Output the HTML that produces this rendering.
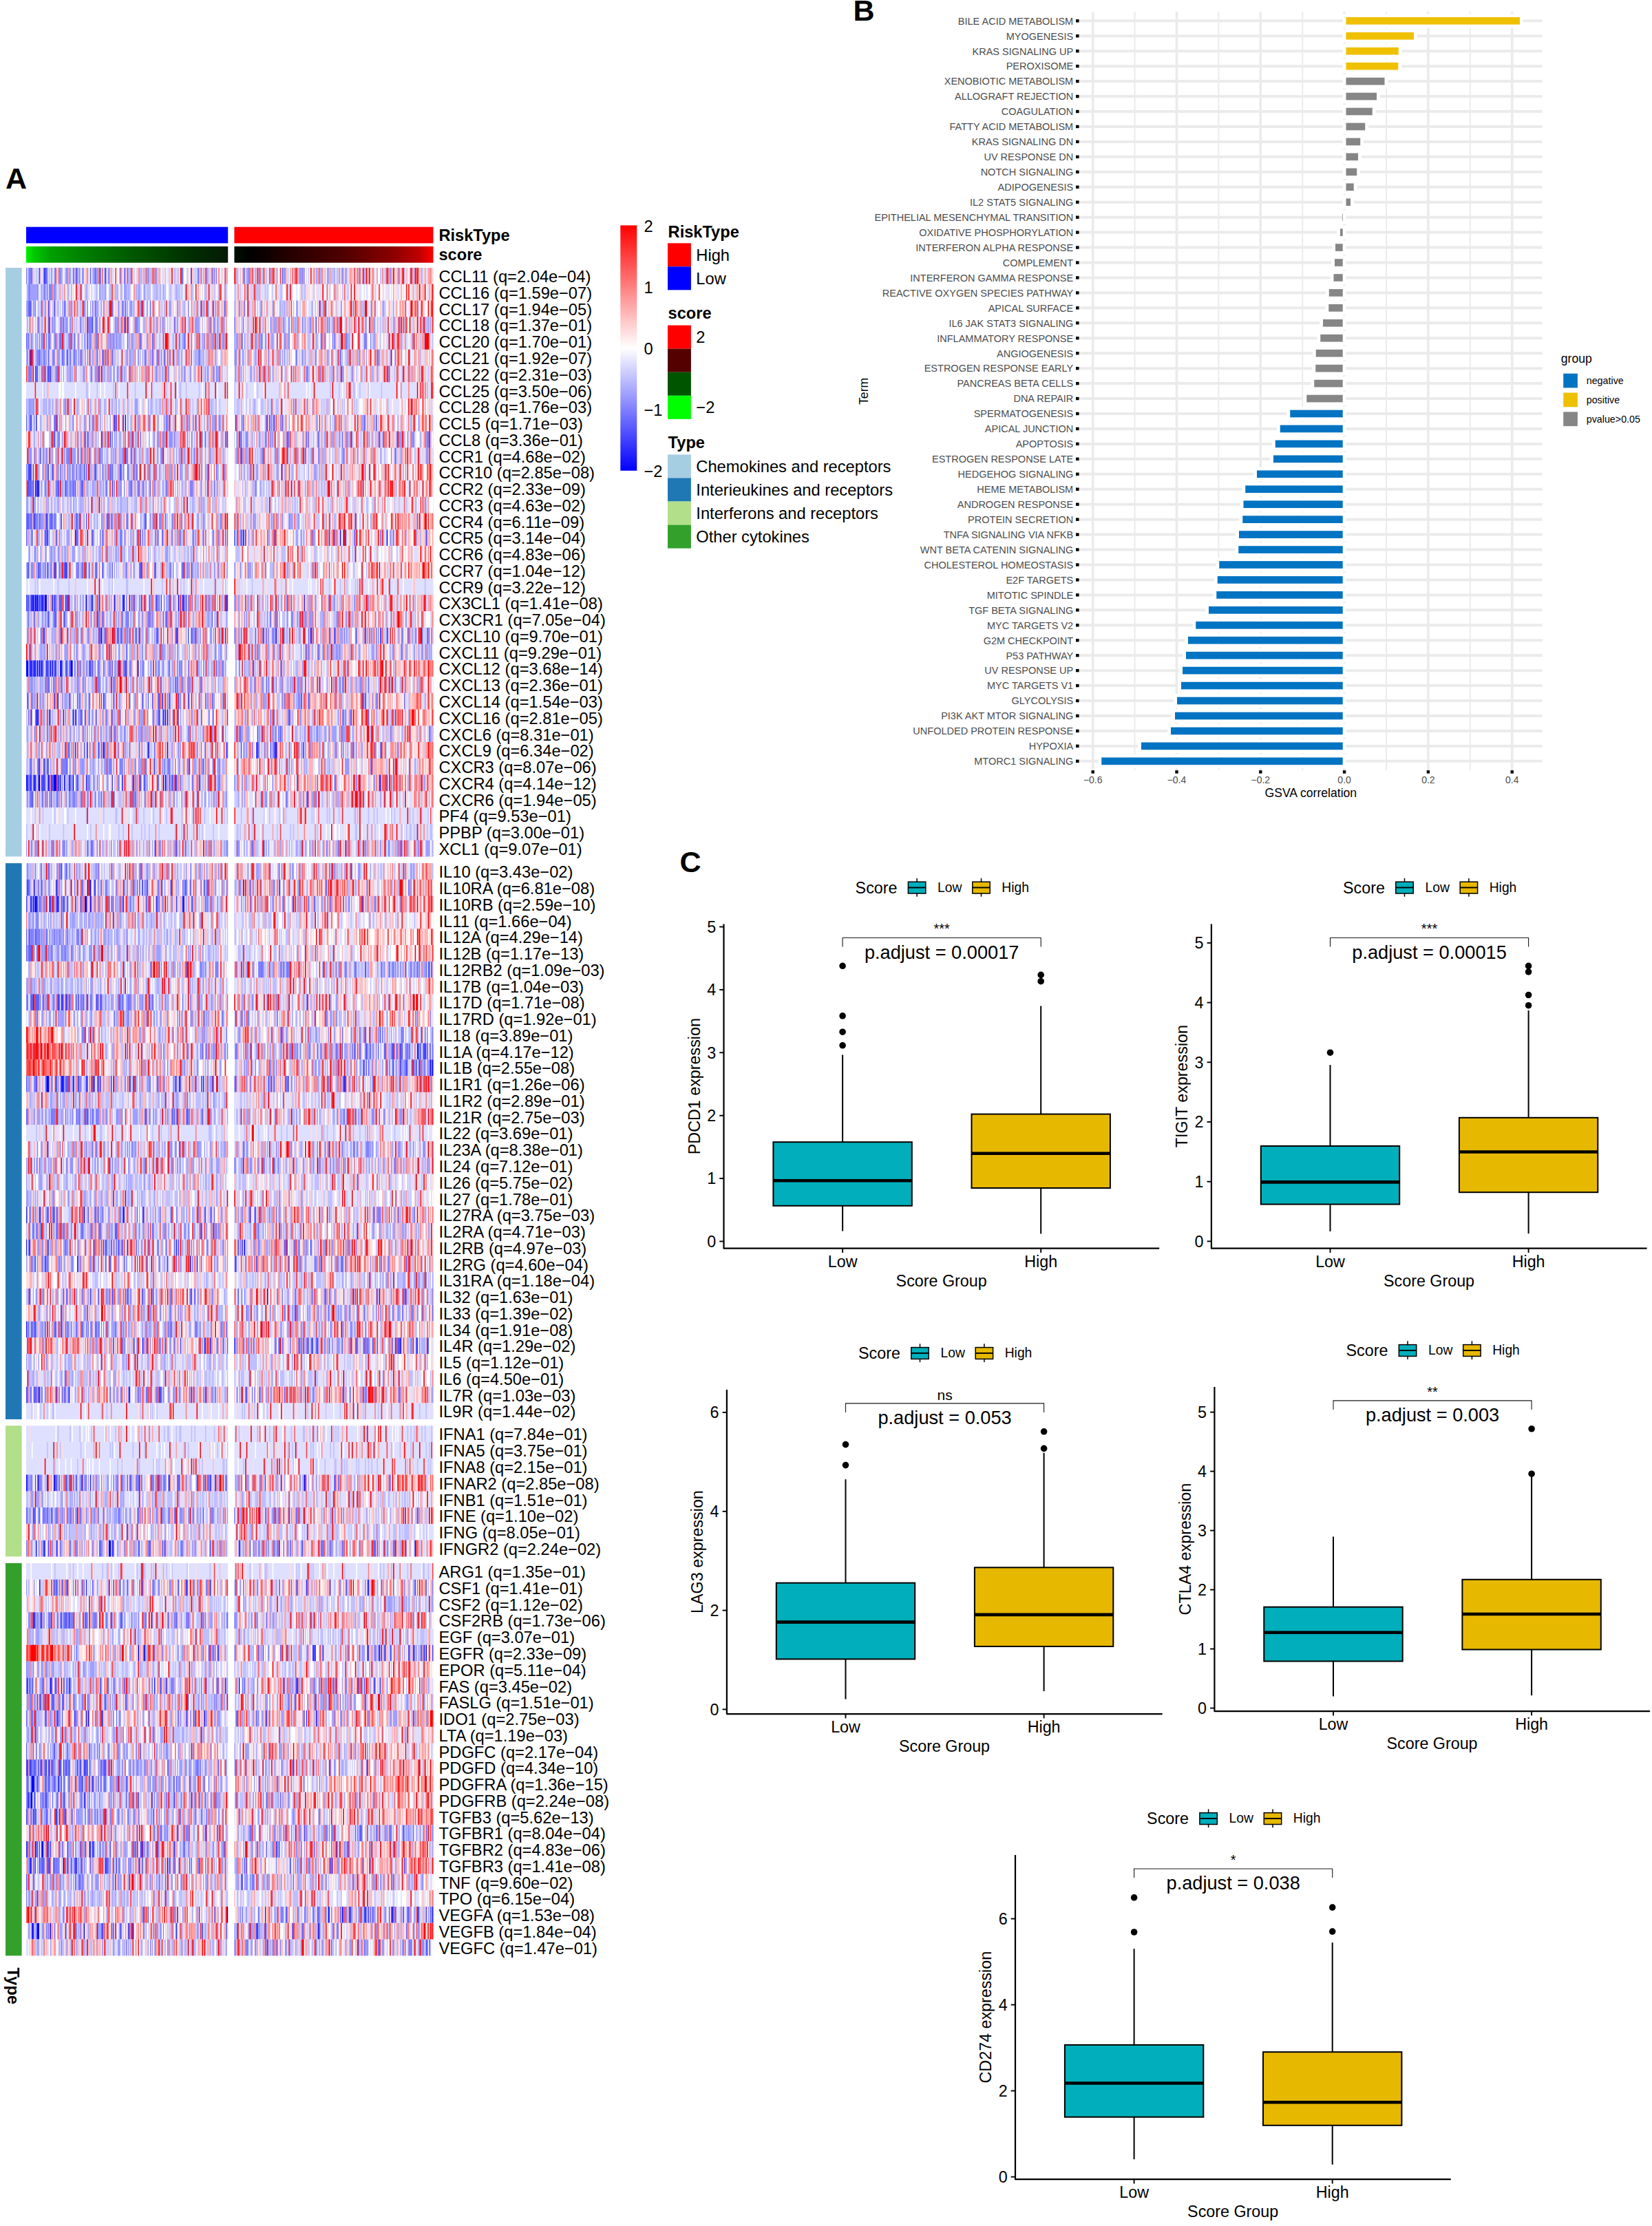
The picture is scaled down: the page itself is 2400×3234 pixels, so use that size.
<!DOCTYPE html>
<html><head><meta charset="utf-8"><title>Figure</title>
<style>
html,body{margin:0;padding:0;background:#fff}
body{width:2400px;height:3234px;overflow:hidden}
svg{display:block;font-family:"Liberation Sans",Arial,Helvetica,sans-serif;fill:#000}
</style></head><body>
<svg width="2400" height="3234" viewBox="0 0 2400 3234">
<defs>
<linearGradient id="gsl" x1="0" x2="1" y1="0" y2="0"><stop offset="0" stop-color="#00f000"/><stop offset="0.04" stop-color="#00c800"/><stop offset="0.12" stop-color="#00a000"/><stop offset="0.3" stop-color="#007c00"/><stop offset="0.55" stop-color="#005400"/><stop offset="0.8" stop-color="#003000"/><stop offset="1" stop-color="#061a06"/></linearGradient>
<linearGradient id="gsr" x1="0" x2="1" y1="0" y2="0"><stop offset="0" stop-color="#001000"/><stop offset="0.08" stop-color="#000000"/><stop offset="0.3" stop-color="#2a0000"/><stop offset="0.55" stop-color="#500000"/><stop offset="0.8" stop-color="#8c0000"/><stop offset="0.93" stop-color="#c00000"/><stop offset="1" stop-color="#ff0000"/></linearGradient>
<linearGradient id="gcb" x1="0" x2="0" y1="0" y2="1"><stop offset="0" stop-color="#ff0000"/><stop offset="0.5" stop-color="#ffffff"/><stop offset="1" stop-color="#0000ff"/></linearGradient>
</defs>
<g id="panelA">
<text x="8" y="274" font-size="43" font-weight="bold">A</text>
<rect x="38" y="329.7" width="293.2" height="23.7" fill="#0000ff"/>
<rect x="340.4" y="329.7" width="289.1" height="23.7" fill="#ff0000"/>
<rect x="38" y="358" width="293.2" height="23.7" fill="url(#gsl)"/>
<rect x="340.4" y="358" width="289.1" height="23.7" fill="url(#gsr)"/>
<text x="637.5" y="349.6" font-size="23.6" font-weight="bold">RiskType</text>
<text x="637.5" y="378" font-size="23.6" font-weight="bold">score</text>
<rect x="8" y="389" width="23.6" height="855.43" fill="#a6cee3"/>
<rect x="38" y="389" width="293.2" height="23.81" fill="#bfbfff"/>
<rect x="340.4" y="389" width="289.1" height="23.81" fill="#bfbfff"/>
<text x="637.5" y="410.18" font-size="23.7">CCL11 (q=2.04e−04)</text>
<rect x="38" y="412.76" width="293.2" height="23.81" fill="#dfdfff"/>
<rect x="340.4" y="412.76" width="289.1" height="23.81" fill="#dfdfff"/>
<text x="637.5" y="433.94" font-size="23.7">CCL16 (q=1.59e−07)</text>
<text x="637.5" y="457.7" font-size="23.7">CCL17 (q=1.94e−05)</text>
<rect x="38" y="460.29" width="293.2" height="23.81" fill="#bfbfff"/>
<rect x="340.4" y="460.29" width="289.1" height="23.81" fill="#bfbfff"/>
<text x="637.5" y="481.47" font-size="23.7">CCL18 (q=1.37e−01)</text>
<rect x="38" y="484.05" width="293.2" height="23.81" fill="#bfbfff"/>
<rect x="340.4" y="484.05" width="289.1" height="23.81" fill="#bfbfff"/>
<text x="637.5" y="505.23" font-size="23.7">CCL20 (q=1.70e−01)</text>
<rect x="38" y="507.81" width="293.2" height="23.81" fill="#bfbfff"/>
<rect x="340.4" y="507.81" width="289.1" height="23.81" fill="#bfbfff"/>
<text x="637.5" y="528.99" font-size="23.7">CCL21 (q=1.92e−07)</text>
<rect x="38" y="531.57" width="293.2" height="23.81" fill="#bfbfff"/>
<rect x="340.4" y="531.57" width="289.1" height="23.81" fill="#bfbfff"/>
<text x="637.5" y="552.75" font-size="23.7">CCL22 (q=2.31e−03)</text>
<rect x="38" y="555.33" width="293.2" height="23.81" fill="#dfdfff"/>
<rect x="340.4" y="555.33" width="289.1" height="23.81" fill="#dfdfff"/>
<text x="637.5" y="576.51" font-size="23.7">CCL25 (q=3.50e−06)</text>
<rect x="38" y="579.1" width="293.2" height="23.81" fill="#dfdfff"/>
<rect x="340.4" y="579.1" width="289.1" height="23.81" fill="#dfdfff"/>
<text x="637.5" y="600.28" font-size="23.7">CCL28 (q=1.76e−03)</text>
<text x="637.5" y="624.04" font-size="23.7">CCL5 (q=1.71e−03)</text>
<rect x="38" y="626.62" width="293.2" height="23.81" fill="#9f9fff"/>
<rect x="340.4" y="626.62" width="289.1" height="23.81" fill="#9f9fff"/>
<text x="637.5" y="647.8" font-size="23.7">CCL8 (q=3.36e−01)</text>
<rect x="38" y="650.38" width="293.2" height="23.81" fill="#9f9fff"/>
<rect x="340.4" y="650.38" width="289.1" height="23.81" fill="#9f9fff"/>
<text x="637.5" y="671.56" font-size="23.7">CCR1 (q=4.68e−02)</text>
<rect x="38" y="674.14" width="293.2" height="23.81" fill="#dfdfff"/>
<rect x="340.4" y="674.14" width="289.1" height="23.81" fill="#dfdfff"/>
<text x="637.5" y="695.32" font-size="23.7">CCR10 (q=2.85e−08)</text>
<rect x="38" y="697.91" width="293.2" height="23.81" fill="#bfbfff"/>
<rect x="340.4" y="697.91" width="289.1" height="23.81" fill="#bfbfff"/>
<text x="637.5" y="719.09" font-size="23.7">CCR2 (q=2.33e−09)</text>
<rect x="38" y="721.67" width="293.2" height="23.81" fill="#bfbfff"/>
<rect x="340.4" y="721.67" width="289.1" height="23.81" fill="#bfbfff"/>
<text x="637.5" y="742.85" font-size="23.7">CCR3 (q=4.63e−02)</text>
<rect x="38" y="745.43" width="293.2" height="23.81" fill="#dfdfff"/>
<rect x="340.4" y="745.43" width="289.1" height="23.81" fill="#dfdfff"/>
<text x="637.5" y="766.61" font-size="23.7">CCR4 (q=6.11e−09)</text>
<text x="637.5" y="790.37" font-size="23.7">CCR5 (q=3.14e−04)</text>
<rect x="38" y="792.95" width="293.2" height="23.81" fill="#dfdfff"/>
<rect x="340.4" y="792.95" width="289.1" height="23.81" fill="#dfdfff"/>
<text x="637.5" y="814.13" font-size="23.7">CCR6 (q=4.83e−06)</text>
<text x="637.5" y="837.9" font-size="23.7">CCR7 (q=1.04e−12)</text>
<rect x="38" y="840.48" width="293.2" height="23.81" fill="#dfdfff"/>
<rect x="340.4" y="840.48" width="289.1" height="23.81" fill="#dfdfff"/>
<text x="637.5" y="861.66" font-size="23.7">CCR9 (q=3.22e−12)</text>
<rect x="38" y="864.24" width="293.2" height="23.81" fill="#bfbfff"/>
<rect x="340.4" y="864.24" width="289.1" height="23.81" fill="#bfbfff"/>
<text x="637.5" y="885.42" font-size="23.7">CX3CL1 (q=1.41e−08)</text>
<rect x="38" y="888" width="293.2" height="23.81" fill="#bfbfff"/>
<rect x="340.4" y="888" width="289.1" height="23.81" fill="#bfbfff"/>
<text x="637.5" y="909.18" font-size="23.7">CX3CR1 (q=7.05e−04)</text>
<rect x="38" y="911.76" width="293.2" height="23.81" fill="#9f9fff"/>
<rect x="340.4" y="911.76" width="289.1" height="23.81" fill="#9f9fff"/>
<text x="637.5" y="932.94" font-size="23.7">CXCL10 (q=9.70e−01)</text>
<rect x="38" y="935.53" width="293.2" height="23.81" fill="#bfbfff"/>
<rect x="340.4" y="935.53" width="289.1" height="23.81" fill="#bfbfff"/>
<text x="637.5" y="956.71" font-size="23.7">CXCL11 (q=9.29e−01)</text>
<rect x="38" y="959.29" width="293.2" height="23.81" fill="#dfdfff"/>
<rect x="340.4" y="959.29" width="289.1" height="23.81" fill="#dfdfff"/>
<text x="637.5" y="980.47" font-size="23.7">CXCL12 (q=3.68e−14)</text>
<rect x="38" y="983.05" width="293.2" height="23.81" fill="#9f9fff"/>
<rect x="340.4" y="983.05" width="289.1" height="23.81" fill="#9f9fff"/>
<text x="637.5" y="1004.23" font-size="23.7">CXCL13 (q=2.36e−01)</text>
<text x="637.5" y="1027.99" font-size="23.7">CXCL14 (q=1.54e−03)</text>
<rect x="38" y="1030.57" width="293.2" height="23.81" fill="#ffdfdf"/>
<rect x="340.4" y="1030.57" width="289.1" height="23.81" fill="#ffdfdf"/>
<text x="637.5" y="1051.76" font-size="23.7">CXCL16 (q=2.81e−05)</text>
<rect x="38" y="1054.34" width="293.2" height="23.81" fill="#9f9fff"/>
<rect x="340.4" y="1054.34" width="289.1" height="23.81" fill="#9f9fff"/>
<text x="637.5" y="1075.52" font-size="23.7">CXCL6 (q=8.31e−01)</text>
<rect x="38" y="1078.1" width="293.2" height="23.81" fill="#dfdfff"/>
<rect x="340.4" y="1078.1" width="289.1" height="23.81" fill="#dfdfff"/>
<text x="637.5" y="1099.28" font-size="23.7">CXCL9 (q=6.34e−02)</text>
<rect x="38" y="1101.86" width="293.2" height="23.81" fill="#dfdfff"/>
<rect x="340.4" y="1101.86" width="289.1" height="23.81" fill="#dfdfff"/>
<text x="637.5" y="1123.04" font-size="23.7">CXCR3 (q=8.07e−06)</text>
<rect x="38" y="1125.62" width="293.2" height="23.81" fill="#dfdfff"/>
<rect x="340.4" y="1125.62" width="289.1" height="23.81" fill="#dfdfff"/>
<text x="637.5" y="1146.8" font-size="23.7">CXCR4 (q=4.14e−12)</text>
<rect x="38" y="1149.38" width="293.2" height="23.81" fill="#9f9fff"/>
<rect x="340.4" y="1149.38" width="289.1" height="23.81" fill="#9f9fff"/>
<text x="637.5" y="1170.57" font-size="23.7">CXCR6 (q=1.94e−05)</text>
<rect x="38" y="1173.15" width="293.2" height="23.81" fill="#dfdfff"/>
<rect x="340.4" y="1173.15" width="289.1" height="23.81" fill="#dfdfff"/>
<text x="637.5" y="1194.33" font-size="23.7">PF4 (q=9.53e−01)</text>
<rect x="38" y="1196.91" width="293.2" height="23.81" fill="#dfdfff"/>
<rect x="340.4" y="1196.91" width="289.1" height="23.81" fill="#dfdfff"/>
<text x="637.5" y="1218.09" font-size="23.7">PPBP (q=3.00e−01)</text>
<rect x="38" y="1220.67" width="293.2" height="23.81" fill="#9f9fff"/>
<rect x="340.4" y="1220.67" width="289.1" height="23.81" fill="#9f9fff"/>
<text x="637.5" y="1241.85" font-size="23.7">XCL1 (q=9.07e−01)</text>
<rect x="8" y="1254.1" width="23.6" height="807.91" fill="#1f78b4"/>
<rect x="38" y="1254.1" width="293.2" height="23.81" fill="#dfdfff"/>
<rect x="340.4" y="1254.1" width="289.1" height="23.81" fill="#dfdfff"/>
<text x="637.5" y="1275.28" font-size="23.7">IL10 (q=3.43e−02)</text>
<rect x="38" y="1277.86" width="293.2" height="23.81" fill="#dfdfff"/>
<rect x="340.4" y="1277.86" width="289.1" height="23.81" fill="#dfdfff"/>
<text x="637.5" y="1299.04" font-size="23.7">IL10RA (q=6.81e−08)</text>
<rect x="38" y="1301.62" width="293.2" height="23.81" fill="#bfbfff"/>
<rect x="340.4" y="1301.62" width="289.1" height="23.81" fill="#bfbfff"/>
<text x="637.5" y="1322.8" font-size="23.7">IL10RB (q=2.59e−10)</text>
<rect x="38" y="1325.39" width="293.2" height="23.81" fill="#bfbfff"/>
<rect x="340.4" y="1325.39" width="289.1" height="23.81" fill="#bfbfff"/>
<text x="637.5" y="1346.57" font-size="23.7">IL11 (q=1.66e−04)</text>
<text x="637.5" y="1370.33" font-size="23.7">IL12A (q=4.29e−14)</text>
<rect x="38" y="1372.91" width="293.2" height="23.81" fill="#bfbfff"/>
<rect x="340.4" y="1372.91" width="289.1" height="23.81" fill="#bfbfff"/>
<text x="637.5" y="1394.09" font-size="23.7">IL12B (q=1.17e−13)</text>
<rect x="38" y="1396.67" width="293.2" height="23.81" fill="#bfbfff"/>
<rect x="340.4" y="1396.67" width="289.1" height="23.81" fill="#bfbfff"/>
<text x="637.5" y="1417.85" font-size="23.7">IL12RB2 (q=1.09e−03)</text>
<rect x="38" y="1420.43" width="293.2" height="23.81" fill="#bfbfff"/>
<rect x="340.4" y="1420.43" width="289.1" height="23.81" fill="#bfbfff"/>
<text x="637.5" y="1441.62" font-size="23.7">IL17B (q=1.04e−03)</text>
<rect x="38" y="1444.2" width="293.2" height="23.81" fill="#bfbfff"/>
<rect x="340.4" y="1444.2" width="289.1" height="23.81" fill="#bfbfff"/>
<text x="637.5" y="1465.38" font-size="23.7">IL17D (q=1.71e−08)</text>
<text x="637.5" y="1489.14" font-size="23.7">IL17RD (q=1.92e−01)</text>
<text x="637.5" y="1512.9" font-size="23.7">IL18 (q=3.89e−01)</text>
<rect x="38" y="1515.48" width="293.2" height="23.81" fill="#bfbfff"/>
<rect x="340.4" y="1515.48" width="289.1" height="23.81" fill="#bfbfff"/>
<text x="637.5" y="1536.66" font-size="23.7">IL1A (q=4.17e−12)</text>
<text x="637.5" y="1560.42" font-size="23.7">IL1B (q=2.55e−08)</text>
<rect x="38" y="1563.01" width="293.2" height="23.81" fill="#bfbfff"/>
<rect x="340.4" y="1563.01" width="289.1" height="23.81" fill="#bfbfff"/>
<text x="637.5" y="1584.19" font-size="23.7">IL1R1 (q=1.26e−06)</text>
<rect x="38" y="1586.77" width="293.2" height="23.81" fill="#bfbfff"/>
<rect x="340.4" y="1586.77" width="289.1" height="23.81" fill="#bfbfff"/>
<text x="637.5" y="1607.95" font-size="23.7">IL1R2 (q=2.89e−01)</text>
<rect x="38" y="1610.53" width="293.2" height="23.81" fill="#9f9fff"/>
<rect x="340.4" y="1610.53" width="289.1" height="23.81" fill="#9f9fff"/>
<text x="637.5" y="1631.71" font-size="23.7">IL21R (q=2.75e−03)</text>
<rect x="38" y="1634.29" width="293.2" height="23.81" fill="#dfdfff"/>
<rect x="340.4" y="1634.29" width="289.1" height="23.81" fill="#dfdfff"/>
<text x="637.5" y="1655.47" font-size="23.7">IL22 (q=3.69e−01)</text>
<rect x="38" y="1658.05" width="293.2" height="23.81" fill="#bfbfff"/>
<rect x="340.4" y="1658.05" width="289.1" height="23.81" fill="#bfbfff"/>
<text x="637.5" y="1679.23" font-size="23.7">IL23A (q=8.38e−01)</text>
<rect x="38" y="1681.82" width="293.2" height="23.81" fill="#9f9fff"/>
<rect x="340.4" y="1681.82" width="289.1" height="23.81" fill="#9f9fff"/>
<text x="637.5" y="1703" font-size="23.7">IL24 (q=7.12e−01)</text>
<rect x="38" y="1705.58" width="293.2" height="23.81" fill="#bfbfff"/>
<rect x="340.4" y="1705.58" width="289.1" height="23.81" fill="#bfbfff"/>
<text x="637.5" y="1726.76" font-size="23.7">IL26 (q=5.75e−02)</text>
<rect x="38" y="1729.34" width="293.2" height="23.81" fill="#bfbfff"/>
<rect x="340.4" y="1729.34" width="289.1" height="23.81" fill="#bfbfff"/>
<text x="637.5" y="1750.52" font-size="23.7">IL27 (q=1.78e−01)</text>
<rect x="38" y="1753.1" width="293.2" height="23.81" fill="#dfdfff"/>
<rect x="340.4" y="1753.1" width="289.1" height="23.81" fill="#dfdfff"/>
<text x="637.5" y="1774.28" font-size="23.7">IL27RA (q=3.75e−03)</text>
<rect x="38" y="1776.86" width="293.2" height="23.81" fill="#bfbfff"/>
<rect x="340.4" y="1776.86" width="289.1" height="23.81" fill="#bfbfff"/>
<text x="637.5" y="1798.05" font-size="23.7">IL2RA (q=4.71e−03)</text>
<rect x="38" y="1800.63" width="293.2" height="23.81" fill="#dfdfff"/>
<rect x="340.4" y="1800.63" width="289.1" height="23.81" fill="#dfdfff"/>
<text x="637.5" y="1821.81" font-size="23.7">IL2RB (q=4.97e−03)</text>
<text x="637.5" y="1845.57" font-size="23.7">IL2RG (q=4.60e−04)</text>
<rect x="38" y="1848.15" width="293.2" height="23.81" fill="#dfdfff"/>
<rect x="340.4" y="1848.15" width="289.1" height="23.81" fill="#dfdfff"/>
<text x="637.5" y="1869.33" font-size="23.7">IL31RA (q=1.18e−04)</text>
<rect x="38" y="1871.91" width="293.2" height="23.81" fill="#dfdfff"/>
<rect x="340.4" y="1871.91" width="289.1" height="23.81" fill="#dfdfff"/>
<text x="637.5" y="1893.09" font-size="23.7">IL32 (q=1.63e−01)</text>
<rect x="38" y="1895.67" width="293.2" height="23.81" fill="#dfdfff"/>
<rect x="340.4" y="1895.67" width="289.1" height="23.81" fill="#dfdfff"/>
<text x="637.5" y="1916.86" font-size="23.7">IL33 (q=1.39e−02)</text>
<rect x="38" y="1919.44" width="293.2" height="23.81" fill="#bfbfff"/>
<rect x="340.4" y="1919.44" width="289.1" height="23.81" fill="#bfbfff"/>
<text x="637.5" y="1940.62" font-size="23.7">IL34 (q=1.91e−08)</text>
<rect x="38" y="1943.2" width="293.2" height="23.81" fill="#bfbfff"/>
<rect x="340.4" y="1943.2" width="289.1" height="23.81" fill="#bfbfff"/>
<text x="637.5" y="1964.38" font-size="23.7">IL4R (q=1.29e−02)</text>
<rect x="38" y="1966.96" width="293.2" height="23.81" fill="#bfbfff"/>
<rect x="340.4" y="1966.96" width="289.1" height="23.81" fill="#bfbfff"/>
<text x="637.5" y="1988.14" font-size="23.7">IL5 (q=1.12e−01)</text>
<rect x="38" y="1990.72" width="293.2" height="23.81" fill="#bfbfff"/>
<rect x="340.4" y="1990.72" width="289.1" height="23.81" fill="#bfbfff"/>
<text x="637.5" y="2011.9" font-size="23.7">IL6 (q=4.50e−01)</text>
<rect x="38" y="2014.48" width="293.2" height="23.81" fill="#dfdfff"/>
<rect x="340.4" y="2014.48" width="289.1" height="23.81" fill="#dfdfff"/>
<text x="637.5" y="2035.66" font-size="23.7">IL7R (q=1.03e−03)</text>
<rect x="38" y="2038.25" width="293.2" height="23.81" fill="#dfdfff"/>
<rect x="340.4" y="2038.25" width="289.1" height="23.81" fill="#dfdfff"/>
<text x="637.5" y="2059.43" font-size="23.7">IL9R (q=1.44e−02)</text>
<rect x="8" y="2071.3" width="23.6" height="190.1" fill="#b2df8a"/>
<rect x="38" y="2071.3" width="293.2" height="23.81" fill="#dfdfff"/>
<rect x="340.4" y="2071.3" width="289.1" height="23.81" fill="#dfdfff"/>
<text x="637.5" y="2092.48" font-size="23.7">IFNA1 (q=7.84e−01)</text>
<rect x="38" y="2095.06" width="293.2" height="23.81" fill="#dfdfff"/>
<rect x="340.4" y="2095.06" width="289.1" height="23.81" fill="#dfdfff"/>
<text x="637.5" y="2116.24" font-size="23.7">IFNA5 (q=3.75e−01)</text>
<rect x="38" y="2118.82" width="293.2" height="23.81" fill="#dfdfff"/>
<rect x="340.4" y="2118.82" width="289.1" height="23.81" fill="#dfdfff"/>
<text x="637.5" y="2140.01" font-size="23.7">IFNA8 (q=2.15e−01)</text>
<rect x="38" y="2142.59" width="293.2" height="23.81" fill="#dfdfff"/>
<rect x="340.4" y="2142.59" width="289.1" height="23.81" fill="#dfdfff"/>
<text x="637.5" y="2163.77" font-size="23.7">IFNAR2 (q=2.85e−08)</text>
<rect x="38" y="2166.35" width="293.2" height="23.81" fill="#bfbfff"/>
<rect x="340.4" y="2166.35" width="289.1" height="23.81" fill="#bfbfff"/>
<text x="637.5" y="2187.53" font-size="23.7">IFNB1 (q=1.51e−01)</text>
<rect x="38" y="2190.11" width="293.2" height="23.81" fill="#9f9fff"/>
<rect x="340.4" y="2190.11" width="289.1" height="23.81" fill="#9f9fff"/>
<text x="637.5" y="2211.29" font-size="23.7">IFNE (q=1.10e−02)</text>
<rect x="38" y="2213.87" width="293.2" height="23.81" fill="#bfbfff"/>
<rect x="340.4" y="2213.87" width="289.1" height="23.81" fill="#bfbfff"/>
<text x="637.5" y="2235.05" font-size="23.7">IFNG (q=8.05e−01)</text>
<rect x="38" y="2237.63" width="293.2" height="23.81" fill="#bfbfff"/>
<rect x="340.4" y="2237.63" width="289.1" height="23.81" fill="#bfbfff"/>
<text x="637.5" y="2258.82" font-size="23.7">IFNGR2 (q=2.24e−02)</text>
<rect x="8" y="2271" width="23.6" height="570.29" fill="#33a02c"/>
<rect x="38" y="2271" width="293.2" height="23.81" fill="#dfdfff"/>
<rect x="340.4" y="2271" width="289.1" height="23.81" fill="#dfdfff"/>
<text x="637.5" y="2292.18" font-size="23.7">ARG1 (q=1.35e−01)</text>
<text x="637.5" y="2315.94" font-size="23.7">CSF1 (q=1.41e−01)</text>
<rect x="38" y="2318.52" width="293.2" height="23.81" fill="#bfbfff"/>
<rect x="340.4" y="2318.52" width="289.1" height="23.81" fill="#bfbfff"/>
<text x="637.5" y="2339.7" font-size="23.7">CSF2 (q=1.12e−02)</text>
<rect x="38" y="2342.29" width="293.2" height="23.81" fill="#bfbfff"/>
<rect x="340.4" y="2342.29" width="289.1" height="23.81" fill="#bfbfff"/>
<text x="637.5" y="2363.47" font-size="23.7">CSF2RB (q=1.73e−06)</text>
<rect x="38" y="2366.05" width="293.2" height="23.81" fill="#bfbfff"/>
<rect x="340.4" y="2366.05" width="289.1" height="23.81" fill="#bfbfff"/>
<text x="637.5" y="2387.23" font-size="23.7">EGF (q=3.07e−01)</text>
<text x="637.5" y="2410.99" font-size="23.7">EGFR (q=2.33e−09)</text>
<rect x="38" y="2413.57" width="293.2" height="23.81" fill="#dfdfff"/>
<rect x="340.4" y="2413.57" width="289.1" height="23.81" fill="#dfdfff"/>
<text x="637.5" y="2434.75" font-size="23.7">EPOR (q=5.11e−04)</text>
<text x="637.5" y="2458.51" font-size="23.7">FAS (q=3.45e−02)</text>
<rect x="38" y="2461.1" width="293.2" height="23.81" fill="#dfdfff"/>
<rect x="340.4" y="2461.1" width="289.1" height="23.81" fill="#dfdfff"/>
<text x="637.5" y="2482.28" font-size="23.7">FASLG (q=1.51e−01)</text>
<rect x="38" y="2484.86" width="293.2" height="23.81" fill="#ffdfdf"/>
<rect x="340.4" y="2484.86" width="289.1" height="23.81" fill="#ffdfdf"/>
<text x="637.5" y="2506.04" font-size="23.7">IDO1 (q=2.75e−03)</text>
<rect x="38" y="2508.62" width="293.2" height="23.81" fill="#bfbfff"/>
<rect x="340.4" y="2508.62" width="289.1" height="23.81" fill="#bfbfff"/>
<text x="637.5" y="2529.8" font-size="23.7">LTA (q=1.19e−03)</text>
<text x="637.5" y="2553.56" font-size="23.7">PDGFC (q=2.17e−04)</text>
<rect x="38" y="2556.14" width="293.2" height="23.81" fill="#9f9fff"/>
<rect x="340.4" y="2556.14" width="289.1" height="23.81" fill="#9f9fff"/>
<text x="637.5" y="2577.33" font-size="23.7">PDGFD (q=4.34e−10)</text>
<text x="637.5" y="2601.09" font-size="23.7">PDGFRA (q=1.36e−15)</text>
<rect x="38" y="2603.67" width="293.2" height="23.81" fill="#bfbfff"/>
<rect x="340.4" y="2603.67" width="289.1" height="23.81" fill="#bfbfff"/>
<text x="637.5" y="2624.85" font-size="23.7">PDGFRB (q=2.24e−08)</text>
<rect x="38" y="2627.43" width="293.2" height="23.81" fill="#dfdfff"/>
<rect x="340.4" y="2627.43" width="289.1" height="23.81" fill="#dfdfff"/>
<text x="637.5" y="2648.61" font-size="23.7">TGFB3 (q=5.62e−13)</text>
<rect x="38" y="2651.19" width="293.2" height="23.81" fill="#bfbfff"/>
<rect x="340.4" y="2651.19" width="289.1" height="23.81" fill="#bfbfff"/>
<text x="637.5" y="2672.37" font-size="23.7">TGFBR1 (q=8.04e−04)</text>
<rect x="38" y="2674.95" width="293.2" height="23.81" fill="#dfdfff"/>
<rect x="340.4" y="2674.95" width="289.1" height="23.81" fill="#dfdfff"/>
<text x="637.5" y="2696.14" font-size="23.7">TGFBR2 (q=4.83e−06)</text>
<rect x="38" y="2698.72" width="293.2" height="23.81" fill="#dfdfff"/>
<rect x="340.4" y="2698.72" width="289.1" height="23.81" fill="#dfdfff"/>
<text x="637.5" y="2719.9" font-size="23.7">TGFBR3 (q=1.41e−08)</text>
<rect x="38" y="2722.48" width="293.2" height="23.81" fill="#bfbfff"/>
<rect x="340.4" y="2722.48" width="289.1" height="23.81" fill="#bfbfff"/>
<text x="637.5" y="2743.66" font-size="23.7">TNF (q=9.60e−02)</text>
<rect x="38" y="2746.24" width="293.2" height="23.81" fill="#dfdfff"/>
<rect x="340.4" y="2746.24" width="289.1" height="23.81" fill="#dfdfff"/>
<text x="637.5" y="2767.42" font-size="23.7">TPO (q=6.15e−04)</text>
<rect x="38" y="2770" width="293.2" height="23.81" fill="#dfdfff"/>
<rect x="340.4" y="2770" width="289.1" height="23.81" fill="#dfdfff"/>
<text x="637.5" y="2791.18" font-size="23.7">VEGFA (q=1.53e−08)</text>
<rect x="38" y="2793.76" width="293.2" height="23.81" fill="#dfdfff"/>
<rect x="340.4" y="2793.76" width="289.1" height="23.81" fill="#dfdfff"/>
<text x="637.5" y="2814.95" font-size="23.7">VEGFB (q=1.84e−04)</text>
<rect x="38" y="2817.53" width="293.2" height="23.81" fill="#dfdfff"/>
<rect x="340.4" y="2817.53" width="289.1" height="23.81" fill="#dfdfff"/>
<text x="637.5" y="2838.71" font-size="23.7">VEGFC (q=1.47e−01)</text>
<path transform="translate(38 0) scale(1.57634 1)" stroke="#0000ff" stroke-width="23.81" fill="none" d="M0 519.69m3 0h1M0 614.74m89 0h1m1 0h1M0 781.07m19 0h1m25 0h1m10 0h1M0 876.12m6 0h1m1 0h1m1 0h1m4 0h1m1 0h2m36 0h1m25 0h1m7 0h1m5 0h1m44 0h1m3 0h1M0 923.64m16 0h1m52 0h1M0 971.17h2m2 0h1m2 0h1m2 0h1m1 0h1m1 0h1m7 0h1m1 0h1m16 0h2M0 1018.69m1 0h1m123 0h1M0 1042.46m4 0h1m4 0h1m11 0h1m21 0h1m86 0h1M0 1089.98m56 0h1m14 0h1m40 0h1m17 0h1M0 1137.5h1m3 0h1m2 0h1m3 0h2m7 0h1m2 0h1m1 0h3m1 0h1m1 0h1m3 0h1m7 0h1m44 0h1m9 0h1m22 0h1m4 0h1m1 0h1M0 1289.74m1 0h1m5 0h1m33 0h1m14 0h1m6 0h1m43 0h1m3 0h1M0 1313.5m4 0h1m3 0h2m19 0h1m24 0h2m3 0h1m29 0h1m30 0h1M0 1574.89m19 0h2m6 0h1m5 0h1m9 0h1m18 0h1m17 0h1m60 0h1M0 1764.98m53 0h1m35 0h1M0 1836.27m17 0h1m29 0h1m14 0h1m88 0h1m5 0h1M0 1955.08m107 0h1M0 2026.37m39 0h1m55 0h1M0 2154.47h1m10 0h1m7 0h1m6 0h1m24 0h1m79 0h1m42 0h1M0 2249.51m16 0h1m11 0h1m47 0h2M0 2306.64m76 0h1M0 2354.17m7 0h1M0 2401.69m103 0h1m5 0h1M0 2449.21m1 0h1m1 0h1m18 0h1m4 0h1m101 0h1M0 2496.74m28 0h1m28 0h1m106 0h1M0 2591.79m5 0h2m22 0h1M0 2615.55m4 0h2M0 2686.84m8 0h1m5 0h2m42 0h1m2 0h1M0 2710.6m4 0h1m29 0h1m38 0h1m56 0h1M0 2781.88m139 0h1m45 0h1M0 2805.64m10 0h2m10 0h1m30 0h1m40 0h1m3 0h1"/>
<path transform="translate(38 0) scale(1.57634 1)" stroke="#2020ff" stroke-width="23.81" fill="none" d="M0 614.74m4 0h1m4 0h1m18 0h1m52 0h1m74 0h1M0 686.02m2 0h1M0 709.79m1 0h1m6 0h1m1 0h2m17 0h1M0 757.31m7 0h1M0 781.07m17 0h1m103 0h1M0 828.6m11 0h1m14 0h1m37 0h1M0 876.12m5 0h1m3 0h1m4 0h1m9 0h1m1 0h1m9 0h1m2 0h1m20 0h1m6 0h1m22 0h1m8 0h1m84 0h1M0 923.64m38 0h1m45 0h1m54 0h1m43 0h1M0 971.17m3 0h1m4 0h1m10 0h1m11 0h2m4 0h1m20 0h1M0 1018.69m26 0h1m22 0h1m21 0h1m35 0h1m24 0h1m16 0h1M0 1042.46m10 0h1m23 0h1m10 0h1m8 0h1m67 0h1m3 0h1m1 0h1M0 1089.98m45 0h1M0 1113.74m16 0h1M0 1137.5m1 0h1m6 0h1m5 0h1m1 0h1m23 0h1m14 0h1m78 0h1m2 0h1m21 0h1M0 1289.74m28 0h1m18 0h1m10 0h2M0 1313.5m6 0h1m14 0h1m6 0h1m21 0h1m93 0h2M0 1456.08m6 0h1m8 0h1m17 0h1M0 1574.89m9 0h1m22 0h1m1 0h1m4 0h1m8 0h1m17 0h1m1 0h1m9 0h1m16 0h1m60 0h1m6 0h1M0 1764.98h1m2 0h1m8 0h1m12 0h1m2 0h1M0 1812.51h1m61 0h1m10 0h1m11 0h1m2 0h1m4 0h1m44 0h1M0 1836.27m115 0h1M0 1883.79m3 0h1m103 0h1M0 1931.32h1m16 0h1M0 1955.08m80 0h1m18 0h1m11 0h1m52 0h1m4 0h1M0 2026.37m11 0h1m15 0h1m95 0h1M0 2154.47m41 0h1m17 0h1m44 0h1m16 0h1m45 0h1m1 0h1M0 2249.51m9 0h1m159 0h1M0 2306.64m12 0h1m15 0h1m26 0h1m30 0h1m82 0h1M0 2354.17m39 0h1M0 2401.69m108 0h1m45 0h1M0 2449.21m5 0h1m9 0h1m7 0h1m8 0h1m35 0h1m49 0h1m64 0h1M0 2496.74m5 0h1m49 0h1M0 2568.03m3 0h1m9 0h1m4 0h1m2 0h1M0 2591.79m7 0h1m43 0h1m9 0h1M0 2615.55m2 0h1M0 2639.31m28 0h1m1 0h1M0 2686.84h1m18 0h1m18 0h1m11 0h1m3 0h1m52 0h1m28 0h1M0 2710.6m3 0h1m17 0h1m16 0h1m93 0h1M0 2781.88m159 0h1M0 2805.64m5 0h2m29 0h1m33 0h1m67 0h1"/>
<path transform="translate(38 0) scale(1.57634 1)" stroke="#4040ff" stroke-width="23.81" fill="none" d="M0 400.88m12 0h1m3 0h2m28 0h1m26 0h1M0 448.4m20 0h1m5 0h1m8 0h1m70 0h1M0 495.93m56 0h1M0 519.69m50 0h1m19 0h1m56 0h1M0 543.45m8 0h1m11 0h1m1 0h1M0 614.74m26 0h1m102 0h1m2 0h1M0 638.5m26 0h1m50 0h1M0 686.02m3 0h2m1 0h1m8 0h1m4 0h1m3 0h1m28 0h1m9 0h1m23 0h1m11 0h1m68 0h1M0 709.79m6 0h1m2 0h1m26 0h1m14 0h1m27 0h1M0 757.31m1 0h1m2 0h1m13 0h2m3 0h1m8 0h1m13 0h1m8 0h1m41 0h1M0 781.07m5 0h1m21 0h1m42 0h1m16 0h1m17 0h1m13 0h1m5 0h1m4 0h1m3 0h1m37 0h1M0 828.6m1 0h1m15 0h1m1 0h1m7 0h1m7 0h3m32 0h1m34 0h1m46 0h1M0 876.12h1m3 0h1m7 0h1m48 0h1m35 0h1m15 0h1m6 0h1m3 0h1m20 0h1m1 0h1m35 0h1M0 899.88m20 0h1m6 0h1m7 0h1m93 0h1M0 923.64m80 0h1m6 0h1m13 0h1m18 0h1m17 0h1m10 0h1m2 0h1m3 0h1M0 971.17m5 0h1m12 0h1m7 0h2m12 0h1m20 0h1m29 0h2m10 0h1m15 0h1M0 994.93m25 0h1M0 1018.69m5 0h1m23 0h1m10 0h1m6 0h1m10 0h1m21 0h1m14 0h1m20 0h1m11 0h1m11 0h1m11 0h1m12 0h1m17 0h1M0 1042.46m11 0h1m38 0h1m13 0h1m21 0h1m74 0h1m10 0h1m12 0h1M0 1089.98m39 0h1m13 0h1m12 0h1m15 0h1M0 1113.74m4 0h1m6 0h2m24 0h1m36 0h1m43 0h1M0 1137.5m3 0h1m11 0h1m5 0h1m17 0h1m7 0h1m31 0h1m25 0h1m3 0h1m22 0h1m5 0h1m14 0h1m14 0h1m5 0h1M0 1161.27m5 0h1m74 0h1M0 1232.55m138 0h1M0 1265.98m32 0h1m4 0h1M0 1289.74m14 0h1m12 0h1m8 0h1m72 0h1m23 0h1m17 0h1m12 0h1M0 1313.5h1m21 0h1m11 0h1m3 0h1m6 0h1m64 0h1m2 0h1m24 0h1M0 1456.08m29 0h2m1 0h1m3 0h2m10 0h1m1 0h1m1 0h1m15 0h1m17 0h1M0 1574.89m18 0h1m18 0h1m17 0h2m41 0h1m1 0h1m20 0h1m15 0h1m23 0h1m5 0h1m3 0h1m4 0h1M0 1622.41m56 0h1m4 0h1m48 0h1m23 0h1m13 0h1M0 1693.7m58 0h1M0 1764.98m63 0h1m26 0h1m16 0h2m49 0h1m11 0h1M0 1788.75m28 0h1m53 0h1M0 1812.51m2 0h2m16 0h1m50 0h1m6 0h1m34 0h1m7 0h1m18 0h1M0 1836.27m5 0h1m2 0h1m60 0h1m3 0h1m3 0h1m12 0h1m20 0h1m18 0h1M0 1883.79m34 0h1m2 0h1m21 0h1m6 0h1m12 0h1m13 0h1m58 0h1m2 0h1M0 1931.32m5 0h1m2 0h1m18 0h1m36 0h1m68 0h1M0 1955.08m88 0h1m34 0h1m4 0h1m13 0h1m38 0h1M0 2026.37h1m3 0h1m2 0h1m4 0h1m22 0h1M0 2154.47m8 0h1m16 0h1m4 0h1m6 0h1m8 0h1m49 0h1m18 0h1m23 0h1m17 0h1m26 0h1M0 2201.99m6 0h1m16 0h1M0 2249.51m20 0h1m58 0h2M0 2306.64m25 0h1m7 0h1m3 0h1m23 0h1m18 0h1m12 0h1m13 0h1m32 0h1m6 0h2m17 0h1M0 2354.17m6 0h1m6 0h2m17 0h1m10 0h1m23 0h1m19 0h1M0 2401.69m168 0h1m3 0h1m4 0h1M0 2449.21m37 0h1m1 0h2m34 0h1m14 0h1m32 0h1M0 2472.98m13 0h1M0 2496.74m8 0h1m35 0h1m24 0h2m57 0h1m25 0h1M0 2544.26m58 0h1m46 0h1M0 2568.03h2m2 0h1m6 0h1m11 0h1m6 0h2m2 0h1m4 0h1m7 0h1m2 0h1m2 0h2m1 0h1m15 0h1M0 2591.79m1 0h1m8 0h1m6 0h1m3 0h1m10 0h1m6 0h1m5 0h1m3 0h1m16 0h1m5 0h1m19 0h1M0 2615.55m1 0h1m5 0h1m7 0h1m2 0h1m16 0h1m17 0h2m48 0h1m32 0h1M0 2639.31h1m3 0h1m1 0h1m1 0h1m18 0h1m26 0h1m18 0h1m43 0h1m23 0h1M0 2686.84m3 0h1m8 0h1m7 0h1m1 0h1m54 0h1m22 0h1m4 0h1m13 0h1m1 0h1m4 0h1m18 0h1m36 0h1M0 2710.6m8 0h1m3 0h1m12 0h1m15 0h1m3 0h2m33 0h1m2 0h1m23 0h1m51 0h1M0 2734.36m49 0h1M0 2805.64m80 0h1m27 0h1m53 0h1m21 0h1"/>
<path transform="translate(38 0) scale(1.57634 1)" stroke="#6060ff" stroke-width="23.81" fill="none" d="M0 400.88m4 0h1m13 0h1m24 0h1m8 0h1m6 0h1m3 0h1m3 0h2m3 0h1m13 0h1m3 0h1m2 0h1m49 0h1m14 0h1m12 0h1M0 448.4m2 0h3m9 0h1m2 0h1m43 0h1m1 0h1m12 0h1m2 0h1m11 0h1m22 0h1m2 0h1m49 0h1M0 472.17m11 0h1m8 0h1m13 0h1m15 0h1m9 0h2m2 0h1m25 0h1m45 0h1M0 495.93h1m1 0h1m11 0h1m6 0h1m9 0h1m12 0h1m48 0h1m11 0h1m10 0h1m24 0h1m4 0h1M0 519.69m12 0h1m3 0h1m3 0h1m12 0h1m3 0h2m1 0h1m3 0h1m20 0h1m7 0h1m5 0h1m29 0h1m6 0h1m4 0h1m8 0h1m1 0h1m19 0h1m6 0h1M0 543.45m2 0h1m1 0h1m4 0h2m10 0h1m8 0h1m29 0h1m5 0h1m100 0h1M0 614.74h1m2 0h1m54 0h1m2 0h1m20 0h2m29 0h1m7 0h1m26 0h1m18 0h1m6 0h1m3 0h1M0 638.5m30 0h1m25 0h1m48 0h1m15 0h1m39 0h1m3 0h1m17 0h1M0 662.26m13 0h1m23 0h1m1 0h1m10 0h1m16 0h1m29 0h1m1 0h1M0 686.02m8 0h1m20 0h1m1 0h1m6 0h1m1 0h1m5 0h1m8 0h1m2 0h1m5 0h1m5 0h1m6 0h1m1 0h1m6 0h1m6 0h1m7 0h1m11 0h1m61 0h1m6 0h1M0 709.79m2 0h3m12 0h1m9 0h1m12 0h1m2 0h1m1 0h1m19 0h1m8 0h1m12 0h1m9 0h1m5 0h1m10 0h1m14 0h1m43 0h1M0 757.31h1m1 0h1m5 0h1m3 0h1m9 0h1m3 0h1m47 0h2m2 0h1m14 0h1m15 0h2m6 0h1m1 0h1m3 0h1m4 0h1m5 0h1m8 0h1m35 0h1M0 781.07h1m9 0h1m35 0h2m12 0h2m6 0h1m33 0h1m4 0h1m1 0h1m31 0h1m21 0h1m1 0h1m17 0h1M0 828.6m2 0h1m2 0h1m7 0h1m1 0h1m14 0h1m15 0h1m4 0h1m3 0h1m2 0h1m20 0h1m12 0h1m6 0h1m4 0h1m13 0h2m24 0h1m3 0h1M0 876.12m1 0h2m4 0h1m3 0h1m1 0h1m16 0h3m4 0h1m14 0h1m66 0h1m2 0h1m10 0h1m34 0h1m5 0h1m5 0h1M0 899.88m7 0h1m18 0h1m5 0h1m37 0h1m17 0h1m24 0h1m12 0h1m20 0h1m23 0h1M0 923.64m1 0h1m66 0h1m3 0h1m48 0h1m48 0h1m7 0h1M0 947.41m78 0h1m13 0h1M0 971.17m6 0h1m6 0h1m1 0h1m4 0h1m15 0h1m22 0h1m3 0h1m2 0h1m4 0h1m7 0h1m4 0h1m5 0h1m16 0h1m14 0h1m8 0h1m9 0h1m1 0h1m5 0h1m25 0h1m5 0h1M0 994.93m20 0h1m31 0h1m84 0h1m1 0h1M0 1018.69m15 0h1m51 0h1m1 0h1m42 0h1m8 0h2m44 0h1m3 0h1m9 0h1M0 1042.46m2 0h1m45 0h1m2 0h1m6 0h1m20 0h1m11 0h1m25 0h1m17 0h1m4 0h1m27 0h1M0 1066.22m19 0h1m3 0h1m28 0h1m28 0h1M0 1089.98m72 0h1m22 0h1m8 0h1m13 0h1m38 0h1m16 0h1m9 0h2M0 1113.74m19 0h2m19 0h1m37 0h1m9 0h1m11 0h1m9 0h1m16 0h1m3 0h1m31 0h1m8 0h1m5 0h1M0 1137.5m17 0h1m6 0h1m21 0h1m15 0h1m45 0h1m2 0h1m30 0h1M0 1161.27m3 0h1m11 0h1m7 0h1m4 0h1m34 0h1m5 0h1m8 0h1m21 0h1m8 0h1m44 0h1M0 1232.55m56 0h1m3 0h1m62 0h1m22 0h1M0 1265.98m1 0h1m18 0h1m7 0h1m1 0h1m33 0h1m1 0h1m38 0h2m4 0h1m68 0h1M0 1289.74m11 0h1m39 0h1m17 0h1m3 0h1m9 0h1m6 0h1m8 0h1m2 0h1m1 0h1m16 0h1m3 0h1m18 0h1m1 0h2m8 0h1m9 0h2m12 0h1M0 1313.5m7 0h1m2 0h1m1 0h1m3 0h1m8 0h1m6 0h1m2 0h1m27 0h1m32 0h1m25 0h1m7 0h1m3 0h1m17 0h2m11 0h1m1 0h1m2 0h1M0 1361.03h1m1 0h2m1 0h1m2 0h2m1 0h1m6 0h1M0 1384.79h1m1 0h3m5 0h1m12 0h1M0 1408.55m147 0h1M0 1456.08m1 0h1m2 0h2m2 0h4m7 0h1m5 0h1m13 0h2m5 0h1m12 0h1m4 0h3m2 0h1m15 0h1m2 0h1m5 0h1m21 0h1m27 0h1m14 0h1M0 1479.84m10 0h1m70 0h1m29 0h1M0 1503.6m61 0h1m122 0h1M0 1527.36m162 0h1M0 1574.89h1m22 0h1m12 0h1m13 0h1m10 0h1m76 0h1M0 1622.41h1m22 0h1m12 0h1m9 0h1m2 0h1m41 0h1m17 0h1m26 0h1m25 0h1M0 1669.93m61 0h1m2 0h1m32 0h1M0 1693.7m12 0h1m24 0h1m25 0h1m53 0h1M0 1764.98m13 0h1m5 0h2m36 0h1m8 0h1m3 0h1m15 0h1m15 0h1m20 0h1m9 0h1m30 0h2m7 0h1M0 1788.75m3 0h1m2 0h1m2 0h1m3 0h1m18 0h1m18 0h1m8 0h1m7 0h1m14 0h1m28 0h1m3 0h1m43 0h1M0 1812.51m15 0h1m3 0h1m16 0h1m32 0h1m13 0h1m17 0h1m15 0h1m11 0h1m6 0h1m11 0h1m25 0h1m6 0h1M0 1836.27m15 0h1m3 0h1m10 0h1m11 0h1m7 0h1m31 0h1m19 0h1m3 0h1m15 0h1m15 0h1m14 0h1m7 0h1M0 1883.79m2 0h1m12 0h1m24 0h1m33 0h1m1 0h1m12 0h1m6 0h1m16 0h1m3 0h1m6 0h1m8 0h1m17 0h1m6 0h1M0 1907.56m123 0h1M0 1931.32m2 0h1m4 0h1m13 0h1m4 0h1m3 0h1m5 0h1m1 0h1m2 0h1m4 0h1m4 0h1m30 0h1m48 0h1m24 0h1m13 0h1m13 0h1M0 1955.08m69 0h1m66 0h1m39 0h1m8 0h1M0 2026.37m1 0h1m6 0h2m4 0h1m2 0h1m12 0h1m2 0h1m43 0h1m9 0h1m6 0h1m8 0h1m7 0h1m3 0h1m8 0h1m6 0h1m9 0h1m32 0h1M0 2154.47m1 0h1m2 0h1m5 0h1m2 0h1m13 0h2m7 0h1m6 0h1m20 0h1m10 0h1m12 0h1m4 0h1m1 0h1m5 0h1m1 0h1m2 0h1m20 0h1m12 0h2m5 0h1M0 2201.99h1m6 0h2m3 0h1m2 0h1m3 0h1m8 0h1m9 0h1m1 0h1m8 0h1m16 0h1m4 0h1m13 0h1m17 0h1m16 0h1m10 0h1m5 0h1m25 0h1M0 2249.51m17 0h1m13 0h1m8 0h1m20 0h1m5 0h2m34 0h2m8 0h2m10 0h1m1 0h1m15 0h1M0 2306.64m30 0h1m20 0h1m52 0h1m12 0h1m4 0h1m9 0h1m21 0h1m30 0h1M0 2354.17m2 0h1m13 0h1m4 0h1m13 0h3m16 0h2m6 0h1m1 0h1m23 0h1m8 0h1m12 0h1m20 0h1m6 0h1m10 0h1m35 0h1M0 2401.69m46 0h1m15 0h1m23 0h1m38 0h1m50 0h1M0 2449.21h1m33 0h1m67 0h1m21 0h1m10 0h1m12 0h1m12 0h1M0 2472.98m12 0h1m6 0h1m3 0h3m7 0h2m37 0h2m17 0h2m5 0h1m9 0h1m40 0h1M0 2496.74h1m16 0h2m10 0h1m3 0h1m11 0h1m34 0h1m2 0h1m2 0h1m53 0h1m6 0h2M0 2544.26h1m5 0h1m2 0h1m15 0h2m3 0h1m7 0h1m28 0h1m16 0h1m16 0h1m18 0h1m8 0h1M0 2568.03m7 0h2m5 0h1m2 0h1m2 0h1m3 0h1m11 0h2m11 0h1m5 0h1m2 0h1m10 0h1m1 0h1m1 0h1m14 0h1m20 0h1m20 0h1m27 0h1m1 0h1m16 0h1M0 2591.79m4 0h1m13 0h1m1 0h1m4 0h2m3 0h1m4 0h1m24 0h1m3 0h1m19 0h1m46 0h1m4 0h1m1 0h1m2 0h1m9 0h1m12 0h1m3 0h1M0 2615.55m13 0h1m3 0h1m6 0h1m3 0h1m3 0h1m1 0h1m4 0h1m3 0h1m48 0h1m23 0h1m12 0h1m25 0h1m9 0h1m4 0h1m3 0h1M0 2639.31m7 0h1m6 0h1m3 0h2m14 0h2m6 0h1m20 0h1m1 0h1m5 0h1m27 0h1m22 0h1m33 0h1m4 0h1m4 0h1M0 2663.07m124 0h1m41 0h1M0 2686.84m1 0h1m7 0h2m22 0h1m9 0h1m15 0h1m2 0h1m5 0h1m42 0h1M0 2710.6m14 0h3m2 0h2m7 0h1m15 0h1m5 0h2m7 0h1m7 0h1m6 0h2m9 0h1m8 0h1m1 0h1m39 0h1m13 0h1m1 0h1m12 0h1m14 0h1m2 0h1M0 2734.36h1m5 0h1m18 0h1m19 0h1m76 0h1m5 0h1M0 2781.88m34 0h1m77 0h1m60 0h1M0 2805.64m9 0h1m5 0h1m10 0h1m16 0h1m1 0h1m4 0h1m18 0h1m16 0h2m70 0h1"/>
<path transform="translate(38 0) scale(1.57634 1)" stroke="#8080ff" stroke-width="23.81" fill="none" d="M0 400.88h1m1 0h2m1 0h1m13 0h1m3 0h1m2 0h1m3 0h2m5 0h1m2 0h1m8 0h1m14 0h1m11 0h1m19 0h1m15 0h1m4 0h1m1 0h1m24 0h1m16 0h1m4 0h1m6 0h1m1 0h1M0 424.64m2 0h2m6 0h1m5 0h2m1 0h1m1 0h3m2 0h1M0 448.4m1 0h1m6 0h1m38 0h1m5 0h1m2 0h1m7 0h1m20 0h1m2 0h2m6 0h1m14 0h1m20 0h1m16 0h1m24 0h1m1 0h1m5 0h2M0 472.17m24 0h1m1 0h1m4 0h1m5 0h1m2 0h1m16 0h3m5 0h1m16 0h1m1 0h1m2 0h1m6 0h1m5 0h3m17 0h1m2 0h1m15 0h1m16 0h1m12 0h1m3 0h1m2 0h1m5 0h1M0 495.93m4 0h1m7 0h1m5 0h1m1 0h1m5 0h2m2 0h1m1 0h1m1 0h1m4 0h2m7 0h1m9 0h2m4 0h2m11 0h1m2 0h1m2 0h1m13 0h1m6 0h1m6 0h1m5 0h1m27 0h1m18 0h1m7 0h1m8 0h1M0 519.69m1 0h1m4 0h1m3 0h2m12 0h2m4 0h1m3 0h1m13 0h1m5 0h1m1 0h1m4 0h1m9 0h1m23 0h1m4 0h1m2 0h1m6 0h1m9 0h1m3 0h1m18 0h1M0 543.45m3 0h1m11 0h2m2 0h1m7 0h2m11 0h1m12 0h1m10 0h1m19 0h1m3 0h1m24 0h1m6 0h1m10 0h1m11 0h1m2 0h1m4 0h1m23 0h1M0 590.98m3 0h1m2 0h1M0 614.74m7 0h1m5 0h1m5 0h1m23 0h1m10 0h1m7 0h1m5 0h1m34 0h1m23 0h1m3 0h1m13 0h1m4 0h1m3 0h1M0 638.5m25 0h1m24 0h1m2 0h1m3 0h1m3 0h1m8 0h1m2 0h1m5 0h1m11 0h1m5 0h1m34 0h1m1 0h1m1 0h1m11 0h1m3 0h1m19 0h1m11 0h1M0 662.26m4 0h1m2 0h1m7 0h1m2 0h1m8 0h1m4 0h1m2 0h1m12 0h1m19 0h1m13 0h1m6 0h1m2 0h2m2 0h1m24 0h1m2 0h2m26 0h1m2 0h1m13 0h1M0 686.02h1m9 0h1m8 0h1m15 0h1m6 0h2m5 0h2m22 0h1m2 0h1m1 0h1m10 0h1m4 0h1m7 0h1m1 0h1m12 0h1m2 0h1m7 0h1m13 0h1m11 0h1m10 0h1M0 709.79m5 0h1m8 0h1m6 0h1m6 0h1m8 0h1m4 0h1m1 0h1m5 0h1m1 0h1m8 0h1m11 0h1m7 0h1m3 0h1m4 0h1m4 0h2m10 0h2m1 0h1m7 0h1m32 0h3m7 0h1M0 757.31m3 0h1m5 0h2m2 0h1m1 0h1m5 0h1m2 0h1m2 0h1m19 0h1m2 0h1m18 0h1m9 0h1m6 0h1m5 0h1m21 0h1m22 0h1m3 0h1m16 0h1m4 0h1M0 781.07m18 0h1m9 0h1m10 0h1m56 0h1m1 0h1m40 0h1m2 0h1m10 0h2m1 0h1m20 0h1M0 804.83m8 0h1m4 0h1m9 0h1m5 0h1M0 828.6m12 0h1m7 0h1m1 0h2m8 0h1m1 0h1m4 0h1m7 0h2m3 0h1m14 0h1m28 0h1m14 0h1m20 0h2m1 0h1m7 0h1m9 0h1m4 0h1m14 0h1m3 0h1M0 876.12m16 0h1m6 0h1m3 0h1m6 0h1m38 0h1m12 0h1m5 0h1m11 0h1m3 0h1m6 0h1m11 0h1m1 0h1m1 0h1m3 0h1m13 0h1m3 0h1m2 0h1m1 0h1m7 0h1m5 0h1M0 899.88m1 0h2m12 0h1m1 0h1m7 0h1m8 0h1m27 0h1m3 0h2m12 0h1m4 0h1m6 0h3m1 0h1m10 0h1m4 0h1m1 0h1m1 0h1m11 0h1m11 0h1M0 923.64m8 0h1m4 0h1m1 0h1m15 0h1m15 0h1m2 0h1m6 0h1m8 0h1m7 0h1m13 0h1m4 0h1m17 0h1m14 0h1m7 0h1m18 0h1m1 0h1m4 0h1m4 0h1M0 947.41m4 0h1m22 0h1m2 0h1m15 0h1m38 0h1m21 0h1m16 0h2m6 0h1m6 0h1m16 0h1m6 0h1m10 0h1m4 0h1m4 0h1M0 971.17m9 0h1m1 0h1m9 0h1m1 0h1m5 0h1m3 0h1m10 0h1m4 0h2m4 0h1m4 0h1m6 0h1m8 0h2m4 0h1m4 0h1m1 0h1m5 0h2m8 0h1m2 0h1m17 0h1m5 0h1m1 0h1m4 0h1m23 0h1m1 0h1m2 0h1m9 0h1m1 0h1M0 994.93m5 0h1m11 0h2m2 0h1m25 0h1m6 0h1m10 0h3m12 0h2m14 0h1m5 0h1m20 0h1m11 0h1m7 0h2m4 0h1m10 0h1M0 1018.69m7 0h1m5 0h1m19 0h1m5 0h1m32 0h1m27 0h1m1 0h1m27 0h1m11 0h1m29 0h1M0 1042.46m8 0h1m5 0h1m1 0h1m5 0h1m8 0h1m4 0h1m9 0h1m14 0h1m8 0h1m2 0h2m24 0h1m4 0h1m16 0h1m1 0h1m3 0h1m14 0h1m9 0h1M0 1066.22m40 0h1m19 0h1m29 0h1m44 0h1m6 0h1m6 0h2m20 0h1m8 0h1M0 1089.98m38 0h1m4 0h1m14 0h1m2 0h1m5 0h1m7 0h1m9 0h1m27 0h1m20 0h1m5 0h1M0 1113.74m3 0h1m6 0h1m6 0h1m15 0h4m6 0h1m6 0h1m1 0h1m3 0h1m15 0h1m3 0h2m8 0h2m2 0h1m15 0h1m1 0h1m16 0h1m4 0h1m1 0h1m8 0h1m6 0h2m12 0h1m4 0h1m6 0h1m1 0h1M0 1137.5m2 0h1m3 0h1m23 0h1m11 0h1m13 0h3m6 0h1m9 0h1m8 0h2m5 0h1m7 0h1m29 0h1m5 0h1m24 0h1m16 0h2M0 1161.27m1 0h1m2 0h1m5 0h1m6 0h1m3 0h1m10 0h1m6 0h2m2 0h2m5 0h1m5 0h1m40 0h1m26 0h1m11 0h1m6 0h1m4 0h1m8 0h1m10 0h1m15 0h1M0 1232.55m4 0h1m3 0h1m1 0h1m13 0h2m4 0h1m3 0h2m1 0h1m23 0h1m3 0h1m1 0h1m10 0h1m5 0h1m28 0h1m4 0h1m22 0h1m43 0h1M0 1265.98m8 0h1m4 0h2m1 0h1m4 0h1m9 0h1m4 0h1m2 0h1m6 0h1m2 0h1m81 0h1m15 0h1m3 0h1m4 0h1m3 0h1m5 0h1m10 0h1M0 1289.74m2 0h2m13 0h1m3 0h1m22 0h1m7 0h1m9 0h1m3 0h1m7 0h1m47 0h1m51 0h1m7 0h1M0 1313.5m13 0h1m9 0h1m3 0h1m5 0h1m3 0h1m28 0h1m8 0h1m2 0h2m2 0h1m4 0h1m10 0h1m26 0h1m50 0h1M0 1337.27m2 0h1m3 0h1m2 0h2M0 1361.03m4 0h1m1 0h1m3 0h1m1 0h1m1 0h1m1 0h1m2 0h1m1 0h1m3 0h2m1 0h1m1 0h2m2 0h1m2 0h2m3 0h1m3 0h3m1 0h1m9 0h1m5 0h1M0 1384.79m6 0h2m6 0h1m2 0h1m2 0h1m8 0h1m2 0h2m1 0h2m4 0h2m6 0h1m8 0h1m1 0h1M0 1408.55m52 0h1m37 0h1m5 0h1m17 0h1m9 0h1m6 0h1m3 0h1m16 0h1m7 0h2m3 0h1m8 0h3M0 1432.32m4 0h1m7 0h1M0 1456.08h1m20 0h1m12 0h1m20 0h1m4 0h1m12 0h1m15 0h1m3 0h1m1 0h2m3 0h1m6 0h1m20 0h1m22 0h1m27 0h1m5 0h1M0 1479.84m9 0h1m11 0h1m3 0h1m3 0h1m6 0h1m7 0h1m15 0h1m32 0h2m13 0h1m6 0h1m4 0h1m18 0h1m3 0h1m9 0h1m5 0h1m3 0h2m1 0h1m1 0h1m11 0h2M0 1503.6m51 0h3m4 0h1m8 0h1m27 0h1m27 0h1m15 0h1m22 0h1m1 0h1m11 0h1M0 1527.36m115 0h1m10 0h1m22 0h1m10 0h1m4 0h2m5 0h1m1 0h1m8 0h1m1 0h1M0 1551.12m95 0h1m31 0h1m2 0h1m12 0h1m1 0h1m11 0h1m9 0h1M0 1574.89m2 0h1m4 0h2m20 0h1m17 0h1m17 0h1m25 0h1m1 0h1m2 0h1m16 0h2m5 0h1m5 0h2m7 0h1m6 0h1m26 0h1M0 1622.41m1 0h1m5 0h1m16 0h3m11 0h1m1 0h1m1 0h1m5 0h1m4 0h1m1 0h1m3 0h1m4 0h3m7 0h1m8 0h1m4 0h1m24 0h1m3 0h1m1 0h1m8 0h1m1 0h1m7 0h1m8 0h1m1 0h2m1 0h1m16 0h1M0 1669.93m10 0h1m3 0h1m5 0h1m10 0h1m11 0h1m11 0h1m15 0h1m21 0h1m1 0h1m4 0h1m21 0h1m10 0h1m3 0h1m7 0h1m12 0h1M0 1693.7m7 0h1m9 0h1m7 0h1m16 0h1m5 0h1m28 0h1m1 0h1m14 0h1m11 0h1m1 0h1m21 0h1m3 0h1m4 0h1m19 0h1m5 0h1M0 1764.98m8 0h1m15 0h1m7 0h1m12 0h1m6 0h1m11 0h1m11 0h1m42 0h1m18 0h1m4 0h1m1 0h1m7 0h1m26 0h1M0 1788.75m10 0h1m14 0h1m4 0h1m4 0h1m2 0h1m2 0h1m8 0h1m1 0h1m6 0h1m3 0h1m10 0h1m26 0h1m2 0h1m3 0h1m8 0h1m9 0h1m3 0h1m14 0h1m2 0h1m5 0h1m10 0h1m3 0h1m2 0h1m1 0h1m1 0h1m7 0h1M0 1812.51m11 0h1m15 0h1m7 0h1m1 0h1m10 0h1m25 0h1m1 0h1m29 0h1m37 0h1m7 0h1m1 0h1m4 0h1m6 0h2M0 1836.27m7 0h1m2 0h1m3 0h1m3 0h1m1 0h1m11 0h1m2 0h1m22 0h2m6 0h1m18 0h1m6 0h1m4 0h1m19 0h1m9 0h1m14 0h1m30 0h1M0 1883.79m9 0h1m2 0h1m33 0h1m4 0h2m27 0h1m13 0h1m14 0h1m6 0h1m15 0h1m38 0h1M0 1907.56m54 0h1m24 0h1m8 0h1m2 0h1m6 0h1m9 0h1m4 0h2m17 0h2m3 0h1m2 0h1m1 0h1m3 0h1m20 0h1m8 0h1M0 1931.32m4 0h1m10 0h1m36 0h1m2 0h1m1 0h1m1 0h2m2 0h1m2 0h2m1 0h1m1 0h1m1 0h1m15 0h1m4 0h1m15 0h1m17 0h1m28 0h1m2 0h1m18 0h2M0 1955.08m64 0h1m25 0h1m11 0h1m11 0h1m17 0h1m37 0h1M0 2026.37m19 0h1m16 0h1m30 0h1m37 0h1m4 0h1m2 0h1m5 0h3m4 0h1m8 0h1m27 0h1m2 0h1m4 0h1M0 2154.47m39 0h1m10 0h1m3 0h2m13 0h1m10 0h1m2 0h2m17 0h1m13 0h2m1 0h1m3 0h1m2 0h1m1 0h1m35 0h1m5 0h1M0 2201.99m3 0h1m7 0h1m4 0h2m9 0h1m5 0h1m7 0h1m4 0h1m3 0h1m4 0h1m4 0h1m1 0h1m39 0h1m4 0h1m6 0h1m10 0h1m10 0h1m5 0h1m7 0h1m2 0h2m5 0h1m8 0h1m1 0h2m8 0h1m1 0h1M0 2249.51h1m13 0h1m9 0h1m20 0h2m4 0h1m17 0h1m14 0h1m5 0h1m8 0h1m12 0h1m29 0h1m10 0h1m1 0h1m23 0h1M0 2306.64m26 0h2m8 0h1m6 0h1m9 0h1m28 0h1m6 0h1m7 0h1m18 0h1m41 0h1M0 2354.17m4 0h1m3 0h1m1 0h1m9 0h1m1 0h1m2 0h1m2 0h2m1 0h1m2 0h1m5 0h3m6 0h1m6 0h1m6 0h1m9 0h2m28 0h1m5 0h1m6 0h1m9 0h1m3 0h1m5 0h2m9 0h2m13 0h1m2 0h1m14 0h1m1 0h1M0 2401.69m118 0h1m51 0h1M0 2425.45h1m5 0h1m7 0h1m3 0h1M0 2449.21m13 0h1m12 0h1m8 0h1m13 0h1m30 0h2m4 0h1m29 0h1m16 0h2m18 0h1m2 0h1m9 0h1m8 0h1m1 0h1m2 0h1M0 2472.98m3 0h2m2 0h1m7 0h2m4 0h1m21 0h2m6 0h2m3 0h2m7 0h1m11 0h1m4 0h1m51 0h1m6 0h1m19 0h1m11 0h1m1 0h1m3 0h1m2 0h1M0 2496.74m3 0h1m5 0h1m12 0h1m7 0h1m15 0h1m16 0h1m1 0h1m67 0h1m8 0h1m8 0h1m3 0h1m10 0h1m9 0h1M0 2520.5m4 0h1M0 2544.26m12 0h1m24 0h1m7 0h1m3 0h1m10 0h1m4 0h1m9 0h2m13 0h1m42 0h1m6 0h1m20 0h1M0 2568.03m5 0h2m18 0h1m42 0h1m22 0h1m3 0h1m2 0h1m3 0h1m8 0h1m3 0h1m3 0h1m11 0h1m15 0h1m2 0h1m5 0h2m7 0h1m18 0h1M0 2591.79h1m8 0h1m1 0h1m12 0h1m2 0h1m6 0h1m13 0h1m1 0h1m3 0h1m7 0h1m5 0h2m1 0h1m1 0h1m3 0h2m1 0h1m2 0h1m9 0h1m20 0h1m2 0h1m6 0h1m8 0h1m1 0h1m37 0h1m5 0h1M0 2615.55h1m7 0h1m10 0h1m9 0h1m20 0h2m6 0h1m4 0h1m3 0h1m8 0h1m1 0h1m18 0h1m1 0h1m2 0h1m15 0h1m1 0h1m1 0h1m20 0h1m31 0h1M0 2639.31m1 0h1m7 0h1m12 0h1m18 0h1m4 0h1m1 0h1m8 0h2m1 0h1m7 0h1m8 0h2m5 0h2m2 0h1m4 0h2m8 0h1m11 0h1m11 0h1m2 0h1m4 0h1m6 0h1m9 0h1m24 0h1m5 0h1M0 2663.07m82 0h1m12 0h1m21 0h2m4 0h1m3 0h1m2 0h1m16 0h3M0 2686.84m6 0h1m33 0h1m4 0h1m24 0h1m12 0h1m3 0h1m9 0h1m1 0h1m9 0h1m2 0h1m36 0h1m16 0h1m5 0h1m7 0h1M0 2710.6m1 0h1m4 0h2m5 0h1m12 0h2m1 0h2m5 0h1m11 0h1m4 0h1m7 0h1m7 0h1m7 0h1m8 0h1m11 0h1m4 0h1m7 0h1m5 0h1m10 0h1m6 0h1m10 0h1m11 0h1m2 0h1M0 2734.36m7 0h1m11 0h1m2 0h1m5 0h1m2 0h1m9 0h1m6 0h1m2 0h2m7 0h1m3 0h1m1 0h1m9 0h1m3 0h1m3 0h1m2 0h1m26 0h1m5 0h1m13 0h1M0 2758.12h1m1 0h1M0 2781.88m89 0h1m17 0h1m28 0h1m7 0h1m12 0h1M0 2805.64m2 0h1m15 0h1m1 0h1m25 0h1m19 0h1m28 0h1m21 0h1m3 0h1m1 0h1m2 0h1m8 0h1m25 0h1M0 2829.41m32 0h1m4 0h1m32 0h1m9 0h1m4 0h1m6 0h1m21 0h1m28 0h1m10 0h1m24 0h1m4 0h1"/>
<path transform="translate(38 0) scale(1.57634 1)" stroke="#9f9fff" stroke-width="23.81" fill="none" d="M0 400.88m32 0h1m3 0h1m1 0h1m8 0h1m13 0h2m2 0h1m9 0h1m15 0h1m12 0h1m3 0h1m2 0h1m8 0h1M0 424.64m1 0h1m2 0h6m4 0h1m10 0h1m1 0h1m10 0h1m2 0h1m13 0h1m11 0h2m1 0h1m1 0h2m4 0h1m3 0h1m1 0h1m2 0h1m2 0h3m1 0h1m6 0h1m1 0h2m3 0h2m10 0h1m2 0h1m2 0h1m11 0h1m13 0h1M0 448.4h1m5 0h2m3 0h1m1 0h1m11 0h1m3 0h1m3 0h1m2 0h1m2 0h2m1 0h1m11 0h1m4 0h1m5 0h2m2 0h1m23 0h1m1 0h1m1 0h1m1 0h1m4 0h2m2 0h1m18 0h1m5 0h1m7 0h1m3 0h1m6 0h1m5 0h1m1 0h1m3 0h1m6 0h1M0 472.17m1 0h1m12 0h1m18 0h1m2 0h1m15 0h1m1 0h1m8 0h1m3 0h1m15 0h1m19 0h2m3 0h1m6 0h1m9 0h1m1 0h1m15 0h1m6 0h1m6 0h3m8 0h1m12 0h1M0 495.93m1 0h1m3 0h1m2 0h1m1 0h1m4 0h1m6 0h1m19 0h1m8 0h1m1 0h2m14 0h1m5 0h2m2 0h1m1 0h1m3 0h3m7 0h1m2 0h1m36 0h1m1 0h1m6 0h1m17 0h1m5 0h1m1 0h2m4 0h1m5 0h1M0 519.69h1m8 0h1m3 0h2m2 0h2m7 0h1m2 0h1m5 0h1m7 0h1m1 0h2m4 0h1m7 0h1m18 0h1m13 0h1m3 0h1m1 0h1m8 0h1m6 0h1m2 0h1m18 0h1m2 0h2m9 0h1m5 0h1m1 0h1m1 0h1m2 0h1M0 543.45m34 0h1m3 0h1m3 0h1m3 0h1m5 0h1m6 0h1m3 0h1m6 0h1m1 0h1m2 0h1m1 0h2m1 0h2m8 0h1m5 0h1m3 0h1m10 0h1m7 0h1m3 0h1m1 0h1m19 0h1m9 0h1m9 0h1m7 0h1m2 0h2m2 0h1M0 590.98h1m1 0h1m1 0h2m10 0h1m1 0h1m2 0h1m2 0h1m3 0h1m5 0h2m3 0h1m1 0h1m5 0h1m8 0h1m2 0h1m4 0h1m2 0h2m3 0h1m6 0h1m3 0h1m1 0h1m7 0h1m6 0h3m9 0h1m2 0h1m7 0h1m13 0h1m32 0h1M0 614.74m2 0h1m19 0h1m7 0h1m1 0h1m3 0h1m3 0h1m1 0h1m10 0h1m12 0h1m10 0h1m15 0h1m2 0h1m17 0h1m34 0h1m3 0h1m10 0h1m6 0h3m3 0h1M0 686.02m1 0h1m9 0h1m6 0h1m4 0h1m3 0h1m5 0h1m10 0h1m3 0h1m2 0h1m8 0h1m1 0h1m5 0h1m16 0h1m12 0h1m9 0h1m2 0h1m2 0h1m7 0h2m6 0h1m1 0h2m2 0h2m5 0h1m2 0h1m1 0h2m26 0h1M0 709.79m18 0h1m11 0h1m2 0h1m4 0h1m2 0h1m7 0h1m6 0h1m6 0h1m4 0h1m2 0h1m22 0h1m7 0h1m10 0h1m3 0h1m3 0h1m4 0h1m1 0h1m1 0h1m8 0h1m3 0h1m3 0h1m17 0h1m2 0h1M0 733.55h2m2 0h1m2 0h2m9 0h1m1 0h1m2 0h1m2 0h1m2 0h1m8 0h1m2 0h1m1 0h1m6 0h1m1 0h1m4 0h1m3 0h1m7 0h1m5 0h1m8 0h1m2 0h1m5 0h1m7 0h1m4 0h1m14 0h1m2 0h1m18 0h1m9 0h1m5 0h1m3 0h1M0 757.31m5 0h1m5 0h1m2 0h1m2 0h1m7 0h1m5 0h1m7 0h1m1 0h1m2 0h2m2 0h1m4 0h1m8 0h1m2 0h1m4 0h2m11 0h2m20 0h1m2 0h1m7 0h1m5 0h1m1 0h1m10 0h1m16 0h1m11 0h1m11 0h1M0 781.07m2 0h1m1 0h1m6 0h1m2 0h1m5 0h2m15 0h2m2 0h1m12 0h1m7 0h1m8 0h1m1 0h1m7 0h2m3 0h1m1 0h1m1 0h2m34 0h1m10 0h1m9 0h1m14 0h1m15 0h1M0 804.83m2 0h2m3 0h1m2 0h1m6 0h2m3 0h1m2 0h2m3 0h1m2 0h1m1 0h2m5 0h3m7 0h1m1 0h1m9 0h1m2 0h2m4 0h1m8 0h2m1 0h1m2 0h1m1 0h1m3 0h1m11 0h1m5 0h1m5 0h1m9 0h3m1 0h1m16 0h1m2 0h1m32 0h1M0 828.6h1m3 0h1m1 0h1m2 0h2m20 0h1m18 0h1m6 0h1m2 0h1m2 0h1m1 0h1m5 0h1m4 0h2m3 0h1m1 0h1m5 0h1m1 0h1m15 0h1m21 0h1m16 0h1m2 0h2m5 0h1m8 0h1m1 0h1m2 0h1m14 0h1M0 876.12m20 0h1m4 0h1m2 0h1m15 0h1m2 0h1m2 0h1m3 0h1m3 0h2m3 0h1m2 0h1m11 0h1m3 0h1m5 0h1m25 0h1m6 0h1m14 0h1m4 0h1m27 0h1M0 899.88m4 0h1m6 0h1m7 0h1m1 0h1m15 0h1m5 0h1m2 0h2m1 0h1m2 0h1m6 0h2m13 0h1m2 0h1m5 0h1m7 0h1m6 0h1m1 0h1m2 0h2m18 0h1m6 0h1m1 0h1m5 0h1m11 0h1m3 0h1m12 0h2m6 0h1m3 0h1m4 0h1M0 947.41m13 0h2m1 0h2m17 0h3m6 0h1m2 0h1m4 0h2m4 0h1m9 0h1m1 0h1m11 0h1m12 0h1m3 0h1m17 0h2m1 0h1m5 0h2m6 0h1m11 0h1m3 0h1m16 0h1m9 0h1M0 971.17m2 0h1m22 0h1m13 0h1m5 0h1m2 0h1m3 0h2m2 0h1m15 0h1m2 0h1m5 0h1m30 0h1m1 0h2m5 0h1m3 0h1m16 0h1m11 0h1m3 0h2m1 0h1m8 0h1m1 0h1m4 0h1m5 0h1M0 1018.69m9 0h1m2 0h1m22 0h3m5 0h1m10 0h2m1 0h1m15 0h1m4 0h1m2 0h1m3 0h2m12 0h1m10 0h1m20 0h1m9 0h1m4 0h1m9 0h1m3 0h1m12 0h1M0 1042.46m5 0h1m18 0h1m15 0h1m1 0h1m6 0h1m7 0h1m2 0h1m20 0h1m12 0h1m5 0h1m4 0h3m8 0h1m3 0h1m4 0h1m24 0h1m2 0h1m4 0h1M0 1089.98m1 0h1m9 0h2m5 0h1m5 0h1m5 0h1m4 0h1m5 0h1m8 0h1m13 0h1m5 0h1m19 0h1m20 0h1m30 0h1m21 0h1m2 0h1m2 0h1M0 1113.74m7 0h1m14 0h1m2 0h1m18 0h1m6 0h1m1 0h1m5 0h1m1 0h2m3 0h1m2 0h1m5 0h1m4 0h1m15 0h1m6 0h3m11 0h1m2 0h1m14 0h1m4 0h1m13 0h3m4 0h1m15 0h1m3 0h1M0 1137.5m9 0h1m9 0h1m13 0h1m3 0h1m3 0h1m6 0h1m18 0h1m3 0h1m2 0h1m26 0h1m29 0h1m7 0h1m4 0h1m20 0h1m10 0h1m7 0h1M0 1265.98m3 0h1m19 0h1m11 0h1m4 0h1m14 0h1m4 0h1m1 0h1m13 0h1m2 0h2m5 0h1m10 0h1m1 0h1m1 0h1m11 0h1m4 0h1m8 0h1m11 0h1m5 0h1m13 0h1m14 0h1m10 0h1M0 1289.74h1m12 0h1m6 0h1m8 0h1m2 0h1m35 0h1m7 0h1m10 0h1m8 0h2m2 0h1m26 0h1m10 0h1m1 0h1m4 0h1m2 0h1m11 0h1m2 0h1m20 0h1M0 1313.5m5 0h1m8 0h1m4 0h1m31 0h1m18 0h1m13 0h1m3 0h1m4 0h1m1 0h1m15 0h1m7 0h1m1 0h1m25 0h1m8 0h1m9 0h1m4 0h2m6 0h1M0 1337.27m3 0h1m7 0h1m4 0h1m3 0h1m1 0h1m2 0h1m7 0h2m3 0h1m1 0h1m1 0h3m4 0h1m1 0h1m1 0h1m1 0h1m1 0h2m2 0h1m2 0h1m1 0h1m2 0h1m14 0h1m1 0h2m9 0h1m5 0h1m4 0h1m2 0h1m3 0h1m11 0h1m32 0h1m9 0h1M0 1361.03m7 0h1m5 0h1m1 0h1m7 0h2m2 0h1m1 0h1m2 0h2m2 0h1m3 0h1m11 0h1m1 0h1m1 0h1m6 0h2m4 0h1m1 0h3m1 0h2m1 0h1m2 0h1m1 0h2m5 0h1m1 0h2m6 0h1m2 0h2m3 0h1m4 0h1m7 0h1m5 0h1m1 0h2m2 0h1m3 0h1m7 0h1m25 0h1M0 1384.79m1 0h1m7 0h1m5 0h2m2 0h1m1 0h2m1 0h1m3 0h1m5 0h1m2 0h2m4 0h1m8 0h2m5 0h1m3 0h1m2 0h1m5 0h1m2 0h1m2 0h1m5 0h3m5 0h1m2 0h1m7 0h1m1 0h1m1 0h1m2 0h1m6 0h1m2 0h4m4 0h1m20 0h1m1 0h1m10 0h1m5 0h1m3 0h1M0 1408.55m2 0h1m22 0h1m13 0h1m33 0h1m13 0h1m45 0h1m2 0h2m3 0h1m12 0h1m7 0h2m8 0h1M0 1432.32h1m4 0h1m1 0h1m6 0h1m1 0h2m4 0h2m5 0h1m2 0h2m2 0h1m5 0h1m4 0h1m2 0h1m4 0h1m3 0h3m6 0h1m16 0h1m10 0h1m3 0h1m2 0h1m6 0h1m10 0h1m4 0h1m23 0h2m1 0h1m6 0h1m18 0h1M0 1456.08m12 0h2m2 0h1m1 0h1m5 0h1m16 0h1m1 0h1m1 0h1m7 0h1m22 0h1m1 0h2m12 0h1m6 0h1m4 0h3m5 0h1m1 0h2m6 0h1m7 0h1m4 0h1m21 0h1m3 0h1m6 0h1m1 0h2m2 0h1m1 0h1m4 0h1M0 1479.84m4 0h1m9 0h2m2 0h1m3 0h1m7 0h5m12 0h1m2 0h1m4 0h1m3 0h1m7 0h1m1 0h1m5 0h1m7 0h1m6 0h1m1 0h1m3 0h1m20 0h2m4 0h2m26 0h1m4 0h1m4 0h1m23 0h1M0 1503.6m34 0h1m12 0h1m9 0h1m11 0h1m8 0h1m1 0h1m5 0h1m17 0h2m3 0h1m12 0h1m2 0h1m2 0h1m5 0h1m8 0h1m14 0h1m7 0h1m5 0h1M0 1527.36m73 0h1m5 0h2m46 0h1m29 0h1m3 0h1m8 0h1m2 0h1m5 0h1m2 0h1M0 1551.12m55 0h1m6 0h1m27 0h1m1 0h1m9 0h1m4 0h1m1 0h2m6 0h1m28 0h1m1 0h1m9 0h1m6 0h1m12 0h2M0 1574.89m3 0h1m8 0h1m4 0h1m3 0h1m2 0h1m6 0h1m3 0h1m4 0h1m8 0h1m32 0h2m3 0h1m13 0h1m4 0h1m4 0h2m40 0h1m11 0h1m12 0h1M0 1598.65m3 0h1m6 0h1m11 0h2m5 0h1m1 0h1m2 0h2m5 0h1m3 0h1m15 0h1m5 0h1m37 0h1m16 0h1m15 0h2m32 0h2m8 0h1M0 1669.93m3 0h1m24 0h1m9 0h1m5 0h2m7 0h1m6 0h1m4 0h1m6 0h1m2 0h1m7 0h1m3 0h2m2 0h1m6 0h1m21 0h1m4 0h1m1 0h1m4 0h1m1 0h1m3 0h1m3 0h1m16 0h2m3 0h1m4 0h2m6 0h1m1 0h1m2 0h2m1 0h1M0 1717.46h1m11 0h3m4 0h1m8 0h1m8 0h1m41 0h1m12 0h1m1 0h1m1 0h1m11 0h2m3 0h1m34 0h1m5 0h1m10 0h1m2 0h1m6 0h1m3 0h1M0 1741.22h2m2 0h1m3 0h1m1 0h1m6 0h1m3 0h1m2 0h1m13 0h2m3 0h1m9 0h2m4 0h1m3 0h1m10 0h1m8 0h1m10 0h1m7 0h1m3 0h1m11 0h1m56 0h1M0 1764.98m18 0h1m4 0h1m2 0h1m14 0h1m14 0h1m11 0h2m5 0h1m6 0h1m4 0h1m9 0h1m6 0h1m6 0h1m2 0h1m6 0h1m6 0h1m6 0h1m3 0h1m7 0h1m21 0h1m9 0h1M0 1788.75m7 0h1m4 0h1m3 0h1m1 0h1m8 0h1m5 0h1m13 0h1m18 0h1m2 0h1m8 0h2m8 0h1m2 0h1m3 0h1m2 0h1m8 0h1m18 0h1m7 0h1m5 0h1m4 0h1m8 0h1m4 0h1m21 0h1M0 1812.51m10 0h1m3 0h1m7 0h2m10 0h1m3 0h1m3 0h1m2 0h1m12 0h1m22 0h1m5 0h1m15 0h1m21 0h1m2 0h1m17 0h1m23 0h1m8 0h1m3 0h1M0 1836.27h1m3 0h1m24 0h1m1 0h1m9 0h1m1 0h1m4 0h1m3 0h1m7 0h1m62 0h1m5 0h1m53 0h1M0 1860.03m166 0h1M0 1883.79m6 0h1m17 0h1m3 0h2m27 0h1m15 0h1m10 0h2m6 0h1m13 0h1m12 0h2m40 0h1m10 0h1m9 0h1M0 1907.56m11 0h2m5 0h1m3 0h1m10 0h1m19 0h1m10 0h1m11 0h1m18 0h2m18 0h1m4 0h1m7 0h1m26 0h1m2 0h1m19 0h1m1 0h1m2 0h1M0 1931.32m1 0h1m4 0h1m2 0h1m3 0h2m10 0h1m5 0h1m1 0h1m3 0h1m1 0h1m7 0h1m8 0h1m8 0h1m9 0h1m3 0h3m9 0h1m7 0h1m7 0h1m1 0h1m3 0h2m2 0h1m1 0h2m6 0h1m2 0h1m3 0h1m2 0h1m12 0h2m3 0h1m7 0h1m17 0h1M0 1955.08m12 0h1m15 0h1m9 0h1m20 0h1m5 0h1m1 0h1m4 0h1m3 0h1m32 0h1m12 0h1m10 0h1m5 0h1m22 0h1m12 0h1M0 1978.84h1m1 0h1m1 0h1m2 0h1m3 0h1m6 0h2m16 0h1m2 0h1m1 0h1m3 0h1m43 0h1m2 0h1m19 0h1m14 0h1m9 0h1m31 0h1M0 2002.6m2 0h1m3 0h1m25 0h1m2 0h1m1 0h1m4 0h1m16 0h1m4 0h1m16 0h2m19 0h1M0 2026.37m3 0h1m19 0h1m14 0h1m6 0h1m6 0h2m3 0h1m3 0h1m3 0h1m14 0h2m1 0h2m5 0h1m9 0h1m3 0h1m3 0h1m27 0h2m13 0h1m3 0h1m1 0h1m6 0h1m7 0h1m10 0h1M0 2154.47m2 0h2m1 0h1m6 0h1m1 0h1m2 0h1m14 0h1m12 0h1m3 0h1m3 0h1m3 0h1m3 0h2m3 0h1m11 0h1m3 0h1m6 0h2m60 0h1m16 0h1m7 0h1m6 0h1M0 2178.23m4 0h3m2 0h3m2 0h2m16 0h2m6 0h1m1 0h1m1 0h1m14 0h1m13 0h1m13 0h1m1 0h1m17 0h1m8 0h1m23 0h1m13 0h1M0 2225.75m6 0h1m1 0h1m11 0h1m3 0h1m5 0h1m4 0h1m1 0h1m1 0h1m14 0h1m5 0h1m1 0h1m5 0h1m12 0h1m10 0h1m22 0h1m3 0h1M0 2249.51m5 0h1m5 0h1m11 0h1m8 0h1m20 0h1m16 0h1m24 0h1m5 0h1m4 0h1m33 0h1m3 0h1m11 0h1m8 0h1m10 0h1m3 0h1m3 0h1M0 2306.64h1m1 0h1m4 0h1m5 0h1m1 0h1m49 0h1m24 0h1m8 0h1m18 0h1m2 0h1m11 0h1m5 0h1m15 0h1m14 0h1m5 0h1m2 0h1M0 2354.17m9 0h1m1 0h1m26 0h1m21 0h2m9 0h1m5 0h1m1 0h1m6 0h1m3 0h1m8 0h1m1 0h1m6 0h1m10 0h1m1 0h1m12 0h1m4 0h1m3 0h1m10 0h1m14 0h3M0 2377.93m3 0h1m2 0h1m2 0h3m16 0h1m17 0h2m31 0h1m5 0h1m17 0h1m35 0h1m36 0h1M0 2401.69m44 0h1m32 0h1m3 0h2m12 0h2m14 0h1m20 0h1m6 0h2m2 0h2m12 0h1m3 0h2m8 0h1m1 0h1M0 2425.45m1 0h2m1 0h1m5 0h2m3 0h1m3 0h1m1 0h1m1 0h3m5 0h1m3 0h1m7 0h1m1 0h1m1 0h1m4 0h3m4 0h4m1 0h1m34 0h1m5 0h1m5 0h1m5 0h1m3 0h1m46 0h2m5 0h1M0 2449.21m6 0h1m1 0h1m5 0h1m3 0h1m2 0h1m19 0h1m16 0h1m2 0h2m2 0h1m3 0h1m8 0h1m3 0h1m6 0h1m4 0h1m3 0h1m16 0h1m11 0h1m8 0h1m5 0h1m16 0h1m8 0h1m15 0h2M0 2472.98m2 0h1m5 0h1m20 0h1m1 0h1m5 0h1m1 0h1m5 0h1m3 0h1m12 0h1m6 0h1m9 0h1m1 0h1m11 0h1m8 0h1m8 0h2m4 0h2m1 0h1m6 0h1m2 0h1m6 0h1m18 0h1m1 0h2m3 0h1m4 0h1m1 0h1m3 0h1M0 2496.74m11 0h1m9 0h1m1 0h1m7 0h1m18 0h1m34 0h1m16 0h1m4 0h2m3 0h1m4 0h1m21 0h1m25 0h1m7 0h2m2 0h2M0 2520.5m1 0h2m3 0h1m2 0h2m2 0h1m9 0h2m6 0h2m2 0h1m8 0h2m7 0h1m11 0h2m1 0h1m11 0h2m2 0h1m2 0h1m9 0h1m15 0h1m2 0h1m1 0h1m5 0h2m18 0h1m15 0h1m14 0h1m2 0h1M0 2544.26m13 0h1m6 0h1m1 0h1m1 0h1m3 0h1m5 0h1m5 0h1m5 0h1m15 0h2m7 0h1m8 0h1m4 0h2m2 0h1m2 0h2m14 0h1m15 0h1m2 0h1m2 0h1m10 0h1m4 0h1m3 0h1m2 0h1m5 0h1m9 0h1m4 0h1m6 0h1M0 2591.79m2 0h1m16 0h1m3 0h1m7 0h1m6 0h1m2 0h1m10 0h1m3 0h2m21 0h1m2 0h1m4 0h2m9 0h1m2 0h1m3 0h1m1 0h1m4 0h2m2 0h1m1 0h1m3 0h1m2 0h2m5 0h1m6 0h2m4 0h2m7 0h3m2 0h1m17 0h1m2 0h1m3 0h1M0 2615.55m3 0h1m16 0h1m28 0h1m6 0h1m3 0h1m1 0h1m24 0h1m6 0h1m15 0h1m16 0h1m14 0h1m7 0h1m2 0h1m7 0h1m2 0h1m7 0h1m3 0h2M0 2639.31m16 0h2m29 0h1m1 0h3m4 0h1m13 0h1m29 0h1m11 0h1m11 0h1m6 0h1m13 0h1m3 0h1m4 0h2m6 0h1m7 0h1m9 0h1M0 2663.07m19 0h1m12 0h1m7 0h1m1 0h1m7 0h1m24 0h1m14 0h1m2 0h1m7 0h1m26 0h2m10 0h1m5 0h1m7 0h1m8 0h1m5 0h1m14 0h1M0 2686.84m21 0h1m9 0h1m9 0h1m9 0h1m13 0h1m1 0h1m3 0h1m2 0h1m15 0h3m8 0h1m6 0h1m7 0h1m5 0h1m14 0h1m4 0h1m1 0h1m1 0h1m3 0h1m6 0h1m23 0h1M0 2710.6m2 0h1m7 0h1m26 0h1m4 0h1m29 0h1m3 0h1m5 0h1m6 0h1m1 0h1m3 0h1m4 0h1m5 0h1m14 0h1m2 0h1m1 0h1m13 0h1m32 0h1M0 2734.36m23 0h1m10 0h1m3 0h1m4 0h1m6 0h1m5 0h1m8 0h1m6 0h1m1 0h1m4 0h1m5 0h1m8 0h1m4 0h1m4 0h1m20 0h1m11 0h1m4 0h1m5 0h1m3 0h1m10 0h1m1 0h2m3 0h1m3 0h1m4 0h1M0 2758.12m3 0h1m4 0h2m4 0h1m1 0h2m1 0h1m4 0h1m5 0h2m3 0h1m2 0h1m1 0h1m3 0h1m8 0h2m2 0h1m2 0h2m5 0h1m11 0h1m2 0h1m7 0h1m2 0h1m8 0h1m6 0h1m8 0h1m10 0h1m6 0h1M0 2781.88m43 0h1m9 0h1m20 0h1m15 0h1m5 0h1m1 0h1m7 0h1m2 0h1m12 0h1m30 0h1m12 0h1M0 2805.64m7 0h1m11 0h1m11 0h2m15 0h1m8 0h1m9 0h2m2 0h1m7 0h1m11 0h1m18 0h1m9 0h1m3 0h1m16 0h1m1 0h1m21 0h1m6 0h1m1 0h1M0 2829.41m10 0h2m10 0h1m7 0h1m10 0h1m4 0h1m6 0h1m11 0h1m20 0h1m3 0h1m3 0h1m1 0h1m9 0h1m5 0h1m3 0h1m1 0h1m5 0h1m6 0h2m1 0h1m11 0h1m5 0h1m16 0h1m2 0h1"/>
<path transform="translate(38 0) scale(1.57634 1)" stroke="#bfbfff" stroke-width="23.81" fill="none" d="M0 424.64m11 0h1m1 0h1m1 0h1m2 0h1m11 0h1m2 0h1m5 0h1m5 0h1m2 0h2m1 0h1m2 0h1m1 0h1m3 0h1m3 0h2m3 0h1m1 0h1m4 0h2m5 0h1m4 0h1m4 0h1m1 0h1m6 0h1m2 0h1m5 0h4m2 0h3m1 0h1m5 0h2m3 0h2m3 0h1m1 0h3m1 0h1m2 0h1m1 0h1m4 0h1m10 0h1m1 0h1m6 0h1m3 0h1m4 0h1m1 0h1M0 448.4m24 0h1m3 0h1m2 0h1m2 0h1m10 0h1m3 0h2m17 0h1m3 0h1m7 0h1m3 0h1m5 0h1m1 0h1m5 0h1m24 0h1m1 0h1m2 0h1m2 0h1m8 0h1m3 0h1m1 0h1m7 0h2m6 0h1m5 0h1m9 0h1M0 567.22m16 0h1m2 0h1m35 0h2m8 0h1m14 0h1m3 0h1m15 0h1m15 0h1m12 0h1m8 0h1m2 0h2m4 0h1m11 0h1m7 0h1M0 590.98m1 0h1m5 0h2m2 0h1m1 0h1m1 0h1m1 0h1m2 0h1m1 0h1m6 0h1m7 0h1m2 0h1m5 0h1m1 0h1m4 0h1m19 0h1m4 0h1m2 0h2m7 0h1m3 0h1m2 0h1m9 0h1m6 0h1m1 0h1m2 0h2m1 0h1m3 0h2m2 0h2m6 0h2m3 0h1m7 0h1m1 0h1m3 0h1m9 0h1m3 0h2m1 0h2m2 0h1m6 0h1M0 614.74m5 0h1m19 0h1m21 0h1m2 0h1m19 0h1m3 0h1m19 0h1m6 0h1m26 0h1m7 0h1m7 0h1m16 0h1m17 0h2m1 0h1M0 638.5m21 0h2m15 0h1m9 0h1m10 0h1m6 0h1m11 0h1m3 0h1m2 0h1m1 0h1m5 0h1m7 0h1m20 0h1m7 0h2m6 0h3m2 0h1m6 0h1m2 0h1m10 0h1m14 0h1M0 662.26m11 0h1m40 0h1m2 0h1m6 0h1m9 0h1m2 0h1m3 0h1m1 0h1m3 0h1m1 0h1m13 0h1m3 0h2m3 0h1m9 0h1m2 0h1m6 0h1m2 0h1m2 0h1m3 0h1m3 0h1m13 0h1m3 0h1m7 0h3m1 0h1m7 0h1M0 686.02m22 0h1m16 0h1m7 0h1m4 0h1m1 0h1m1 0h1m2 0h1m5 0h1m6 0h1m7 0h1m1 0h1m7 0h1m5 0h1m29 0h1m14 0h1m2 0h1m7 0h1m9 0h1m3 0h1m10 0h1m1 0h1M0 757.31m37 0h1m14 0h1m6 0h2m2 0h1m16 0h1m8 0h1m4 0h1m11 0h1m22 0h2m1 0h1m12 0h1m5 0h1m2 0h1m2 0h1m4 0h1m5 0h1m8 0h2M0 781.07m3 0h1m8 0h1m11 0h1m6 0h2m2 0h1m12 0h1m16 0h1m18 0h2m8 0h1m4 0h1m1 0h1m12 0h1m1 0h1m1 0h1m13 0h1m5 0h1m4 0h2m10 0h1m15 0h1m8 0h1m3 0h1M0 804.83m5 0h1m3 0h1m11 0h1m2 0h1m7 0h1m4 0h1m2 0h1m7 0h2m1 0h1m4 0h1m4 0h2m3 0h1m2 0h1m2 0h1m2 0h3m2 0h1m3 0h1m4 0h1m5 0h3m1 0h3m12 0h1m4 0h1m2 0h1m13 0h2m3 0h1m3 0h2m1 0h1m2 0h1m1 0h1m2 0h2m8 0h1m3 0h1m2 0h1m3 0h2m4 0h1M0 828.6m16 0h1m4 0h1m20 0h1m6 0h1m24 0h2m2 0h1m6 0h1m4 0h1m2 0h1m19 0h1m7 0h1m1 0h2m5 0h2m6 0h2m7 0h1m6 0h2m1 0h1m4 0h1m3 0h1m7 0h1m4 0h1m4 0h1M0 852.36m8 0h1m1 0h1m18 0h1m9 0h1m36 0h1m2 0h1m12 0h2m31 0h1m9 0h1m6 0h1m2 0h1m8 0h1m18 0h1m9 0h1M0 923.64m3 0h1m13 0h1m5 0h1m1 0h1m16 0h2m4 0h1m12 0h1m8 0h1m12 0h1m2 0h1m2 0h1m4 0h1m10 0h2m6 0h1m2 0h1m2 0h1m2 0h1m46 0h1M0 971.17m17 0h1m20 0h1m18 0h1m7 0h1m2 0h1m14 0h1m22 0h1m23 0h1m4 0h1m11 0h1m8 0h1m14 0h1m4 0h1M0 994.93m6 0h1m1 0h3m1 0h1m1 0h1m11 0h1m4 0h1m3 0h1m5 0h2m1 0h1m1 0h1m6 0h1m3 0h1m2 0h1m1 0h1m7 0h2m4 0h2m1 0h1m10 0h1m8 0h1m5 0h1m8 0h1m11 0h1m1 0h1m11 0h1m4 0h1m9 0h1m1 0h1m4 0h1m4 0h1m3 0h2m6 0h1M0 1018.69m2 0h1m3 0h1m9 0h2m20 0h1m9 0h1m13 0h1m19 0h1m4 0h1m18 0h1m19 0h1m7 0h1m19 0h1m11 0h1m13 0h1M0 1042.46h1m16 0h1m8 0h1m3 0h1m13 0h1m11 0h1m18 0h1m6 0h2m28 0h1m6 0h1m24 0h1m2 0h1m23 0h1m8 0h2M0 1066.22h1m12 0h2m5 0h1m20 0h1m1 0h1m2 0h1m6 0h1m4 0h1m5 0h2m17 0h1m2 0h1m1 0h1m4 0h1m5 0h1m8 0h1m3 0h1m7 0h1m2 0h1m8 0h1m10 0h1m4 0h1m9 0h1m1 0h1m1 0h1m9 0h1m4 0h1M0 1089.98m8 0h1m1 0h1m17 0h2m1 0h1m12 0h1m10 0h1m20 0h1m3 0h1m11 0h2m9 0h1m3 0h1m1 0h1m5 0h1m13 0h1m2 0h1m6 0h1m38 0h1M0 1113.74h2m3 0h1m12 0h1m4 0h1m5 0h1m8 0h1m10 0h1m10 0h1m2 0h1m6 0h1m24 0h1m3 0h1m26 0h1m1 0h2m4 0h1m9 0h1m12 0h1m13 0h1m8 0h1m1 0h2M0 1137.5m5 0h1m26 0h1m5 0h1m6 0h1m4 0h1m8 0h1m3 0h1m2 0h1m14 0h1m24 0h1m6 0h1m3 0h1m4 0h1m1 0h1m8 0h1m15 0h2m3 0h1m7 0h2m15 0h1M0 1161.27h1m25 0h2m13 0h1m5 0h1m1 0h1m14 0h1m3 0h1m4 0h1m1 0h1m9 0h3m6 0h1m11 0h1m11 0h1m7 0h1m1 0h1m4 0h1m4 0h2m21 0h2m11 0h1m7 0h2M0 1185.03m8 0h1m6 0h1m10 0h1m11 0h1m16 0h1m15 0h1m10 0h2m15 0h1m2 0h2m4 0h1m8 0h1m11 0h1m13 0h1m9 0h1m3 0h1m6 0h1m17 0h1m2 0h1M0 1208.79h1m4 0h1m5 0h1m9 0h1m12 0h1m24 0h1m25 0h1m3 0h1m7 0h1m8 0h1m2 0h1m3 0h1m8 0h1m14 0h1m5 0h1m2 0h1m12 0h1m2 0h1m9 0h1M0 1232.55m14 0h1m5 0h2m21 0h1m5 0h1m4 0h1m7 0h1m8 0h1m1 0h1m2 0h1m3 0h2m6 0h1m4 0h1m3 0h1m33 0h2m2 0h1m13 0h1m5 0h1m1 0h1m9 0h1m4 0h1m7 0h1m2 0h1M0 1265.98h1m3 0h2m27 0h1m8 0h1m4 0h2m2 0h1m11 0h1m1 0h1m3 0h1m2 0h1m1 0h1m10 0h1m23 0h1m2 0h1m3 0h1m3 0h1m1 0h1m1 0h1m3 0h1m7 0h1m5 0h1m9 0h1m8 0h2m10 0h1M0 1289.74m4 0h1m3 0h2m5 0h1m2 0h1m12 0h1m13 0h1m8 0h1m16 0h1m3 0h1m3 0h2m11 0h1m8 0h1m4 0h1m5 0h1m26 0h1m33 0h1M0 1361.03m22 0h1m16 0h1m3 0h2m4 0h1m9 0h1m2 0h1m11 0h1m2 0h1m1 0h1m2 0h1m2 0h2m2 0h1m7 0h1m9 0h1m2 0h2m2 0h2m1 0h1m2 0h1m1 0h2m8 0h1m5 0h2m3 0h2m1 0h1m1 0h1m2 0h1m4 0h1m8 0h1m1 0h1m2 0h1m1 0h1m2 0h3m3 0h1m1 0h1m1 0h1M0 1479.84m2 0h1m32 0h1m7 0h1m8 0h1m3 0h1m1 0h1m3 0h1m7 0h3m7 0h1m1 0h1m2 0h1m5 0h1m5 0h1m1 0h1m28 0h2m14 0h1m10 0h1m9 0h1m4 0h1m1 0h1m9 0h1M0 1503.6m35 0h1m3 0h1m8 0h1m21 0h1m1 0h2m1 0h1m11 0h1m3 0h1m4 0h1m9 0h1m14 0h1m5 0h1m2 0h1m1 0h1m12 0h1m2 0h1m6 0h1m3 0h2m4 0h1m1 0h1m6 0h1m2 0h1m2 0h1m1 0h1M0 1551.12m47 0h2m7 0h1m1 0h1m22 0h1m6 0h1m2 0h1m2 0h1m24 0h1m5 0h1m6 0h1m11 0h1m5 0h1m3 0h2m7 0h1m6 0h1M0 1622.41m4 0h2m14 0h1m1 0h1m7 0h2m11 0h1m7 0h2m7 0h1m1 0h1m15 0h2m25 0h1m14 0h1m5 0h1m4 0h1m5 0h1m4 0h1m17 0h1m2 0h1m1 0h2m7 0h1m2 0h2m2 0h1M0 1646.17m9 0h1m6 0h1m37 0h1m13 0h2m12 0h1m22 0h1m10 0h1m7 0h1m6 0h1m7 0h1m28 0h3m4 0h1m4 0h1M0 1693.7m1 0h1m11 0h1m4 0h1m2 0h1m6 0h1m5 0h1m12 0h1m7 0h2m12 0h1m11 0h1m1 0h1m3 0h2m2 0h1m3 0h1m4 0h1m22 0h1m2 0h1m20 0h1m1 0h1m19 0h1m8 0h1m5 0h1M0 1764.98m4 0h1m2 0h1m2 0h2m5 0h1m11 0h1m9 0h2m21 0h1m8 0h1m1 0h1m5 0h1m4 0h1m9 0h1m6 0h1m14 0h1m5 0h1m25 0h1m5 0h2m11 0h1m17 0h1M0 1812.51m28 0h1m20 0h1m5 0h1m16 0h1m9 0h1m1 0h1m1 0h1m8 0h1m11 0h1m3 0h1m2 0h1m22 0h1m1 0h1m21 0h1m13 0h1M0 1836.27m6 0h1m16 0h1m10 0h1m5 0h1m23 0h1m6 0h1m6 0h1m5 0h1m28 0h1m11 0h1m8 0h1m8 0h1m1 0h1m13 0h1m14 0h2m6 0h1M0 1860.03m33 0h1m2 0h1m19 0h1m4 0h1m1 0h3m2 0h1m5 0h1m7 0h2m1 0h1m2 0h1m10 0h2m1 0h3m1 0h1m1 0h1m5 0h1m1 0h1m2 0h1m4 0h1m2 0h1m3 0h1m3 0h1m1 0h1m8 0h1m2 0h1m6 0h1m1 0h1m5 0h1m2 0h1m3 0h1m6 0h1m2 0h1M0 1883.79h1m9 0h1m3 0h1m17 0h2m11 0h1m15 0h1m5 0h1m7 0h1m2 0h1m21 0h1m7 0h1m27 0h2m31 0h1m13 0h2M0 1907.56m6 0h1m9 0h1m10 0h1m1 0h1m1 0h1m8 0h1m4 0h1m2 0h1m6 0h1m10 0h1m7 0h1m3 0h1m1 0h1m1 0h1m22 0h1m1 0h1m1 0h1m1 0h1m12 0h1m6 0h1m12 0h1m12 0h1m4 0h1m1 0h1m9 0h1m2 0h1m1 0h1m5 0h1M0 2026.37m37 0h1m17 0h1m45 0h1m23 0h1m14 0h1m1 0h1m10 0h1m14 0h1m4 0h1m6 0h1m1 0h1m1 0h1M0 2050.13m5 0h1m7 0h1m5 0h1m4 0h2m43 0h1m4 0h1m30 0h1m8 0h1m1 0h1m3 0h1m64 0h1M0 2083.18m29 0h1m10 0h1m8 0h1m10 0h1m15 0h1m5 0h1m21 0h1m1 0h1m20 0h1m2 0h2m6 0h1m2 0h2m9 0h1m2 0h1m9 0h1m7 0h1M0 2106.94m19 0h1m11 0h1m18 0h1m26 0h1m1 0h1m18 0h1m10 0h1m13 0h1m21 0h1m3 0h1m26 0h1m8 0h1M0 2130.7m26 0h1m20 0h1m36 0h1m3 0h1m14 0h2m12 0h1m2 0h1m1 0h1m11 0h1m24 0h1m2 0h1m18 0h2m1 0h1M0 2154.47m29 0h1m14 0h1m22 0h1m3 0h1m1 0h2m22 0h2m10 0h1m15 0h1m10 0h1m13 0h1m1 0h1m3 0h1m4 0h1m11 0h1m3 0h1M0 2201.99m2 0h1m1 0h1m17 0h1m7 0h1m8 0h1m2 0h1m8 0h1m4 0h2m3 0h1m3 0h1m4 0h1m4 0h2m2 0h2m3 0h1m15 0h1m16 0h3m8 0h1m1 0h1m16 0h1m14 0h1m3 0h1m6 0h1m3 0h2M0 2282.88m26 0h1m13 0h1m2 0h1m26 0h1m3 0h1m3 0h1m6 0h1m16 0h1m2 0h1m2 0h2m7 0h1m11 0h1m4 0h1m13 0h1m20 0h1M0 2306.64m48 0h1m1 0h1m8 0h1m6 0h1m7 0h1m9 0h1m7 0h1m1 0h1m7 0h1m7 0h1m8 0h1m6 0h1m10 0h1m12 0h1m8 0h1m5 0h1m17 0h1M0 2401.69m35 0h1m11 0h2m55 0h1m5 0h1m8 0h1m2 0h1m8 0h1m10 0h1m4 0h1m32 0h1m1 0h1m1 0h1M0 2425.45m5 0h1m14 0h1m6 0h1m1 0h2m5 0h3m1 0h1m8 0h2m4 0h1m1 0h2m4 0h1m5 0h1m1 0h2m2 0h1m2 0h1m2 0h2m1 0h1m3 0h2m1 0h3m6 0h1m3 0h1m1 0h2m1 0h1m6 0h1m15 0h1m2 0h1m1 0h1m2 0h1m1 0h2m1 0h2m6 0h3m6 0h1m1 0h1m1 0h1m5 0h2m5 0h1m5 0h1M0 2449.21m12 0h1m25 0h1m4 0h3m5 0h2m2 0h1m1 0h1m18 0h1m8 0h1m24 0h1m20 0h2m7 0h2m15 0h1m5 0h1m7 0h1M0 2472.98h1m8 0h1m16 0h2m18 0h1m1 0h1m21 0h1m3 0h1m5 0h1m5 0h1m9 0h1m27 0h2m36 0h1m8 0h2m4 0h2m2 0h1m2 0h1M0 2496.74m1 0h1m4 0h1m3 0h1m1 0h3m9 0h2m12 0h1m27 0h2m9 0h1m12 0h1m4 0h1m7 0h1m12 0h1m1 0h1m13 0h1m12 0h1m15 0h1m1 0h1m15 0h1m3 0h1M0 2544.26m2 0h2m15 0h1m3 0h1m3 0h1m8 0h1m2 0h1m12 0h1m4 0h1m1 0h1m6 0h1m5 0h1m5 0h1m12 0h1m4 0h1m13 0h1m1 0h2m2 0h1m5 0h2m4 0h1m2 0h1m11 0h1m38 0h1m1 0h1M0 2568.03m10 0h1m16 0h1m20 0h1m3 0h1m9 0h1m14 0h1m5 0h1m10 0h1m9 0h1m3 0h1m4 0h2m3 0h1m7 0h1m5 0h1m2 0h1m16 0h1m2 0h1m3 0h1m2 0h1m1 0h1m1 0h1m2 0h1M0 2591.79m8 0h1m3 0h1m3 0h1m5 0h1m21 0h1m2 0h1m5 0h1m20 0h1m11 0h1m3 0h2m14 0h1m1 0h1m11 0h2m20 0h1m10 0h1m8 0h1m7 0h1m14 0h1M0 2639.31m11 0h1m20 0h1m4 0h1m1 0h1m12 0h1m8 0h1m2 0h1m1 0h2m15 0h1m11 0h2m1 0h1m7 0h1m6 0h2m1 0h1m11 0h1m5 0h1m3 0h2m6 0h1m12 0h1m4 0h1m2 0h1m1 0h1m2 0h1m2 0h1m2 0h1M0 2686.84m16 0h1m12 0h1m9 0h1m6 0h1m1 0h1m4 0h1m9 0h1m8 0h1m3 0h1m7 0h1m8 0h1m19 0h1m25 0h1m1 0h1m5 0h1m4 0h2m2 0h1m12 0h1m1 0h1m3 0h1M0 2710.6m11 0h1m31 0h1m3 0h1m1 0h1m4 0h2m15 0h1m18 0h1m18 0h1m4 0h1m12 0h1m3 0h1m11 0h1m7 0h1m23 0h1m5 0h1m2 0h1M0 2758.12m6 0h1m4 0h2m10 0h1m1 0h1m8 0h1m6 0h1m5 0h1m8 0h1m2 0h1m2 0h2m1 0h2m1 0h1m2 0h1m1 0h1m6 0h2m3 0h2m1 0h2m2 0h1m1 0h1m3 0h3m4 0h3m7 0h1m4 0h2m5 0h1m2 0h2m5 0h1m3 0h3m1 0h1m2 0h1m7 0h1m1 0h1m2 0h1m3 0h1m2 0h1m3 0h2m5 0h1m4 0h2M0 2781.88m7 0h1m6 0h1m10 0h1m3 0h1m1 0h1m1 0h1m1 0h1m20 0h1m22 0h1m12 0h1m21 0h1m4 0h2m10 0h2m28 0h1m7 0h1m7 0h1m5 0h1M0 2805.64m3 0h1m4 0h1m5 0h1m15 0h1m2 0h1m18 0h1m3 0h1m7 0h1m20 0h1m13 0h1m30 0h1m2 0h1m3 0h1m1 0h1m16 0h2m6 0h1m5 0h1M0 2829.41m8 0h2m4 0h1m18 0h2m5 0h1m6 0h1m6 0h2m2 0h2m7 0h1m5 0h1m1 0h1m5 0h1m2 0h1m3 0h2m10 0h1m4 0h1m17 0h1m3 0h2m6 0h1m5 0h2m4 0h2m2 0h1m3 0h2m2 0h1m5 0h1m5 0h1m3 0h1"/>
<path transform="translate(38 0) scale(1.57634 1)" stroke="#dfdfff" stroke-width="23.81" fill="none" d="M0 400.88m1 0h1m5 0h1m2 0h1m3 0h2m4 0h1m1 0h1m1 0h2m9 0h1m5 0h2m14 0h2m10 0h1m9 0h2m21 0h1m4 0h1m17 0h2m4 0h1m6 0h1m16 0h1m1 0h1m4 0h1m15 0h1m3 0h1M0 448.4m5 0h1m4 0h1m1 0h1m3 0h1m2 0h1m2 0h1m7 0h1m17 0h1m24 0h1m1 0h1m10 0h1m13 0h1m8 0h1m3 0h1m5 0h1m14 0h1m3 0h1m4 0h1m26 0h1m2 0h1M0 472.17h1m12 0h1m5 0h1m2 0h1m4 0h1m1 0h2m14 0h1m1 0h1m3 0h1m3 0h1m17 0h2m5 0h1m17 0h1m8 0h1m4 0h1m15 0h1m5 0h1m3 0h1m1 0h1m4 0h1m1 0h1m16 0h1m10 0h1M0 495.93m11 0h1m1 0h1m3 0h1m1 0h1m9 0h1m6 0h1m18 0h1m17 0h1m14 0h1m1 0h1m18 0h1m5 0h1m3 0h1m4 0h2m1 0h1m4 0h3m1 0h1m5 0h1m5 0h1m1 0h2m9 0h1M0 519.69m2 0h1m4 0h1m11 0h1m3 0h1m7 0h1m7 0h1m2 0h1m4 0h1m12 0h1m5 0h1m18 0h1m4 0h1m3 0h1m7 0h1m1 0h1m3 0h1m14 0h1m1 0h1m11 0h1m4 0h1m3 0h1m17 0h1m8 0h1m2 0h1m4 0h1M0 543.45m11 0h1m1 0h1m4 0h1m12 0h1m11 0h1m4 0h1m2 0h1m6 0h1m3 0h1m10 0h1m59 0h1m10 0h1m3 0h2m2 0h1m9 0h1m3 0h1m1 0h1m5 0h1m8 0h2M0 614.74m1 0h1m4 0h1m1 0h1m3 0h1m1 0h2m1 0h2m14 0h1m7 0h1m9 0h2m4 0h1m1 0h1m15 0h1m14 0h1m7 0h1m11 0h2m10 0h1m1 0h1m9 0h1m6 0h1m16 0h1m3 0h2m4 0h1M0 638.5m5 0h2m1 0h2m22 0h1m7 0h1m2 0h1m11 0h1m6 0h1m11 0h1m33 0h1m1 0h1m5 0h1m18 0h1m37 0h1m3 0h1M0 662.26m5 0h1m24 0h2m2 0h1m25 0h1m12 0h1m28 0h2m4 0h2m3 0h1m39 0h1m13 0h1m12 0h1M0 709.79m13 0h1m2 0h1m6 0h1m24 0h1m9 0h1m1 0h1m11 0h1m5 0h1m19 0h1m2 0h1m3 0h1m14 0h1m6 0h1m27 0h1m7 0h1m2 0h1m2 0h1m2 0h1m4 0h1m2 0h1M0 733.55m2 0h2m11 0h1m1 0h1m4 0h1m1 0h1m2 0h1m7 0h3m15 0h1m2 0h1m5 0h1m7 0h1m3 0h1m7 0h2m1 0h1m9 0h2m1 0h1m3 0h1m1 0h1m10 0h1m7 0h1m1 0h1m5 0h1m9 0h1m4 0h1m2 0h2m1 0h1m4 0h1m7 0h2m9 0h1m3 0h1m1 0h1M0 781.07m7 0h2m14 0h1m9 0h1m24 0h1m4 0h1m5 0h1m7 0h1m2 0h1m36 0h1m4 0h1m12 0h1m15 0h1m15 0h1m5 0h1M0 828.6m8 0h1m5 0h1m13 0h1m12 0h1m1 0h1m12 0h1m5 0h1m9 0h1m11 0h1m2 0h1m9 0h1m2 0h2m1 0h1m6 0h1m9 0h1m13 0h1m26 0h1m6 0h1m2 0h2M0 876.12m35 0h1m10 0h1m24 0h2m2 0h1m1 0h1m7 0h1m10 0h1m5 0h2m3 0h1m3 0h1m6 0h1m4 0h1m2 0h1m11 0h2m8 0h1m8 0h1m3 0h1m19 0h1M0 899.88h1m2 0h1m1 0h1m6 0h2m2 0h1m5 0h2m4 0h1m19 0h1m23 0h2m1 0h2m7 0h1m5 0h1m6 0h1m10 0h1m9 0h1m8 0h1m8 0h1m2 0h1m4 0h1m35 0h1m1 0h1M0 923.64h1m5 0h1m13 0h2m6 0h1m7 0h1m17 0h2m7 0h1m1 0h1m12 0h1m18 0h1m1 0h1m2 0h1m5 0h1m6 0h1m35 0h1m7 0h1m13 0h1m5 0h1M0 947.41m7 0h1m3 0h1m6 0h1m7 0h1m16 0h1m11 0h1m1 0h1m7 0h1m7 0h1m9 0h1m17 0h1m10 0h1m8 0h1m19 0h1m1 0h1m5 0h1m2 0h1m18 0h1m10 0h1M0 994.93h1m15 0h1m17 0h1m1 0h1m14 0h1m6 0h2m29 0h1m7 0h1m5 0h1m3 0h1m2 0h2m4 0h1m5 0h1m2 0h1m4 0h1m3 0h1m1 0h1m28 0h2m11 0h1m1 0h1M0 1018.69h1m2 0h1m17 0h1m10 0h1m13 0h1m3 0h1m2 0h1m36 0h1m12 0h1m7 0h1m2 0h1m18 0h1m14 0h1m9 0h1m3 0h1m14 0h1m6 0h1M0 1042.46m12 0h1m5 0h1m1 0h1m6 0h1m9 0h1m24 0h1m3 0h1m2 0h1m61 0h1m5 0h1m22 0h1m6 0h1m8 0h1m2 0h1M0 1066.22m2 0h1m7 0h1m6 0h1m12 0h1m7 0h1m16 0h1m14 0h1m1 0h1m2 0h1m3 0h1m12 0h1m7 0h1m1 0h1m22 0h1m5 0h1m4 0h1m8 0h1m1 0h1m6 0h1m4 0h1m1 0h1m14 0h1m7 0h2M0 1161.27m2 0h1m10 0h1m19 0h2m20 0h1m14 0h1m6 0h1m6 0h1m3 0h1m4 0h1m17 0h1m1 0h1m7 0h1m7 0h1m11 0h1m9 0h1m7 0h1m25 0h1M0 1232.55m6 0h1m10 0h1m4 0h1m13 0h1m2 0h1m11 0h1m3 0h1m16 0h1m9 0h1m23 0h2m6 0h1m9 0h1m1 0h1m13 0h1m9 0h2m2 0h1m19 0h1m1 0h1m4 0h1M0 1313.5m2 0h1m37 0h1m2 0h1m53 0h1m2 0h1m1 0h1m4 0h1m16 0h1m15 0h2m6 0h1m2 0h1m5 0h1m10 0h1m5 0h2m1 0h1m4 0h1M0 1337.27m7 0h1m13 0h1m4 0h1m2 0h1m1 0h1m4 0h1m44 0h1m6 0h1m2 0h1m7 0h1m12 0h1m9 0h1m5 0h2m2 0h1m5 0h1m26 0h1m1 0h2m10 0h1m2 0h1M0 1361.03m41 0h1m3 0h1m15 0h1m3 0h1m1 0h1m20 0h1m6 0h2m4 0h1m3 0h2m2 0h1m6 0h1m2 0h1m5 0h2m1 0h1m2 0h1m4 0h1m3 0h1m6 0h1m5 0h1m1 0h1m1 0h1m4 0h1m1 0h1m3 0h1M0 1384.79m13 0h1m17 0h1m12 0h1m5 0h1m4 0h3m13 0h1m16 0h1m5 0h1m2 0h1m17 0h1m9 0h1m5 0h1m7 0h1m1 0h1m10 0h1m13 0h1m4 0h1m1 0h1m8 0h1m1 0h1M0 1408.55m9 0h1m2 0h1m3 0h1m9 0h2m17 0h1m2 0h1m2 0h1m19 0h1m14 0h1m4 0h1m5 0h1m8 0h1m5 0h2m9 0h1m16 0h1m2 0h1m15 0h1m6 0h1m17 0h1M0 1432.32m10 0h1m2 0h1m4 0h1m1 0h2m9 0h1m2 0h1m4 0h1m3 0h2m1 0h1m2 0h1m2 0h1m1 0h1m9 0h2m1 0h1m12 0h1m1 0h1m1 0h1m1 0h1m10 0h1m16 0h1m1 0h1m1 0h1m5 0h1m5 0h1m6 0h1m9 0h1m4 0h1m3 0h1m10 0h1m1 0h1m3 0h1m2 0h2m4 0h1m2 0h1M0 1456.08m22 0h1m8 0h1m22 0h1m3 0h1m15 0h1m2 0h1m12 0h2m11 0h1m32 0h2m9 0h1m7 0h1m8 0h1m4 0h1m13 0h1M0 1479.84h1m5 0h1m5 0h1m6 0h2m3 0h1m21 0h1m6 0h1m11 0h1m8 0h1m2 0h1m43 0h1m12 0h1m2 0h1m2 0h1m4 0h1m2 0h2m19 0h1m3 0h1M0 1503.6m37 0h1m26 0h1m6 0h1m7 0h1m12 0h1m17 0h1m5 0h2m1 0h1m4 0h1m12 0h2m2 0h1m4 0h1m2 0h2m2 0h1m16 0h2M0 1527.36m40 0h1m11 0h1m1 0h2m1 0h2m16 0h1m10 0h1m9 0h1m1 0h1m10 0h1m2 0h1m19 0h1m5 0h1m1 0h1m9 0h1m3 0h3m27 0h1M0 1551.12m38 0h1m5 0h2m21 0h1m5 0h1m1 0h1m1 0h1m1 0h1m17 0h2m15 0h1m3 0h1m5 0h1m24 0h1m6 0h1m7 0h1m8 0h1m3 0h1M0 1574.89m5 0h1m7 0h2m36 0h1m20 0h1m4 0h1m11 0h1m18 0h1m1 0h1m5 0h1m16 0h1m10 0h2m18 0h1m8 0h1m3 0h1m1 0h1m5 0h1M0 1598.65m8 0h1m4 0h1m7 0h1m10 0h1m7 0h1m6 0h1m4 0h1m19 0h1m8 0h1m1 0h3m1 0h1m2 0h2m1 0h1m2 0h1m3 0h1m1 0h2m8 0h1m2 0h1m2 0h1m22 0h1m1 0h1m5 0h1m14 0h1m16 0h1M0 1622.41m8 0h2m3 0h1m5 0h1m17 0h1m3 0h1m8 0h1m7 0h1m4 0h1m5 0h1m6 0h1m4 0h2m10 0h1m1 0h1m7 0h1m12 0h1m1 0h1m8 0h1m15 0h1m11 0h1m3 0h1m11 0h2M0 1669.93m1 0h1m3 0h2m1 0h2m6 0h1m1 0h1m3 0h1m4 0h1m19 0h1m18 0h1m7 0h1m1 0h1m12 0h2m1 0h1m1 0h1m7 0h1m4 0h1m8 0h1m2 0h1m3 0h1m12 0h1m3 0h1m11 0h2m18 0h1M0 1693.7m15 0h1m17 0h1m2 0h1m6 0h1m1 0h1m3 0h1m2 0h1m7 0h1m7 0h1m1 0h1m7 0h1m10 0h1m8 0h1m8 0h1m6 0h1m3 0h1m3 0h1m9 0h1m5 0h1m1 0h1m15 0h1m5 0h3m7 0h2m7 0h1M0 1717.46m3 0h1m11 0h1m4 0h1m6 0h1m3 0h2m10 0h1m8 0h2m8 0h1m6 0h1m2 0h1m4 0h1m4 0h1m4 0h1m1 0h1m1 0h1m1 0h1m9 0h1m7 0h1m5 0h1m2 0h1m8 0h1m1 0h1m4 0h1m6 0h1m2 0h1m2 0h1m11 0h2m1 0h1m2 0h1m1 0h1m4 0h1m2 0h1m2 0h1m3 0h1M0 1741.22m7 0h1m1 0h1m2 0h2m4 0h1m12 0h1m1 0h1m2 0h1m3 0h2m3 0h1m1 0h1m9 0h1m7 0h1m5 0h1m4 0h1m4 0h1m8 0h1m8 0h2m2 0h1m1 0h1m4 0h1m4 0h2m2 0h1m7 0h1m5 0h1m2 0h1m6 0h1m8 0h1m2 0h1m1 0h1m3 0h1m1 0h1m8 0h1m4 0h1m3 0h1m2 0h1M0 1788.75m1 0h1m6 0h1m8 0h1m1 0h1m4 0h1m1 0h1m13 0h1m5 0h1m1 0h2m20 0h1m1 0h1m7 0h1m16 0h1m4 0h1m2 0h2m4 0h1m3 0h1m2 0h1m2 0h1m8 0h1m2 0h1m14 0h1M0 1836.27m1 0h1m7 0h1m26 0h1m2 0h1m32 0h1m15 0h1m2 0h1m1 0h1m1 0h1m2 0h2m28 0h1m3 0h1m6 0h1m22 0h2m13 0h1m6 0h1M0 1931.32m3 0h1m12 0h1m1 0h1m21 0h1m1 0h1m6 0h1m4 0h1m30 0h1m17 0h1m1 0h1m10 0h1m8 0h1m16 0h1m3 0h1m2 0h1m12 0h1m2 0h1M0 1955.08h1m26 0h1m1 0h1m11 0h1m29 0h1m7 0h1m16 0h1m8 0h1m11 0h1m32 0h1m3 0h1m3 0h1m4 0h1M0 1978.84m6 0h1m10 0h1m4 0h1m2 0h3m1 0h1m2 0h2m3 0h1m8 0h2m2 0h1m1 0h1m2 0h1m12 0h1m5 0h1m2 0h1m7 0h1m12 0h1m2 0h1m1 0h3m12 0h1m2 0h1m1 0h1m5 0h1m6 0h1m1 0h3m1 0h2m1 0h2m5 0h1m4 0h3m3 0h1m12 0h1m5 0h1M0 2002.6m12 0h4m2 0h1m2 0h1m4 0h1m3 0h1m15 0h1m26 0h1m1 0h1m8 0h1m2 0h2m2 0h1m1 0h2m1 0h1m8 0h1m1 0h1m1 0h1m1 0h1m5 0h2m4 0h1m5 0h1m3 0h1m3 0h1m2 0h1m2 0h1m11 0h2m2 0h1m7 0h1m2 0h1m2 0h2m2 0h1m4 0h2M0 2178.23m2 0h1m18 0h2m1 0h1m4 0h1m5 0h1m3 0h1m5 0h1m2 0h1m1 0h2m1 0h1m2 0h1m10 0h1m8 0h1m15 0h3m4 0h1m1 0h2m2 0h2m1 0h1m1 0h1m4 0h1m12 0h2m6 0h1m6 0h3m2 0h1m6 0h1m3 0h1m1 0h1m2 0h2m4 0h1m1 0h1m4 0h1m5 0h2M0 2201.99m10 0h1m14 0h1m41 0h2m19 0h1m4 0h2m34 0h1m3 0h1m25 0h1m1 0h1m3 0h1m8 0h2M0 2225.75m3 0h1m6 0h1m1 0h1m6 0h1m14 0h1m1 0h1m24 0h1m1 0h1m1 0h1m14 0h1m2 0h1m6 0h1m3 0h1m5 0h1m2 0h2m9 0h1m8 0h1m1 0h1m18 0h1m8 0h1m8 0h1m1 0h1m2 0h2m1 0h2m1 0h1m2 0h1m2 0h1m1 0h1m3 0h1M0 2249.51m3 0h1m2 0h2m11 0h1m5 0h1m16 0h1m7 0h1m5 0h1m6 0h2m7 0h1m2 0h1m7 0h1m1 0h1m1 0h2m13 0h1m4 0h1m21 0h1m1 0h1m9 0h1m9 0h2m4 0h1m4 0h1m7 0h1m14 0h1M0 2306.64m6 0h1m2 0h1m6 0h1m7 0h1m4 0h1m9 0h1m2 0h1m3 0h1m9 0h3m4 0h1m3 0h1m2 0h2m1 0h1m13 0h1m3 0h1m8 0h1m8 0h1m2 0h1m12 0h1m5 0h1m17 0h1m2 0h1m10 0h1m7 0h1M0 2330.4h1m2 0h1m4 0h4m4 0h2m4 0h2m5 0h1m9 0h1m3 0h2m2 0h3m1 0h1m2 0h1m2 0h1m3 0h1m9 0h1m1 0h1m4 0h1m3 0h1m12 0h1m1 0h2m2 0h2m2 0h2m1 0h1m1 0h1m1 0h1m5 0h1m1 0h1m6 0h1m1 0h1m1 0h3m2 0h1m2 0h1m3 0h1m2 0h1m2 0h1m5 0h1m5 0h1m1 0h3m6 0h1m1 0h1m1 0h1m1 0h1m2 0h1M0 2354.17m19 0h1m30 0h1m6 0h1m25 0h1m5 0h1m3 0h2m1 0h1m1 0h1m5 0h1m1 0h1m10 0h1m4 0h1m23 0h1m9 0h1m19 0h1m1 0h1m4 0h1M0 2377.93m15 0h2m1 0h2m7 0h1m2 0h2m4 0h1m1 0h1m2 0h1m13 0h3m12 0h1m1 0h2m2 0h1m1 0h1m3 0h1m1 0h1m12 0h1m3 0h1m4 0h1m1 0h1m6 0h1m1 0h1m1 0h1m5 0h1m4 0h1m1 0h2m12 0h1m1 0h1m6 0h1m3 0h1m19 0h1m1 0h1m3 0h1M0 2401.69m32 0h1m7 0h1m1 0h1m2 0h1m17 0h1m2 0h1m2 0h1m2 0h1m3 0h1m1 0h1m27 0h1m8 0h1m14 0h1m2 0h1m3 0h2m13 0h1m14 0h1M0 2449.21m11 0h1m8 0h1m25 0h1m23 0h1m8 0h1m17 0h1m8 0h1m4 0h2m45 0h1m1 0h1m1 0h1m4 0h1m1 0h2m8 0h1M0 2496.74m2 0h1m13 0h1m10 0h1m4 0h1m3 0h1m34 0h1m1 0h2m4 0h1m7 0h1m26 0h1m4 0h1m2 0h1m8 0h1m6 0h1m4 0h2m15 0h1m19 0h1m1 0h1m1 0h1M0 2520.5m3 0h1m7 0h1m2 0h1m2 0h1m8 0h1m1 0h2m9 0h1m6 0h1m10 0h1m2 0h1m8 0h1m1 0h1m1 0h1m1 0h2m27 0h2m9 0h1m3 0h1m8 0h1m5 0h1m7 0h1m3 0h1m2 0h1m9 0h1m6 0h1m2 0h2m6 0h1m2 0h1m1 0h1M0 2544.26m11 0h1m5 0h1m11 0h1m5 0h1m5 0h1m5 0h1m6 0h1m13 0h2m25 0h1m3 0h1m2 0h1m4 0h1m17 0h1m13 0h1m9 0h1m1 0h1m3 0h1m12 0h1m9 0h2m5 0h1M0 2568.03m19 0h1m8 0h1m15 0h1m15 0h1m21 0h1m6 0h1m10 0h1m6 0h1m9 0h1m6 0h1m9 0h1m9 0h1m3 0h2m11 0h1m5 0h1m3 0h1m2 0h1M0 2591.79m3 0h1m24 0h1m14 0h1m15 0h1m10 0h1m5 0h1m17 0h1m4 0h1m4 0h1m24 0h1m17 0h2m29 0h1m4 0h1M0 2615.55m26 0h1m9 0h2m4 0h1m2 0h1m6 0h1m11 0h1m1 0h1m5 0h1m6 0h1m5 0h1m3 0h2m2 0h1m12 0h1m10 0h1m23 0h1m7 0h1m7 0h1m5 0h1m2 0h1m2 0h1m10 0h1m2 0h1M0 2663.07m1 0h2m1 0h1m7 0h1m17 0h1m8 0h1m7 0h1m8 0h1m14 0h1m11 0h1m1 0h1m5 0h1m5 0h1m7 0h1m13 0h1m11 0h1m5 0h1m14 0h2M0 2734.36m3 0h2m5 0h1m3 0h1m3 0h1m1 0h1m5 0h1m8 0h1m4 0h1m3 0h1m24 0h1m1 0h1m3 0h1m2 0h1m2 0h1m30 0h1m8 0h1m4 0h2m12 0h1m8 0h1m7 0h1m1 0h1m12 0h1"/>
<path transform="translate(38 0) scale(1.57634 1)" stroke="#ffffff" stroke-width="23.81" fill="none" d="M0 400.88m28 0h1m5 0h1m15 0h1m9 0h1m10 0h1m2 0h1m6 0h1m2 0h2m3 0h1m8 0h1m1 0h1m23 0h1m4 0h1m5 0h1m5 0h1m3 0h3m2 0h1m2 0h1m22 0h1m2 0h1m1 0h1M0 424.64m12 0h1m23 0h1m3 0h1m3 0h1m7 0h1m6 0h1m1 0h1m4 0h1m7 0h2m9 0h1m3 0h1m7 0h2m8 0h1m7 0h1m13 0h2m14 0h1m9 0h1m1 0h1m3 0h1m1 0h1m11 0h1m5 0h1M0 472.17m2 0h1m1 0h1m2 0h1m1 0h1m18 0h1m10 0h1m22 0h1m6 0h1m8 0h2m16 0h2m7 0h2m15 0h1m6 0h1m1 0h1m3 0h1m25 0h1m1 0h1m1 0h1m5 0h1m13 0h1M0 495.93m7 0h1m16 0h1m21 0h1m3 0h1m1 0h1m14 0h1m3 0h1m19 0h2m14 0h1m13 0h1m31 0h2M0 519.69m27 0h1m8 0h1m18 0h1m30 0h1m2 0h1m11 0h1m4 0h1m27 0h1m9 0h1m8 0h1m23 0h2M0 543.45m7 0h1m25 0h1m1 0h1m11 0h1m9 0h1m21 0h1m2 0h1m10 0h1m9 0h1m13 0h1m14 0h1m1 0h1m4 0h1m13 0h1m3 0h1M0 567.22m15 0h1m14 0h2m1 0h2m10 0h1m12 0h1m9 0h1m3 0h1m12 0h1m28 0h1m24 0h1m22 0h1m13 0h1M0 590.98m12 0h1m20 0h1m8 0h1m7 0h1m3 0h1m10 0h1m9 0h1m8 0h1m20 0h1m4 0h2m24 0h1m3 0h1m21 0h1m13 0h1M0 638.5m1 0h1m10 0h1m4 0h4m6 0h1m3 0h1m35 0h2m11 0h1m3 0h1m3 0h1m3 0h1m11 0h1m1 0h1m4 0h2m1 0h2m3 0h1m27 0h1m3 0h1m2 0h1m1 0h1m1 0h1m4 0h1m2 0h1m11 0h1m3 0h1M0 662.26m6 0h1m3 0h1m3 0h1m10 0h2m19 0h1m2 0h1m11 0h1m9 0h1m4 0h1m39 0h1m2 0h1m2 0h1m4 0h1m1 0h1m7 0h1m25 0h1m2 0h1m17 0h1M0 686.02m13 0h2m11 0h1m42 0h1m21 0h2m10 0h1m3 0h1m2 0h1m10 0h1m23 0h1m17 0h1m5 0h1m1 0h2m1 0h1m3 0h1M0 709.79m15 0h1m59 0h1m6 0h1m5 0h2m1 0h1m19 0h1m3 0h1m8 0h1m11 0h1m1 0h1m3 0h1m5 0h1m9 0h1m25 0h1M0 733.55m9 0h1m2 0h1m19 0h1m9 0h1m4 0h1m25 0h1m44 0h1m1 0h1m9 0h1m2 0h3m8 0h1m25 0h1m8 0h1m5 0h1M0 757.31m28 0h2m3 0h1m9 0h1m10 0h1m6 0h1m6 0h1m22 0h1m3 0h1m3 0h1m3 0h2m6 0h2m8 0h1m9 0h1m1 0h1m10 0h1m10 0h1m10 0h1m6 0h1M0 804.83h2m2 0h1m1 0h1m5 0h1m3 0h1m2 0h2m25 0h1m16 0h1m7 0h1m21 0h1m8 0h1m8 0h1m3 0h1m17 0h1m25 0h1m2 0h1m1 0h1m2 0h1m1 0h1m4 0h1m4 0h1M0 852.36m2 0h1m9 0h1m12 0h1m30 0h1m13 0h1m9 0h1m27 0h1m40 0h1m13 0h1m18 0h1M0 876.12m43 0h1m4 0h1m2 0h1m1 0h1m8 0h1m24 0h1m3 0h1m20 0h1m12 0h1m2 0h1m5 0h1m19 0h1m4 0h1m15 0h1m1 0h1m1 0h1M0 899.88m33 0h1m4 0h2m10 0h1m5 0h1m4 0h1m33 0h1m5 0h2m16 0h1m28 0h1m23 0h1m5 0h1M0 923.64m9 0h1m1 0h2m6 0h1m19 0h1m9 0h1m59 0h1m4 0h1m10 0h1m3 0h1m1 0h1m12 0h1m3 0h1m1 0h1m10 0h1m5 0h2m2 0h1m3 0h1m6 0h1M0 947.41m20 0h1m13 0h1m4 0h1m2 0h1m6 0h1m11 0h1m10 0h1m11 0h1m2 0h1m6 0h1m13 0h1m29 0h1m3 0h1m8 0h1m8 0h1m15 0h1m4 0h1M0 971.17m43 0h1m20 0h1m34 0h1m1 0h1m2 0h1m4 0h3m6 0h1m14 0h1m10 0h1m3 0h1m13 0h1m6 0h1m15 0h1M0 994.93m22 0h1m17 0h1m28 0h1m2 0h1m12 0h1m7 0h1m1 0h1m4 0h1m8 0h1m7 0h1m29 0h1m6 0h1m1 0h1m1 0h1m10 0h1m5 0h1M0 1042.46m6 0h2m33 0h1m5 0h1m4 0h1m6 0h1m17 0h1m12 0h1m19 0h1m2 0h3m8 0h1m8 0h1m7 0h1m1 0h1m2 0h1m16 0h1m1 0h1m4 0h1m2 0h1M0 1066.22m6 0h1m4 0h1m16 0h1m16 0h1m4 0h1m6 0h1m1 0h1m1 0h1m5 0h1m17 0h1m8 0h1m23 0h1m20 0h1m6 0h1m5 0h1m25 0h2m2 0h1M0 1089.98m17 0h1m34 0h1m4 0h1m7 0h1m20 0h1m23 0h1m13 0h1m12 0h1m5 0h1m18 0h1m3 0h1m1 0h1m4 0h1m6 0h1m2 0h1M0 1113.74m39 0h1m1 0h1m15 0h1m7 0h1m18 0h1m17 0h1m12 0h1m8 0h1m11 0h1m1 0h1m13 0h1m17 0h1m4 0h1m9 0h1M0 1137.5m44 0h1m23 0h2m2 0h1m3 0h1m3 0h1m6 0h1m19 0h1m4 0h1m10 0h1m27 0h1m14 0h1M0 1161.27m7 0h1m12 0h1m17 0h1m23 0h1m2 0h1m16 0h1m24 0h1m14 0h1m4 0h1m9 0h1m2 0h1m1 0h1m7 0h1m1 0h1m7 0h1m2 0h1m2 0h2m1 0h1m9 0h1M0 1185.03m4 0h1m19 0h1m3 0h1m6 0h2m8 0h1m50 0h1m18 0h1m10 0h1m18 0h1m5 0h1m17 0h1m4 0h1m6 0h1M0 1208.79m8 0h1m3 0h1m43 0h1m14 0h1m4 0h2m17 0h1m68 0h1m12 0h1M0 1232.55m1 0h1m1 0h1m8 0h2m18 0h1m5 0h1m13 0h1m13 0h1m2 0h1m5 0h1m3 0h1m3 0h1m1 0h1m3 0h1m10 0h1m2 0h1m5 0h1m5 0h1m1 0h1m2 0h1m8 0h1m15 0h1m7 0h1m8 0h1m15 0h1M0 1265.98m11 0h1m3 0h1m1 0h1m9 0h1m6 0h1m3 0h1m4 0h1m15 0h1m8 0h1m4 0h1m1 0h1m6 0h1m7 0h1m11 0h1m12 0h1m28 0h1m5 0h1m2 0h1m11 0h1m6 0h1M0 1289.74m24 0h1m1 0h1m7 0h1m8 0h1m11 0h1m5 0h1m15 0h1m3 0h1m6 0h1m5 0h1m13 0h1m5 0h1m11 0h1m2 0h1m13 0h1m5 0h1m9 0h1m2 0h1m13 0h1m2 0h1m3 0h1M0 1313.5m20 0h1m18 0h1m31 0h1m5 0h1m3 0h1m22 0h1m4 0h1m5 0h2m1 0h1m10 0h1m1 0h1m28 0h1M0 1337.27m1 0h1m10 0h1m6 0h1m15 0h1m3 0h1m8 0h1m3 0h1m19 0h1m5 0h1m11 0h1m10 0h1m7 0h1m15 0h1m4 0h1m4 0h1m3 0h2m16 0h2m4 0h1m5 0h1m3 0h2m6 0h1M0 1384.79m8 0h1m37 0h1m4 0h1m9 0h1m18 0h1m1 0h1m26 0h1m1 0h1m18 0h1m3 0h1m10 0h2m7 0h1m2 0h1m6 0h1m13 0h1m1 0h1M0 1408.55h2m5 0h1m12 0h1m12 0h1m1 0h1m21 0h2m3 0h1m3 0h1m5 0h1m6 0h1m2 0h1m2 0h1m6 0h1m1 0h1m6 0h1m7 0h1m1 0h1m7 0h1m5 0h1m4 0h1m1 0h1m5 0h1m6 0h1m11 0h2m11 0h1m2 0h1m4 0h1m1 0h1m2 0h1m1 0h1M0 1432.32m35 0h1m20 0h1m1 0h1m3 0h1m7 0h1m10 0h1m6 0h1m3 0h1m1 0h1m3 0h1m7 0h1m2 0h1m5 0h1m1 0h1m16 0h1m1 0h1m5 0h1m3 0h1m17 0h1m18 0h1M0 1456.08m2 0h1m11 0h1m29 0h1m18 0h1m17 0h1m19 0h1m16 0h1m2 0h1m10 0h1m9 0h2m1 0h1m4 0h1m12 0h1m11 0h1m6 0h1M0 1527.36m59 0h1m1 0h1m2 0h1m11 0h2m12 0h1m3 0h1m4 0h1m4 0h1m3 0h1m5 0h1m10 0h1m7 0h3m7 0h1m2 0h1m12 0h1m4 0h1M0 1574.89m16 0h1m8 0h1m31 0h1m6 0h1m14 0h1m17 0h1m5 0h1m11 0h1m2 0h1m13 0h1m1 0h1m14 0h1m10 0h1m13 0h1m8 0h1M0 1598.65m16 0h1m13 0h1m11 0h1m7 0h1m11 0h1m32 0h1m15 0h1m11 0h1m9 0h1m18 0h1m2 0h1m12 0h1m2 0h1m7 0h1M0 1622.41m16 0h1m18 0h1m3 0h1m4 0h1m35 0h1m8 0h2m3 0h1m2 0h1m17 0h1m6 0h1m52 0h1m8 0h1M0 1646.17m24 0h1m6 0h1m11 0h1m14 0h1m14 0h1m19 0h1m10 0h1m7 0h2m27 0h1m31 0h1M0 1669.93h1m10 0h2m10 0h1m8 0h1m3 0h2m14 0h1m9 0h1m7 0h1m6 0h1m3 0h1m14 0h1m13 0h1m18 0h1m5 0h1m3 0h1m8 0h1m13 0h2m1 0h1m2 0h1m4 0h1m4 0h1M0 1693.7m6 0h1m1 0h1m2 0h1m17 0h1m5 0h1m3 0h1m4 0h1m14 0h1m2 0h1m1 0h1m2 0h1m5 0h2m11 0h1m5 0h2m3 0h1m6 0h1m7 0h1m15 0h2m6 0h1m6 0h1m1 0h2m8 0h1m4 0h1m6 0h1M0 1717.46m7 0h1m1 0h2m6 0h1m15 0h1m5 0h1m1 0h1m5 0h1m8 0h1m4 0h1m6 0h1m38 0h1m18 0h1m10 0h1m4 0h1m9 0h1m6 0h1m22 0h1m2 0h1M0 1741.22m5 0h1m9 0h1m4 0h1m6 0h3m7 0h1m10 0h1m12 0h1m23 0h1m15 0h1m9 0h1m10 0h1m1 0h1m10 0h1m4 0h1m12 0h2m25 0h1M0 1764.98m2 0h1m11 0h1m1 0h1m16 0h1m40 0h1m23 0h1m4 0h1m1 0h1m14 0h1m15 0h2m8 0h1m5 0h1m13 0h1m7 0h2M0 1788.75m4 0h1m15 0h1m22 0h1m21 0h1m27 0h1m30 0h1m7 0h1m2 0h1m8 0h1m6 0h2m3 0h1m10 0h1M0 1812.51m1 0h1m14 0h1m16 0h1m9 0h1m2 0h1m4 0h1m8 0h1m30 0h1m26 0h1m8 0h1m2 0h1m3 0h2m9 0h1m9 0h1m4 0h1m4 0h1m18 0h1M0 1860.03m8 0h1m3 0h2m11 0h3m4 0h1m5 0h1m4 0h1m1 0h1m12 0h1m1 0h1m6 0h1m1 0h2m4 0h1m1 0h1m11 0h1m2 0h1m4 0h2m2 0h1m7 0h1m3 0h1m8 0h1m3 0h1m1 0h1m7 0h1m1 0h2m4 0h1m5 0h2m1 0h1m21 0h1M0 1883.79m5 0h1m1 0h1m9 0h2m4 0h1m6 0h1m17 0h1m16 0h1m35 0h1m3 0h1m4 0h1m7 0h1m27 0h1m2 0h1m12 0h1m4 0h1m10 0h2m1 0h1M0 1907.56m1 0h1m13 0h1m4 0h1m2 0h1m4 0h1m1 0h1m7 0h1m2 0h1m1 0h1m7 0h1m10 0h1m5 0h1m2 0h1m11 0h3m7 0h1m7 0h1m20 0h1m2 0h1m1 0h1m17 0h1m19 0h1m3 0h1m12 0h1M0 1931.32m22 0h1m5 0h1m29 0h1m3 0h1m5 0h1m1 0h1m1 0h1m4 0h1m15 0h1m10 0h1m18 0h2m19 0h2m7 0h1m19 0h1m1 0h1M0 1955.08m6 0h1m12 0h1m10 0h1m1 0h1m16 0h1m1 0h1m1 0h1m1 0h1m19 0h1m9 0h1m6 0h1m7 0h1m5 0h1m8 0h1m15 0h1m2 0h1m12 0h1m7 0h1m1 0h1m14 0h1m5 0h1M0 1978.84m5 0h1m2 0h1m1 0h1m1 0h2m1 0h1m5 0h1m8 0h1m3 0h1m8 0h1m7 0h1m10 0h2m3 0h1m7 0h2m10 0h1m9 0h1m10 0h1m13 0h1m8 0h1m29 0h2m2 0h1m5 0h1m3 0h1m7 0h1M0 2002.6h1m23 0h2m3 0h1m4 0h1m9 0h1m24 0h2m7 0h2m6 0h1m10 0h1m12 0h1m2 0h1m10 0h2m9 0h1m6 0h1m4 0h1m1 0h1m3 0h1m9 0h1m11 0h1m2 0h2m4 0h1M0 2026.37m5 0h1m10 0h1m14 0h1m11 0h1m29 0h1m1 0h1m20 0h1m1 0h2m28 0h2m4 0h1m11 0h1M0 2050.13m6 0h1m3 0h2m9 0h1m4 0h1m27 0h1m58 0h1m5 0h1m14 0h1m27 0h1m7 0h1m6 0h1M0 2083.18m27 0h1m14 0h1m8 0h1m3 0h1m1 0h1m14 0h1m4 0h1m18 0h1m3 0h2m32 0h1M0 2106.94m5 0h1m48 0h1m11 0h1m14 0h1m38 0h1m3 0h1m2 0h1m31 0h1m10 0h1m2 0h1m5 0h1m4 0h1M0 2130.7m30 0h1m5 0h1m4 0h1m14 0h1m1 0h1m2 0h1m5 0h1m9 0h1m40 0h1m10 0h1m5 0h2m9 0h1m3 0h1M0 2154.47m7 0h1m16 0h1m35 0h1m7 0h1m7 0h2m1 0h1m6 0h1m25 0h2m16 0h1m22 0h3M0 2178.23m7 0h1m8 0h1m1 0h1m4 0h1m2 0h2m6 0h1m25 0h1m1 0h1m22 0h1m9 0h1m1 0h1m2 0h1m8 0h1m25 0h1m31 0h1M0 2201.99m9 0h1m3 0h2m21 0h1m7 0h1m28 0h1m16 0h1m6 0h1m3 0h1m6 0h1m6 0h1m24 0h1m7 0h1m3 0h1m11 0h1m3 0h1m11 0h1M0 2225.75m4 0h1m4 0h1m4 0h1m1 0h2m5 0h1m14 0h1m16 0h2m15 0h1m4 0h1m6 0h1m4 0h1m1 0h1m7 0h1m6 0h2m2 0h1m1 0h2m6 0h1m5 0h1m2 0h2m1 0h1m4 0h1m4 0h2m6 0h1m31 0h1M0 2249.51m10 0h1m7 0h1m17 0h1m11 0h1m3 0h1m5 0h2m6 0h1m6 0h1m8 0h1m11 0h1m10 0h1m12 0h1m16 0h1m31 0h2M0 2282.88m4 0h1m18 0h1m13 0h1m9 0h1m4 0h1m27 0h1m19 0h1m32 0h1m15 0h1M0 2330.4m4 0h1m14 0h1m1 0h1m13 0h1m5 0h2m2 0h2m9 0h1m2 0h1m3 0h1m10 0h1m2 0h1m5 0h1m16 0h1m14 0h1m3 0h1m1 0h1m4 0h1m7 0h1m31 0h1m13 0h1m3 0h1M0 2354.17m1 0h1m15 0h1m9 0h1m17 0h1m5 0h1m14 0h1m5 0h1m3 0h1m7 0h1m7 0h1m12 0h1m5 0h1m2 0h1m17 0h1m11 0h1m10 0h1m10 0h1m5 0h1m6 0h1M0 2377.93m7 0h1m31 0h1m19 0h2m2 0h4m7 0h1m6 0h1m1 0h1m3 0h2m2 0h1m3 0h1m17 0h1m2 0h1m10 0h2m11 0h2m3 0h1m1 0h1m1 0h2m7 0h1m10 0h1m2 0h1m11 0h1M0 2425.45m8 0h1m32 0h1m9 0h1m24 0h1m19 0h1m26 0h1m3 0h1m1 0h2m26 0h1m2 0h1m13 0h1m3 0h1m2 0h1m1 0h1M0 2472.98m47 0h1m7 0h1m7 0h1m2 0h1m21 0h1m10 0h1m5 0h1m16 0h1m21 0h1m5 0h1M0 2496.74m34 0h1m8 0h1m9 0h1m5 0h2m1 0h1m18 0h2m1 0h1m3 0h1m9 0h1m7 0h1m2 0h3m24 0h1m13 0h1m6 0h1m23 0h1M0 2520.5m12 0h1m3 0h1m2 0h1m2 0h1m7 0h1m16 0h1m1 0h1m9 0h1m2 0h2m3 0h1m9 0h1m12 0h2m6 0h1m7 0h1m4 0h2m7 0h1m1 0h1m42 0h1m7 0h1M0 2568.03m33 0h1m7 0h1m15 0h1m6 0h2m15 0h1m5 0h1m4 0h2m29 0h1m4 0h2m8 0h1m1 0h1m12 0h1m24 0h1m1 0h2m3 0h1M0 2615.55m6 0h1m2 0h1m13 0h1m1 0h1m4 0h1m28 0h1m1 0h1m12 0h1m32 0h1m6 0h1m4 0h1m24 0h1m3 0h1m19 0h1M0 2639.31m25 0h1m19 0h1m7 0h1m1 0h1m26 0h1m9 0h1m12 0h1m1 0h1m17 0h2m9 0h1m39 0h1m2 0h1m2 0h1M0 2663.07m15 0h1m5 0h1m7 0h1m3 0h2m19 0h2m7 0h2m21 0h1m1 0h1m11 0h1m9 0h4m42 0h1m3 0h2m5 0h1m6 0h1m7 0h1M0 2686.84m4 0h1m8 0h1m12 0h1m9 0h1m7 0h1m19 0h1m14 0h1m14 0h1m20 0h1m24 0h1M0 2710.6m9 0h1m13 0h1m7 0h1m24 0h2m29 0h1m5 0h1m14 0h1m14 0h1m14 0h1m10 0h1m3 0h1m1 0h1m8 0h1m4 0h1m6 0h1M0 2734.36m9 0h1m3 0h1m28 0h1m16 0h1m7 0h1m5 0h1m9 0h1m4 0h1m7 0h1m4 0h1m6 0h1m8 0h1m17 0h2m4 0h1m9 0h1m3 0h1m6 0h1m1 0h1m3 0h1m13 0h1M0 2758.12m22 0h1m10 0h1m3 0h1m34 0h1m30 0h1m6 0h1m2 0h2m8 0h1m8 0h2m5 0h1m14 0h1m9 0h1m4 0h2m5 0h2m3 0h1M0 2781.88m3 0h1m8 0h1m28 0h1m19 0h1m6 0h3m1 0h1m4 0h1m3 0h1m5 0h1m6 0h1m8 0h1m9 0h1m1 0h1m2 0h1m5 0h1m1 0h1m1 0h1m14 0h1m5 0h1m4 0h2m7 0h1m8 0h1m5 0h1m2 0h1M0 2805.64h1m26 0h1m34 0h1m10 0h1m3 0h1m6 0h1m5 0h1m9 0h1m3 0h1m1 0h1m4 0h1m13 0h1m1 0h1m8 0h1m3 0h1m18 0h1m9 0h1m11 0h1M0 2829.41m2 0h1m1 0h1m16 0h1m6 0h1m34 0h1m23 0h1m11 0h1m2 0h1m1 0h1m3 0h1m4 0h1m3 0h1m8 0h1m2 0h1m20 0h1m6 0h1m16 0h1m10 0h1"/>
<path transform="translate(38 0) scale(1.57634 1)" stroke="#ffdfdf" stroke-width="23.81" fill="none" d="M0 400.88m8 0h1m4 0h1m39 0h2m28 0h1m17 0h1m19 0h1m5 0h1m2 0h1m2 0h1m15 0h1m19 0h1M0 424.64m37 0h1m4 0h1m10 0h1m4 0h1m27 0h1m48 0h1m23 0h2m15 0h1m8 0h1M0 448.4m23 0h1m3 0h1m15 0h1m18 0h1m4 0h1m15 0h1m17 0h1m24 0h1m10 0h1m9 0h1m21 0h1M0 472.17m16 0h1m1 0h1m24 0h1m4 0h1m4 0h1m12 0h1m19 0h1m8 0h1m20 0h1m7 0h1m8 0h1m7 0h1m6 0h1m11 0h1m22 0h1M0 495.93m3 0h1m19 0h1m25 0h1m22 0h1m35 0h1m1 0h1m28 0h1m7 0h1m17 0h1M0 519.69m22 0h1m30 0h1m3 0h1m11 0h1m6 0h1m6 0h1m27 0h1m6 0h2m9 0h1m15 0h1M0 543.45m36 0h1m12 0h1m6 0h1m4 0h1m6 0h1m36 0h1m8 0h2m8 0h1m10 0h1m6 0h1m4 0h1m12 0h1m8 0h1m9 0h1m1 0h2M0 590.98m49 0h1m2 0h1m9 0h1m29 0h1m3 0h1m1 0h1m7 0h1m2 0h1m42 0h1m7 0h1m23 0h1M0 614.74m23 0h1m10 0h1m2 0h1m29 0h1m1 0h1m9 0h1m19 0h1m15 0h2m2 0h2m31 0h1M0 638.5m4 0h1m5 0h1m3 0h1m24 0h1m2 0h1m1 0h1m4 0h1m15 0h1m33 0h1m9 0h1m39 0h1m20 0h1M0 662.26h1m19 0h1m15 0h1m40 0h1m6 0h1m9 0h2m2 0h1m29 0h1m2 0h1m2 0h1m4 0h1m7 0h1m3 0h1m4 0h1m7 0h1m20 0h1M0 686.02m5 0h1m1 0h1m8 0h1m4 0h1m8 0h1m10 0h1m96 0h1m1 0h1m9 0h2m12 0h1m20 0h1M0 709.79m7 0h1m18 0h1m19 0h1m46 0h1m15 0h1m2 0h1m27 0h1m15 0h1m2 0h1m2 0h1m1 0h1m14 0h1M0 733.55m14 0h1m6 0h1m3 0h1m13 0h1m15 0h1m2 0h2m8 0h1m25 0h1m8 0h1m8 0h1m9 0h1m6 0h1m12 0h1m13 0h1m21 0h1m5 0h1M0 757.31m51 0h1m4 0h1m44 0h1m38 0h1m28 0h1m4 0h1M0 781.07m13 0h1m12 0h1m7 0h1m5 0h1m1 0h1m12 0h1m3 0h1m7 0h1m7 0h1m16 0h2m16 0h2m11 0h1m7 0h1m14 0h1m2 0h2m1 0h1m7 0h2m4 0h1m15 0h1M0 804.83m11 0h1m16 0h1m10 0h1m1 0h1m8 0h1m6 0h1m7 0h1m72 0h1m11 0h1m7 0h1m21 0h1M0 828.6m24 0h1m20 0h1m20 0h1m1 0h1m17 0h1m1 0h1m6 0h1m2 0h1m3 0h1m19 0h1m17 0h1m23 0h1m10 0h1m5 0h1M0 852.36m59 0h1m56 0h1m19 0h1m4 0h1m17 0h1M0 876.12m21 0h1m47 0h1m9 0h1m3 0h1m9 0h1M0 899.88m44 0h1m8 0h1m4 0h1m20 0h1m6 0h1m18 0h1m29 0h1m16 0h1m2 0h1m5 0h1m19 0h1m1 0h1M0 923.64m22 0h1m12 0h1m17 0h1m6 0h1m56 0h1m5 0h1m3 0h2m4 0h1m1 0h2m4 0h1m3 0h2M0 947.41m6 0h1m2 0h2m11 0h1m8 0h1m1 0h1m11 0h1m2 0h1m1 0h1m5 0h1m5 0h1m6 0h1m9 0h1m1 0h1m9 0h1m37 0h1m27 0h1m14 0h1m12 0h1M0 971.17m30 0h1m20 0h1m10 0h1m7 0h1m9 0h1m32 0h1m14 0h1M0 994.93m11 0h1m12 0h1m3 0h1m14 0h1m6 0h1m4 0h2m18 0h1m42 0h1m8 0h1m1 0h1m33 0h1m4 0h1m7 0h1m7 0h1M0 1018.69m20 0h1m2 0h1m21 0h1m13 0h1m6 0h1m8 0h2m2 0h1m18 0h1m6 0h1m9 0h1m4 0h1m14 0h2m6 0h2m2 0h1m7 0h1m7 0h2m10 0h1M0 1066.22m3 0h1m14 0h1m5 0h1m8 0h1m1 0h1m3 0h1m2 0h1m4 0h1m41 0h1m26 0h1m4 0h1m5 0h1m6 0h1m6 0h1m2 0h1m10 0h1m1 0h1m10 0h1M0 1089.98m6 0h1m6 0h1m6 0h1m2 0h1m8 0h1m1 0h1m14 0h1m10 0h1m18 0h1m3 0h1m4 0h1m8 0h1m7 0h1m2 0h1m18 0h1m3 0h1m16 0h1m7 0h1m6 0h1m15 0h1m1 0h1M0 1113.74m8 0h2m11 0h1m8 0h2m36 0h1m10 0h1m11 0h1m20 0h2m5 0h1m1 0h1m20 0h1m3 0h2m18 0h1m12 0h1M0 1137.5m13 0h1m40 0h1m9 0h1m12 0h1m15 0h1m2 0h1m17 0h2m3 0h1m25 0h1m36 0h2M0 1161.27m16 0h1m7 0h1m58 0h1m6 0h1m14 0h1m2 0h1m21 0h1m3 0h1m9 0h1m10 0h2m14 0h1m6 0h1m1 0h1M0 1185.03m9 0h1m19 0h1m2 0h1m35 0h1m23 0h1m62 0h1m17 0h1M0 1208.79m19 0h1M0 1232.55m16 0h1m2 0h1m6 0h1m2 0h1m10 0h1m6 0h1m5 0h1m4 0h1m4 0h2m12 0h1m27 0h1m22 0h1m5 0h1m7 0h2m14 0h2m11 0h1M0 1265.98m24 0h1m20 0h1m4 0h1m2 0h1m2 0h1m30 0h1m1 0h1m18 0h1m12 0h1m11 0h1m12 0h1m1 0h2m4 0h1m26 0h2M0 1289.74m19 0h1m17 0h1m1 0h1m9 0h1m10 0h1m3 0h1m38 0h1m32 0h1m4 0h2m10 0h1m3 0h2M0 1313.5m36 0h1m11 0h1m8 0h1m32 0h1m14 0h2m28 0h1m1 0h1m8 0h1m11 0h1m24 0h1M0 1337.27m15 0h1m8 0h1m31 0h1m90 0h1m1 0h1m2 0h1m2 0h2m7 0h1m1 0h1m17 0h1M0 1361.03m1 0h1m33 0h1m17 0h1m16 0h1m16 0h1m24 0h1m21 0h1m7 0h1m26 0h1m9 0h1M0 1384.79m25 0h1m14 0h1m36 0h1m13 0h1m4 0h1m7 0h1m1 0h1m7 0h1m11 0h2m20 0h1m12 0h1m19 0h1M0 1408.55m5 0h2m23 0h1m12 0h1m10 0h1m9 0h1m4 0h1m4 0h1m13 0h1m67 0h1m10 0h1M0 1432.32m24 0h1m46 0h1m1 0h2m1 0h1m2 0h1m24 0h2m1 0h1m27 0h1m2 0h1m9 0h1m5 0h1m6 0h1m10 0h1m2 0h1M0 1456.08m49 0h1m12 0h1m63 0h1m6 0h1m14 0h1m5 0h1m1 0h1m10 0h1M0 1479.84m5 0h1m22 0h1m16 0h1m32 0h1m19 0h1m3 0h1m1 0h1m17 0h1m2 0h1m9 0h1m39 0h1m2 0h1M0 1503.6m6 0h1m5 0h1m6 0h1m6 0h2m10 0h1m10 0h1m5 0h1m7 0h1m48 0h1m7 0h1m33 0h1m26 0h1m3 0h1M0 1527.36m15 0h1m19 0h1m8 0h2m21 0h1m4 0h1m9 0h1m2 0h1m16 0h1m7 0h1m6 0h1m2 0h1m10 0h1m37 0h1m8 0h1m2 0h1M0 1551.12m13 0h1m22 0h2m16 0h1m2 0h1m18 0h1m9 0h1m6 0h1m5 0h2m2 0h1m7 0h1m10 0h1m5 0h1m33 0h1m5 0h1m15 0h1M0 1574.89m6 0h1m23 0h1m21 0h1m16 0h1m16 0h1m5 0h1m26 0h1m8 0h1m1 0h1m37 0h1M0 1598.65m2 0h1m62 0h1m26 0h1m4 0h1m32 0h1m1 0h1m9 0h1m10 0h1m7 0h1m14 0h1M0 1622.41m3 0h1m41 0h1m29 0h1m32 0h1m3 0h1m8 0h1m2 0h1m8 0h1m12 0h1m17 0h1m11 0h1m2 0h1m2 0h1M0 1646.17m29 0h1M0 1669.93m21 0h1m3 0h1m8 0h1m38 0h1m6 0h1m5 0h1m17 0h1m19 0h1m1 0h1m40 0h1m8 0h1M0 1693.7m19 0h1m4 0h1m5 0h2m48 0h1m15 0h1m4 0h1m9 0h1m3 0h1m41 0h2m15 0h1m8 0h1m1 0h1M0 1717.46m1 0h1m2 0h1m11 0h1m66 0h2m3 0h1m10 0h1m10 0h1m8 0h1m5 0h1m2 0h1m1 0h1m8 0h1m33 0h1M0 1741.22m11 0h1m2 0h1m4 0h1m29 0h1m10 0h1m16 0h1m34 0h1m38 0h1m8 0h1m3 0h1m2 0h1m6 0h1m8 0h1M0 1764.98m21 0h1m12 0h1m23 0h1m13 0h1m7 0h1m10 0h1m3 0h1m10 0h1m2 0h1m3 0h1m26 0h1m1 0h1m13 0h1m19 0h1m1 0h1M0 1788.75m22 0h1m32 0h1m15 0h1m17 0h1m6 0h1m16 0h1m8 0h1m16 0h1m18 0h1m4 0h1m4 0h2m10 0h1m1 0h2M0 1812.51m5 0h1m3 0h1m15 0h1m4 0h1m21 0h1m51 0h1m48 0h1m14 0h2m2 0h1m5 0h1M0 1836.27m21 0h1m2 0h3m6 0h1m3 0h1m13 0h1m3 0h2m23 0h1m5 0h1m14 0h1m7 0h1m8 0h1m33 0h1m1 0h1m1 0h1m8 0h1m3 0h1m9 0h1M0 1860.03h3m8 0h1m19 0h1m16 0h1m2 0h1m5 0h1m15 0h1m4 0h1m7 0h1m23 0h1m9 0h2m18 0h1m4 0h1m6 0h1m16 0h1m12 0h1M0 1883.79m4 0h1m21 0h1m4 0h1m15 0h1m20 0h1m14 0h1m4 0h1m8 0h1m1 0h1m11 0h1m9 0h1m5 0h1m1 0h1m5 0h1m3 0h1m1 0h1m1 0h1m9 0h1m3 0h1m1 0h1m3 0h1m11 0h1M0 1907.56h1m2 0h1m1 0h1m3 0h1m4 0h1m2 0h1m29 0h1m25 0h1m3 0h1m14 0h1m4 0h1m23 0h1m14 0h1m1 0h1m20 0h1m1 0h1M0 1931.32m98 0h1m3 0h1m5 0h1m30 0h1m8 0h1m3 0h1m1 0h1m6 0h1m7 0h1m6 0h2m5 0h1M0 1955.08m9 0h3m13 0h1m5 0h1m3 0h1m3 0h1m41 0h1m1 0h1m29 0h1m10 0h1m5 0h1m7 0h1m2 0h1m1 0h1m1 0h1m3 0h1m1 0h1m22 0h1m5 0h1m3 0h1M0 1978.84m1 0h1m7 0h1m39 0h1m10 0h1m3 0h1m6 0h1m12 0h1m1 0h1m9 0h1m13 0h1m30 0h1M0 2002.6m8 0h1m2 0h1m45 0h1m2 0h1m2 0h1m1 0h1m17 0h1m15 0h1m38 0h1m12 0h1m9 0h2M0 2026.37m21 0h1m19 0h1m7 0h2m5 0h1m6 0h2m5 0h1m8 0h1m2 0h1m6 0h1m1 0h1m17 0h1m33 0h2m13 0h1m3 0h1m14 0h1m1 0h1M0 2050.13m8 0h1m94 0h1m64 0h1M0 2083.18m3 0h1m57 0h1M0 2106.94m33 0h1m77 0h1M0 2130.7m89 0h1m10 0h1m29 0h1m17 0h1m15 0h1M0 2154.47m9 0h1m6 0h1m14 0h1m24 0h1m1 0h1m11 0h1m23 0h1m15 0h2m21 0h2m2 0h2m3 0h1m37 0h1M0 2178.23m30 0h1m12 0h1m10 0h1m13 0h1m9 0h1m2 0h1m9 0h1m50 0h1m8 0h1m4 0h1m24 0h1M0 2201.99m5 0h1m48 0h1m3 0h1m10 0h1m8 0h1m19 0h1m11 0h2m23 0h1m10 0h1m8 0h2m10 0h1m16 0h1M0 2225.75m28 0h1m3 0h1m24 0h1m8 0h1m51 0h1m17 0h1m3 0h1m20 0h1m3 0h1m6 0h1M0 2249.51m13 0h1m15 0h2m7 0h1m15 0h1m26 0h1m7 0h1m18 0h2m10 0h1m3 0h1m11 0h1m9 0h1m11 0h3M0 2282.88m41 0h1m19 0h1m94 0h1m15 0h1M0 2306.64m3 0h1m1 0h1m8 0h1m5 0h1m1 0h1m18 0h1m12 0h1m17 0h1m22 0h2m32 0h1m8 0h1m25 0h1m7 0h1m4 0h1M0 2330.4m2 0h1m2 0h2m18 0h2m4 0h1m5 0h1m2 0h1m23 0h2m13 0h1m1 0h1m2 0h3m4 0h1m30 0h1m1 0h1m5 0h1m26 0h1M0 2354.17h1m29 0h1m16 0h1m21 0h1m32 0h1m15 0h1m5 0h1m2 0h1m1 0h1m10 0h1m11 0h1m28 0h1M0 2377.93h1m16 0h1m4 0h1m6 0h1m12 0h1m9 0h1m14 0h2m23 0h1m1 0h1m12 0h1m13 0h1m15 0h2M0 2401.69m17 0h1m31 0h3m1 0h1m10 0h1m2 0h1m3 0h1m2 0h1m8 0h1m1 0h1m41 0h1m6 0h1m24 0h1m4 0h1m16 0h1M0 2425.45m7 0h1m1 0h1m23 0h1m22 0h1m8 0h2m7 0h1m26 0h1m26 0h1m18 0h1m8 0h1m1 0h1m12 0h1m4 0h1m5 0h1M0 2449.21m17 0h1m10 0h1m2 0h1m21 0h1m29 0h2m14 0h1m9 0h1m4 0h1m7 0h1m7 0h1m8 0h1m4 0h1m29 0h1m3 0h1M0 2472.98m22 0h1m9 0h1m5 0h1m3 0h1m18 0h1m16 0h1m5 0h1m5 0h1m4 0h1m8 0h1m21 0h1m6 0h1m26 0h1M0 2520.5m15 0h1m62 0h1m21 0h1m6 0h1m22 0h1m27 0h1m15 0h1M0 2544.26m1 0h1m5 0h2m6 0h1m58 0h1m4 0h1m2 0h1m5 0h1m17 0h1m4 0h1m3 0h1m1 0h1m3 0h1m12 0h1m21 0h1m18 0h1M0 2568.03m42 0h1m8 0h1m9 0h1m35 0h1m18 0h1m4 0h1m14 0h1m26 0h1m8 0h1m9 0h1M0 2591.79m13 0h2m48 0h1m1 0h1m1 0h1m29 0h1m4 0h2m26 0h1m6 0h1m19 0h1m11 0h1m6 0h1m5 0h1M0 2615.55m11 0h2m25 0h1m1 0h1m6 0h2m6 0h1m15 0h1m1 0h1m9 0h1m16 0h1m3 0h1m6 0h1m11 0h1m2 0h1M0 2639.31m10 0h1m13 0h1m4 0h1m8 0h1m36 0h1m21 0h1m11 0h2m10 0h1m1 0h1m13 0h1m9 0h1m5 0h1m3 0h2m26 0h1M0 2663.07h1m16 0h1m6 0h2m15 0h1m7 0h1m8 0h2m2 0h1m16 0h1m4 0h1m4 0h1m2 0h1m3 0h1m6 0h1m5 0h1m5 0h1m10 0h1m6 0h1m7 0h1m9 0h1m7 0h1m10 0h3m10 0h1M0 2686.84m28 0h1m6 0h1m21 0h1m11 0h1m8 0h1m7 0h1m1 0h1m6 0h1m8 0h1m5 0h1m7 0h1m9 0h1m2 0h1m22 0h1m19 0h1M0 2710.6m78 0h1m5 0h1m12 0h1m1 0h1m34 0h1m4 0h1m23 0h1m2 0h1m7 0h1M0 2734.36m5 0h1m2 0h1m3 0h1m23 0h1m17 0h2m2 0h1m3 0h1m28 0h2m26 0h1m12 0h1m13 0h1m11 0h1m22 0h1m3 0h1M0 2758.12m1 0h1m19 0h1m6 0h1m13 0h1m5 0h1m6 0h1m2 0h1m16 0h1m8 0h1m10 0h1m12 0h1m17 0h1m7 0h1m15 0h1m4 0h1m1 0h1m1 0h1m15 0h1m6 0h1M0 2781.88m10 0h1m2 0h1m18 0h1m3 0h1m22 0h2m3 0h1m26 0h1m1 0h1m5 0h1m4 0h1m33 0h1m1 0h1m1 0h1m7 0h2m8 0h1m4 0h1m1 0h1m7 0h1m6 0h1M0 2805.64m1 0h1m15 0h1m7 0h1m2 0h1m5 0h1m7 0h1m8 0h1m2 0h2m25 0h1m10 0h1m16 0h1m12 0h1m6 0h1M0 2829.41m12 0h1m11 0h1m4 0h1m5 0h1m3 0h1m29 0h1m1 0h1m61 0h1m6 0h1m20 0h1"/>
<path transform="translate(38 0) scale(1.57634 1)" stroke="#ffbfbf" stroke-width="23.81" fill="none" d="M0 400.88m6 0h1m48 0h1m21 0h1m10 0h1m3 0h1m16 0h1m13 0h1m8 0h1m6 0h1m24 0h1m9 0h1m5 0h1M0 424.64m47 0h1m33 0h1m18 0h1m48 0h1m1 0h1m19 0h1M0 448.4m18 0h1m63 0h1m4 0h1m30 0h1m5 0h1m10 0h1m6 0h1m10 0h1m2 0h1m8 0h1m9 0h1m9 0h1M0 472.17m89 0h1m2 0h1m18 0h1m7 0h1m34 0h1m11 0h1m11 0h1M0 495.93m43 0h1m17 0h1m6 0h1m1 0h1m25 0h1M0 519.69m49 0h1m12 0h1m5 0h1m57 0h1m4 0h1m19 0h1m13 0h1m16 0h1m1 0h2M0 543.45m25 0h1m28 0h1m34 0h1m4 0h1m4 0h1m1 0h1m19 0h1m15 0h2m11 0h1m3 0h1m1 0h1M0 567.22m20 0h1m104 0h1M0 590.98m51 0h1m28 0h1m27 0h1m26 0h1m27 0h1m1 0h1M0 614.74m16 0h1m3 0h1m18 0h1m44 0h1m41 0h1m6 0h1m4 0h1m7 0h1m4 0h1m3 0h1m1 0h1m12 0h1m14 0h1M0 638.5h1m33 0h1m11 0h1m4 0h2m5 0h1m4 0h1m7 0h1m35 0h1m12 0h1m3 0h1m16 0h1m25 0h1M0 662.26m17 0h1m10 0h1m54 0h1m75 0h1m13 0h1m3 0h1m5 0h1M0 686.02m12 0h1m21 0h1m2 0h1m7 0h1m15 0h1m5 0h1m56 0h1M0 709.79m24 0h1m29 0h1m9 0h1m19 0h1m7 0h1m41 0h1m10 0h1m3 0h1m24 0h1m10 0h1M0 733.55m16 0h1m14 0h1m32 0h1m12 0h2m1 0h1m28 0h1m9 0h1m6 0h1m31 0h1M0 757.31m35 0h2m3 0h1m74 0h1m22 0h1m11 0h1m16 0h1M0 781.07m15 0h1m28 0h1m4 0h1m7 0h1m14 0h1m3 0h1m1 0h1m18 0h1m22 0h1m6 0h1m5 0h1m2 0h1m11 0h1m8 0h1m6 0h1m3 0h1m5 0h1m4 0h1M0 804.83m15 0h1m15 0h1m27 0h1m26 0h1m17 0h1m2 0h1m1 0h2m6 0h1m7 0h1m17 0h1M0 828.6m38 0h1m55 0h1m21 0h2m10 0h1m22 0h1m26 0h1M0 852.36m45 0h1m71 0h1M0 876.12m19 0h1m9 0h1m26 0h1m23 0h1m13 0h1m48 0h1m20 0h1M0 899.88m6 0h1m2 0h1m19 0h1m21 0h1m57 0h1m12 0h1m1 0h2m25 0h1m5 0h2m5 0h1M0 923.64m5 0h1m4 0h1m18 0h1m4 0h1m24 0h1m16 0h1m63 0h1m1 0h2m18 0h1m13 0h1m7 0h1M0 947.41m1 0h1m21 0h1m5 0h1m33 0h1m16 0h1m7 0h1m14 0h1m9 0h3m29 0h1m1 0h1m5 0h1m8 0h1m6 0h1m13 0h1M0 971.17m54 0h1m18 0h1m14 0h1m4 0h1m43 0h1m13 0h1m1 0h1m1 0h1M0 994.93m39 0h1m79 0h2m43 0h1m5 0h1m2 0h1m11 0h1M0 1018.69m14 0h1m16 0h1m2 0h1m6 0h1m10 0h1m12 0h1m22 0h1m19 0h1m9 0h1m5 0h1m4 0h1m7 0h1m30 0h1M0 1042.46m3 0h1m28 0h1m22 0h1m11 0h1m8 0h1m19 0h1m5 0h1m15 0h1m29 0h2m1 0h1m2 0h1m7 0h1m14 0h1m6 0h1M0 1066.22m5 0h1m9 0h1m20 0h1m12 0h1m1 0h1m63 0h1m10 0h1m1 0h2m8 0h1m25 0h1M0 1089.98m2 0h1m2 0h1m19 0h1m20 0h1m4 0h1m35 0h1m8 0h1m4 0h1m17 0h2m5 0h1m8 0h1m23 0h1M0 1113.74m6 0h1m6 0h2m9 0h1m17 0h1m15 0h1m33 0h1m8 0h1m14 0h1M0 1137.5m10 0h1m71 0h1m9 0h1m10 0h1m42 0h1m5 0h1m2 0h1m8 0h1m16 0h1M0 1161.27m9 0h1m1 0h1m19 0h1m3 0h1m12 0h1m9 0h1m1 0h1m13 0h1m28 0h1m16 0h1m24 0h1m3 0h1M0 1185.03m144 0h1M0 1208.79m9 0h1M0 1232.55m7 0h1m23 0h1m9 0h1m2 0h1m5 0h1m36 0h1m11 0h1m10 0h1m1 0h1m35 0h1m11 0h2m2 0h1m10 0h1m1 0h1M0 1265.98m12 0h1m68 0h1m14 0h1m17 0h1m4 0h1m6 0h1m8 0h1m19 0h1m11 0h1m10 0h1M0 1289.74m6 0h1m9 0h1m8 0h1m9 0h1m6 0h1m5 0h1m4 0h1m16 0h1m14 0h2m4 0h1m3 0h1m17 0h1m3 0h1m2 0h1m7 0h1m2 0h1m5 0h1m12 0h1m1 0h1m2 0h1M0 1313.5m1 0h1m29 0h1m12 0h1m4 0h1m11 0h1m2 0h2m3 0h1m31 0h1m21 0h1m8 0h1m3 0h1m17 0h1m7 0h1m10 0h1m7 0h1m3 0h1M0 1337.27m62 0h1m13 0h1m5 0h1m13 0h1m8 0h1m20 0h1M0 1361.03m55 0h1m35 0h1m7 0h1m35 0h1m22 0h1m1 0h2m4 0h1m6 0h1M0 1384.79m73 0h1m9 0h1m3 0h1m12 0h1m39 0h1m35 0h1M0 1408.55m13 0h1m5 0h1m2 0h2m7 0h1m5 0h1m11 0h1m3 0h1m1 0h2m21 0h1m1 0h1m2 0h1m14 0h2m8 0h1m7 0h1m9 0h1M0 1432.32m53 0h1m9 0h1m5 0h1m75 0h1m34 0h1M0 1456.08m35 0h1m31 0h1m30 0h1m9 0h1m29 0h1m2 0h1m11 0h1m19 0h1m3 0h1m2 0h1m3 0h1M0 1479.84m11 0h1m25 0h1m2 0h2m21 0h1m2 0h1m6 0h1m2 0h1m18 0h1m30 0h2m3 0h1m4 0h1m17 0h1M0 1503.6m8 0h1m6 0h2m11 0h1m12 0h2m1 0h1m15 0h1m16 0h1m3 0h2m7 0h1m11 0h2m22 0h1m2 0h1m27 0h1m10 0h1m9 0h1M0 1527.36m12 0h1m10 0h1m5 0h1m4 0h1m3 0h1m3 0h1m4 0h1m17 0h1m3 0h1m8 0h1m8 0h1m12 0h1m4 0h1m22 0h2m11 0h1m9 0h1m24 0h1M0 1551.12m10 0h1m22 0h1m25 0h1m27 0h1m13 0h1m19 0h1m17 0h2m6 0h1M0 1574.89m11 0h1m10 0h1m36 0h1m10 0h1m2 0h1m1 0h1m9 0h1m2 0h1m20 0h1m7 0h1m21 0h1m3 0h1m2 0h1m4 0h1m5 0h1m1 0h1m21 0h1M0 1598.65h1m5 0h1m2 0h1m26 0h1m23 0h1m10 0h1m5 0h1m28 0h1m1 0h2m6 0h1m2 0h1M0 1622.41m6 0h1m27 0h1m37 0h1m56 0h1m2 0h1m18 0h1m2 0h1m1 0h1m26 0h1M0 1646.17m12 0h1m62 0h1M0 1669.93m4 0h1m2 0h1m7 0h1m10 0h1m29 0h1m25 0h1m23 0h1m1 0h1m3 0h1m8 0h1M0 1693.7m3 0h1m34 0h1m7 0h1m56 0h1m23 0h1m9 0h1m28 0h1m1 0h1m10 0h2M0 1717.46m6 0h1m47 0h1m11 0h1m48 0h1m6 0h2m32 0h2m20 0h1M0 1741.22m22 0h1m7 0h1m15 0h1m41 0h1m31 0h1m5 0h1m1 0h1m15 0h1m24 0h2m2 0h1m4 0h1M0 1764.98m1 0h1m3 0h1m21 0h1m22 0h1m3 0h1m4 0h1m17 0h1m32 0h1m14 0h3m21 0h1m11 0h1m1 0h1m4 0h1m3 0h1m8 0h1M0 1788.75m39 0h1m22 0h1m10 0h1m13 0h1m21 0h1M0 1812.51m4 0h1m39 0h1m5 0h1m6 0h1m7 0h1m32 0h1m16 0h1m7 0h1m9 0h1m7 0h1m5 0h1m10 0h1m17 0h2m4 0h1M0 1836.27m11 0h3m54 0h1m20 0h1m15 0h1m2 0h1m17 0h1M0 1860.03m3 0h1m2 0h1m8 0h1m1 0h1m3 0h1m8 0h1m3 0h1m7 0h1m1 0h1m36 0h1m13 0h1m9 0h1m19 0h1m7 0h2m13 0h1m8 0h1m2 0h1M0 1883.79m11 0h1m23 0h1m5 0h1m1 0h1m14 0h1m3 0h1m19 0h1m7 0h1m11 0h1m11 0h1m7 0h1m22 0h1m27 0h2m2 0h1M0 1907.56m4 0h1m5 0h1m33 0h1m15 0h1m4 0h1m9 0h1m5 0h1m34 0h1m12 0h1m4 0h1m4 0h1m1 0h1m5 0h2m2 0h1m8 0h1m2 0h1M0 1931.32m11 0h1m8 0h1m14 0h1m7 0h1m4 0h1m35 0h1m16 0h1m20 0h1m12 0h1m4 0h1m6 0h1m23 0h2m5 0h1M0 1955.08m21 0h1m2 0h1m1 0h1m23 0h1m6 0h1m12 0h1m2 0h1m20 0h1m9 0h1m30 0h1m4 0h1m15 0h1m16 0h1m3 0h1M0 1978.84m20 0h1m21 0h1m71 0h1m32 0h1m31 0h1M0 2002.6m74 0h1m44 0h1m14 0h1m10 0h1M0 2026.37m6 0h1m19 0h1m2 0h1m2 0h1m21 0h1m3 0h3m7 0h2m6 0h1m8 0h1m20 0h1m11 0h1m11 0h1m1 0h1m6 0h1m21 0h1M0 2050.13m112 0h1m71 0h1M0 2106.94m169 0h1M0 2130.7m172 0h1M0 2154.47m22 0h1m40 0h1m21 0h1m5 0h1m7 0h1m35 0h1m12 0h2m16 0h1m5 0h1m12 0h1M0 2178.23m3 0h1m9 0h1m43 0h1m12 0h1m11 0h1m29 0h1m1 0h1m2 0h1m7 0h1m12 0h1m7 0h1m3 0h1m25 0h1M0 2201.99m48 0h1m3 0h2m18 0h1m26 0h1m22 0h2M0 2225.75h1m24 0h1m7 0h1m18 0h1m16 0h1m35 0h1m5 0h1m35 0h1m9 0h1m20 0h1M0 2249.51m26 0h1m7 0h2m1 0h1m22 0h1m1 0h1m8 0h1m43 0h2m2 0h1m1 0h1m16 0h1m10 0h1m4 0h1m8 0h1m2 0h1m7 0h1m2 0h1M0 2282.88m178 0h1M0 2306.64m21 0h1m9 0h1m30 0h1m5 0h1m12 0h1m31 0h1m31 0h1m16 0h1m15 0h1M0 2330.4m33 0h1m4 0h1m13 0h1m27 0h1m15 0h1m12 0h1m7 0h1m33 0h1m15 0h2M0 2354.17m15 0h1m8 0h1m23 0h1m10 0h1m52 0h1m22 0h1m5 0h1m32 0h1M0 2377.93m8 0h1m34 0h1m17 0h2m6 0h1m40 0h2m2 0h1m11 0h1m16 0h1m9 0h1m17 0h1m1 0h1M0 2401.69m13 0h1m11 0h1m2 0h1m27 0h2m1 0h1m19 0h1m7 0h1m11 0h1m1 0h1m21 0h2m25 0h1m2 0h1m2 0h1m3 0h1m17 0h1m6 0h1M0 2425.45m16 0h1m5 0h1m87 0h1m3 0h1m33 0h1M0 2449.21m24 0h1m5 0h1m2 0h1m22 0h1m10 0h1m5 0h1m26 0h1m3 0h1m15 0h1m4 0h1m17 0h1m7 0h2m29 0h1M0 2472.98m14 0h1m20 0h1m49 0h1m8 0h1m2 0h1m8 0h1m22 0h1m5 0h1m9 0h1m6 0h1M0 2496.74m19 0h1m17 0h1m20 0h1m13 0h1m32 0h1m9 0h1m5 0h1m2 0h3m3 0h1m4 0h1m5 0h1m4 0h1m2 0h1m2 0h1m9 0h1m4 0h1m7 0h1M0 2520.5m34 0h1m8 0h1m14 0h1m34 0h1m56 0h1m1 0h2m1 0h1M0 2544.26m14 0h1m82 0h1m11 0h1m22 0h1m11 0h1m12 0h1m4 0h1M0 2568.03m12 0h1m9 0h1m20 0h1m19 0h1m10 0h1m4 0h1m32 0h1m9 0h1m22 0h1m29 0h1M0 2591.79m152 0h1m19 0h1M0 2615.55m21 0h1m53 0h1m33 0h1m15 0h1m28 0h1m16 0h1M0 2639.31m3 0h1m17 0h1m18 0h1m35 0h1m56 0h1m9 0h1m4 0h1M0 2663.07m5 0h1m2 0h1m1 0h1m24 0h1m8 0h1m28 0h2m5 0h1m6 0h1m28 0h1m15 0h1m9 0h1m19 0h1m5 0h1M0 2686.84m17 0h1m6 0h1m7 0h1m81 0h1m2 0h1m5 0h1m9 0h1m17 0h1m9 0h1m1 0h1m3 0h1m17 0h1M0 2710.6m5 0h1m26 0h1m19 0h1m7 0h1m1 0h1m1 0h1m27 0h1m22 0h1m13 0h1m3 0h1m8 0h1m39 0h1m2 0h1M0 2734.36m21 0h1m15 0h1m32 0h1m6 0h1m11 0h1m13 0h1m9 0h1m10 0h1m4 0h1m8 0h1m30 0h1m5 0h1M0 2758.12m46 0h1m31 0h1m25 0h1m11 0h1m2 0h1m32 0h1M0 2781.88m11 0h1m8 0h1m5 0h1m24 0h2m10 0h1m14 0h1m4 0h1m1 0h1m44 0h1m16 0h1m8 0h1m1 0h1m20 0h1M0 2805.64m35 0h1m24 0h1m2 0h1m25 0h1m3 0h1m7 0h2m4 0h1m36 0h1m1 0h1m26 0h1m11 0h1M0 2829.41m3 0h1m14 0h2m3 0h1m1 0h1m10 0h1m1 0h1m9 0h1m8 0h1m8 0h1m1 0h1m8 0h1m13 0h1m18 0h1m4 0h1m4 0h1m23 0h1m15 0h1m2 0h1m4 0h1m1 0h1m10 0h1"/>
<path transform="translate(38 0) scale(1.57634 1)" stroke="#ff9f9f" stroke-width="23.81" fill="none" d="M0 400.88m29 0h1m9 0h1m38 0h1m16 0h1m7 0h1m2 0h1m15 0h1m37 0h1m2 0h1m6 0h1m1 0h1m11 0h1M0 424.64m31 0h1m126 0h1m6 0h1M0 448.4m38 0h1m7 0h1m4 0h1m22 0h1m27 0h1M0 472.17m5 0h1m66 0h1m26 0h1m10 0h1m10 0h1m20 0h1m8 0h2m14 0h1m11 0h1m4 0h1M0 495.93m47 0h1m53 0h1m1 0h1m8 0h1m1 0h1m16 0h1m26 0h1m4 0h1m5 0h1m9 0h1M0 519.69m63 0h1m3 0h1m6 0h1m2 0h1m21 0h1m12 0h1m2 0h1m12 0h1m4 0h1m4 0h1m30 0h2m9 0h1m2 0h1M0 543.45m1 0h1m74 0h1m21 0h1m7 0h2m1 0h1m60 0h1M0 590.98m63 0h1m25 0h1m38 0h1m21 0h1M0 614.74m21 0h1m9 0h1m17 0h1m5 0h1m4 0h1m2 0h1m24 0h1m8 0h1m4 0h1m2 0h1m1 0h1m27 0h1m6 0h1m17 0h1m5 0h1M0 638.5m11 0h1m25 0h1m3 0h1m18 0h1m15 0h1m13 0h1m46 0h1m42 0h1M0 662.26m9 0h1m13 0h1m33 0h1m7 0h1m49 0h1m2 0h1m13 0h1m2 0h1m32 0h1m9 0h2M0 686.02m32 0h1m38 0h1m12 0h1m12 0h1m2 0h1m52 0h1m16 0h1m13 0h1M0 709.79m47 0h1m18 0h1m13 0h1m38 0h1m2 0h1m9 0h1m21 0h1m2 0h1m25 0h1M0 733.55m19 0h1m34 0h1m16 0h1m66 0h2m27 0h2m5 0h2M0 757.31m16 0h1m17 0h1m37 0h1m17 0h1m56 0h1m13 0h1m19 0h1M0 781.07m1 0h1m23 0h1m53 0h1m35 0h1m12 0h1M0 804.83m53 0h1m24 0h1m93 0h1m2 0h1m8 0h1M0 828.6m108 0h2m17 0h1M0 852.36m181 0h1M0 876.12m22 0h1m41 0h1m3 0h1m15 0h1m13 0h1m1 0h1m9 0h1m6 0h1m19 0h1m29 0h1m8 0h1M0 899.88m30 0h1m37 0h1m52 0h1m12 0h1m6 0h1m14 0h1m3 0h1m2 0h1m13 0h1M0 923.64m2 0h1m24 0h1m9 0h1m3 0h1m3 0h1m12 0h1m12 0h1m60 0h1m24 0h1m6 0h1M0 947.41m28 0h1m35 0h1m33 0h1m17 0h1m2 0h1m10 0h1m2 0h1m1 0h1m1 0h1m10 0h1m5 0h1M0 971.17m97 0h1m48 0h1m3 0h1m23 0h1m4 0h1M0 994.93m45 0h1m3 0h1m33 0h1m4 0h1m12 0h1m2 0h1m26 0h1m9 0h1m4 0h1m12 0h1m22 0h2M0 1018.69m8 0h1m13 0h1m1 0h1m26 0h1m12 0h1m3 0h1m48 0h1m1 0h1m33 0h1m16 0h1m14 0h1M0 1042.46m15 0h1m22 0h2m28 0h1m2 0h1m8 0h1m11 0h2m9 0h1m34 0h1m44 0h1M0 1066.22m32 0h1m1 0h1m36 0h1m8 0h1m29 0h1m3 0h1m50 0h1M0 1089.98m19 0h1m2 0h1m3 0h1m6 0h1m8 0h1m16 0h1m3 0h1m9 0h1m3 0h2m57 0h1m4 0h1m4 0h1m2 0h1m19 0h1m5 0h1M0 1113.74m48 0h1m6 0h1m41 0h2m61 0h1M0 1137.5m70 0h1m12 0h1m13 0h1m27 0h1m4 0h1m10 0h1m16 0h1m12 0h1m8 0h1M0 1161.27m72 0h1m3 0h1m12 0h1m12 0h1m7 0h1m6 0h1m13 0h1m3 0h1m40 0h1M0 1232.55m27 0h1m18 0h1m1 0h1m47 0h1m5 0h1m18 0h1m8 0h1m2 0h1m5 0h1m16 0h1M0 1265.98m6 0h1m22 0h1m37 0h1m32 0h1m6 0h1m29 0h1m20 0h1m10 0h1m5 0h1M0 1289.74m10 0h1m29 0h1m5 0h1m35 0h1m1 0h1m30 0h1m55 0h2m8 0h1M0 1313.5m15 0h1m10 0h1m20 0h1m8 0h1m1 0h1m3 0h1m5 0h1m22 0h1m16 0h1m18 0h1m5 0h1m8 0h1M0 1337.27m85 0h1m9 0h1m28 0h1m21 0h1m4 0h1M0 1361.03m17 0h1m50 0h1m55 0h1M0 1384.79m45 0h1m67 0h1m4 0h1m37 0h1M0 1408.55m4 0h1m3 0h1m6 0h1m5 0h1m10 0h1m1 0h1m1 0h1m10 0h1m20 0h1m26 0h1m11 0h1m20 0h1m5 0h1m4 0h1m13 0h1m17 0h1m10 0h1M0 1432.32m11 0h1m87 0h1M0 1456.08m80 0h1m21 0h1m8 0h1m22 0h1m5 0h1m24 0h1M0 1479.84m16 0h1m37 0h1m9 0h1m23 0h1m17 0h2m1 0h2m51 0h1m4 0h1m3 0h1M0 1503.6m2 0h1m8 0h1m6 0h1m6 0h1m6 0h1m12 0h1m20 0h1m16 0h1m10 0h1m4 0h2m60 0h1m7 0h1M0 1527.36m18 0h1m12 0h1m17 0h1m31 0h1m2 0h1m28 0h1m8 0h1m40 0h1m16 0h1M0 1551.12m30 0h1m1 0h1m2 0h1m3 0h1m3 0h1m17 0h1m16 0h1m10 0h1m15 0h1m20 0h1m7 0h3m14 0h1m20 0h1M0 1574.89m4 0h1m5 0h1m4 0h1m25 0h1m42 0h1m37 0h1m2 0h1m3 0h1m36 0h1m15 0h1M0 1598.65m17 0h1m1 0h1m17 0h1m30 0h1M0 1622.41m2 0h1m65 0h1m23 0h1m3 0h1m7 0h1m1 0h2m3 0h1m32 0h1m13 0h1M0 1646.17m60 0h1m121 0h1M0 1669.93m17 0h1m11 0h2m27 0h1m4 0h1m3 0h1m78 0h1m24 0h1m12 0h1M0 1693.7m16 0h1m6 0h1m2 0h1m57 0h1m65 0h2m30 0h1M0 1717.46m24 0h1m50 0h1m59 0h1m8 0h1m6 0h1m29 0h1M0 1741.22m6 0h1m25 0h1m2 0h1m39 0h1m65 0h1m3 0h1m3 0h1M0 1764.98m9 0h1m20 0h1m13 0h1m2 0h1m12 0h1m20 0h1m10 0h1m24 0h1m59 0h1m5 0h1M0 1788.75m11 0h1m46 0h1m31 0h1m3 0h1m4 0h1m10 0h1m68 0h1M0 1812.51m12 0h2m4 0h1m7 0h1m2 0h1m2 0h1m37 0h1m18 0h1m4 0h1m29 0h1m6 0h1M0 1836.27m38 0h1m14 0h1m3 0h1m5 0h1m6 0h1m48 0h1m21 0h1m18 0h1m10 0h1m9 0h1M0 1860.03m4 0h1m107 0h1m2 0h1m39 0h1M0 1883.79m1 0h1m36 0h1m10 0h1m6 0h1m6 0h1m23 0h1m62 0h1m19 0h1M0 1907.56m21 0h1m28 0h1m7 0h1m40 0h2m17 0h1m7 0h1m16 0h1m40 0h1M0 1931.32m61 0h1m38 0h1m28 0h1m34 0h1m20 0h1M0 1955.08m7 0h1m5 0h1m20 0h1m5 0h1m1 0h1m3 0h1m11 0h1m7 0h1m7 0h1m2 0h1m19 0h1m12 0h1m5 0h1m20 0h1m8 0h1m5 0h2m12 0h1m1 0h1M0 1978.84m23 0h1m7 0h1m12 0h1m11 0h1m22 0h1m37 0h1m1 0h1m4 0h1m28 0h1m2 0h1m15 0h1M0 2002.6m17 0h1m33 0h2m14 0h1m12 0h1m4 0h1m17 0h1m27 0h1m22 0h1M0 2026.37m2 0h1m15 0h1m5 0h1m9 0h1m12 0h1m14 0h1m29 0h1m66 0h1m7 0h1m8 0h1M0 2050.13m181 0h1M0 2083.18m73 0h1m13 0h1m15 0h1m12 0h1m62 0h1M0 2106.94m62 0h1m75 0h1M0 2130.7m149 0h1M0 2154.47m23 0h1m18 0h1m9 0h1m12 0h1m39 0h1m39 0h1M0 2178.23m69 0h1m5 0h1m71 0h1m9 0h1M0 2201.99m34 0h1m29 0h1m41 0h1m5 0h2m7 0h1m57 0h1m2 0h1M0 2225.75m11 0h1m6 0h1m7 0h1m19 0h1m20 0h1m14 0h1m25 0h1m15 0h1m16 0h1m10 0h1m13 0h1M0 2249.51m12 0h1m8 0h1m17 0h1m15 0h1m9 0h1m20 0h1m9 0h2m2 0h1m9 0h1m6 0h1m32 0h1m30 0h1M0 2282.88m75 0h1m39 0h1m10 0h1M0 2306.64m34 0h1m34 0h1m5 0h1m2 0h1m6 0h1m19 0h1m2 0h1m15 0h1m2 0h1m2 0h1m49 0h1M0 2330.4m1 0h1m5 0h1m4 0h1m2 0h1m16 0h1m20 0h1m33 0h1m23 0h1m30 0h1m1 0h1m17 0h1M0 2354.17m26 0h1m38 0h1m57 0h1m9 0h1m34 0h1m4 0h1M0 2377.93m20 0h1m2 0h1m10 0h1m15 0h1m2 0h1m58 0h1m49 0h1M0 2401.69m12 0h1m8 0h1m5 0h1m3 0h1m5 0h1m46 0h1m6 0h2m4 0h1m7 0h1m1 0h1m12 0h1m5 0h1m1 0h1m6 0h1m10 0h1m2 0h1m29 0h1M0 2425.45m32 0h1m34 0h1m5 0h1m6 0h1m89 0h1M0 2449.21m19 0h1m27 0h1m2 0h1m3 0h1m5 0h1m40 0h1m6 0h1m17 0h1m10 0h1m11 0h1M0 2472.98m28 0h1m60 0h1m13 0h1m3 0h1m1 0h1m5 0h2m22 0h1m25 0h2m9 0h1M0 2496.74m41 0h1m33 0h1m17 0h2m39 0h1m2 0h1m30 0h1M0 2520.5m21 0h1m18 0h1m31 0h1m13 0h1m44 0h1m36 0h1m10 0h1M0 2544.26m5 0h1m37 0h1m11 0h2m13 0h1m55 0h1m15 0h1m21 0h1m1 0h1m6 0h1M0 2568.03m2 0h1m12 0h1m51 0h1m22 0h1m19 0h1m14 0h1m1 0h1m40 0h1m4 0h1M0 2591.79m40 0h1m1 0h1m38 0h1m13 0h1m13 0h1m1 0h1m11 0h1m20 0h1M0 2615.55m108 0h1m12 0h1m6 0h1m17 0h1m35 0h1m2 0h1M0 2639.31m2 0h1m41 0h1m14 0h1m9 0h1m20 0h1m10 0h1m2 0h1m6 0h1m61 0h1M0 2663.07m9 0h1m3 0h1m32 0h1m6 0h1m11 0h3m8 0h1m17 0h1m4 0h1m7 0h1m28 0h1m42 0h1m5 0h1M0 2686.84m7 0h1m19 0h1m6 0h1m7 0h1m12 0h1m25 0h1m7 0h1m34 0h1m2 0h1m10 0h1m20 0h1m8 0h1m15 0h1M0 2710.6h1m17 0h1m20 0h1m18 0h1m20 0h1m36 0h1m28 0h1m2 0h1m7 0h1m11 0h1m10 0h1M0 2734.36m29 0h1m9 0h1m28 0h1m31 0h1m5 0h1m53 0h1m16 0h1m2 0h1M0 2758.12m13 0h1m35 0h1m19 0h1m54 0h1M0 2781.88m5 0h1m9 0h1m2 0h1m3 0h1m5 0h1m16 0h2m10 0h1m13 0h1m14 0h1m8 0h1m4 0h1m4 0h1m15 0h1m54 0h1M0 2805.64m16 0h1m6 0h2m14 0h1m1 0h1m7 0h1m8 0h2m1 0h1m52 0h1m3 0h1m13 0h1m18 0h1m1 0h3m11 0h1m3 0h1m10 0h1M0 2829.41m6 0h2m52 0h1m3 0h1m36 0h1m19 0h1m36 0h1m8 0h1m10 0h1"/>
<path transform="translate(38 0) scale(1.57634 1)" stroke="#ff8080" stroke-width="23.81" fill="none" d="M0 400.88m45 0h1m10 0h1m9 0h1m20 0h1m30 0h1m58 0h1M0 424.64m24 0h1m10 0h1m63 0h1m83 0h1M0 448.4m15 0h1m100 0h1m5 0h1m40 0h1m13 0h1m2 0h1m3 0h1M0 472.17m10 0h1m74 0h1m31 0h1m8 0h1m10 0h1m34 0h1M0 495.93m28 0h1m34 0h1m10 0h1m3 0h1m27 0h1m11 0h1m47 0h1m6 0h1m9 0h1M0 519.69m28 0h1m43 0h1m20 0h1m55 0h1m21 0h1m2 0h1M0 543.45m44 0h2m9 0h1m9 0h1m31 0h1m61 0h1M0 590.98m27 0h1m3 0h1m34 0h1m58 0h1m23 0h1m14 0h1M0 614.74m46 0h1m25 0h1m31 0h1m7 0h1m17 0h1m16 0h1m27 0h1m8 0h1M0 638.5m72 0h1m98 0h1M0 662.26m8 0h1m31 0h1m15 0h1m9 0h1m40 0h1m33 0h1m8 0h1m9 0h1M0 686.02m28 0h1m83 0h1m16 0h1m1 0h1m15 0h1m35 0h1M0 709.79m53 0h1m46 0h1m15 0h1m14 0h1m38 0h1m5 0h1M0 733.55m117 0h1m43 0h1m7 0h1M0 757.31m6 0h1m74 0h1m14 0h1m1 0h1m27 0h1m15 0h1m3 0h1m28 0h1m4 0h1m3 0h1M0 781.07m52 0h1m60 0h1m26 0h1m18 0h1m15 0h1M0 804.83m38 0h1m66 0h1m57 0h1M0 828.6m7 0h1m104 0h1m13 0h1m33 0h1m2 0h1m5 0h1m6 0h1m3 0h1M0 852.36m156 0h1M0 876.12m45 0h1m30 0h1m75 0h1m2 0h1m26 0h1M0 899.88m63 0h1m23 0h1m23 0h1m3 0h1m15 0h1M0 923.64m18 0h1m21 0h1m34 0h1m1 0h1m12 0h1m75 0h1m10 0h1M0 947.41m8 0h1m29 0h1m20 0h1m17 0h1m19 0h1m61 0h1m4 0h1M0 971.17m78 0h1M0 994.93m2 0h1m27 0h1m7 0h1m24 0h1m18 0h1m1 0h1m6 0h1m16 0h1m3 0h1m29 0h1M0 1018.69m4 0h1m20 0h1m68 0h1m6 0h1m25 0h1m22 0h1m10 0h1m7 0h1m9 0h1M0 1042.46m155 0h1M0 1066.22m22 0h1m33 0h1m9 0h1m31 0h1m2 0h1m54 0h1m18 0h1M0 1089.98m9 0h1m27 0h1m46 0h1m6 0h1m14 0h1m14 0h2m5 0h1m16 0h1m5 0h1M0 1113.74m73 0h1m20 0h1m58 0h1m14 0h1m15 0h1M0 1137.5m22 0h1m79 0h1m17 0h1m19 0h1M0 1161.27m112 0h1m1 0h1m66 0h1M0 1185.03m12 0h1M0 1208.79m64 0h1m54 0h1m34 0h1M0 1232.55m18 0h1m49 0h1m5 0h1m23 0h1m28 0h1M0 1265.98m19 0h1m97 0h1m46 0h1m19 0h1M0 1289.74m170 0h1M0 1313.5m53 0h1m63 0h1m8 0h1m22 0h1m5 0h1m13 0h1M0 1337.27h1m93 0h1m76 0h1M0 1361.03m118 0h1m35 0h1m23 0h1M0 1384.79m102 0h1m57 0h1M0 1408.55m18 0h1m25 0h1m1 0h1m29 0h1m67 0h1M0 1432.32m1 0h1m1 0h1m11 0h1m85 0h1m38 0h1m22 0h1M0 1456.08m17 0h1m20 0h1m45 0h1m93 0h1M0 1479.84m3 0h1m3 0h1m76 0h1m16 0h1m74 0h1m7 0h1M0 1503.6m3 0h1m1 0h1m1 0h1m9 0h1m3 0h2m10 0h1m50 0h1m3 0h1m9 0h1m2 0h1m5 0h1m10 0h1m21 0h1m1 0h1m20 0h1m9 0h1M0 1527.36m5 0h1m15 0h2m4 0h2m8 0h1m8 0h1m3 0h1m11 0h1m3 0h1m16 0h1m32 0h1m13 0h1m5 0h1m16 0h1M0 1551.12m5 0h1m6 0h1m6 0h3m1 0h2m1 0h1m13 0h2m4 0h1m18 0h1m3 0h2m9 0h1m15 0h1m7 0h1m11 0h1m21 0h1m2 0h1m33 0h1M0 1574.89m26 0h1m19 0h1m11 0h1m8 0h1m3 0h1m4 0h1m4 0h1m12 0h1m9 0h1m2 0h1m23 0h1m15 0h1m7 0h1m28 0h1M0 1598.65m11 0h1m6 0h1m39 0h1M0 1622.41m10 0h1m66 0h1m9 0h1m52 0h1m12 0h1m16 0h1M0 1646.17m25 0h1m107 0h1m22 0h1M0 1669.93m42 0h1m3 0h1m56 0h1m45 0h1m7 0h1M0 1693.7m10 0h1m40 0h1m20 0h1m43 0h1m35 0h1M0 1717.46m22 0h1m6 0h1m15 0h1m3 0h1m9 0h2m94 0h1m2 0h1m13 0h1M0 1741.22m42 0h1m8 0h1m12 0h1m4 0h1M0 1764.98m65 0h1m19 0h1m14 0h1m49 0h1m8 0h1m24 0h1M0 1788.75m29 0h1m31 0h1m2 0h1m20 0h1m92 0h1M0 1812.51m6 0h1m1 0h1m8 0h1m6 0h1m6 0h1m15 0h1m18 0h1m96 0h1m21 0h1M0 1836.27m27 0h2m20 0h1m11 0h1m21 0h1m32 0h1m31 0h1m17 0h1m18 0h1M0 1860.03m10 0h1m7 0h1m71 0h1m2 0h1m90 0h1M0 1883.79m16 0h1m10 0h1m14 0h1m10 0h1m23 0h1m34 0h1m10 0h1m4 0h1m11 0h1m19 0h1m3 0h1m3 0h1M0 1907.56m2 0h1m16 0h1m14 0h1m1 0h1m26 0h1m22 0h1m15 0h1m1 0h1m44 0h1M0 1931.32m24 0h1m67 0h1m4 0h1m13 0h1M0 1955.08m2 0h1m30 0h1m10 0h2m8 0h1m7 0h1m15 0h1m7 0h1m2 0h1m18 0h1m12 0h1m7 0h1m41 0h1m7 0h1M0 1978.84m61 0h1M0 2002.6m39 0h1m10 0h1m7 0h1m55 0h1M0 2026.37m10 0h1m9 0h1m27 0h1m17 0h1m4 0h2m29 0h1m67 0h1m7 0h1M0 2050.13m16 0h1m61 0h1m68 0h1M0 2083.18m85 0h1M0 2106.94m28 0h1M0 2130.7m25 0h1m102 0h1m4 0h1M0 2154.47m34 0h1m108 0h1m31 0h1M0 2178.23m37 0h1m82 0h1m5 0h1m41 0h1M0 2201.99m29 0h1m7 0h1m21 0h1m45 0h1m10 0h1m15 0h1m1 0h1m10 0h1M0 2225.75m121 0h1m6 0h1m16 0h1m17 0h1M0 2249.51m1 0h1m2 0h1m39 0h1m2 0h1m1 0h1m7 0h1m16 0h1m16 0h2m18 0h1m11 0h1m13 0h1m10 0h1m12 0h1m20 0h1M0 2282.88m88 0h1M0 2306.64m17 0h1m14 0h1m2 0h1m78 0h1m19 0h2m17 0h1m3 0h1m9 0h2M0 2330.4m13 0h1m10 0h1m2 0h1m22 0h1m38 0h1m47 0h1M0 2354.17m3 0h1m146 0h1m2 0h1m21 0h1M0 2377.93m44 0h1m4 0h1m21 0h1m3 0h1m14 0h1m60 0h2M0 2401.69m2 0h1m8 0h1m21 0h1m2 0h1m31 0h1m1 0h1m9 0h1m17 0h1m17 0h1m4 0h1m7 0h1m18 0h1m9 0h1m6 0h1m17 0h1M0 2425.45m3 0h1m13 0h1m94 0h1m39 0h1m12 0h1M0 2449.21m16 0h1m49 0h1m21 0h1m2 0h1m1 0h1m1 0h1m11 0h1m20 0h1m52 0h1M0 2472.98m53 0h1m4 0h1m5 0h1m10 0h1m70 0h1M0 2496.74m4 0h1m15 0h1m26 0h1m8 0h1m19 0h1m1 0h1m20 0h2m26 0h1M0 2520.5m163 0h1m7 0h1M0 2544.26m4 0h1m37 0h1m38 0h1m1 0h1m14 0h1m5 0h1m55 0h1m6 0h1M0 2568.03m29 0h1M0 2591.79m89 0h1m38 0h1m45 0h1M0 2615.55m44 0h1m51 0h1m41 0h1m8 0h1m14 0h1m4 0h1m10 0h1M0 2639.31m74 0h1m5 0h1m63 0h1m5 0h2m19 0h1m2 0h1M0 2663.07m14 0h1m21 0h1m1 0h1m9 0h1m8 0h1m3 0h1m6 0h1m29 0h1m36 0h1m37 0h1M0 2686.84m2 0h1m46 0h1m30 0h1m49 0h1m4 0h1m22 0h1m6 0h1m10 0h1M0 2710.6m66 0h1m34 0h1m10 0h1m9 0h1m34 0h1m12 0h1M0 2734.36m17 0h1m9 0h1m2 0h1m80 0h1m4 0h1m36 0h1m2 0h1m19 0h1M0 2758.12m27 0h1m59 0h1m59 0h1M0 2781.88m17 0h1m9 0h1m2 0h1m18 0h1m4 0h1m33 0h1m22 0h1m11 0h1m44 0h1M0 2805.64m21 0h1m81 0h1m1 0h1m41 0h2m1 0h1m1 0h1M0 2829.41m26 0h1m149 0h1"/>
<path transform="translate(38 0) scale(1.57634 1)" stroke="#ff6060" stroke-width="23.81" fill="none" d="M0 400.88m70 0h1m39 0h1m5 0h1M0 448.4m21 0h1m19 0h1m29 0h1m67 0h1m17 0h1M0 472.17m32 0h1m9 0h1m27 0h1m5 0h1m11 0h1m81 0h1M0 495.93m152 0h1m14 0h1M0 519.69m122 0h1m45 0h1M0 543.45m110 0h1m1 0h1m3 0h1m12 0h1m28 0h1m13 0h1M0 567.22m168 0h1M0 590.98m36 0h1m20 0h1m100 0h1M0 614.74m64 0h2m14 0h1m28 0h1m59 0h1M0 638.5m3 0h1m11 0h1m20 0h1m10 0h1m75 0h1m2 0h1m19 0h1m22 0h1m6 0h1M0 662.26m47 0h1m3 0h1m2 0h1m8 0h1m36 0h1M0 686.02m17 0h1m7 0h1m93 0h1m14 0h1m26 0h1m11 0h1M0 709.79h1m103 0h1M0 733.55m105 0h1m4 0h1m16 0h1M0 757.31m82 0h1m4 0h1m12 0h1m17 0h1m6 0h1m10 0h1M0 781.07m9 0h1m20 0h1m20 0h1m52 0h1m24 0h1m46 0h1M0 804.83m70 0h1m97 0h1m7 0h1M0 828.6m25 0h1m35 0h1M0 876.12m70 0h1m3 0h1m41 0h1m33 0h2m8 0h1m10 0h1m1 0h1M0 899.88m41 0h1m3 0h1m11 0h1m13 0h1m27 0h1m20 0h1m22 0h1m5 0h1m9 0h1M0 923.64m14 0h1m18 0h1m12 0h1m4 0h1m39 0h1m18 0h1m26 0h1m25 0h1m21 0h1M0 947.41m40 0h1m26 0h1m42 0h1M0 971.17m136 0h1m15 0h1M0 994.93m19 0h1m95 0h1m34 0h1M0 1018.69m19 0h1m41 0h1M0 1042.46m84 0h2m23 0h1m1 0h1m20 0h1M0 1066.22m9 0h1m15 0h2m36 0h1m18 0h1m12 0h2m9 0h1m17 0h1m26 0h1m11 0h1m2 0h1M0 1089.98m21 0h1m52 0h1m78 0h1m1 0h1m5 0h1M0 1113.74m32 0h1m12 0h1m61 0h1m14 0h1m14 0h1m7 0h1m19 0h1M0 1137.5m100 0h1m35 0h1m30 0h1M0 1161.27m19 0h1m72 0h1m32 0h1m27 0h1M0 1185.03m123 0h1M0 1208.79m148 0h1M0 1232.55m23 0h1m101 0h1m11 0h1m30 0h1m10 0h1M0 1265.98m58 0h1m34 0h1m10 0h1m18 0h1m5 0h2m48 0h1M0 1289.74m30 0h1m62 0h1m67 0h1m23 0h1M0 1313.5m52 0h1m14 0h1m12 0h1m31 0h1m67 0h1M0 1337.27m77 0h1m20 0h1m8 0h1m42 0h1m24 0h1M0 1384.79m67 0h1m79 0h1m31 0h1M0 1408.55m75 0h1m1 0h1m3 0h1m20 0h1m43 0h1m22 0h1M0 1432.32m113 0h1m45 0h1m8 0h1m12 0h1M0 1456.08m42 0h1m82 0h1M0 1479.84m8 0h1m42 0h1m34 0h1m27 0h1m15 0h1m15 0h1m5 0h1m24 0h1M0 1503.6m108 0h1m47 0h1M0 1527.36m2 0h1m13 0h1m8 0h1m15 0h1m1 0h1m19 0h1m60 0h1m14 0h1m4 0h1m32 0h1M0 1551.12h1m3 0h1m3 0h1m5 0h1m2 0h2m15 0h1m17 0h1m7 0h1m2 0h1m18 0h2m24 0h1m4 0h1m6 0h1m2 0h1m9 0h1M0 1598.65m55 0h1m43 0h1m46 0h1M0 1622.41m27 0h1m117 0h1M0 1646.17m111 0h1M0 1669.93m33 0h1m50 0h2m29 0h1m14 0h1m24 0h1M0 1693.7m75 0h1m48 0h1m10 0h1m25 0h1M0 1717.46m127 0h1M0 1741.22m25 0h1m63 0h1m89 0h1M0 1764.98m31 0h1m14 0h1m113 0h1M0 1788.75m2 0h1m34 0h1m38 0h1m7 0h1m15 0h1m27 0h1m45 0h1M0 1812.51m7 0h1m51 0h1m3 0h2m2 0h1m12 0h1m18 0h1m32 0h1m16 0h1m7 0h1m4 0h1M0 1836.27m3 0h1m106 0h1m24 0h1m1 0h1m2 0h1m9 0h1m25 0h1M0 1860.03m22 0h1m16 0h1m89 0h1m43 0h1M0 1883.79m86 0h1m38 0h1m12 0h1m3 0h1m23 0h1m9 0h1M0 1907.56m26 0h1m63 0h1m15 0h1m12 0h1m51 0h1M0 1931.32m29 0h1m88 0h1m63 0h1M0 1955.08m8 0h1m11 0h1m1 0h1m13 0h1m6 0h1m4 0h1m7 0h1m4 0h1m50 0h1m12 0h1M0 1978.84m72 0h1m5 0h1m55 0h1M0 2002.6m23 0h1m48 0h1m68 0h1m6 0h1M0 2026.37m88 0h1m56 0h1m1 0h1m2 0h1m9 0h1M0 2083.18m113 0h1m63 0h1M0 2106.94m67 0h1m78 0h1M0 2130.7m52 0h1m49 0h1M0 2154.47m114 0h1m5 0h1m3 0h1m34 0h2M0 2178.23m49 0h1m102 0h1M0 2201.99m43 0h1m126 0h1M0 2225.75m7 0h1m63 0h1m1 0h1m23 0h1m61 0h1m9 0h1M0 2249.51m2 0h1m168 0h1m6 0h1M0 2282.88m60 0h1M0 2306.64m19 0h1m27 0h1m4 0h1m30 0h1m59 0h1m2 0h1m14 0h1m22 0h1M0 2330.4m14 0h1m13 0h1m31 0h1m6 0h2m66 0h1M0 2354.17m44 0h1m36 0h1m81 0h1M0 2377.93m1 0h1m56 0h1M0 2401.69m18 0h1m1 0h1m9 0h1m24 0h1m4 0h1m14 0h1m38 0h1m30 0h1m9 0h1m7 0h1m10 0h1M0 2425.45m141 0h1M0 2449.21m9 0h1m62 0h1m48 0h1m24 0h2m7 0h1m8 0h1m7 0h1M0 2472.98m1 0h1m65 0h1m46 0h1m8 0h1m7 0h2m7 0h1m2 0h1M0 2496.74m40 0h1m20 0h1m2 0h1m93 0h1m12 0h1M0 2520.5m54 0h1m34 0h1m4 0h1m6 0h1M0 2544.26m48 0h1m1 0h1m2 0h1m49 0h1m33 0h1m20 0h1m11 0h1m5 0h1M0 2568.03m120 0h1m12 0h1M0 2591.79m15 0h1m30 0h1m116 0h1m11 0h1M0 2615.55m31 0h1m9 0h1m38 0h1m75 0h1M0 2639.31m13 0h1m17 0h1m1 0h1m45 0h1m49 0h1m10 0h1m43 0h1M0 2663.07m11 0h1M0 2686.84m18 0h1m33 0h1m29 0h1M0 2710.6m22 0h1m114 0h1m22 0h1m1 0h1m14 0h1M0 2734.36m24 0h1m114 0h1m3 0h1m23 0h1M0 2758.12m15 0h1m2 0h1m98 0h1m17 0h1m15 0h1M0 2781.88h1m8 0h1m6 0h1m21 0h1m9 0h1m6 0h1m10 0h1m8 0h1m6 0h1m1 0h1m32 0h1m7 0h1m3 0h1m4 0h1m2 0h1m36 0h1M0 2805.64m29 0h1m66 0h1m37 0h1m33 0h1m7 0h1M0 2829.41m16 0h1m27 0h1m7 0h1m9 0h1m56 0h1m10 0h1m5 0h1"/>
<path transform="translate(38 0) scale(1.57634 1)" stroke="#ff4040" stroke-width="23.81" fill="none" d="M0 400.88m27 0h1m54 0h1m14 0h1m67 0h1m17 0h1M0 424.64m79 0h1m98 0h2M0 448.4m44 0h1M0 472.17m3 0h1m110 0h1m29 0h1m8 0h1m26 0h1M0 495.93m66 0h1m59 0h1m30 0h1M0 519.69m58 0h1M0 543.45h1m13 0h1m163 0h1M0 567.22m82 0h1m32 0h1M0 590.98m10 0h1m118 0h1m12 0h1m18 0h1m4 0h1M0 614.74m27 0h1m80 0h1m9 0h1m62 0h1M0 638.5m23 0h1m70 0h1m8 0h1m38 0h1m1 0h2m28 0h1M0 662.26m58 0h1m31 0h1M0 686.02m75 0h1m42 0h1m36 0h1M0 709.79m77 0h1m57 0h1m46 0h1M0 781.07m74 0h1m37 0h1m72 0h1M0 828.6m53 0h1M0 852.36m132 0h1m41 0h1M0 876.12m33 0h1m31 0h1m99 0h1M0 899.88m31 0h1m49 0h1M0 923.64m4 0h1m2 0h1m65 0h1m21 0h1m78 0h1M0 947.41m102 0h1m63 0h1M0 971.17m166 0h1M0 994.93m27 0h1m4 0h1m65 0h1m25 0h1m36 0h1M0 1018.69m92 0h1m46 0h1m19 0h1m22 0h1M0 1042.46m13 0h1m64 0h1m29 0h1M0 1066.22m97 0h1m69 0h1m5 0h1M0 1089.98m4 0h1m9 0h1m32 0h1m14 0h1m6 0h1m19 0h1m35 0h1m24 0h1m14 0h1m10 0h1m5 0h1M0 1113.74m109 0h1m49 0h1M0 1137.5m28 0h1m23 0h1m37 0h1m66 0h1m11 0h1m3 0h1M0 1161.27m51 0h1m1 0h1m17 0h1m51 0h1M0 1185.03m154 0h1m5 0h1M0 1232.55m28 0h1m123 0h1m17 0h1M0 1265.98m44 0h1m33 0h1m19 0h1m72 0h1M0 1289.74m50 0h1m47 0h1m17 0h1m37 0h1M0 1313.5m42 0h1m30 0h1m12 0h1m27 0h1M0 1337.27m32 0h1m67 0h1m60 0h1m14 0h1M0 1408.55m24 0h1m13 0h1m11 0h1m64 0h1M0 1432.32m174 0h1M0 1456.08m28 0h1m129 0h1M0 1479.84m68 0h1m31 0h1m40 0h1M0 1503.6m20 0h1m93 0h1m20 0h1m8 0h1M0 1527.36h1m2 0h1m2 0h1m4 0h1m14 0h1m33 0h1m32 0h1m54 0h1M0 1551.12m2 0h1m6 0h1m17 0h2M0 1574.89m38 0h1m84 0h1M0 1598.65m28 0h1m20 0h1m16 0h1m11 0h1m19 0h1m49 0h1M0 1622.41m180 0h1M0 1646.17m49 0h1m72 0h1M0 1669.93m2 0h1m47 0h1m18 0h1m44 0h1m2 0h1m36 0h1m20 0h1M0 1693.7m27 0h1m22 0h1m54 0h1m15 0h1m3 0h1M0 1717.46m48 0h1m15 0h1m80 0h1M0 1764.98m6 0h1m8 0h1m6 0h1m28 0h1m41 0h1m63 0h1M0 1788.75m15 0h1m18 0h1m32 0h1m46 0h1m8 0h1m18 0h1m21 0h1m19 0h1M0 1812.51m90 0h1m6 0h1m14 0h1m3 0h1m33 0h1m20 0h1m1 0h1M0 1836.27m81 0h1m73 0h1m12 0h1M0 1860.03m40 0h1m12 0h1m40 0h1m22 0h1M0 1883.79m19 0h1m50 0h2m9 0h1m9 0h1m11 0h1m30 0h1M0 1907.56m8 0h1m85 0h1m55 0h1m17 0h1m6 0h1M0 1931.32m50 0h1m70 0h1M0 1955.08m15 0h1m7 0h1m23 0h1m36 0h1m35 0h1m38 0h1M0 1978.84m16 0h1M0 2002.6m104 0h1m31 0h1M0 2026.37m22 0h1m5 0h1m78 0h1m4 0h1m1 0h1m70 0h1M0 2050.13m57 0h1m12 0h1m36 0h1m24 0h1M0 2083.18m62 0h1m46 0h1m12 0h1m59 0h1M0 2106.94m180 0h1M0 2130.7m154 0h1M0 2154.47m35 0h1m96 0h1m11 0h1m18 0h1M0 2178.23m77 0h1M0 2201.99m109 0h1M0 2249.51m22 0h1m105 0h1M0 2282.88m173 0h1M0 2306.64m98 0h1M0 2330.4m159 0h2M0 2354.17m5 0h1m62 0h1M0 2377.93m124 0h1m35 0h1m14 0h1M0 2401.69h1m8 0h1m6 0h1m9 0h1m2 0h1m4 0h1m4 0h1m1 0h1m31 0h1m38 0h1M0 2425.45m79 0h1M0 2449.21m59 0h1m4 0h1m9 0h1m38 0h1M0 2472.98m5 0h1m12 0h1m11 0h1m9 0h1m139 0h1M0 2496.74m51 0h1m61 0h1M0 2520.5m36 0h1m4 0h1m6 0h1m65 0h1m2 0h1M0 2544.26m16 0h1m15 0h1m121 0h1M0 2568.03m179 0h1m3 0h1M0 2591.79m55 0h1m63 0h1m30 0h1m9 0h1M0 2615.55m86 0h1m8 0h1m5 0h1m71 0h1M0 2639.31m120 0h1m47 0h1m12 0h1M0 2663.07m6 0h1m24 0h1m13 0h1m6 0h1m25 0h1m23 0h1m47 0h1M0 2686.84m73 0h1m58 0h1m44 0h1m5 0h1M0 2710.6m110 0h1m14 0h1m41 0h1M0 2734.36m183 0h1M0 2758.12m180 0h1M0 2781.88m19 0h1m22 0h1m33 0h1m33 0h1m5 0h1m18 0h1m10 0h1m1 0h1m22 0h1M0 2805.64m72 0h1m2 0h1m2 0h1m36 0h1m3 0h1m22 0h1m17 0h1M0 2829.41m5 0h1m119 0h1m12 0h1"/>
<path transform="translate(38 0) scale(1.57634 1)" stroke="#ff2020" stroke-width="23.81" fill="none" d="M0 448.4m103 0h1m25 0h1M0 495.93m41 0h1m88 0h1m7 0h1m20 0h1m14 0h1M0 519.69m75 0h1m12 0h1m58 0h1M0 543.45m29 0h1m37 0h1m19 0h1m7 0h1m32 0h1M0 567.22m8 0h1m84 0h1m39 0h1m31 0h1m19 0h1M0 590.98m9 0h1M0 614.74m117 0h1m25 0h1m15 0h1M0 638.5m24 0h1m29 0h1m102 0h1m27 0h1M0 662.26m21 0h1m7 0h1m3 0h1m83 0h1m25 0h1M0 686.02m167 0h1m13 0h1M0 709.79m20 0h1M0 757.31m57 0h1m18 0h1m8 0h1m63 0h1m21 0h1M0 781.07m83 0h1m19 0h1m54 0h1M0 804.83m74 0h1m79 0h1M0 828.6m40 0h1M0 852.36m129 0h1M0 876.12m132 0h1m9 0h1M0 899.88m42 0h1M0 923.64m67 0h1m13 0h1m16 0h1m25 0h1m56 0h1M0 947.41m60 0h1m62 0h1M0 971.17m47 0h1m125 0h1M0 994.93m37 0h1m115 0h1M0 1018.69m123 0h1M0 1042.46m19 0h1m155 0h1M0 1066.22m78 0h1M0 1089.98m144 0h1m7 0h1m1 0h1M0 1113.74m83 0h1m39 0h1M0 1137.5m104 0h1M0 1161.27m79 0h1m16 0h1m1 0h1M0 1185.03m101 0h1m31 0h1m13 0h1m10 0h1M0 1232.55m11 0h1m78 0h1m1 0h1M0 1289.74m57 0h1m31 0h1m34 0h1m43 0h1M0 1313.5m76 0h1m15 0h1M0 1408.55m14 0h1m46 0h1m3 0h1m61 0h1M0 1456.08m7 0h1m12 0h1M0 1479.84m103 0h1m54 0h1m15 0h1M0 1503.6m1 0h1m60 0h1M0 1527.36m8 0h1m15 0h1m8 0h1m2 0h1m2 0h1m105 0h1m22 0h1M0 1551.12m1 0h1m13 0h2m54 0h1m34 0h1m45 0h1m30 0h1M0 1574.89m99 0h1m72 0h1M0 1598.65m184 0h1M0 1622.41m54 0h1m112 0h1M0 1646.17m140 0h1M0 1669.93m113 0h1M0 1693.7m90 0h1M0 1717.46m5 0h1M0 1764.98m134 0h1M0 1788.75m31 0h1m12 0h1m108 0h1M0 1812.51m54 0h1M0 1836.27m76 0h1m27 0h1m2 0h1M0 1883.79m22 0h1m81 0h1M0 1907.56m56 0h1m15 0h1m30 0h1m13 0h1M0 1931.32m74 0h1m12 0h1M0 1955.08m3 0h1m83 0h1m72 0h1m4 0h1M0 1978.84m155 0h1M0 2002.6m36 0h1m78 0h1M0 2026.37m51 0h1m70 0h1m15 0h1m15 0h1M0 2050.13m133 0h1M0 2106.94m110 0h1M0 2154.47m20 0h1m19 0h1m46 0h1m34 0h1m35 0h1m6 0h1M0 2178.23m119 0h1m19 0h1M0 2201.99m151 0h1M0 2225.75m74 0h1M0 2249.51m172 0h1M0 2282.88m107 0h1M0 2306.64m18 0h1m4 0h1m14 0h1m6 0h1m114 0h1m12 0h1M0 2330.4m72 0h1M0 2354.17m120 0h1m40 0h1M0 2377.93m109 0h1m12 0h1M0 2401.69m1 0h1m1 0h1m10 0h1m154 0h1M0 2425.45m103 0h1m18 0h1M0 2449.21m48 0h1m127 0h1M0 2472.98m10 0h1M0 2496.74m7 0h1m60 0h1m60 0h1M0 2520.5m70 0h1m25 0h1m38 0h1M0 2544.26m44 0h1m73 0h1M0 2615.55m98 0h1m16 0h1m29 0h1m13 0h1M0 2663.07m16 0h1m104 0h1m23 0h1m12 0h1m17 0h1m4 0h1M0 2686.84m5 0h1m24 0h1m67 0h1M0 2710.6m35 0h1m32 0h1m1 0h1m100 0h1M0 2734.36m90 0h1m54 0h1M0 2758.12m96 0h1M0 2781.88m50 0h1M0 2805.64m40 0h1m33 0h1m100 0h1m3 0h1M0 2829.41m51 0h1m51 0h1"/>
<path transform="translate(38 0) scale(1.57634 1)" stroke="#ff0000" stroke-width="23.81" fill="none" d="M0 400.88m134 0h1m7 0h1m9 0h1M0 424.64m46 0h1m3 0h1m96 0h1m8 0h1m11 0h1M0 448.4m52 0h1m24 0h2m28 0h1m53 0h1m4 0h1m5 0h1M0 472.17m17 0h1m3 0h1m34 0h1m14 0h1m3 0h1m15 0h1m1 0h1m52 0h1M0 495.93m16 0h1m16 0h1m94 0h2m19 0h1m28 0h1m5 0h1M0 519.69m4 0h2m129 0h1M0 543.45m6 0h1m10 0h1m51 0h1m91 0h1M0 567.22m110 0h1m16 0h1m9 0h1m36 0h1m8 0h1M0 590.98m38 0h1m5 0h1m31 0h1m56 0h1m13 0h1m20 0h1M0 614.74m85 0h1m14 0h1m36 0h1M0 638.5m2 0h1m32 0h1m33 0h1m5 0h1m22 0h1m30 0h1m30 0h1m14 0h1M0 662.26m1 0h1m39 0h1m49 0h1m22 0h1m11 0h1m22 0h1m7 0h1m17 0h1M0 686.02m9 0h1m47 0h1m47 0h1m3 0h1m29 0h1m16 0h2m1 0h1M0 709.79m31 0h1m51 0h1m49 0h1m33 0h1M0 733.55m6 0h1m53 0h1m6 0h1m77 0h1m2 0h1M0 757.31m42 0h1m6 0h1m70 0h1m18 0h1m13 0h1m29 0h1m1 0h1M0 781.07m50 0h1m94 0h1m35 0h1M0 804.83m87 0h1m10 0h1m4 0h1M0 828.6m33 0h1m20 0h1m51 0h1m18 0h1m19 0h1m36 0h1M0 852.36m63 0h1m3 0h1m47 0h1m23 0h1m12 0h1M0 876.12m38 0h1m67 0h1m2 0h1m52 0h1m15 0h1m6 0h1M0 899.88m55 0h1m9 0h1m67 0h1m8 0h1m2 0h1m16 0h1m13 0h1M0 923.64m32 0h1m46 0h1m24 0h1m25 0h1m49 0h1M0 947.41h1m2 0h1m15 0h1m54 0h1m1 0h1M0 971.17m85 0h2m15 0h1m14 0h1m39 0h1M0 994.93m64 0h1m13 0h1m7 0h2m4 0h1m20 0h1m7 0h1M0 1018.69m10 0h1m17 0h1m54 0h1m54 0h1m6 0h1M0 1042.46m29 0h1m106 0h1m2 0h1m17 0h1M0 1066.22m12 0h1m14 0h1m89 0h1m1 0h1m17 0h1m2 0h1m28 0h2m3 0h1m6 0h1M0 1089.98m36 0h1m44 0h1m41 0h1m47 0h1M0 1113.74m28 0h1m85 0h1m35 0h1m22 0h1M0 1137.5m116 0h1m53 0h1M0 1161.27m59 0h1m55 0h1m3 0h1m27 0h1m10 0h1m18 0h1M0 1185.03m56 0h1m31 0h1m45 0h1m21 0h1m18 0h1m4 0h1M0 1208.79m6 0h1m37 0h1m49 0h1m43 0h1m6 0h1m11 0h1M0 1232.55m2 0h1m12 0h1m70 0h1m7 0h1m24 0h1m24 0h1m18 0h1M0 1265.98m18 0h1m35 0h1m2 0h1m33 0h1m3 0h1m29 0h1m8 0h1m48 0h1M0 1289.74m134 0h1M0 1313.5m18 0h1m5 0h1m49 0h1m28 0h1m24 0h1m55 0h1M0 1337.27m37 0h1m35 0h1m6 0h1m39 0h1m24 0h1m8 0h1m7 0h1M0 1361.03m51 0h1m89 0h1m21 0h1m10 0h1M0 1384.79m5 0h1m5 0h2m5 0h1m43 0h1m6 0h2m22 0h1m59 0h1M0 1408.55m29 0h1m30 0h1m28 0h1m10 0h1m16 0h2m1 0h1m1 0h1m6 0h1m18 0h2m1 0h1m27 0h1M0 1432.32m75 0h1m11 0h1m3 0h1m20 0h1m12 0h1m1 0h1m3 0h1m17 0h1m8 0h1M0 1456.08m56 0h1m53 0h1m2 0h1m25 0h1m9 0h1m16 0h1M0 1479.84m27 0h1m11 0h1m47 0h1m1 0h1m22 0h1m34 0h1M0 1503.6h1m8 0h2m2 0h1m9 0h2m29 0h1m4 0h1m33 0h1m37 0h1m15 0h1m27 0h1m3 0h1M0 1527.36m1 0h1m2 0h1m2 0h1m1 0h2m2 0h2m2 0h1m1 0h2m9 0h1m1 0h1m23 0h1m11 0h1m1 0h1m20 0h1m3 0h1m7 0h1m2 0h1m11 0h1m33 0h1m22 0h1M0 1551.12m3 0h1m2 0h2m3 0h1m10 0h1m8 0h1m19 0h1m1 0h1m10 0h1m1 0h1m45 0h1m29 0h1m31 0h1M0 1574.89m60 0h1m89 0h1m24 0h1M0 1598.65m14 0h1m28 0h1m84 0h1m6 0h1m31 0h1M0 1622.41m28 0h1m96 0h1m13 0h1m28 0h1M0 1646.17m18 0h1m15 0h1m27 0h2m15 0h1m8 0h1m7 0h1M0 1669.93m19 0h1m31 0h1m16 0h1m9 0h1m52 0h1m9 0h1m2 0h1M0 1693.7m2 0h1m1 0h1m27 0h1m20 0h1m3 0h1m18 0h1m33 0h1m9 0h1m10 0h1M0 1717.46m21 0h1m59 0h1m36 0h1m52 0h1M0 1741.22m16 0h1m33 0h1m29 0h1m10 0h1m5 0h1m60 0h1m26 0h1M0 1764.98m42 0h1m6 0h1M0 1788.75m14 0h1m6 0h1m1 0h1m21 0h1m90 0h1m24 0h1m10 0h1M0 1812.51m40 0h1m55 0h1m12 0h1m32 0h1M0 1836.27m100 0h1m35 0h1m10 0h1m1 0h1m20 0h1M0 1860.03m20 0h1m8 0h1m22 0h1m2 0h1m23 0h1m31 0h1M0 1883.79m13 0h1m30 0h1m24 0h1m45 0h1m14 0h1m13 0h1m3 0h1m16 0h1M0 1907.56m7 0h1m16 0h1m7 0h1m13 0h1m22 0h2m41 0h1m57 0h1M0 1931.32m19 0h1m12 0h1m105 0h1m4 0h1m30 0h1M0 1955.08m1 0h1m2 0h1m13 0h1m18 0h1m30 0h1m34 0h1m14 0h1m48 0h1M0 1978.84m14 0h1m54 0h1m24 0h1m5 0h1m1 0h1m13 0h1M0 2002.6m1 0h1m64 0h1m34 0h1m6 0h1m19 0h1m17 0h1M0 2026.37m74 0h1m77 0h1m12 0h1M0 2050.13m50 0h1m41 0h1m42 0h1m21 0h1M0 2083.18m92 0h1M0 2106.94m25 0h1m38 0h1m21 0h1m17 0h1m27 0h1m27 0h1M0 2130.7m17 0h1m125 0h1m8 0h1m3 0h1M0 2154.47m178 0h2m1 0h1M0 2178.23m8 0h1m55 0h1m19 0h1m19 0h1M0 2201.99m47 0h1m76 0h1m13 0h1M0 2225.75m2 0h1m28 0h1m56 0h1m4 0h1m8 0h1m35 0h1M0 2282.88m87 0h1m18 0h1m12 0h1M0 2306.64m106 0h1m44 0h1M0 2330.4m58 0h1m10 0h1m44 0h1m1 0h1m11 0h1m23 0h1M0 2354.17m23 0h1m28 0h1m5 0h1m11 0h1m7 0h1m28 0h1m5 0h1m1 0h1m9 0h1M0 2377.93m21 0h1m74 0h1m3 0h1m55 0h1M0 2401.69m4 0h5m1 0h1m4 0h1m3 0h1m2 0h3m13 0h1m19 0h1m29 0h2m23 0h1m3 0h1M0 2425.45m48 0h1m82 0h1m18 0h1M0 2449.21m29 0h1m62 0h1m57 0h1m14 0h1M0 2472.98m17 0h1m2 0h1m33 0h1m13 0h1m14 0h1m26 0h1m36 0h2m5 0h1m30 0h1M0 2496.74m26 0h1m12 0h1m83 0h1m32 0h1m2 0h1m10 0h1M0 2520.5m5 0h1m2 0h1m18 0h1m5 0h1m49 0h1m25 0h1m17 0h1m1 0h1m31 0h1M0 2544.26m31 0h1m120 0h1M0 2568.03m76 0h1m1 0h1M0 2591.79m58 0h1m26 0h1m10 0h1m61 0h1M0 2615.55m124 0h1m6 0h1m20 0h1m31 0h1M0 2639.31m26 0h1m9 0h1m35 0h1M0 2663.07m3 0h1m14 0h1m1 0h1m7 0h1m8 0h1m31 0h1m2 0h1m31 0h1m1 0h1m7 0h1m19 0h1m4 0h1m25 0h1m12 0h1M0 2686.84m102 0h1m3 0h1m13 0h1m4 0h1M0 2710.6m104 0h1m15 0h1m20 0h1m36 0h1M0 2734.36m2 0h1m12 0h1m66 0h1m12 0h1m1 0h2m6 0h1m24 0h1m16 0h1M0 2758.12m5 0h1m4 0h1m40 0h1m22 0h1m1 0h1m45 0h1m5 0h1m24 0h1m12 0h1m4 0h1M0 2781.88m1 0h2m1 0h1m3 0h1m28 0h1m2 0h1m3 0h1m63 0h1m18 0h1m5 0h1m46 0h1m3 0h1M0 2805.64m44 0h1m20 0h1m16 0h1m14 0h1M0 2829.41m42 0h1m13 0h1m15 0h1m25 0h1m23 0h1m26 0h1m3 0h1m8 0h1m1 0h1m12 0h1"/>
<path transform="translate(340.4 0) scale(1.57978 1)" stroke="#0000ff" stroke-width="23.81" fill="none" d="M0 614.74m36 0h1M0 781.07m8 0h1m88 0h1m42 0h1M0 923.64m70 0h1m21 0h1M0 1018.69m61 0h1m56 0h1M0 1089.98m38 0h1M0 1289.74m8 0h1m32 0h1M0 1527.36m168 0h1m6 0h1M0 1551.12m180 0h1m1 0h1M0 1574.89m49 0h1M0 1764.98m14 0h1M0 1812.51m9 0h1m38 0h1M0 1883.79m30 0h1M0 1955.08m71 0h1m80 0h1M0 2154.47m64 0h1M0 2249.51m4 0h1m161 0h1M0 2306.64m123 0h1M0 2401.69m72 0h1m60 0h1m4 0h1m21 0h1m13 0h1m1 0h1M0 2449.21m4 0h1m40 0h1m11 0h1M0 2496.74m29 0h1m45 0h1M0 2781.88m28 0h1m57 0h1m12 0h1m6 0h1m13 0h1m24 0h1M0 2805.64m77 0h1"/>
<path transform="translate(340.4 0) scale(1.57978 1)" stroke="#2020ff" stroke-width="23.81" fill="none" d="M0 614.74m1 0h1m128 0h1M0 781.07m100 0h1m1 0h1M0 876.12m64 0h1M0 923.64m26 0h1m11 0h1m95 0h1m5 0h1m31 0h1M0 1018.69m59 0h1m60 0h1M0 1089.98m37 0h1m25 0h1M0 1137.5m134 0h1m7 0h1M0 1313.5m117 0h1M0 1408.55m181 0h1M0 1551.12m167 0h1M0 1574.89m36 0h1m10 0h1m53 0h1M0 1764.98m78 0h1m49 0h1M0 1812.51m3 0h1m66 0h1M0 1836.27m1 0h1M0 1883.79m109 0h1m23 0h1M0 1955.08h1m58 0h1m88 0h1m18 0h1m9 0h1M0 2026.37m23 0h1M0 2154.47m92 0h1M0 2249.51m129 0h1M0 2306.64m57 0h1m8 0h1M0 2401.69m74 0h1m6 0h1m53 0h1m29 0h1M0 2449.21m128 0h1M0 2496.74m66 0h1M0 2686.84m104 0h1M0 2781.88m168 0h1m13 0h1M0 2805.64m21 0h1"/>
<path transform="translate(340.4 0) scale(1.57978 1)" stroke="#4040ff" stroke-width="23.81" fill="none" d="M0 614.74m29 0h1m2 0h1M0 781.07h1m5 0h1m103 0h1m65 0h1M0 876.12m48 0h1M0 923.64m45 0h1M0 1018.69m68 0h1M0 1042.46m36 0h1m13 0h1m56 0h1M0 1066.22m21 0h1M0 1089.98m6 0h1m13 0h2m11 0h1M0 1137.5m92 0h1m35 0h1M0 1289.74m14 0h1m69 0h1m75 0h1M0 1313.5m56 0h1m16 0h1m26 0h1m4 0h1m47 0h1M0 1408.55m120 0h1m36 0h1m21 0h1M0 1527.36m110 0h1m4 0h1m5 0h1m16 0h1m6 0h2m2 0h1m2 0h1m8 0h1m7 0h1m1 0h1m5 0h1M0 1551.12m152 0h1m5 0h1m5 0h1M0 1574.89m1 0h1m29 0h1m2 0h1m65 0h1M0 1764.98m19 0h1m102 0h1m27 0h1M0 1812.51m7 0h1m38 0h1m8 0h1m3 0h1M0 1836.27m20 0h1m28 0h1m61 0h1M0 1883.79m3 0h1m67 0h1m11 0h1m29 0h1m41 0h1M0 1907.56m173 0h1M0 1955.08m41 0h1m25 0h1m8 0h1m35 0h1m14 0h1m3 0h1m18 0h1m13 0h1m3 0h1M0 2026.37m2 0h1m8 0h1m34 0h1m104 0h1M0 2154.47m28 0h1M0 2201.99m37 0h1M0 2249.51m14 0h1m47 0h1m17 0h1M0 2306.64m41 0h1m61 0h1m62 0h1M0 2401.69m22 0h1m3 0h1m46 0h1m41 0h1m6 0h2m19 0h1m20 0h1m17 0h1M0 2449.21m91 0h1m10 0h1m11 0h1m19 0h1m35 0h1M0 2496.74m2 0h1m161 0h1M0 2663.07m64 0h1m51 0h1m5 0h1m10 0h1m21 0h1M0 2686.84m38 0h1m2 0h1m19 0h1m31 0h1M0 2710.6m11 0h1m39 0h1m9 0h1m26 0h1m1 0h1m65 0h1M0 2781.88m47 0h1m24 0h1m14 0h1m35 0h1m3 0h1m14 0h1m1 0h1m3 0h1m6 0h1m3 0h1m9 0h1m6 0h1M0 2805.64m20 0h1m32 0h1M0 2829.41m133 0h1m39 0h1m3 0h1m1 0h1"/>
<path transform="translate(340.4 0) scale(1.57978 1)" stroke="#6060ff" stroke-width="23.81" fill="none" d="M0 400.88m44 0h1M0 448.4m4 0h1m4 0h1M0 472.17m75 0h1M0 495.93m25 0h1m57 0h1m8 0h1M0 519.69m57 0h1m39 0h1M0 614.74m8 0h1m35 0h1m47 0h1m5 0h1m12 0h1m7 0h1m8 0h1M0 638.5m2 0h1m3 0h1m41 0h2m16 0h1m1 0h1m8 0h1m21 0h1M0 662.26m26 0h1m29 0h1m91 0h1M0 781.07m2 0h1m33 0h1m24 0h1m9 0h1m20 0h1m41 0h1m11 0h1M0 899.88m33 0h1m3 0h1M0 923.64m6 0h1m12 0h1m9 0h1m5 0h1m14 0h1m17 0h1m43 0h1m11 0h1m1 0h1m3 0h1m23 0h1m5 0h1m16 0h1m3 0h1M0 947.41m21 0h1m14 0h1m29 0h1m1 0h1m8 0h1m29 0h1M0 971.17m4 0h1M0 994.93m29 0h1m93 0h1M0 1018.69m46 0h1m3 0h1m80 0h1m24 0h1M0 1042.46m33 0h1m66 0h1m1 0h1m20 0h1M0 1066.22m5 0h1m29 0h1m6 0h1m136 0h1M0 1089.98m16 0h1m5 0h1m13 0h1m32 0h1m23 0h1m35 0h1m4 0h1m15 0h1M0 1113.74m3 0h1M0 1137.5m35 0h1m76 0h1m26 0h1M0 1161.27m19 0h1M0 1232.55m2 0h1m13 0h1m10 0h1m67 0h1M0 1265.98m41 0h1m45 0h1m4 0h1M0 1289.74m36 0h1m8 0h1m116 0h1M0 1313.5m14 0h1m20 0h1m9 0h1m22 0h1m19 0h1m40 0h1M0 1408.55m8 0h1m13 0h1m2 0h1m6 0h1m12 0h1m2 0h1m44 0h1m8 0h1m8 0h1m23 0h1m6 0h1m7 0h1m11 0h1m5 0h1m7 0h1m1 0h1M0 1456.08m30 0h1M0 1479.84m39 0h1M0 1503.6m99 0h1m11 0h1m3 0h1m18 0h1m1 0h1m38 0h1M0 1527.36m1 0h1m67 0h1m6 0h1m2 0h1m3 0h1m10 0h1m4 0h1m8 0h1m16 0h1m6 0h1m20 0h2m4 0h1m13 0h2m5 0h1m1 0h1M0 1551.12m32 0h1m3 0h1m59 0h1m21 0h2m1 0h1m1 0h1m18 0h1m2 0h2m6 0h1m3 0h1m7 0h1m9 0h1m3 0h1m1 0h1M0 1574.89m14 0h1m71 0h1m40 0h1m16 0h1M0 1669.93m8 0h1m74 0h1m26 0h1M0 1693.7m27 0h1m8 0h1m110 0h1M0 1764.98m38 0h1m126 0h1M0 1788.75m22 0h1M0 1812.51m22 0h1m82 0h1M0 1836.27m54 0h1m5 0h1m13 0h1m3 0h1m19 0h2m41 0h1m16 0h1m13 0h1M0 1883.79m39 0h1m16 0h1m109 0h1M0 1907.56m11 0h1m16 0h1m17 0h1m39 0h1m19 0h1m6 0h1m5 0h1m10 0h1m23 0h1m8 0h1m18 0h1M0 1955.08m2 0h1m5 0h1m4 0h1m3 0h1m19 0h1m6 0h1m6 0h1m9 0h1m13 0h1m11 0h1m11 0h1m19 0h1m2 0h1m22 0h1m5 0h1m1 0h1m24 0h1M0 2026.37m6 0h1m3 0h1m5 0h1m35 0h1m1 0h1m17 0h1m33 0h1m22 0h1M0 2154.47m6 0h1m10 0h1m6 0h1m35 0h1m34 0h1m47 0h1M0 2201.99m28 0h1m28 0h1M0 2249.51m22 0h1m3 0h1m9 0h1m8 0h1m3 0h1m1 0h1m36 0h1m10 0h1m31 0h1m5 0h1m9 0h1M0 2306.64m8 0h1m8 0h1m3 0h1m45 0h1m20 0h1m33 0h1m23 0h1m29 0h1M0 2354.17m29 0h1M0 2401.69m31 0h1m10 0h1m59 0h1m2 0h1m23 0h1m41 0h2M0 2449.21m9 0h1m11 0h1m36 0h1m14 0h1m8 0h1m1 0h1m9 0h1m22 0h1m1 0h1m9 0h1M0 2472.98m97 0h1M0 2496.74m20 0h1m11 0h1m31 0h1m27 0h1m5 0h1M0 2568.03m92 0h1M0 2615.55m2 0h1m26 0h1m4 0h1m7 0h1M0 2663.07m14 0h1m22 0h1m7 0h1m65 0h1m3 0h1m14 0h1m12 0h1m20 0h1m11 0h1M0 2686.84m29 0h1m5 0h1m3 0h1m17 0h1m15 0h1m15 0h1m6 0h1m49 0h1M0 2710.6m9 0h1m48 0h1M0 2734.36m6 0h2m9 0h1m36 0h1m29 0h1M0 2781.88m22 0h1m16 0h1m3 0h1m4 0h1m9 0h1m17 0h2m6 0h1m12 0h1m2 0h1m4 0h1m8 0h1m4 0h1m5 0h1m34 0h1m19 0h1M0 2805.64m2 0h1m59 0h2m14 0h1m79 0h1M0 2829.41m28 0h1m6 0h1m11 0h1m41 0h1m24 0h1m17 0h1m22 0h1m6 0h1m3 0h1m9 0h1"/>
<path transform="translate(340.4 0) scale(1.57978 1)" stroke="#8080ff" stroke-width="23.81" fill="none" d="M0 400.88m8 0h2m3 0h1m12 0h1m19 0h1m13 0h1m1 0h1m15 0h1m17 0h1m2 0h1m2 0h1m10 0h1m29 0h1M0 448.4m24 0h1m10 0h1m21 0h1m13 0h1m7 0h1m1 0h1m2 0h1m4 0h1m8 0h1m10 0h1M0 472.17h1m7 0h1m24 0h1m7 0h1m3 0h1m4 0h1m1 0h1m9 0h1m7 0h1m14 0h1m1 0h1m3 0h1m36 0h1M0 495.93m2 0h1m3 0h2m7 0h1m3 0h1m3 0h1m4 0h1m17 0h1m3 0h1m39 0h1m11 0h2m15 0h3m3 0h1M0 519.69m1 0h1m29 0h1m14 0h1m15 0h1m11 0h1m14 0h1m42 0h1m28 0h1M0 543.45m1 0h1m13 0h1m12 0h1m6 0h1m30 0h2m11 0h1m28 0h1m32 0h1M0 614.74m34 0h1m7 0h1m77 0h1m41 0h1M0 638.5m5 0h1m5 0h1m11 0h1m4 0h2m3 0h1m1 0h1m9 0h1m50 0h1m6 0h1m45 0h1m2 0h1m6 0h1m4 0h1m12 0h2M0 662.26m5 0h1m31 0h1m1 0h1m37 0h1m22 0h1m12 0h1m63 0h1M0 686.02m14 0h1m29 0h1M0 709.79m19 0h1m21 0h1M0 757.31m2 0h1m12 0h1m1 0h1m16 0h1m9 0h1m5 0h1m8 0h1M0 781.07m5 0h1m7 0h1m43 0h1m15 0h1m69 0h1m23 0h1M0 828.6h1m4 0h1m6 0h1m1 0h1m61 0h1M0 876.12h1m11 0h1m27 0h1m2 0h1m30 0h1m17 0h1m17 0h1M0 899.88m4 0h1m4 0h1m1 0h1m18 0h1m7 0h1m9 0h1m3 0h2m4 0h1m4 0h1m5 0h1m1 0h1m22 0h1m1 0h1m6 0h1M0 923.64h1m9 0h1m20 0h1m16 0h1m52 0h1m1 0h1m7 0h1m20 0h1m18 0h1m14 0h1m11 0h1M0 947.41m1 0h1m17 0h1m21 0h1m2 0h1m16 0h1m19 0h1m3 0h1m8 0h1m1 0h1m33 0h1m15 0h1m6 0h2m10 0h1m6 0h1M0 971.17m9 0h1m14 0h1m17 0h1m59 0h1M0 994.93m18 0h1m7 0h1m4 0h1m2 0h1m3 0h1m5 0h1m13 0h1m13 0h1m18 0h1m5 0h1m1 0h2m15 0h1m31 0h1M0 1018.69m4 0h1m22 0h1m4 0h1m11 0h1m12 0h1m7 0h1m32 0h1m28 0h1m2 0h1m44 0h1M0 1042.46m10 0h1m38 0h1m1 0h1m8 0h1m13 0h1m20 0h1m3 0h1m6 0h1m39 0h1M0 1066.22m4 0h1m18 0h1m2 0h1m11 0h1m1 0h1m35 0h1m21 0h2m43 0h1M0 1089.98m11 0h1m15 0h1m7 0h1m22 0h1m2 0h1m16 0h1m21 0h1m3 0h1m2 0h2m3 0h1m4 0h1m21 0h1M0 1113.74m41 0h1m8 0h1m51 0h1m1 0h1m20 0h1M0 1137.5h1m6 0h1m20 0h1m1 0h1m26 0h1m86 0h1M0 1161.27m29 0h1m17 0h2m14 0h1m2 0h1m7 0h2m2 0h1M0 1232.55m4 0h1m12 0h1m51 0h1m15 0h1m48 0h1m4 0h1m2 0h1m7 0h1m1 0h1m13 0h1m2 0h1M0 1265.98m2 0h1m9 0h1m2 0h1m35 0h1m1 0h1m6 0h1m45 0h1m7 0h1m47 0h1M0 1289.74m4 0h2m11 0h1m5 0h1m8 0h1m26 0h1m84 0h1M0 1313.5m6 0h1m21 0h1m15 0h1m8 0h1m6 0h1m19 0h1m4 0h1M0 1408.55m2 0h1m20 0h2m1 0h1m15 0h2m5 0h2m30 0h1m14 0h1m1 0h1m11 0h1m34 0h2m1 0h1m3 0h1m12 0h1m4 0h1m1 0h1M0 1456.08m16 0h1m4 0h1m16 0h1m27 0h1M0 1479.84m7 0h1m1 0h1m2 0h2m23 0h1m27 0h1m18 0h2m2 0h1m4 0h1m46 0h1m27 0h1m11 0h1M0 1503.6m4 0h1m10 0h1m3 0h1m22 0h1m1 0h1m3 0h1m12 0h1m3 0h1m1 0h1m2 0h1m4 0h1m10 0h1m5 0h1m14 0h1m11 0h1m12 0h1m5 0h1m14 0h3m12 0h1m8 0h1m4 0h1M0 1527.36m2 0h1m9 0h1m1 0h1m6 0h1m29 0h2m2 0h1m2 0h1m1 0h1m28 0h1m3 0h1m4 0h1m7 0h1m4 0h1m8 0h1m1 0h1m1 0h1m2 0h1m2 0h1m13 0h1m12 0h2m4 0h1M0 1551.12m9 0h1m1 0h1m7 0h1m13 0h1m4 0h1m20 0h1m12 0h1m1 0h1m14 0h1m1 0h1m1 0h1m10 0h1m2 0h1m4 0h1m3 0h1m10 0h1m2 0h1m5 0h1m2 0h1m16 0h1m2 0h1m9 0h1m1 0h2m1 0h1M0 1574.89h1m10 0h1m21 0h1m18 0h1m53 0h1m5 0h1m35 0h1m21 0h1M0 1622.41m37 0h1m1 0h1m17 0h1m13 0h1m22 0h1m5 0h2m1 0h1m10 0h1m1 0h1m10 0h1m9 0h1m15 0h1M0 1669.93m11 0h1m26 0h1m33 0h1m3 0h1m9 0h1m6 0h1m5 0h1m9 0h1m3 0h1m7 0h3m3 0h1m23 0h1m12 0h1m9 0h1M0 1693.7h1m11 0h1m2 0h1m6 0h1m3 0h1m13 0h1m22 0h1m8 0h1m15 0h1m2 0h1m45 0h1m10 0h1m4 0h1m14 0h1M0 1764.98m3 0h1m3 0h1m10 0h1m5 0h1m7 0h1m54 0h1m44 0h3m5 0h1m3 0h1m2 0h1M0 1788.75m26 0h1m20 0h1m4 0h1m7 0h1M0 1812.51m5 0h1m12 0h1m47 0h1m15 0h1m7 0h1m21 0h1m35 0h1M0 1836.27h1m15 0h1m13 0h1m3 0h1m23 0h1m6 0h1m9 0h1m3 0h1m14 0h2m29 0h1m3 0h1m4 0h1m7 0h1m36 0h1M0 1860.03m169 0h1m6 0h1M0 1883.79m6 0h1m2 0h1m34 0h1m4 0h1m24 0h1m9 0h1m7 0h1m37 0h1m13 0h1m11 0h1m1 0h1m13 0h1m9 0h1M0 1907.56m6 0h1m14 0h1m11 0h1m3 0h1m12 0h1m2 0h1m1 0h1m1 0h2m8 0h1m1 0h1m7 0h1m5 0h1m9 0h1m1 0h1m38 0h1m10 0h2m3 0h1m13 0h1m3 0h1M0 1931.32m2 0h1m10 0h1m35 0h1m13 0h1m16 0h1m7 0h1m10 0h1m7 0h1m12 0h1M0 1955.08m38 0h1m27 0h1m1 0h1m14 0h1m6 0h1m3 0h1m1 0h1m9 0h1m6 0h1m4 0h1m2 0h1m1 0h1m38 0h1m7 0h1M0 2026.37m18 0h1m10 0h1m3 0h1m48 0h1m16 0h1m16 0h1m3 0h2m13 0h1m3 0h1m12 0h1M0 2154.47m1 0h1m1 0h1m8 0h1m6 0h1m32 0h1m22 0h1m9 0h1m47 0h1M0 2201.99h1m34 0h1m4 0h1m22 0h1m28 0h1m7 0h1M0 2249.51m5 0h1m4 0h1m6 0h1m11 0h1m1 0h1m7 0h2m40 0h1m18 0h1m5 0h1m21 0h1m11 0h1M0 2306.64m2 0h1m2 0h1m91 0h1m4 0h1m2 0h1m14 0h1m19 0h1m15 0h1m8 0h1m16 0h1M0 2354.17h1m1 0h1m10 0h1m7 0h1m13 0h1m16 0h1M0 2401.69h1m23 0h1m11 0h1m10 0h1m1 0h1m11 0h1m16 0h1m14 0h1m23 0h1m8 0h1m3 0h1m1 0h1m11 0h1m7 0h1m8 0h1m5 0h1M0 2449.21m1 0h1m5 0h1m9 0h1m30 0h1m2 0h1m1 0h1m2 0h1m4 0h1m8 0h1m1 0h1m17 0h1m17 0h1m31 0h1m31 0h1M0 2472.98m8 0h1m20 0h1m9 0h1m9 0h2m4 0h1m19 0h1m8 0h1m9 0h1m7 0h1m1 0h1m1 0h1m3 0h1m48 0h1m14 0h1M0 2496.74m1 0h1m11 0h1m3 0h1m4 0h1m29 0h1m31 0h1m5 0h1m13 0h1m18 0h1m19 0h1m21 0h1M0 2544.26m5 0h1m4 0h1m1 0h1m28 0h1m7 0h1m72 0h1M0 2568.03m43 0h1m9 0h1m34 0h1m32 0h1m7 0h1M0 2591.79m11 0h1m10 0h1m5 0h1m49 0h1m5 0h1M0 2615.55m17 0h1m8 0h1m3 0h1m18 0h1m32 0h1M0 2639.31m22 0h1m20 0h1m10 0h1M0 2663.07m3 0h1m11 0h1m32 0h1m3 0h1m7 0h1m5 0h1m16 0h3m1 0h1m1 0h3m21 0h1m3 0h1m10 0h1m2 0h1m6 0h1m1 0h1m1 0h1m1 0h1m6 0h1m8 0h1m21 0h1M0 2686.84m16 0h1m6 0h1m77 0h1m12 0h1m36 0h1M0 2710.6m2 0h1m21 0h1m13 0h1m17 0h1m11 0h2m4 0h1m21 0h1m20 0h1m7 0h1M0 2734.36m3 0h1m7 0h1m2 0h1m1 0h1m4 0h1m17 0h1m25 0h1m6 0h1m7 0h1m47 0h1m5 0h1m28 0h1m9 0h1M0 2781.88m5 0h1m1 0h1m3 0h1m25 0h1m6 0h1m19 0h2m12 0h1m10 0h1m13 0h1m3 0h1m13 0h1m7 0h1m1 0h1m6 0h1m8 0h1m5 0h1m8 0h1m2 0h1m15 0h1M0 2805.64m13 0h1m1 0h1m7 0h1m3 0h1m1 0h1m39 0h1m20 0h1m3 0h2m20 0h1m9 0h1m3 0h1m6 0h1m4 0h1m22 0h1m3 0h1M0 2829.41h1m9 0h3m16 0h1m8 0h1m3 0h1m32 0h1m5 0h1m24 0h1m12 0h2m1 0h1m13 0h1m9 0h1m10 0h1m2 0h2"/>
<path transform="translate(340.4 0) scale(1.57978 1)" stroke="#9f9fff" stroke-width="23.81" fill="none" d="M0 400.88m1 0h1m9 0h2m4 0h1m1 0h1m2 0h1m10 0h1m27 0h1m2 0h1m10 0h1m9 0h2m5 0h1m1 0h1m24 0h1m30 0h1m21 0h1M0 448.4h1m12 0h1m5 0h1m10 0h1m11 0h1m3 0h1m1 0h1m1 0h1m67 0h1m17 0h2m8 0h1M0 472.17m26 0h1m9 0h3m15 0h1m1 0h1m8 0h1m3 0h1m4 0h1m15 0h1m4 0h1m9 0h1m14 0h2m25 0h1m27 0h1m2 0h1m1 0h1M0 495.93h1m3 0h1m4 0h1m2 0h1m7 0h1m3 0h1m9 0h2m5 0h1m5 0h1m1 0h1m6 0h1m1 0h1m16 0h1m3 0h1m25 0h1m9 0h1m12 0h2m17 0h1m5 0h1m3 0h1m5 0h1M0 519.69h1m4 0h1m1 0h2m4 0h1m5 0h1m19 0h1m1 0h2m1 0h1m3 0h1m1 0h1m5 0h1m8 0h1m9 0h1m10 0h1m18 0h1m7 0h1m7 0h1m21 0h1M0 543.45m6 0h1m11 0h1m7 0h1m5 0h1m50 0h1m6 0h1m3 0h1m2 0h1m1 0h2m16 0h1m9 0h1M0 590.98m18 0h1M0 614.74m6 0h2m7 0h1m5 0h1m11 0h1m16 0h1m24 0h2m3 0h1m7 0h1m13 0h1m14 0h2m31 0h1m18 0h1M0 686.02m4 0h1m1 0h1m2 0h1m2 0h1m7 0h2m6 0h1m1 0h1m8 0h2m5 0h1m6 0h1m14 0h1m4 0h3m2 0h1m1 0h1m19 0h1m54 0h1M0 709.79m10 0h1m9 0h1m3 0h1m33 0h1m6 0h1m6 0h1m7 0h1m13 0h1m9 0h1M0 757.31m5 0h1m12 0h2m12 0h1m6 0h2m10 0h3m4 0h1m6 0h1m16 0h1m9 0h1m5 0h1m13 0h1m12 0h1M0 781.07m7 0h1m8 0h1m2 0h1m11 0h2m21 0h1m8 0h1m22 0h1m6 0h1m17 0h1m59 0h1m5 0h1M0 828.6m13 0h1m2 0h1m9 0h1m6 0h1m1 0h1m3 0h1m8 0h2m21 0h1m32 0h1M0 876.12m3 0h2m18 0h1m6 0h1m3 0h1m2 0h1m16 0h1m13 0h1m1 0h1m15 0h1m4 0h1m2 0h1m3 0h1m24 0h1m15 0h1m10 0h1M0 899.88m23 0h1m17 0h1m19 0h1m2 0h1m1 0h1m3 0h1m8 0h1m1 0h1m1 0h1m24 0h1m2 0h1m1 0h1m19 0h1m5 0h1m17 0h2M0 947.41m3 0h1m18 0h2m6 0h2m39 0h1m6 0h1m7 0h1m3 0h2m1 0h1m3 0h1m11 0h1m1 0h1m2 0h2m10 0h3m14 0h1m1 0h1m12 0h1m10 0h1m3 0h1m1 0h2m2 0h1m1 0h1M0 971.17m1 0h1m11 0h1m2 0h1m28 0h1m11 0h1m4 0h2m4 0h1m11 0h1m63 0h1M0 1018.69m20 0h1m5 0h1m1 0h2m25 0h1m18 0h1m19 0h1m12 0h1M0 1042.46m16 0h1m36 0h1m7 0h1m5 0h1m3 0h1m58 0h1m10 0h1m2 0h1m15 0h1M0 1089.98m3 0h1m4 0h2m15 0h1m56 0h1m3 0h1m5 0h1m9 0h1m27 0h1m13 0h1M0 1113.74m21 0h1m5 0h1m11 0h1m7 0h1m4 0h1m8 0h1m2 0h1m1 0h1m15 0h1m4 0h1m15 0h1m1 0h1m6 0h1m4 0h1m22 0h1m25 0h1M0 1137.5m2 0h1m7 0h2m37 0h1m32 0h1m24 0h1m8 0h1m43 0h1m9 0h1m3 0h2M0 1265.98m6 0h1m13 0h3m1 0h1m8 0h1m6 0h1m13 0h1m2 0h1m5 0h1m13 0h1m3 0h1m12 0h1m3 0h1m2 0h2m5 0h1m6 0h1m9 0h1m30 0h1m7 0h2M0 1289.74m1 0h1m33 0h1m22 0h1m45 0h1m6 0h1m9 0h1m29 0h1m12 0h1M0 1313.5m24 0h1m8 0h1m7 0h1m32 0h1m14 0h1m17 0h1m49 0h1M0 1408.55m11 0h1m4 0h1m18 0h1m25 0h1m22 0h1m4 0h1m1 0h1m9 0h1m1 0h1m2 0h1m5 0h1m1 0h1m8 0h1m7 0h1m5 0h2m16 0h1m4 0h1m6 0h1m1 0h1m4 0h2M0 1432.32m15 0h1M0 1456.08m7 0h2m8 0h1m1 0h1m21 0h1m7 0h1m3 0h1m9 0h1m6 0h1m2 0h1m2 0h1m11 0h1m4 0h2m5 0h1m8 0h1m7 0h1M0 1479.84m2 0h1m2 0h1m16 0h1m6 0h1m23 0h1m3 0h1m2 0h1m2 0h1m7 0h1m1 0h1m15 0h1m4 0h1m1 0h1m12 0h1m2 0h1m1 0h1m13 0h1m22 0h1m15 0h1M0 1503.6m3 0h1m1 0h1m17 0h1m11 0h1m9 0h1m1 0h1m24 0h1m1 0h1m3 0h1m37 0h1m1 0h1m6 0h1m7 0h1m10 0h1m3 0h1m2 0h1m10 0h1m1 0h1m6 0h1m9 0h1M0 1527.36m8 0h1m2 0h1m8 0h1m6 0h1m2 0h1m2 0h1m2 0h1m5 0h2m3 0h1m2 0h1m5 0h2m7 0h1m1 0h2m18 0h1m2 0h1m4 0h1m5 0h3m12 0h1m25 0h1m17 0h1m5 0h1m3 0h1m8 0h1M0 1551.12m1 0h1m4 0h1m5 0h1m3 0h1m45 0h1m12 0h1m1 0h2m4 0h1m1 0h1m29 0h1m8 0h1m23 0h2m1 0h1m2 0h2m10 0h1m6 0h1m3 0h2M0 1574.89m6 0h1m35 0h1m5 0h1m6 0h1m18 0h1m1 0h2m16 0h1m3 0h1m16 0h1m9 0h1m29 0h1m16 0h1m7 0h1M0 1669.93m1 0h1m1 0h1m5 0h1m2 0h1m12 0h1m2 0h1m1 0h1m9 0h1m10 0h1m9 0h1m29 0h1m15 0h1m4 0h1m11 0h2m4 0h1m14 0h1m4 0h1m1 0h1m8 0h1m11 0h1m1 0h1m5 0h1M0 1717.46m41 0h1M0 1741.22m8 0h1m53 0h1M0 1764.98m13 0h1m11 0h1m8 0h1m7 0h1m18 0h2m7 0h1m2 0h1m7 0h1m21 0h1m20 0h1m2 0h1m10 0h1m13 0h1m10 0h1M0 1788.75m3 0h1m10 0h1m2 0h1m2 0h2m6 0h1m6 0h1m6 0h2m1 0h1m10 0h1m35 0h1m16 0h1m2 0h1m14 0h2m5 0h1m5 0h1m2 0h1m3 0h1m6 0h2m11 0h1m1 0h1m8 0h1M0 1812.51m17 0h1m5 0h1m5 0h2m1 0h1m3 0h1m4 0h1m22 0h1m2 0h1m9 0h1m5 0h1m1 0h1m3 0h1m13 0h1m2 0h1m13 0h1m23 0h1m23 0h1M0 1836.27m25 0h1m11 0h1m3 0h1m17 0h1m13 0h1m2 0h1m6 0h1m8 0h1m7 0h1m3 0h1m33 0h1m20 0h1M0 1860.03m11 0h1m16 0h1m12 0h1m8 0h1m10 0h1m3 0h1m2 0h1m14 0h1m7 0h1m7 0h1m2 0h1m4 0h1m7 0h1m3 0h1m5 0h1m3 0h1m4 0h1m1 0h1m2 0h2m2 0h1m6 0h1m4 0h2m4 0h1m3 0h2m3 0h1m2 0h2m7 0h1M0 1883.79m1 0h1m12 0h1m40 0h1m11 0h1m14 0h1m5 0h1m17 0h1m3 0h1m11 0h1m25 0h1m15 0h1m5 0h1m3 0h1M0 1907.56m1 0h1m10 0h2m4 0h1m1 0h1m4 0h1m34 0h1m18 0h1m4 0h1m2 0h1m1 0h1m7 0h2m2 0h1m1 0h1m1 0h1m6 0h1m9 0h1m4 0h1m13 0h1m9 0h2m2 0h1m2 0h1m2 0h1M0 1931.32m6 0h1m19 0h1m15 0h2m8 0h2m4 0h1m19 0h1m25 0h1m1 0h1m1 0h1m1 0h1M0 1955.08m18 0h1m21 0h1m19 0h1m3 0h1m5 0h1m1 0h1m4 0h1m4 0h1m2 0h1m9 0h1m2 0h1m25 0h1m34 0h1m12 0h1m1 0h1M0 1978.84m53 0h1M0 2002.6m4 0h1m29 0h1M0 2026.37m4 0h1m29 0h1m15 0h1m9 0h1m8 0h1m3 0h1m45 0h1m13 0h1m23 0h1m23 0h2M0 2154.47m11 0h1m20 0h1m5 0h1m3 0h1m3 0h1m16 0h1m4 0h1m2 0h1m8 0h1m15 0h1m6 0h1m3 0h1m2 0h1m4 0h1M0 2178.23m7 0h1M0 2225.75m15 0h1m20 0h1m81 0h1m9 0h1m1 0h1M0 2249.51m8 0h1m9 0h1m1 0h1m2 0h1m13 0h1m19 0h1m3 0h1m21 0h1m1 0h1m3 0h2m2 0h1m47 0h1m10 0h1m5 0h1m18 0h1M0 2306.64h1m34 0h1m2 0h1m5 0h1m13 0h1m14 0h1m18 0h1m20 0h1m17 0h1m28 0h1M0 2330.4m8 0h1m1 0h1m22 0h1m9 0h1m8 0h1m27 0h1m4 0h1m18 0h1m10 0h1m2 0h1m7 0h1m12 0h1m1 0h4m2 0h1m3 0h1m3 0h2m1 0h1m1 0h1m4 0h1m1 0h1m2 0h1m10 0h2M0 2354.17m1 0h1m13 0h2m3 0h1m12 0h1m2 0h1m1 0h1m30 0h1m7 0h1m22 0h1m19 0h1m7 0h1m8 0h1m5 0h1M0 2377.93m9 0h1m88 0h1M0 2401.69m15 0h1m1 0h1m42 0h1m5 0h1m31 0h1m14 0h1m4 0h2m8 0h1m5 0h1m2 0h1m11 0h1m6 0h1m12 0h1m5 0h1M0 2449.21m8 0h1m4 0h1m1 0h1m14 0h1m19 0h1m23 0h1m4 0h1m19 0h1m3 0h1m11 0h1m9 0h1m7 0h1m44 0h1M0 2472.98m1 0h1m10 0h1m2 0h1m5 0h1m6 0h1m1 0h1m1 0h1m40 0h1m5 0h3m1 0h1m2 0h1m4 0h2m18 0h1m7 0h1m17 0h1m20 0h1m12 0h1M0 2496.74m6 0h2m13 0h1m3 0h2m14 0h1m1 0h2m11 0h1m16 0h1m3 0h1m19 0h1m3 0h1m9 0h1m3 0h1m17 0h1m10 0h1m1 0h4m23 0h1m2 0h1M0 2520.5m3 0h1M0 2544.26h1m10 0h1m8 0h1m4 0h1m5 0h1m2 0h1m7 0h2m14 0h1m4 0h1m1 0h1m9 0h1m18 0h1m6 0h1m4 0h1m3 0h1m3 0h1m24 0h1m4 0h1m19 0h1m2 0h1M0 2591.79m18 0h1m7 0h1m8 0h1m4 0h1m6 0h1m15 0h2m55 0h1M0 2615.55m10 0h1m3 0h1m4 0h1m20 0h1m3 0h1m5 0h1m6 0h1m35 0h1m7 0h1m7 0h1m2 0h1m14 0h1m1 0h1M0 2639.31m10 0h1m6 0h1m8 0h1m1 0h1m8 0h1m15 0h1m1 0h1m9 0h1m6 0h1m4 0h1m4 0h1m24 0h1m8 0h1M0 2663.07m8 0h1m4 0h1m4 0h1m17 0h1m5 0h1m14 0h1m3 0h1m15 0h1m2 0h1m44 0h1m13 0h1m16 0h1m1 0h1m3 0h1m4 0h1m3 0h1m1 0h1M0 2686.84m8 0h1m6 0h1m4 0h1m5 0h1m13 0h1m23 0h1m37 0h2m16 0h1m4 0h1m22 0h1m14 0h1m18 0h1M0 2710.6m1 0h1m5 0h1m6 0h1m52 0h1m7 0h1m3 0h1m15 0h1m6 0h1m55 0h1M0 2734.36m1 0h1m7 0h2m7 0h1m3 0h1m4 0h1m3 0h2m25 0h2m1 0h1m8 0h1m4 0h1m2 0h1m2 0h1m24 0h1m1 0h1m17 0h1m5 0h1m12 0h1m14 0h2m10 0h1M0 2781.88m3 0h1m14 0h1m15 0h1m7 0h1m2 0h1m8 0h1m4 0h1m13 0h1m24 0h1m9 0h1m3 0h1m2 0h1m1 0h1m4 0h1m5 0h1m10 0h1m38 0h1M0 2805.64h1m15 0h2m1 0h1m2 0h1m2 0h1m6 0h1m26 0h1m14 0h1m6 0h1m65 0h1m2 0h1m2 0h1m14 0h1M0 2829.41m15 0h2m9 0h1m4 0h1m1 0h1m3 0h1m13 0h1m4 0h1m4 0h1m9 0h1m6 0h1m1 0h1m12 0h1m13 0h1m8 0h1m4 0h1m15 0h1m7 0h1m6 0h1m1 0h1m8 0h1m5 0h1"/>
<path transform="translate(340.4 0) scale(1.57978 1)" stroke="#bfbfff" stroke-width="23.81" fill="none" d="M0 424.64h2m3 0h1m5 0h1m3 0h1m1 0h1m2 0h3m5 0h1m1 0h1m4 0h1m6 0h2m5 0h1m2 0h1m8 0h2m1 0h2m7 0h1m17 0h1m2 0h1m4 0h1m4 0h1M0 448.4m5 0h1m8 0h1m2 0h1m3 0h1m1 0h1m3 0h1m13 0h1m1 0h3m8 0h1m3 0h1m1 0h1m13 0h1m18 0h1m8 0h1m5 0h1m6 0h1m1 0h1m1 0h1m5 0h1m2 0h1m9 0h1m30 0h1M0 567.22h1m10 0h1m9 0h1m19 0h1m46 0h1m7 0h1m12 0h2m4 0h1m7 0h1m11 0h1m34 0h1M0 590.98h1m1 0h3m6 0h1m2 0h1m2 0h1m1 0h1m4 0h3m1 0h1m1 0h2m1 0h1m1 0h1m2 0h3m3 0h1m10 0h1m1 0h1m1 0h1m5 0h2m2 0h1m1 0h1m4 0h1m3 0h1m1 0h1m1 0h1m1 0h2m7 0h1m3 0h1m1 0h1m8 0h1m1 0h1m28 0h1M0 614.74m4 0h1m15 0h1m2 0h1m4 0h1m6 0h1m9 0h1m19 0h1m3 0h1m11 0h1m2 0h1m5 0h1m10 0h1m22 0h1m7 0h1m9 0h1m4 0h1m7 0h1m10 0h1m15 0h1M0 638.5m8 0h1m9 0h1m3 0h1m3 0h1m5 0h1m1 0h1m6 0h1m14 0h2m4 0h1m7 0h1m1 0h1m5 0h1m3 0h1m10 0h2m2 0h1m7 0h1m14 0h1m2 0h1m5 0h2m3 0h1m18 0h1m2 0h1m23 0h1M0 662.26m4 0h1m14 0h1m1 0h1m32 0h1m13 0h1m13 0h1m4 0h1m2 0h1m1 0h1m2 0h1m2 0h1m5 0h1m6 0h1m8 0h2m13 0h1m2 0h1m13 0h1m13 0h1m1 0h1m1 0h1m7 0h1M0 686.02m8 0h1m9 0h1m13 0h1m3 0h1m1 0h1m13 0h1m1 0h1m4 0h1m4 0h1m11 0h1m4 0h2m8 0h1m1 0h1m3 0h1m5 0h1m15 0h1m10 0h1m4 0h1m1 0h1m12 0h1m15 0h1M0 757.31m10 0h1m1 0h1m17 0h1m4 0h1m20 0h2m5 0h1m3 0h1m1 0h1m5 0h1m1 0h1m10 0h1m4 0h1m16 0h1m4 0h1m13 0h1m5 0h1m17 0h1m12 0h2M0 781.07m4 0h1m4 0h1m5 0h1m18 0h1m21 0h1m1 0h1m5 0h1m9 0h1m7 0h1m25 0h1m4 0h1m6 0h1m8 0h1m8 0h1m6 0h1m12 0h1M0 804.83m1 0h4m20 0h1m4 0h1m3 0h1m4 0h1m3 0h4m5 0h1m7 0h2m11 0h3m10 0h1m2 0h1m3 0h1m12 0h1m1 0h1m1 0h1m13 0h1m24 0h1M0 828.6m6 0h1m8 0h1m5 0h1m7 0h1m4 0h1m8 0h1m3 0h1m5 0h1m16 0h1m2 0h1m15 0h1m19 0h2m7 0h1m2 0h1m19 0h1m26 0h1M0 852.36m16 0h1m70 0h1m9 0h1m5 0h1m7 0h1m6 0h1m24 0h1m31 0h1M0 923.64m14 0h3m4 0h1m12 0h1m5 0h1m2 0h1m2 0h1m10 0h1m33 0h1m2 0h1m1 0h1m24 0h1m16 0h1m16 0h1m8 0h1m8 0h1m1 0h1M0 971.17m10 0h3m5 0h2m1 0h1m8 0h3m5 0h1m7 0h1m5 0h1m1 0h1m1 0h1m1 0h1m14 0h2m7 0h1m2 0h1m5 0h1m6 0h1m6 0h1m10 0h1m16 0h1m13 0h1M0 994.93m16 0h1m15 0h1m8 0h1m6 0h1m8 0h1m21 0h1m1 0h1m24 0h1m7 0h1m6 0h1m8 0h1m1 0h1m10 0h1m12 0h1m7 0h1m4 0h1M0 1018.69m5 0h1m11 0h1m21 0h3m10 0h1m5 0h1m3 0h1m4 0h1m10 0h1m4 0h1m1 0h1m5 0h1m7 0h1m3 0h2m14 0h1m1 0h1m1 0h1m10 0h1m25 0h1m12 0h1M0 1042.46h1m8 0h1m10 0h1m6 0h1m6 0h1m5 0h1m3 0h1m2 0h1m21 0h1m17 0h1m13 0h1m9 0h1m19 0h1m11 0h1m3 0h1m5 0h1M0 1066.22m1 0h1m20 0h1m13 0h1m13 0h1m6 0h1m4 0h1m14 0h1m1 0h2m1 0h1m3 0h1m2 0h1m18 0h1m27 0h2m1 0h1m1 0h1m3 0h2m28 0h1m6 0h1M0 1089.98m10 0h1m12 0h1m5 0h1m17 0h2m2 0h2m9 0h1m1 0h1m7 0h1m6 0h1m7 0h1m3 0h1m3 0h1m3 0h1m10 0h1m5 0h1m58 0h1M0 1113.74m6 0h1m26 0h1m9 0h1m9 0h1m5 0h1m5 0h1m11 0h1m7 0h2m3 0h2m4 0h1m30 0h1m1 0h1m17 0h1m2 0h1m4 0h1m4 0h1m4 0h1m2 0h1M0 1137.5m13 0h1m4 0h1m3 0h1m3 0h1m12 0h1m21 0h1m8 0h1m19 0h1m3 0h1m28 0h1m21 0h1m4 0h1m2 0h1m9 0h1m4 0h1m4 0h1M0 1161.27m1 0h1m2 0h1m22 0h1m21 0h1m2 0h1m4 0h1m22 0h2m5 0h1m2 0h1m5 0h1m17 0h1m4 0h1m6 0h1m18 0h1m6 0h1m2 0h1m23 0h1M0 1185.03m6 0h1m9 0h1m10 0h1m4 0h1m8 0h1m5 0h1m23 0h1m1 0h1m11 0h1m1 0h1m8 0h1m13 0h1m12 0h1m4 0h1m2 0h1m12 0h1m2 0h1m13 0h1m2 0h1m5 0h1m1 0h1m5 0h1M0 1208.79m2 0h2m1 0h1m4 0h1m5 0h1m2 0h1m5 0h1m13 0h1m11 0h1m2 0h1m21 0h1m34 0h2m16 0h1m14 0h1m8 0h2m3 0h1m2 0h2m2 0h1m1 0h1m9 0h1m2 0h2M0 1232.55m14 0h1m4 0h3m21 0h1m3 0h1m4 0h1m3 0h1m1 0h1m2 0h1m1 0h1m2 0h1m11 0h1m11 0h1m3 0h1m17 0h1m2 0h1m5 0h1m8 0h2m13 0h2m2 0h1m10 0h1m6 0h1m2 0h1M0 1265.98m26 0h1m8 0h1m8 0h1m26 0h1m4 0h1m11 0h1m2 0h1m4 0h1m14 0h1m4 0h1m11 0h1m3 0h1m1 0h2m11 0h1m5 0h1m9 0h1m4 0h1m1 0h1m10 0h2M0 1289.74h1m5 0h1m8 0h1m3 0h1m17 0h1m4 0h1m8 0h1m14 0h1m4 0h1m15 0h1m3 0h1m13 0h1m6 0h1m19 0h1m2 0h1m9 0h1m4 0h1m15 0h1m8 0h1M0 1361.03h2m2 0h1m1 0h2m3 0h1m3 0h2m3 0h1m11 0h1m3 0h1m4 0h1m1 0h1m3 0h3m4 0h1m4 0h1m3 0h2M0 1479.84h1m9 0h1m5 0h1m2 0h1m6 0h1m14 0h1m6 0h1m1 0h2m4 0h1m10 0h1m22 0h1m6 0h2m2 0h2m17 0h1m3 0h1m2 0h1m28 0h1M0 1503.6h1m17 0h1m3 0h1m7 0h1m2 0h1m2 0h1m17 0h2m1 0h1m11 0h1m6 0h2m13 0h1m16 0h1m3 0h2m7 0h1m4 0h2m3 0h1m10 0h1m3 0h1m10 0h1m2 0h2m4 0h1m2 0h1m10 0h1M0 1551.12m2 0h1m7 0h1m11 0h1m1 0h1m2 0h1m6 0h1m6 0h1m2 0h1m2 0h1m3 0h2m1 0h1m6 0h1m11 0h1m5 0h1m10 0h1m9 0h1m1 0h2m7 0h1m8 0h1m13 0h1m8 0h1m17 0h1M0 1622.41m10 0h1m6 0h1m10 0h1m1 0h1m10 0h1m7 0h1m4 0h2m3 0h1m19 0h1m2 0h1m7 0h1m1 0h1m6 0h1m10 0h1m1 0h1m32 0h1m4 0h1m3 0h1m6 0h2m3 0h1m9 0h1M0 1646.17m9 0h1m3 0h1m8 0h1m8 0h1m11 0h1m4 0h1m32 0h2m2 0h1m5 0h1m23 0h1m4 0h1m12 0h1m13 0h1M0 1693.7m4 0h2m10 0h1m12 0h1m3 0h1m5 0h1m1 0h2m2 0h1m2 0h1m1 0h1m2 0h1m2 0h1m7 0h1m8 0h1m16 0h1m32 0h1m10 0h1m3 0h1m17 0h2m1 0h1m21 0h1M0 1764.98h1m4 0h1m2 0h1m3 0h1m8 0h1m8 0h2m1 0h1m6 0h1m5 0h1m4 0h1m36 0h2m8 0h1m3 0h1m6 0h2m1 0h2m16 0h1m33 0h1m5 0h1m3 0h1m1 0h1M0 1812.51m11 0h1m9 0h1m2 0h1m6 0h1m39 0h1m1 0h1m2 0h1m4 0h1m25 0h1m22 0h1m10 0h1m3 0h1m4 0h1m1 0h1m7 0h2m2 0h1m12 0h1m1 0h1M0 1836.27m3 0h1m4 0h1m2 0h1m28 0h1m2 0h2m17 0h1m1 0h1m1 0h1m4 0h1m24 0h2m5 0h1m5 0h1m42 0h1m10 0h2m12 0h1m3 0h1M0 1860.03m1 0h1m3 0h1m4 0h1m3 0h1m1 0h2m1 0h1m10 0h1m2 0h1m2 0h1m5 0h2m1 0h2m7 0h3m2 0h1m2 0h1m6 0h1m5 0h5m1 0h1m5 0h1m1 0h1m4 0h1m1 0h1m3 0h1m7 0h2m3 0h1m3 0h1m5 0h1m7 0h1m5 0h1m6 0h1m2 0h1m3 0h4m2 0h1m4 0h1m5 0h1m3 0h1m5 0h1m1 0h1M0 1883.79m7 0h1m2 0h1m12 0h1m4 0h1m14 0h1m2 0h1m1 0h1m5 0h1m8 0h2m5 0h1m5 0h1m12 0h1m11 0h1m2 0h1m15 0h1m7 0h1m10 0h1m3 0h1m8 0h1m6 0h2m17 0h1m1 0h1M0 1907.56m14 0h1m17 0h1m3 0h1m8 0h1m5 0h1m2 0h1m4 0h1m8 0h1m6 0h1m4 0h1m15 0h1m12 0h2m7 0h1m1 0h1m7 0h1m6 0h1m7 0h1m16 0h1m13 0h1m1 0h1M0 2026.37m21 0h1m4 0h1m32 0h1m4 0h1m5 0h1m3 0h1m26 0h1m1 0h1m13 0h1m4 0h1m55 0h1M0 2050.13m7 0h1m1 0h1m8 0h1m8 0h1m2 0h1m36 0h1m16 0h1m12 0h1m4 0h1m7 0h1m7 0h1m13 0h1m20 0h1m16 0h1m5 0h1M0 2083.18m4 0h1m27 0h1m19 0h1m10 0h2m4 0h1m3 0h1m8 0h1m8 0h1m1 0h1m1 0h1m22 0h1m2 0h1m37 0h1m2 0h1m2 0h1m6 0h1m2 0h1m5 0h1M0 2106.94m49 0h1m3 0h1m3 0h1m12 0h1m1 0h1m15 0h1m2 0h1m37 0h1m22 0h1m9 0h1m13 0h1m2 0h1M0 2130.7m8 0h1m19 0h1m7 0h2m5 0h1m10 0h1m20 0h1m7 0h1m8 0h2m5 0h1m1 0h1m1 0h1m8 0h1m1 0h1m5 0h1m2 0h1m2 0h1m4 0h1m27 0h1m8 0h1m9 0h1m1 0h1M0 2154.47m2 0h1m10 0h1m12 0h2m9 0h1m2 0h1m4 0h1m16 0h1m3 0h1m21 0h1m25 0h1m15 0h1m6 0h1m3 0h1m34 0h1M0 2201.99m10 0h1m10 0h1m2 0h1m1 0h1m7 0h1m25 0h2m3 0h1m6 0h1m32 0h1m3 0h1m1 0h2m2 0h1m8 0h1m5 0h1m1 0h1m23 0h1m5 0h1m3 0h2m8 0h1M0 2282.88m14 0h1m13 0h2m27 0h1m1 0h1m10 0h1m1 0h1m28 0h1m32 0h1m2 0h1m21 0h1m13 0h2m3 0h1M0 2306.64m20 0h1m6 0h1m9 0h1m1 0h1m22 0h1m7 0h1m47 0h1m5 0h1m11 0h1m18 0h1m8 0h1m13 0h1M0 2401.69m2 0h1m11 0h1m1 0h1m8 0h1m28 0h4m10 0h1m13 0h1m9 0h1m2 0h1m4 0h1m40 0h1m4 0h1m19 0h1m3 0h1M0 2425.45h1m2 0h1m4 0h3m1 0h1m1 0h1m1 0h1m1 0h2m1 0h1m3 0h2m1 0h1m15 0h1m1 0h2m2 0h2m1 0h2m5 0h2m6 0h1m4 0h1m2 0h2m2 0h1m3 0h1m4 0h1m9 0h1m4 0h1m8 0h2m5 0h1m6 0h1m2 0h1m4 0h1m4 0h1m3 0h1m12 0h1M0 2449.21m10 0h1m5 0h1m1 0h1m8 0h1m13 0h1m2 0h1m10 0h1m4 0h1m14 0h1m1 0h1m7 0h1m38 0h1m12 0h1m20 0h1m16 0h1m1 0h1m1 0h1M0 2472.98m3 0h2m11 0h1m3 0h1m3 0h1m21 0h3m15 0h1m3 0h1m3 0h1m20 0h1m5 0h1m21 0h2m7 0h1m3 0h1m7 0h1m2 0h2m6 0h1m3 0h1m2 0h1m2 0h1m1 0h1m9 0h1m6 0h1M0 2496.74m16 0h1m2 0h1m10 0h1m22 0h1m8 0h1m6 0h1m40 0h1m20 0h1m9 0h1m15 0h1m4 0h1m4 0h1M0 2544.26m2 0h1m10 0h1m12 0h1m19 0h1m14 0h2m5 0h1m21 0h1m2 0h1m3 0h2m3 0h2m22 0h1m31 0h1m1 0h1m20 0h1M0 2568.03m3 0h1m11 0h1m3 0h1m2 0h1m8 0h1m4 0h1m23 0h1m3 0h2m3 0h2m8 0h1m18 0h1m1 0h1m2 0h1m11 0h2m15 0h1m7 0h1m32 0h1M0 2591.79m7 0h2m16 0h1m5 0h2m5 0h1m15 0h1m4 0h1m7 0h1m3 0h2m2 0h1m6 0h1m2 0h1m28 0h1m15 0h1m3 0h1M0 2639.31m3 0h1m1 0h2m14 0h1m11 0h1m15 0h1m13 0h1m15 0h1m5 0h1m31 0h1m3 0h2m6 0h1m18 0h1M0 2686.84m3 0h1m8 0h1m12 0h1m7 0h2m8 0h1m2 0h1m9 0h1m15 0h1m3 0h2m22 0h1m5 0h1m3 0h1m2 0h1m13 0h1m1 0h1m15 0h1m34 0h1M0 2710.6h1m47 0h1m10 0h1m4 0h1m42 0h1m21 0h1m3 0h1m11 0h1m3 0h1m30 0h1M0 2758.12m2 0h2m1 0h1m2 0h1m3 0h2m1 0h1m9 0h1m2 0h1m6 0h1m1 0h1m2 0h1m1 0h1m11 0h5m3 0h1m9 0h1m1 0h1m1 0h1m1 0h2m14 0h1m3 0h1m6 0h1m18 0h1m4 0h1m16 0h1m19 0h1M0 2781.88m10 0h1m2 0h1m2 0h1m44 0h1m4 0h1m2 0h1m4 0h1m4 0h2m30 0h1m6 0h1m7 0h1m10 0h1m20 0h1m7 0h1m3 0h1m2 0h2m4 0h1M0 2805.64m1 0h1m22 0h1m5 0h1m30 0h1m13 0h1m3 0h1m3 0h1m5 0h1m13 0h1m2 0h1m6 0h1m21 0h1m19 0h1M0 2829.41m2 0h1m2 0h2m13 0h1m2 0h1m8 0h1m16 0h1m2 0h2m3 0h1m2 0h1m4 0h1m2 0h1m16 0h1m4 0h2m4 0h1m6 0h1m7 0h1m28 0h1m8 0h1m22 0h1m1 0h2m4 0h1"/>
<path transform="translate(340.4 0) scale(1.57978 1)" stroke="#dfdfff" stroke-width="23.81" fill="none" d="M0 400.88m18 0h1m6 0h1m2 0h1m8 0h1m5 0h1m10 0h1m11 0h1m7 0h1m26 0h1m3 0h1m10 0h2m17 0h1m17 0h1m3 0h1m12 0h1m2 0h1m2 0h1M0 448.4m15 0h1m15 0h1m2 0h1m4 0h1m26 0h1m1 0h3m1 0h1m4 0h1m2 0h1m6 0h1m7 0h1m1 0h1m16 0h1m7 0h2m6 0h1m4 0h1m3 0h1m4 0h2m12 0h1m1 0h2m12 0h1M0 472.17m11 0h1m2 0h1m3 0h1m5 0h2m5 0h1m56 0h1m10 0h1m1 0h1m30 0h1m10 0h1m1 0h1m3 0h1m13 0h1m5 0h1M0 495.93m11 0h1m14 0h1m11 0h1m24 0h1m6 0h2m5 0h1m6 0h1m10 0h1m4 0h1m16 0h1m8 0h1m12 0h2m17 0h2m2 0h1m17 0h2M0 519.69m9 0h1m35 0h1m6 0h1m7 0h1m6 0h1m13 0h2m1 0h1m9 0h1m6 0h1m5 0h1m19 0h1m6 0h1m6 0h2m11 0h1m8 0h1m9 0h2M0 543.45m2 0h1m4 0h1m4 0h1m3 0h1m2 0h1m33 0h1m3 0h1m4 0h2m20 0h1m19 0h3m13 0h1m3 0h1m4 0h2m2 0h1m2 0h1m2 0h1m3 0h1m1 0h2m1 0h1m2 0h3m4 0h1m12 0h1m4 0h1M0 614.74h1m24 0h1m1 0h1m11 0h1m6 0h1m20 0h1m19 0h1m17 0h1m1 0h2m3 0h1m10 0h1m5 0h1m3 0h1m5 0h1m3 0h1m8 0h1m5 0h2m3 0h1M0 638.5h1m2 0h1m3 0h1m1 0h1m4 0h1m6 0h1m2 0h1m2 0h1m8 0h1m2 0h1m12 0h1m20 0h1m12 0h2m10 0h1m10 0h1m25 0h1m12 0h1m11 0h1m9 0h1M0 662.26m18 0h1m1 0h1m1 0h1m5 0h3m3 0h3m10 0h1m2 0h1m1 0h2m5 0h1m6 0h2m1 0h1m3 0h1m40 0h1m2 0h1m13 0h1m5 0h1m1 0h2m8 0h1m1 0h1m3 0h1m7 0h1m1 0h1m5 0h1m1 0h1m1 0h1m6 0h1M0 709.79m2 0h2m4 0h1m2 0h1m2 0h2m9 0h1m7 0h1m14 0h1m1 0h1m3 0h1m8 0h2m11 0h1m2 0h1m1 0h1m2 0h1m3 0h1m3 0h1m3 0h1m1 0h1m2 0h1m7 0h1m13 0h1m11 0h2m22 0h2m11 0h1M0 733.55m13 0h2m1 0h1m2 0h1m2 0h1m1 0h1m1 0h1m4 0h1m6 0h1m2 0h1m3 0h1m6 0h1m1 0h1m2 0h1m5 0h1m1 0h1m5 0h1m10 0h2m1 0h1m5 0h2m4 0h1m1 0h2m4 0h2m1 0h1m3 0h2m5 0h1m3 0h1m2 0h1m4 0h1m2 0h2m4 0h3m5 0h2m2 0h4m1 0h1m1 0h1m9 0h1m2 0h1m1 0h1m2 0h1M0 781.07m12 0h1m13 0h1m1 0h1m4 0h1m5 0h1m1 0h1m7 0h1m9 0h1m2 0h1m5 0h2m18 0h1m7 0h1m6 0h1m5 0h1m15 0h1m11 0h1m9 0h1m4 0h1m2 0h1m3 0h1m14 0h1M0 828.6m7 0h1m10 0h1m8 0h1m4 0h1m28 0h1m1 0h4m1 0h1m8 0h2m2 0h1m3 0h2m6 0h1m18 0h1m3 0h1m5 0h1m6 0h1m4 0h2m1 0h1m1 0h1m7 0h2m3 0h1m1 0h1M0 876.12m9 0h1m1 0h1m12 0h1m4 0h1m1 0h1m9 0h2m4 0h1m9 0h1m7 0h1m41 0h1m9 0h1m15 0h1m7 0h1m15 0h1m4 0h1m10 0h1M0 899.88m10 0h1m1 0h1m1 0h1m2 0h1m2 0h1m5 0h1m2 0h1m1 0h1m24 0h1m2 0h1m17 0h1m6 0h1m5 0h1m7 0h1m2 0h1m2 0h1m11 0h1m4 0h1m3 0h1m15 0h1m6 0h1m16 0h1m5 0h1m2 0h1m5 0h1M0 923.64m2 0h1m2 0h1m12 0h1m1 0h1m11 0h1m25 0h1m14 0h1m28 0h1m1 0h1m12 0h1m13 0h1m5 0h1m1 0h1m6 0h1m2 0h1m12 0h1m2 0h1m8 0h1m1 0h1M0 947.41m34 0h1m3 0h1m6 0h1m10 0h5m3 0h1m5 0h1m8 0h2m29 0h1m5 0h1m7 0h2m7 0h1m8 0h1m5 0h1m3 0h1m10 0h2m1 0h1m1 0h1m2 0h1M0 994.93m6 0h1m20 0h1m9 0h1m7 0h1m1 0h1m2 0h1m12 0h2m12 0h1m6 0h1m5 0h1m4 0h1m2 0h1m11 0h1m11 0h1m1 0h1m1 0h2m9 0h1m3 0h1m8 0h1m4 0h1m18 0h1m4 0h1m1 0h1M0 1018.69m14 0h1m1 0h1m5 0h1m10 0h1m22 0h1m19 0h1m18 0h1m26 0h1m21 0h1m2 0h1m10 0h2m16 0h1M0 1042.46m8 0h1m23 0h1m4 0h1m4 0h1m32 0h1m17 0h2m1 0h1m6 0h2m9 0h1m17 0h1m16 0h1m6 0h1m20 0h1M0 1066.22m14 0h1m13 0h1m2 0h2m15 0h2m2 0h1m2 0h1m5 0h1m1 0h1m8 0h1m1 0h1m19 0h1m16 0h1m5 0h2m5 0h1m4 0h1m3 0h2m15 0h1m2 0h1m1 0h1m6 0h1m6 0h1m8 0h1M0 1161.27h1m1 0h1m11 0h3m6 0h1m6 0h1m4 0h1m2 0h2m4 0h1m31 0h1m6 0h2m4 0h1m2 0h1m7 0h1m19 0h1m4 0h1m5 0h3m17 0h1m4 0h1m2 0h1m1 0h2m14 0h1M0 1232.55h1m7 0h1m3 0h1m9 0h2m4 0h1m3 0h1m1 0h1m3 0h1m6 0h1m7 0h1m5 0h1m4 0h1m5 0h1m2 0h1m5 0h1m18 0h1m2 0h1m6 0h2m14 0h2m9 0h1m1 0h1m5 0h2m10 0h1m19 0h1M0 1313.5m4 0h1m2 0h1m1 0h1m21 0h1m2 0h1m5 0h1m9 0h1m18 0h2m4 0h1m20 0h1m1 0h1m5 0h1m4 0h2m13 0h1m12 0h1m12 0h1m9 0h1M0 1337.27m1 0h1m1 0h4m4 0h1m8 0h2m1 0h1m14 0h1m1 0h1m4 0h1m1 0h2m4 0h2m1 0h1m1 0h1m4 0h1m1 0h1m2 0h1m4 0h1m6 0h1m16 0h1m1 0h1m5 0h2m1 0h2m3 0h1m1 0h1m2 0h2m3 0h1m7 0h1m1 0h1m1 0h1m4 0h3m1 0h1m1 0h1m2 0h1m1 0h1m5 0h2m2 0h1m1 0h1m2 0h1m10 0h1M0 1361.03m9 0h2m6 0h3m11 0h1m2 0h1m7 0h1m2 0h1m7 0h1m1 0h3m9 0h2m3 0h1m4 0h1m3 0h3m7 0h2m1 0h2m1 0h2m2 0h1m4 0h4m1 0h1m4 0h1m23 0h1m7 0h1M0 1384.79m6 0h1m3 0h1m1 0h1m2 0h2m4 0h2m1 0h1m1 0h1m1 0h1m2 0h1m8 0h1m1 0h1m2 0h2m1 0h1m2 0h1m7 0h1m1 0h1m2 0h1m4 0h1m8 0h1m1 0h2m5 0h1m1 0h1m2 0h1m2 0h2m4 0h3m2 0h1m3 0h1m2 0h1m6 0h1m5 0h1m14 0h1m1 0h1M0 1408.55m3 0h1m1 0h1m14 0h1m8 0h1m7 0h1m16 0h1m1 0h1m13 0h1m1 0h1m7 0h1m5 0h1m13 0h1m7 0h2m3 0h1m1 0h1m3 0h1m9 0h1m3 0h1m15 0h1m27 0h1m2 0h1M0 1432.32h3m5 0h1m3 0h2m3 0h1m4 0h1m1 0h2m2 0h1m1 0h1m1 0h1m8 0h1m3 0h3m5 0h1m7 0h2m5 0h1m10 0h2m6 0h1m2 0h1m5 0h2m2 0h1m2 0h1m5 0h1m3 0h1m14 0h2m1 0h1m1 0h1m4 0h2m3 0h1m12 0h2m1 0h1m2 0h1m1 0h2m5 0h1m2 0h2M0 1456.08m11 0h1m13 0h2m5 0h1m10 0h2m1 0h1m13 0h2m3 0h1m2 0h2m2 0h1m6 0h1m11 0h1m6 0h1m5 0h1m1 0h1m15 0h1m9 0h1m4 0h1m6 0h2m4 0h1m24 0h1m6 0h1M0 1479.84m3 0h2m3 0h1m5 0h1m3 0h1m6 0h1m5 0h1m2 0h1m3 0h1m3 0h1m4 0h1m34 0h1m4 0h1m18 0h1m1 0h1m6 0h4m2 0h2m6 0h1m7 0h2m3 0h1m3 0h1m6 0h1m3 0h1m1 0h1m3 0h1m18 0h1M0 1503.6m2 0h1m3 0h1m10 0h1m3 0h1m2 0h1m4 0h1m2 0h1m5 0h2m23 0h1m2 0h1m4 0h1m1 0h1m7 0h2m13 0h1m1 0h1m1 0h1m16 0h1m4 0h1m18 0h1m1 0h1m3 0h1m4 0h1m5 0h1m14 0h1M0 1527.36m5 0h1m7 0h1m2 0h1m1 0h1m4 0h1m22 0h1m23 0h1m4 0h1m2 0h1m2 0h1m25 0h1m6 0h1m4 0h1m6 0h1m8 0h1m12 0h1m7 0h1m10 0h1m13 0h1M0 1551.12h1m2 0h1m3 0h1m10 0h1m7 0h1m10 0h1m44 0h1m1 0h1m1 0h1m12 0h1m13 0h1m11 0h1m2 0h1m2 0h1m3 0h1m2 0h1m5 0h1m15 0h1m1 0h1m5 0h1M0 1574.89m3 0h1m12 0h1m3 0h1m7 0h1m1 0h1m6 0h1m3 0h1m8 0h1m5 0h1m4 0h1m7 0h1m8 0h2m23 0h2m14 0h1m2 0h1m1 0h1m1 0h1m33 0h1M0 1598.65h4m3 0h2m4 0h1m1 0h1m2 0h1m11 0h1m2 0h2m3 0h1m8 0h4m1 0h1m4 0h1m4 0h1m2 0h1m4 0h1m1 0h1m2 0h2m4 0h1m2 0h1m3 0h1m4 0h1m1 0h1m5 0h1m2 0h1m5 0h1m2 0h1m3 0h1m2 0h1m11 0h1m4 0h3m1 0h1m2 0h1m3 0h1m3 0h1m1 0h1m8 0h1m5 0h1m2 0h1m1 0h1m2 0h2m1 0h1M0 1622.41h2m1 0h2m15 0h2m9 0h1m14 0h1m1 0h1m26 0h1m4 0h1m7 0h1m24 0h1m1 0h1m4 0h1m2 0h1m1 0h1m5 0h2m8 0h1m2 0h1m12 0h1m5 0h2m14 0h1M0 1669.93h1m9 0h1m3 0h1m4 0h1m9 0h1m1 0h1m3 0h1m5 0h1m3 0h1m7 0h1m9 0h1m3 0h1m6 0h2m6 0h1m9 0h1m9 0h1m5 0h1m2 0h1m2 0h2m2 0h2m26 0h1m2 0h1m6 0h1m3 0h1m4 0h1m3 0h1m6 0h1M0 1693.7m3 0h1m19 0h1m4 0h1m2 0h1m6 0h1m19 0h2m5 0h1m1 0h1m3 0h1m2 0h1m5 0h1m1 0h1m3 0h1m2 0h1m2 0h1m4 0h1m10 0h1m3 0h1m7 0h1m1 0h1m12 0h1m9 0h1m25 0h1m2 0h1m1 0h1M0 1717.46m2 0h2m10 0h2m2 0h1m3 0h1m4 0h2m5 0h1m3 0h3m5 0h3m8 0h1m8 0h2m1 0h1m2 0h2m9 0h1m10 0h1m2 0h1m4 0h4m2 0h1m2 0h1m3 0h2m1 0h3m2 0h1m1 0h1m2 0h1m1 0h1m1 0h1m3 0h3m1 0h1m4 0h2m2 0h2m4 0h1m4 0h1m1 0h2m1 0h1m4 0h2m1 0h1m4 0h1m1 0h1M0 1741.22m3 0h1m8 0h1m5 0h2m3 0h1m10 0h1m5 0h1m2 0h1m5 0h1m7 0h2m1 0h1m2 0h1m3 0h1m2 0h1m2 0h1m1 0h1m1 0h4m2 0h1m1 0h1m4 0h1m4 0h1m1 0h1m2 0h1m1 0h1m1 0h4m2 0h3m1 0h1m3 0h1m2 0h1m3 0h1m1 0h1m2 0h1m1 0h1m7 0h1m10 0h2m1 0h1m4 0h1m1 0h1m5 0h1m4 0h1m1 0h1m2 0h2M0 1788.75h1m1 0h1m6 0h1m1 0h1m1 0h1m9 0h1m1 0h1m13 0h2m5 0h1m8 0h1m3 0h1m5 0h1m6 0h1m1 0h1m2 0h1m5 0h2m15 0h1m7 0h1m1 0h2m2 0h1m1 0h1m12 0h2m11 0h1m6 0h1m14 0h1m3 0h1m8 0h1m2 0h1M0 1836.27m5 0h1m3 0h1m21 0h1m16 0h1m3 0h1m15 0h2m11 0h1m2 0h1m1 0h1m3 0h1m25 0h1m11 0h1m11 0h1m3 0h1m4 0h1m20 0h1M0 1931.32m9 0h1m1 0h1m8 0h1m13 0h1m6 0h1m2 0h1m14 0h2m5 0h1m9 0h1m2 0h1m2 0h1m7 0h2m1 0h1m7 0h1m7 0h1m22 0h1m4 0h1m7 0h3m6 0h1M0 1955.08m14 0h1m19 0h1m8 0h1m25 0h1m3 0h1m7 0h1m6 0h1m8 0h1m2 0h1m2 0h1m10 0h1m11 0h1m3 0h1m34 0h2m4 0h1m10 0h1M0 1978.84m1 0h1m2 0h1m4 0h1m2 0h1m9 0h2m3 0h2m1 0h1m1 0h1m5 0h2m2 0h1m1 0h1m2 0h1m4 0h1m3 0h1m6 0h1m2 0h1m4 0h2m7 0h1m6 0h3m3 0h1m2 0h5m2 0h1m1 0h1m1 0h2m7 0h1m1 0h1m8 0h1m1 0h2m7 0h1m18 0h1m2 0h1m5 0h1m1 0h2m2 0h1m3 0h1m4 0h1M0 2002.6m1 0h1m3 0h1m3 0h1m1 0h2m9 0h1m1 0h1m3 0h1m1 0h1m6 0h1m8 0h3m2 0h1m7 0h2m6 0h1m4 0h1m4 0h4m8 0h3m2 0h1m7 0h1m8 0h1m1 0h1m2 0h1m2 0h1m6 0h1m11 0h2m2 0h2m1 0h1m6 0h2m1 0h2m7 0h1m4 0h3m4 0h1m4 0h1M0 2178.23m2 0h3m4 0h1m6 0h3m3 0h1m6 0h3m12 0h2m5 0h1m4 0h1m4 0h1m2 0h1m2 0h1m1 0h1m7 0h2m2 0h3m12 0h1m2 0h1m1 0h2m14 0h1m5 0h1m3 0h1m3 0h1m1 0h1m5 0h1m3 0h3m6 0h2m1 0h1m2 0h1m1 0h1m6 0h1m5 0h1m1 0h1m2 0h3M0 2201.99m17 0h1m1 0h1m12 0h2m9 0h1m2 0h1m4 0h1m14 0h2m10 0h1m2 0h1m1 0h1m15 0h1m2 0h1m7 0h1m2 0h1m5 0h1m9 0h1m6 0h1m2 0h1m4 0h1m1 0h1m26 0h2m3 0h1M0 2225.75m12 0h1m8 0h2m1 0h3m1 0h1m15 0h1m1 0h2m1 0h2m1 0h1m5 0h1m4 0h1m1 0h1m2 0h1m1 0h1m1 0h1m1 0h2m5 0h3m12 0h1m3 0h1m1 0h3m1 0h1m1 0h1m11 0h2m2 0h1m2 0h1m1 0h1m6 0h2m2 0h1m2 0h3m7 0h1m1 0h1m5 0h1m1 0h1m2 0h1m3 0h2m1 0h1m3 0h1m1 0h4M0 2249.51m3 0h1m2 0h1m17 0h1m7 0h2m13 0h1m7 0h1m3 0h2m13 0h2m19 0h1m29 0h1m9 0h2m2 0h1m22 0h1M0 2306.64m11 0h1m10 0h1m8 0h1m19 0h1m1 0h1m10 0h1m7 0h1m3 0h1m7 0h1m5 0h2m2 0h1m16 0h1m5 0h1m12 0h1m1 0h1m1 0h1m7 0h1m6 0h1m1 0h1m11 0h1m7 0h1M0 2330.4h1m17 0h1m1 0h2m14 0h1m1 0h1m1 0h2m2 0h1m13 0h1m1 0h1m1 0h2m2 0h1m4 0h1m1 0h2m7 0h1m1 0h1m1 0h2m2 0h1m1 0h1m1 0h1m1 0h1m1 0h1m2 0h1m3 0h1m5 0h1m1 0h2m8 0h1m4 0h3m4 0h1m12 0h1m10 0h1m17 0h1m2 0h1M0 2354.17m6 0h2m16 0h1m9 0h1m4 0h1m2 0h1m5 0h1m1 0h1m2 0h2m1 0h1m1 0h1m9 0h1m9 0h1m2 0h1m5 0h1m2 0h1m6 0h2m5 0h1m12 0h1m4 0h1m11 0h1m11 0h1m9 0h1m10 0h1m3 0h1M0 2377.93m10 0h2m6 0h1m3 0h1m6 0h1m1 0h4m1 0h1m8 0h1m3 0h4m1 0h2m6 0h1m4 0h1m4 0h2m1 0h2m8 0h1m1 0h1m4 0h1m3 0h1m3 0h1m1 0h2m3 0h1m3 0h1m3 0h1m1 0h2m13 0h1m8 0h1m2 0h1m1 0h1m1 0h1m1 0h1m9 0h1m5 0h2m1 0h2m4 0h1m4 0h3M0 2401.69m3 0h1m3 0h1m2 0h1m21 0h1m1 0h1m18 0h1m4 0h1m3 0h1m1 0h2m4 0h1m13 0h3m1 0h1m10 0h1m10 0h1m1 0h1m35 0h1m6 0h1m2 0h1M0 2449.21m3 0h1m10 0h1m8 0h1m10 0h1m3 0h2m24 0h1m16 0h1m14 0h1m7 0h1m27 0h1m2 0h1m45 0h2M0 2496.74m14 0h1m9 0h1m12 0h1m8 0h1m36 0h1m2 0h2m1 0h1m42 0h1m17 0h1m7 0h1M0 2520.5h1m5 0h1m12 0h2m2 0h1m5 0h2m1 0h1m1 0h2m2 0h1m1 0h1m2 0h1m3 0h1m3 0h1m6 0h1m1 0h1m5 0h3m1 0h1m1 0h1m2 0h1m2 0h1m7 0h1m2 0h4m8 0h1m5 0h1m1 0h1m3 0h1m1 0h1m6 0h1m2 0h1m1 0h1m11 0h1m2 0h3m3 0h1m1 0h2m1 0h1m9 0h1m2 0h2m1 0h3m4 0h1m2 0h1M0 2544.26m4 0h1m10 0h1m2 0h1m2 0h1m6 0h1m23 0h1m7 0h1m5 0h1m5 0h1m4 0h1m2 0h2m2 0h1m2 0h1m12 0h1m11 0h1m8 0h1m6 0h1m8 0h1m4 0h1m9 0h1m13 0h1m1 0h2m9 0h1m2 0h1M0 2568.03m8 0h1m16 0h1m4 0h1m7 0h1m2 0h1m4 0h1m3 0h1m4 0h1m2 0h1m8 0h1m6 0h1m1 0h1m1 0h1m3 0h1m8 0h1m1 0h1m3 0h1m3 0h1m4 0h1m1 0h1m1 0h1m7 0h2m11 0h1m16 0h1m5 0h1m4 0h1m3 0h1M0 2591.79m2 0h1m1 0h1m1 0h1m22 0h1m14 0h1m3 0h1m2 0h1m1 0h1m1 0h1m17 0h2m4 0h1m1 0h1m18 0h1m5 0h1m12 0h1m3 0h1m18 0h1m18 0h1M0 2615.55h1m24 0h1m1 0h1m8 0h1m4 0h1m9 0h1m1 0h1m8 0h1m1 0h1m20 0h1m28 0h1m1 0h1m1 0h1m1 0h1m13 0h1m4 0h1m3 0h2m1 0h1m17 0h1m10 0h1m3 0h1m2 0h1M0 2663.07m5 0h1m1 0h1m3 0h1m10 0h1m15 0h1m1 0h1m12 0h1m1 0h1m7 0h1m4 0h1m2 0h1m4 0h1m2 0h1m6 0h1m7 0h1m1 0h1m7 0h1m1 0h1m1 0h1m1 0h1m1 0h1m10 0h2m4 0h1m15 0h1m2 0h1m14 0h1m1 0h1m3 0h1M0 2734.36m5 0h1m13 0h1m4 0h1m20 0h1m7 0h1m14 0h1m4 0h1m8 0h1m16 0h1m36 0h1m3 0h1m8 0h1m2 0h1m3 0h1m5 0h1m1 0h1m4 0h1m8 0h1m1 0h1"/>
<path transform="translate(340.4 0) scale(1.57978 1)" stroke="#ffffff" stroke-width="23.81" fill="none" d="M0 400.88m4 0h1m1 0h1m33 0h2m8 0h1m1 0h1m12 0h1m1 0h1m1 0h1m1 0h1m10 0h1m1 0h1m8 0h1m31 0h1m3 0h1m2 0h2m14 0h1m11 0h1M0 424.64m8 0h1m23 0h2m2 0h1m8 0h2m7 0h3m1 0h2m10 0h1m3 0h1m8 0h1m2 0h1m2 0h2m5 0h1m1 0h1m7 0h1m2 0h1m7 0h2m1 0h1m2 0h2m3 0h1m2 0h1m2 0h2m2 0h1m4 0h1m1 0h1m1 0h1m4 0h1m1 0h1m1 0h1m2 0h1m1 0h1m14 0h1M0 472.17m5 0h1m3 0h1m22 0h1m15 0h1m2 0h1m9 0h1m11 0h1m2 0h1m1 0h1m21 0h1m3 0h1m4 0h1m12 0h1m7 0h1m11 0h1m16 0h2M0 495.93m8 0h1m18 0h1m9 0h1m2 0h1m3 0h1m6 0h2m7 0h2m4 0h1m11 0h1m6 0h2m1 0h2m17 0h1m2 0h3m3 0h1m6 0h2m7 0h1m2 0h2m1 0h1m21 0h1m5 0h1M0 519.69m6 0h1m4 0h1m4 0h1m8 0h2m20 0h1m5 0h3m2 0h1m17 0h1m11 0h1m3 0h1m7 0h1m15 0h1m3 0h1m1 0h1m3 0h1m18 0h2m2 0h1m5 0h2m5 0h1m1 0h1m3 0h1m9 0h1m1 0h1M0 543.45m9 0h1m1 0h1m22 0h1m6 0h1m3 0h1m4 0h2m9 0h1m8 0h1m21 0h1m8 0h1m9 0h1m2 0h2m7 0h1m43 0h1M0 567.22m9 0h1m8 0h2m7 0h1m16 0h1m21 0h1m2 0h1m29 0h1m12 0h1m11 0h1m26 0h1m17 0h1m4 0h1M0 590.98m9 0h1m2 0h1m9 0h2m21 0h1m22 0h1m1 0h1m18 0h1m3 0h1m8 0h1m2 0h2m8 0h3m8 0h1m5 0h1m3 0h1m1 0h1m6 0h1m6 0h1m2 0h1m2 0h1m2 0h1m6 0h1m2 0h2m1 0h1m1 0h1M0 638.5m1 0h1m17 0h1m18 0h1m3 0h2m17 0h1m7 0h1m1 0h1m2 0h1m35 0h1m4 0h1m1 0h1m7 0h1m2 0h1m12 0h1m16 0h1m8 0h3m12 0h1M0 662.26m15 0h1m1 0h1m14 0h1m9 0h1m43 0h1m2 0h1m7 0h1m7 0h1m9 0h1m8 0h1m8 0h1m2 0h1m4 0h3m1 0h1m14 0h1m3 0h1M0 686.02m2 0h2m38 0h1m6 0h1m5 0h1m9 0h1m3 0h1m18 0h2m2 0h1m28 0h1m4 0h1m4 0h1m1 0h2m5 0h1m3 0h1m4 0h1m6 0h1m3 0h1m1 0h1m2 0h1m8 0h3M0 709.79m6 0h1m6 0h1m7 0h2m5 0h1m9 0h1m3 0h1m8 0h1m4 0h1m33 0h1m2 0h1m16 0h2m7 0h1m1 0h1m8 0h1m19 0h1m7 0h1m3 0h2m5 0h1m1 0h1m3 0h1m2 0h1M0 733.55h1m6 0h1m3 0h1m23 0h2m2 0h1m19 0h1m4 0h1m5 0h1m5 0h1m2 0h1m13 0h1m1 0h1m11 0h1m7 0h1m4 0h1m3 0h2m4 0h1m6 0h1m1 0h1m3 0h2m17 0h1m2 0h1m2 0h1m1 0h1m8 0h4M0 757.31m9 0h1m14 0h1m3 0h1m18 0h1m12 0h1m11 0h1m6 0h1m5 0h1m3 0h1m12 0h1m10 0h2m4 0h1m4 0h1m7 0h3m6 0h3m5 0h1m9 0h1m17 0h1m1 0h1M0 804.83h1m8 0h3m16 0h1m6 0h1m1 0h1m10 0h1m1 0h1m4 0h1m12 0h2m7 0h1m3 0h1m2 0h1m3 0h1m3 0h1m4 0h1m9 0h1m5 0h1m3 0h1m1 0h1m2 0h1m3 0h2m5 0h2m1 0h2m2 0h1m5 0h3m2 0h1m4 0h1m1 0h1m5 0h1m5 0h1m3 0h1m2 0h1m1 0h1m1 0h1M0 852.36m11 0h1m37 0h1m3 0h1m14 0h1m1 0h1m4 0h1m2 0h1m11 0h1m15 0h1m16 0h1m6 0h1m10 0h1m13 0h1M0 876.12m19 0h2m6 0h1m4 0h1m3 0h1m8 0h1m14 0h1m17 0h2m13 0h1m7 0h1m14 0h1m13 0h1m3 0h1m1 0h1m14 0h1m2 0h1m5 0h1m2 0h1m3 0h1M0 899.88m2 0h1m2 0h1m10 0h1m2 0h1m20 0h1m1 0h2m3 0h1m2 0h2m21 0h1m14 0h1m11 0h1m23 0h1m1 0h1m1 0h1m2 0h1m3 0h1m2 0h1m3 0h1m13 0h1m2 0h1m7 0h1m2 0h1m5 0h4M0 923.64m49 0h1m2 0h1m9 0h1m3 0h1m7 0h1m3 0h1m29 0h3m5 0h1m12 0h1m3 0h1m8 0h1m1 0h1m3 0h1m3 0h1m3 0h1m1 0h1m9 0h1m11 0h1M0 947.41h1m46 0h1m7 0h1m6 0h1m10 0h1m1 0h1m41 0h1m4 0h1m18 0h1m8 0h1m9 0h1m1 0h1m19 0h1M0 971.17h1m2 0h1m4 0h1m17 0h1m1 0h1m12 0h1m11 0h1m18 0h1m5 0h1m2 0h1m1 0h1m3 0h1m2 0h1m18 0h2m2 0h1m5 0h1m4 0h1m1 0h1m18 0h1m13 0h1m4 0h1M0 994.93m4 0h1m2 0h1m5 0h1m14 0h1m4 0h1m32 0h1m2 0h1m12 0h2m4 0h1m14 0h1m27 0h1m17 0h1m1 0h1m10 0h2m2 0h1m10 0h1m4 0h1M0 1042.46m2 0h1m11 0h1m11 0h1m28 0h1m1 0h1m8 0h1m3 0h1m12 0h1m7 0h1m23 0h1m9 0h1m3 0h1m8 0h1m16 0h1m11 0h1m2 0h3m7 0h1M0 1066.22m15 0h2m1 0h3m18 0h1m5 0h1m1 0h1m3 0h1m7 0h1m25 0h1m9 0h1m11 0h1m6 0h1m5 0h1m7 0h1m6 0h1m12 0h1m3 0h1m20 0h1m2 0h1M0 1089.98m7 0h1m11 0h1m6 0h1m5 0h1m12 0h1m3 0h1m3 0h1m6 0h1m23 0h1m4 0h1m6 0h2m3 0h1m3 0h1m7 0h1m17 0h1m8 0h1m1 0h1m11 0h1m4 0h1m4 0h1M0 1113.74m1 0h1m2 0h1m11 0h1m1 0h1m3 0h1m5 0h2m10 0h1m14 0h1m4 0h1m13 0h3m20 0h1m2 0h1m5 0h1m6 0h2m3 0h1m3 0h1m18 0h1m2 0h1m9 0h1m4 0h1m2 0h1m1 0h1m9 0h1M0 1137.5m5 0h1m19 0h1m5 0h1m1 0h2m1 0h1m3 0h1m12 0h2m1 0h1m9 0h1m11 0h1m12 0h1m5 0h1m1 0h1m6 0h1m1 0h1m13 0h1m4 0h1m13 0h1m13 0h1m2 0h1m5 0h1M0 1161.27m5 0h1m7 0h1m3 0h2m2 0h1m9 0h1m10 0h2m2 0h1m3 0h1m5 0h1m1 0h1m20 0h1m8 0h1m13 0h1m3 0h1m14 0h1m6 0h1m7 0h1m4 0h1m5 0h2m4 0h1m4 0h1m1 0h1m3 0h1m3 0h1m4 0h1m6 0h1M0 1185.03m28 0h2m7 0h1m5 0h1m30 0h1m64 0h1m3 0h1m35 0h1M0 1208.79m24 0h1m59 0h1m3 0h1m3 0h2m2 0h1m6 0h1m13 0h1m15 0h1m21 0h1M0 1232.55m5 0h1m1 0h1m2 0h1m2 0h1m10 0h1m5 0h1m2 0h1m1 0h1m10 0h1m2 0h1m1 0h1m3 0h1m11 0h2m6 0h1m4 0h1m2 0h1m5 0h1m20 0h1m6 0h1m10 0h1m11 0h1m22 0h2m9 0h1m5 0h1M0 1265.98m14 0h1m10 0h1m8 0h1m1 0h1m1 0h1m3 0h1m4 0h1m7 0h2m1 0h1m8 0h1m1 0h1m39 0h1m2 0h1m10 0h1m2 0h1m12 0h1m2 0h1m1 0h1m4 0h1m19 0h1m1 0h1M0 1289.74m43 0h1m17 0h1m6 0h1m12 0h2m33 0h1m13 0h1m3 0h1m21 0h1m2 0h1m3 0h1m8 0h1m9 0h1M0 1313.5m1 0h1m3 0h1m5 0h1m1 0h1m3 0h1m14 0h1m4 0h1m1 0h1m3 0h1m3 0h2m2 0h1m26 0h1m5 0h1m16 0h1m4 0h1m4 0h2m1 0h1m19 0h1m6 0h1m1 0h2m14 0h1m9 0h1m3 0h1M0 1337.27m9 0h1m2 0h1m6 0h1m4 0h1m10 0h1m5 0h3m8 0h1m16 0h1m5 0h1m2 0h1m3 0h1m8 0h3m6 0h3m7 0h1m6 0h1m2 0h3m3 0h1m2 0h1m7 0h1m9 0h1m4 0h1m2 0h1m3 0h2m1 0h1m1 0h1m4 0h1m4 0h1m6 0h2M0 1384.79h1m1 0h1m14 0h1m2 0h1m6 0h1m1 0h2m3 0h2m3 0h1m9 0h1m3 0h1m1 0h2m5 0h2m9 0h1m9 0h3m7 0h1m3 0h2m1 0h1m10 0h2m1 0h1m2 0h1m4 0h1m1 0h1m2 0h1m5 0h1m1 0h1m2 0h2m2 0h1m1 0h4m3 0h2m1 0h2m1 0h1m2 0h1m3 0h2m1 0h2M0 1408.55m15 0h1m3 0h1m1 0h1m44 0h1m4 0h1m1 0h2m2 0h1m1 0h1m48 0h1m10 0h1m11 0h1m7 0h1M0 1432.32m11 0h1m4 0h1m17 0h1m5 0h1m16 0h2m8 0h1m3 0h1m5 0h1m3 0h2m5 0h1m4 0h1m7 0h1m3 0h1m1 0h1m15 0h2m1 0h2m6 0h1m1 0h1m5 0h1m1 0h1m4 0h3m2 0h2m4 0h1m2 0h1m2 0h1m1 0h1m3 0h2M0 1456.08m1 0h1m8 0h1m7 0h1m9 0h1m5 0h1m20 0h1m1 0h1m19 0h1m12 0h1m1 0h1m3 0h1m2 0h1m7 0h1m5 0h3m18 0h2m10 0h1m6 0h2m8 0h1m2 0h1m2 0h1m2 0h1m3 0h1M0 1527.36m7 0h1m9 0h1m11 0h1m9 0h1m19 0h1m2 0h1m11 0h1m25 0h1m17 0h1m14 0h1m2 0h1m25 0h1m1 0h1m7 0h1M0 1574.89m13 0h1m31 0h1m8 0h1m3 0h1m11 0h1m20 0h1m19 0h1m4 0h1m4 0h1m15 0h1m1 0h1m7 0h1m14 0h1M0 1598.65m21 0h1m15 0h1m2 0h2m1 0h1m2 0h1m14 0h1m5 0h1m1 0h1m9 0h1m18 0h3m5 0h1m5 0h1m1 0h1m12 0h1m1 0h1m3 0h1m2 0h1m14 0h1m6 0h2m1 0h1m6 0h1m13 0h1M0 1622.41m7 0h1m7 0h1m7 0h1m2 0h2m6 0h2m8 0h1m2 0h1m10 0h1m2 0h2m14 0h1m5 0h2m4 0h1m3 0h1m40 0h1m1 0h1m9 0h1m13 0h1m16 0h1M0 1646.17m4 0h1m10 0h1m2 0h1m8 0h1m1 0h1m64 0h1m1 0h1m1 0h1m30 0h1m14 0h1m8 0h1m2 0h1m1 0h1m19 0h1m3 0h1M0 1669.93m13 0h1m4 0h1m1 0h1m16 0h1m6 0h1m9 0h1m3 0h1m5 0h1m1 0h1m10 0h1m2 0h1m24 0h1m22 0h2m9 0h1m2 0h1m12 0h1m7 0h1m3 0h1m4 0h1M0 1693.7m2 0h1m14 0h1m2 0h1m13 0h1m8 0h1m5 0h1m11 0h1m6 0h1m6 0h1m27 0h1m2 0h1m2 0h1m1 0h1m1 0h1m11 0h1m2 0h1m14 0h1m21 0h1M0 1717.46m12 0h2m9 0h1m2 0h1m4 0h1m12 0h1m8 0h2m5 0h1m7 0h1m11 0h1m1 0h1m3 0h1m6 0h1m7 0h1m22 0h1m4 0h1m4 0h1m16 0h3m3 0h2m9 0h1m8 0h1m1 0h1M0 1741.22m5 0h2m13 0h1m1 0h1m4 0h2m6 0h1m8 0h1m10 0h1m12 0h1m3 0h1m3 0h1m15 0h2m4 0h1m10 0h1m7 0h1m1 0h1m3 0h1m7 0h1m1 0h3m5 0h2m3 0h2m2 0h1m12 0h3m9 0h1m3 0h2m1 0h1M0 1764.98m17 0h1m26 0h1m19 0h1m6 0h1m2 0h1m8 0h2m10 0h1m3 0h1m8 0h1m34 0h1m18 0h1m6 0h1m7 0h1m1 0h1m1 0h1M0 1788.75m16 0h1m10 0h1m1 0h1m7 0h1m19 0h1m4 0h1m8 0h1m9 0h2m3 0h3m8 0h1m4 0h1m15 0h1m1 0h1m1 0h2m1 0h1m5 0h2m11 0h1m16 0h1m12 0h2m6 0h1M0 1812.51m2 0h1m46 0h1m19 0h1m2 0h1m20 0h1m24 0h1m8 0h3m6 0h2m2 0h1m24 0h1m6 0h1M0 1860.03m2 0h1m20 0h1m14 0h2m7 0h1m1 0h1m2 0h1m21 0h1m17 0h1m8 0h1m2 0h1m16 0h1m6 0h1m3 0h1m5 0h1m9 0h1m9 0h1m22 0h1M0 1883.79m2 0h1m2 0h1m2 0h1m13 0h1m9 0h1m2 0h1m2 0h1m6 0h1m6 0h1m24 0h2m20 0h1m14 0h1m14 0h1m23 0h1m21 0h1M0 1907.56m5 0h1m16 0h2m3 0h1m2 0h1m3 0h1m3 0h1m22 0h2m1 0h1m46 0h1m14 0h1m2 0h1m14 0h1m8 0h1m5 0h1m10 0h2m6 0h1M0 1931.32m3 0h1m8 0h1m6 0h1m2 0h2m12 0h1m9 0h2m23 0h1m13 0h1m1 0h1m8 0h2m7 0h1m10 0h1m2 0h1m2 0h1m5 0h1m4 0h1m17 0h1m5 0h2m9 0h2m1 0h1m4 0h1m3 0h1M0 1955.08m23 0h1m3 0h1m4 0h2m1 0h1m3 0h1m6 0h1m1 0h1m7 0h1m60 0h1m21 0h2m13 0h1m2 0h1m11 0h1m9 0h2M0 1978.84m3 0h1m7 0h1m9 0h1m3 0h1m17 0h1m2 0h1m4 0h1m7 0h2m4 0h1m1 0h2m5 0h1m6 0h1m2 0h1m5 0h1m1 0h1m18 0h1m1 0h1m5 0h1m6 0h1m1 0h1m4 0h1m1 0h2m3 0h2m7 0h1m1 0h3m1 0h1m2 0h1m5 0h2m7 0h1m4 0h3M0 2002.6m2 0h1m13 0h2m2 0h1m15 0h1m4 0h1m7 0h1m4 0h1m1 0h1m1 0h1m7 0h1m16 0h1m9 0h1m3 0h1m1 0h1m4 0h1m1 0h1m7 0h2m2 0h1m4 0h1m3 0h2m1 0h1m4 0h1m4 0h1m24 0h1m6 0h2m3 0h3M0 2026.37m1 0h1m1 0h1m11 0h1m1 0h1m2 0h1m6 0h1m51 0h1m1 0h1m8 0h1m13 0h1m3 0h1m1 0h1m31 0h1m16 0h1m6 0h1M0 2050.13m23 0h3m2 0h1m12 0h1m2 0h1m28 0h1m17 0h1m19 0h1m28 0h1m15 0h1M0 2083.18m25 0h1m18 0h1m33 0h1m1 0h1m3 0h1m28 0h1m16 0h2m13 0h1m2 0h1m1 0h1M0 2106.94m19 0h1m11 0h1m44 0h1m2 0h1m17 0h1m2 0h1m29 0h1m15 0h1M0 2130.7m3 0h1m44 0h1m6 0h1m1 0h1m19 0h1M0 2154.47m8 0h2m5 0h1m28 0h1m2 0h3m6 0h1m12 0h2m41 0h1m8 0h1m2 0h1m1 0h1m8 0h2m1 0h1m5 0h1m3 0h1m30 0h1M0 2178.23h1m9 0h1m1 0h1m21 0h1m3 0h1m3 0h2m4 0h1m3 0h1m21 0h1m18 0h1m9 0h1m7 0h1m9 0h2m6 0h1m10 0h1m9 0h1m11 0h2m2 0h1m1 0h1m1 0h1m3 0h1m1 0h1M0 2201.99m1 0h1m11 0h1m1 0h1m11 0h1m43 0h1m2 0h2m9 0h1m5 0h1m2 0h1m22 0h1m5 0h1m1 0h1m8 0h1m6 0h2m4 0h1m4 0h1m5 0h1m2 0h1m2 0h2m14 0h1M0 2225.75h1m2 0h1m14 0h1m16 0h1m1 0h1m7 0h1m13 0h3m14 0h1m20 0h1m11 0h1m4 0h1m2 0h1m8 0h1m7 0h2m5 0h1m8 0h1m16 0h3m2 0h1m2 0h1m2 0h1M0 2249.51m15 0h2m25 0h1m1 0h1m1 0h1m7 0h1m14 0h1m22 0h1m9 0h1m1 0h2m1 0h1m5 0h1m5 0h2m13 0h1m7 0h1m16 0h1m3 0h2m8 0h1m1 0h1M0 2282.88m16 0h1m9 0h1m8 0h1m19 0h1m5 0h1m16 0h1m6 0h1m5 0h1m20 0h1m19 0h1m20 0h1m18 0h1M0 2330.4m6 0h2m4 0h1m3 0h1m11 0h2m25 0h1m32 0h1m4 0h1m8 0h2m2 0h1m13 0h1m1 0h1m10 0h1m2 0h1m25 0h1m5 0h1m3 0h1m1 0h1M0 2354.17m3 0h1m4 0h1m3 0h1m1 0h1m2 0h1m4 0h1m5 0h1m26 0h1m11 0h1m8 0h1m17 0h1m1 0h1m19 0h1m1 0h1m11 0h1m8 0h1m2 0h1m12 0h1m10 0h1m10 0h2m3 0h1M0 2377.93m14 0h1m1 0h1m3 0h1m2 0h1m24 0h1m4 0h1m4 0h1m5 0h1m1 0h1m1 0h1m9 0h1m3 0h1m1 0h1m4 0h1m4 0h1m11 0h1m2 0h2m3 0h1m4 0h1m6 0h1m3 0h1m23 0h1m1 0h1m4 0h1M0 2425.45m13 0h1m1 0h1m16 0h3m13 0h1m21 0h3m9 0h1m14 0h2m6 0h1m2 0h3m8 0h1m2 0h2m8 0h1m6 0h1m1 0h1m1 0h1m1 0h1m13 0h1m11 0h1m8 0h1m1 0h1M0 2472.98m2 0h1m6 0h1m4 0h1m4 0h1m5 0h1m5 0h1m2 0h1m3 0h1m19 0h1m4 0h1m1 0h2m31 0h1m13 0h4m36 0h1m2 0h1m8 0h1m2 0h1m8 0h1m1 0h1M0 2496.74h1m9 0h1m12 0h1m37 0h1m3 0h1m14 0h1m4 0h1m2 0h1m5 0h1m1 0h1m10 0h1m9 0h2m11 0h1m6 0h2m15 0h1m6 0h1m8 0h1m8 0h1M0 2520.5m2 0h1m1 0h1m5 0h2m5 0h1m4 0h1m14 0h1m1 0h1m9 0h1m2 0h4m7 0h1m7 0h1m8 0h1m4 0h1m13 0h1m2 0h1m5 0h1m5 0h1m2 0h2m4 0h1m10 0h1m2 0h2m1 0h1m11 0h1m9 0h1m14 0h1M0 2568.03m7 0h1m6 0h1m1 0h1m7 0h1m2 0h1m5 0h1m1 0h1m6 0h1m25 0h1m11 0h1m4 0h2m3 0h1m3 0h2m9 0h1m1 0h1m1 0h1m1 0h1m2 0h1m5 0h1m4 0h3m5 0h1m8 0h1m1 0h1m19 0h1m11 0h1m2 0h1M0 2615.55m18 0h1m9 0h1m23 0h1m8 0h1m7 0h1m1 0h1m3 0h1m3 0h2m7 0h1m2 0h1m10 0h2m3 0h1m13 0h1m2 0h1m15 0h1m7 0h2m8 0h1m2 0h3m2 0h1M0 2639.31m1 0h1m7 0h1m10 0h1m13 0h2m3 0h1m10 0h2m10 0h1m7 0h1m3 0h3m9 0h1m7 0h2m3 0h1m1 0h1m13 0h1m3 0h1m12 0h1m1 0h1m18 0h1m2 0h1M0 2663.07h1m19 0h2m5 0h1m1 0h1m1 0h1m19 0h1m22 0h1m13 0h1m8 0h1m2 0h2m16 0h2m27 0h1m2 0h1m1 0h1m13 0h1m5 0h1m6 0h1M0 2686.84m7 0h1m10 0h1m9 0h1m13 0h1m2 0h1m17 0h1m21 0h2m1 0h1m6 0h1m19 0h1m3 0h1m19 0h1m12 0h1m6 0h1m18 0h1M0 2710.6m12 0h2m15 0h2m2 0h1m1 0h1m1 0h1m15 0h1m24 0h1m1 0h1m3 0h1m6 0h1m5 0h1m12 0h1m3 0h1m8 0h1m6 0h1m21 0h1m6 0h1m4 0h1M0 2734.36h1m7 0h1m4 0h1m9 0h1m9 0h1m10 0h1m2 0h1m7 0h1m10 0h1m9 0h1m8 0h1m4 0h1m1 0h1m1 0h1m8 0h1m12 0h1m6 0h1m1 0h1m7 0h1m9 0h1m9 0h1m3 0h1m16 0h2m3 0h1m2 0h1M0 2758.12m1 0h1m2 0h1m4 0h2m12 0h2m7 0h1m12 0h1m17 0h1m18 0h1m8 0h3m5 0h4m6 0h1m3 0h1m7 0h1m5 0h1m10 0h2m2 0h1m1 0h1m3 0h1m1 0h3m1 0h4m6 0h1m5 0h2m4 0h1m1 0h1M0 2781.88h1m19 0h1m6 0h1m7 0h1m10 0h1m4 0h2m10 0h1m7 0h1m13 0h1m2 0h1m2 0h1m21 0h1m16 0h1m10 0h1m21 0h2M0 2805.64m11 0h1m22 0h1m1 0h1m5 0h3m5 0h1m36 0h1m11 0h1m2 0h1m9 0h1m4 0h1m28 0h1m16 0h1m2 0h1m9 0h1M0 2829.41m17 0h1m4 0h1m22 0h1m18 0h1m5 0h1m21 0h1m1 0h2m3 0h1m9 0h2m13 0h1m1 0h1m12 0h1m1 0h1m9 0h1m6 0h1m5 0h1m13 0h1m2 0h2"/>
<path transform="translate(340.4 0) scale(1.57978 1)" stroke="#ffdfdf" stroke-width="23.81" fill="none" d="M0 400.88m10 0h1m19 0h2m16 0h1m46 0h1m1 0h1m6 0h1m4 0h1m20 0h1m6 0h1m21 0h1m14 0h1m2 0h1m4 0h1M0 424.64m2 0h1m3 0h1m7 0h1m24 0h1m7 0h1m12 0h1m5 0h1m1 0h2m1 0h1m3 0h1m2 0h1m1 0h1m16 0h1m10 0h1m4 0h2m7 0h1m13 0h1m3 0h1m3 0h1m4 0h1m5 0h1m1 0h1m4 0h2m7 0h2m4 0h1m2 0h1M0 448.4m2 0h1m8 0h1m20 0h2m3 0h1m13 0h1m39 0h1m4 0h1m3 0h1m4 0h1m18 0h1m6 0h1m9 0h1m1 0h1m9 0h1m10 0h1m10 0h1M0 472.17m3 0h1m6 0h1m5 0h1m5 0h1m4 0h1m1 0h2m35 0h1m26 0h1m19 0h1m2 0h1m2 0h1m3 0h1m9 0h1m1 0h1m4 0h1m21 0h1m3 0h2M0 495.93m13 0h1m3 0h1m12 0h1m22 0h1m40 0h1m23 0h1m3 0h1m10 0h1m10 0h1m10 0h1m5 0h1m6 0h1M0 519.69m3 0h1m13 0h1m12 0h1m2 0h2m2 0h1m5 0h1m5 0h1m1 0h1m9 0h1m4 0h1m6 0h1m3 0h1m13 0h1m36 0h1m9 0h1m13 0h1m5 0h2m12 0h1M0 543.45m13 0h1m23 0h1m1 0h1m2 0h1m6 0h1m23 0h2m11 0h1m6 0h1m8 0h1m7 0h1m2 0h1m4 0h1m15 0h2m8 0h1m12 0h1m16 0h1m2 0h1m1 0h1M0 567.22m121 0h1M0 590.98m15 0h1m13 0h1m11 0h1m5 0h1m1 0h1m1 0h1m10 0h1m15 0h1m9 0h1m3 0h1m3 0h1m6 0h1m3 0h1m11 0h1m7 0h1m16 0h1m1 0h1m6 0h1m5 0h1m18 0h1M0 614.74m24 0h1m6 0h1m16 0h1m10 0h1m10 0h1m1 0h2m12 0h1m12 0h1m15 0h1m5 0h1m16 0h1m1 0h1m3 0h1m6 0h1m4 0h1m14 0h1m2 0h1M0 638.5m13 0h1m3 0h1m12 0h1m13 0h1m9 0h1m3 0h3m3 0h1m10 0h1m3 0h1m1 0h1m13 0h1m4 0h1m10 0h1m32 0h1m2 0h1m9 0h1m3 0h1m4 0h1m5 0h2m7 0h1M0 662.26h1m59 0h1m13 0h3m8 0h1m2 0h1m2 0h1m10 0h1m3 0h1m1 0h1m3 0h1m9 0h2m6 0h1m1 0h1m13 0h1m9 0h1m10 0h1m4 0h1m1 0h1m6 0h1M0 686.02m10 0h1m5 0h1m6 0h1m13 0h1m3 0h1m3 0h1m48 0h1m4 0h1m9 0h1m1 0h1m10 0h1m23 0h1m4 0h1m2 0h1m8 0h1m3 0h1M0 709.79m1 0h1m2 0h2m3 0h1m20 0h1m26 0h1m3 0h1m4 0h1m7 0h1m24 0h1m7 0h1m14 0h1m3 0h3m2 0h1m5 0h1m2 0h1m1 0h1m10 0h1m10 0h1m1 0h1m7 0h1m7 0h1M0 733.55m3 0h1m1 0h2m5 0h1m7 0h2m1 0h1m3 0h1m14 0h1m5 0h1m19 0h1m11 0h1m3 0h1m2 0h1m26 0h1m3 0h1m14 0h1m11 0h2m3 0h1m9 0h2M0 757.31m4 0h1m11 0h1m9 0h1m10 0h1m3 0h1m3 0h1m2 0h1m15 0h1m5 0h2m2 0h1m5 0h1m5 0h1m7 0h2m8 0h1m12 0h1m3 0h1m18 0h1m6 0h1m24 0h2M0 781.07m14 0h1m3 0h1m21 0h1m10 0h1m1 0h1m11 0h1m1 0h1m36 0h2m11 0h1m4 0h1m10 0h1m27 0h2m1 0h1m7 0h1m7 0h1M0 804.83m22 0h1m3 0h1m4 0h1m9 0h2m11 0h1m1 0h2m1 0h1m11 0h2m9 0h1m4 0h1m3 0h1m12 0h1m33 0h1m2 0h1m15 0h1m1 0h1m9 0h1M0 828.6m1 0h2m21 0h1m15 0h1m11 0h1m9 0h1m42 0h2m4 0h1m1 0h1m11 0h1m10 0h1m5 0h1m1 0h1m6 0h1m3 0h1m2 0h1m5 0h1m15 0h1m1 0h1M0 852.36m8 0h1m20 0h1m20 0h1m40 0h1m54 0h1m16 0h1M0 876.12m8 0h1m35 0h1m8 0h1m2 0h1m4 0h1m10 0h2m2 0h2m7 0h1m9 0h1m13 0h1m19 0h1m10 0h1m5 0h1m1 0h1m10 0h1m17 0h1M0 899.88m1 0h1m6 0h1m6 0h1m18 0h2m39 0h2m1 0h1m7 0h1m2 0h1m25 0h1m2 0h1m3 0h1m22 0h1m29 0h1M0 923.64m7 0h1m4 0h2m3 0h1m5 0h1m9 0h1m7 0h1m5 0h1m6 0h1m1 0h1m10 0h1m9 0h1m8 0h1m26 0h1m1 0h1m11 0h1m29 0h1M0 947.41m8 0h1m8 0h1m6 0h2m1 0h1m5 0h1m9 0h1m2 0h1m2 0h1m2 0h1m47 0h1m2 0h1m9 0h1m6 0h1m8 0h1m6 0h1m1 0h3m3 0h1m4 0h1m6 0h1m17 0h1M0 971.17m25 0h1m7 0h2m2 0h1m9 0h1m13 0h1m27 0h1m4 0h1m11 0h1m1 0h1m3 0h1m4 0h1m22 0h2m7 0h1m3 0h1m17 0h1M0 994.93m3 0h1m13 0h1m5 0h1m15 0h2m5 0h1m20 0h1m5 0h3m4 0h1m5 0h1m18 0h1m19 0h1m3 0h1m16 0h1m13 0h1m14 0h2M0 1018.69m10 0h1m27 0h1m31 0h1m6 0h1m32 0h2m3 0h1m9 0h1m6 0h1m7 0h1m7 0h1m3 0h3m7 0h1m11 0h1M0 1066.22m17 0h1m6 0h1m29 0h1m11 0h1m14 0h1m6 0h1m21 0h1m2 0h1m24 0h1m3 0h1m4 0h1m1 0h1m8 0h1m4 0h4m5 0h1m4 0h1M0 1089.98m1 0h1m2 0h1m13 0h1m5 0h1m15 0h1m26 0h1m12 0h1m22 0h1m14 0h1m1 0h1m2 0h1m9 0h1m23 0h1m7 0h1m1 0h2m2 0h2M0 1113.74m5 0h1m13 0h1m4 0h1m10 0h1m6 0h1m8 0h1m10 0h1m18 0h1m11 0h1m1 0h1m20 0h1m2 0h2m10 0h1m5 0h1m5 0h1m1 0h1m6 0h1m3 0h1m6 0h1m8 0h1m3 0h2M0 1137.5m8 0h1m12 0h1m2 0h1m4 0h1m2 0h1m10 0h1m8 0h1m9 0h1m10 0h1m3 0h1m43 0h1m3 0h2m2 0h1m26 0h1m19 0h1M0 1161.27m8 0h1m3 0h1m24 0h1m7 0h1m16 0h1m2 0h1m3 0h1m12 0h1m3 0h1m30 0h1m4 0h1m7 0h1m8 0h2m1 0h1m7 0h1m3 0h1m8 0h1m7 0h1m6 0h1M0 1185.03m30 0h1m5 0h1M0 1208.79m66 0h1m34 0h1m50 0h1M0 1232.55m6 0h1m47 0h1m31 0h1m1 0h1m3 0h1m6 0h1m11 0h1m21 0h1m27 0h2m10 0h1m7 0h1M0 1265.98h1m3 0h1m6 0h1m37 0h1m2 0h1m12 0h1m13 0h2m4 0h2m13 0h1m4 0h1m4 0h1m7 0h1m11 0h1m2 0h1m14 0h1M0 1289.74m22 0h1m6 0h1m1 0h1m6 0h1m1 0h1m3 0h1m2 0h1m8 0h2m7 0h1m9 0h1m1 0h1m24 0h1m4 0h1m10 0h1m1 0h1m4 0h1m3 0h1m3 0h1m2 0h1m3 0h1m1 0h1m5 0h1m9 0h1m8 0h1m1 0h1M0 1313.5m20 0h1m31 0h1m4 0h1m5 0h1m1 0h1m13 0h1m11 0h1m16 0h1m4 0h1m5 0h1m20 0h1m7 0h1m2 0h1m15 0h1m4 0h1m3 0h2M0 1337.27m2 0h1m22 0h1m4 0h1m3 0h1m20 0h1m6 0h1m4 0h1m11 0h1m7 0h2m1 0h1m3 0h1m8 0h2m11 0h1m15 0h1m3 0h1m19 0h1m10 0h2m1 0h1m1 0h2m1 0h1M0 1361.03m5 0h1m19 0h1m4 0h1m4 0h1m15 0h1m9 0h2m26 0h1m6 0h1m26 0h2m13 0h1m10 0h1m4 0h1m1 0h1m2 0h1m3 0h1m7 0h1m2 0h1m4 0h2M0 1384.79m1 0h1m17 0h1m12 0h1m35 0h1m8 0h1m4 0h1m11 0h1m9 0h2m9 0h1m5 0h1m15 0h1m10 0h1m14 0h1m8 0h1m2 0h1m5 0h1M0 1408.55m39 0h1m13 0h1m8 0h1m1 0h1m11 0h1m15 0h1m6 0h1m4 0h1m22 0h1m2 0h1m40 0h1M0 1432.32m4 0h2m13 0h1m19 0h1m3 0h1m11 0h1m14 0h1m2 0h1m11 0h1m13 0h1m14 0h1m3 0h2m1 0h2m14 0h1m3 0h1m10 0h1m14 0h1m9 0h1m3 0h1M0 1456.08m5 0h1m16 0h3m26 0h2m1 0h1m1 0h1m17 0h1m7 0h1m3 0h1m18 0h1m2 0h1m7 0h1m1 0h1m4 0h1m1 0h3m2 0h1m9 0h1m16 0h3m10 0h1m2 0h1m3 0h2m2 0h1M0 1479.84m17 0h1m34 0h1m6 0h1m4 0h1m10 0h1m3 0h2m24 0h1m17 0h1m2 0h1m8 0h1m14 0h1m7 0h1m18 0h1m3 0h1M0 1503.6m1 0h1m23 0h2m19 0h1m3 0h1m28 0h1m7 0h1m1 0h1m3 0h2m8 0h2m18 0h1m25 0h1m15 0h1M0 1527.36m4 0h1m29 0h1m5 0h1m30 0h1m33 0h1m6 0h1m4 0h1m11 0h1m1 0h1m23 0h1m22 0h1M0 1551.12m43 0h1m16 0h1m8 0h1m17 0h1m20 0h1m67 0h1M0 1574.89m17 0h1m5 0h1m11 0h1m3 0h1m3 0h1m7 0h1m10 0h1m21 0h1m7 0h1m14 0h1m5 0h1m3 0h1m5 0h1m6 0h1m10 0h1m11 0h1m10 0h1m17 0h1M0 1598.65m4 0h1m5 0h1m5 0h1m2 0h1m3 0h1m11 0h1m15 0h1m3 0h1m4 0h1m12 0h1m29 0h1m1 0h1m3 0h1m1 0h1m9 0h1m3 0h1m30 0h1m3 0h1m3 0h1m1 0h1m6 0h1m1 0h1M0 1622.41m16 0h1m19 0h1m14 0h1m4 0h1m6 0h1m3 0h1m2 0h1m1 0h1m8 0h1m3 0h1m1 0h1m8 0h1m5 0h1m15 0h1m16 0h1m3 0h2m2 0h1m3 0h1M0 1646.17m32 0h1m37 0h1m4 0h1m89 0h1m15 0h1M0 1669.93m5 0h2m9 0h1m6 0h1m22 0h1m10 0h1m23 0h1m2 0h1m4 0h1m5 0h1m37 0h1m1 0h1m4 0h1m6 0h1m20 0h1m8 0h1m1 0h1M0 1693.7m9 0h1m14 0h1m5 0h1m13 0h1m1 0h1m13 0h1m1 0h1m36 0h1m17 0h1m12 0h2m8 0h1m1 0h1m8 0h1m2 0h1m7 0h2m3 0h1m2 0h1m9 0h1M0 1717.46m6 0h1m4 0h1m4 0h1m4 0h1m2 0h2m4 0h1m6 0h1m4 0h2m14 0h1m11 0h1m7 0h1m8 0h1m29 0h1m8 0h1m14 0h1m5 0h1m8 0h1m7 0h1m4 0h1m5 0h1m5 0h2M0 1741.22m1 0h1m7 0h1m36 0h1m1 0h1m2 0h1m1 0h2m1 0h1m7 0h2m15 0h1m2 0h1m6 0h1m2 0h1m81 0h1m4 0h1M0 1764.98m2 0h1m8 0h1m4 0h1m20 0h1m5 0h1m4 0h1m27 0h1m5 0h1m7 0h1m6 0h1m17 0h1m2 0h1m2 0h1m4 0h1m10 0h1m3 0h1m3 0h1m3 0h1m17 0h1M0 1788.75m1 0h1m6 0h1m35 0h1m5 0h1m13 0h1m25 0h1m2 0h1m12 0h2m9 0h1m6 0h1m13 0h1m20 0h1m12 0h1M0 1812.51m13 0h1m2 0h1m9 0h1m34 0h2m23 0h1m7 0h1m1 0h1m2 0h1m13 0h1m9 0h1m1 0h2m12 0h1m6 0h1m4 0h1m6 0h1m12 0h1m3 0h2m5 0h1M0 1836.27m4 0h1m2 0h1m4 0h1m4 0h1m5 0h1m39 0h1m3 0h1m2 0h1m17 0h1m2 0h1m9 0h1m3 0h1m11 0h1m3 0h1m2 0h1m1 0h1m27 0h2m17 0h1M0 1860.03h1m21 0h1m11 0h1m23 0h1m8 0h1m4 0h1m11 0h1m20 0h1m4 0h1m9 0h1m14 0h1m6 0h1m34 0h1M0 1883.79m12 0h2m3 0h1m24 0h1m19 0h1m5 0h1m10 0h1m6 0h1m3 0h1m6 0h1m4 0h1m2 0h1m18 0h2m1 0h1m10 0h1m2 0h1m29 0h1m4 0h1M0 1907.56m9 0h1m6 0h1m14 0h1m7 0h1m8 0h1m3 0h1m25 0h1m2 0h1m3 0h1m14 0h1m6 0h1m7 0h3m6 0h2m5 0h1m5 0h1m18 0h1m20 0h1m2 0h1M0 1931.32m14 0h1m2 0h1m17 0h1m34 0h1m32 0h1m25 0h2m19 0h1m1 0h1m2 0h1m6 0h1m10 0h1m1 0h1m2 0h1M0 1955.08m3 0h1m12 0h1m8 0h1m10 0h1m10 0h1m2 0h1m1 0h1m38 0h1m1 0h1m15 0h2m14 0h1m6 0h2m12 0h1m34 0h1M0 1978.84m31 0h1m4 0h1m17 0h1m47 0h1m11 0h1m9 0h1m7 0h1m1 0h1m13 0h1m5 0h1m6 0h3m18 0h1M0 2002.6m3 0h1m6 0h1m7 0h1m7 0h1m6 0h1m31 0h1m15 0h1m25 0h1m2 0h1m38 0h1m7 0h1m1 0h1m7 0h1m7 0h1M0 2026.37m14 0h1m13 0h1m3 0h1m2 0h1m9 0h1m31 0h1m2 0h1m7 0h1m2 0h1m22 0h1m19 0h1m3 0h1m6 0h1m10 0h1m3 0h1m1 0h1m6 0h2m3 0h1m5 0h1M0 2050.13m1 0h1m38 0h1m11 0h1m4 0h1m27 0h1m75 0h1m17 0h1M0 2083.18m6 0h1M0 2106.94m40 0h1m113 0h1M0 2130.7m17 0h1m53 0h1m17 0h1m16 0h1m29 0h1m23 0h1M0 2154.47m14 0h1m14 0h1m4 0h1m1 0h1m4 0h1m8 0h1m7 0h1m2 0h1m5 0h1m6 0h1m1 0h1m2 0h1m7 0h1m6 0h1m4 0h1m9 0h1m19 0h1m23 0h1m2 0h1m3 0h1m1 0h1m4 0h1m10 0h1M0 2178.23m35 0h1m4 0h1m5 0h1m6 0h1m6 0h1m10 0h1m7 0h1m5 0h1m3 0h1m8 0h1m1 0h1m18 0h2m7 0h1m18 0h1m17 0h1m16 0h1M0 2201.99m12 0h1m31 0h1m2 0h2m13 0h1m13 0h2m1 0h1m6 0h1m10 0h1m3 0h1m5 0h1m8 0h1m1 0h1m1 0h1m5 0h1m1 0h1m2 0h1m1 0h1m11 0h1m2 0h1M0 2225.75m32 0h1m1 0h1m19 0h1m16 0h1m12 0h1m13 0h2m16 0h1m8 0h1m13 0h1m24 0h1M0 2249.51h1m1 0h1m18 0h1m21 0h1m6 0h1m15 0h2m16 0h1m6 0h1m29 0h1m27 0h1m10 0h1m17 0h1m3 0h1M0 2282.88m10 0h1m40 0h1m72 0h1m2 0h1M0 2306.64m6 0h1m2 0h1m13 0h1m2 0h1m5 0h1m9 0h2m2 0h2m7 0h1m4 0h1m2 0h1m5 0h1m7 0h1m3 0h2m12 0h1m5 0h1m2 0h1m7 0h1m2 0h1m3 0h1m25 0h1m6 0h1m5 0h1m10 0h1m4 0h1m2 0h1M0 2330.4m5 0h1m5 0h1m3 0h1m15 0h1m3 0h1m12 0h1m5 0h1m2 0h1m10 0h1m14 0h1m41 0h1m24 0h1m15 0h1M0 2354.17m23 0h1m7 0h1m8 0h1m4 0h1m34 0h1m2 0h1m1 0h1m5 0h1m10 0h1m3 0h1m5 0h1m11 0h1m32 0h1m23 0h1M0 2377.93h1m6 0h1m66 0h1m41 0h1m3 0h1m2 0h1m16 0h1m22 0h1m1 0h1m11 0h1M0 2401.69m4 0h2m24 0h1m9 0h1m5 0h1m4 0h1m11 0h1m19 0h1m3 0h1m8 0h1m4 0h1m14 0h1m3 0h1m36 0h1m1 0h1m8 0h1m11 0h2M0 2425.45m1 0h1m3 0h1m37 0h1m8 0h1m4 0h2m6 0h1m15 0h1m8 0h1m1 0h1m3 0h1m40 0h2m10 0h1m2 0h1m9 0h1m7 0h1m5 0h1m4 0h1M0 2449.21h1m10 0h1m8 0h1m3 0h1m4 0h1m17 0h1m19 0h1m27 0h1m2 0h1m1 0h1m8 0h1m1 0h1m14 0h2m14 0h1m10 0h2m7 0h1m5 0h1m11 0h1M0 2472.98m5 0h1m16 0h1m4 0h1m8 0h1m3 0h1m55 0h1m26 0h1m4 0h1m7 0h1m12 0h1m4 0h1m17 0h1m7 0h1M0 2520.5m9 0h1m2 0h1m12 0h1m10 0h1m19 0h2m4 0h1m16 0h1m1 0h1m1 0h1m16 0h1m9 0h1m1 0h1m13 0h1m3 0h2m1 0h1m7 0h1m4 0h1m8 0h1m4 0h2m3 0h1m2 0h1m6 0h1m4 0h1M0 2544.26m1 0h1m17 0h1m2 0h1m1 0h1m30 0h1m43 0h1m15 0h1m25 0h1m3 0h1m5 0h1m2 0h1m6 0h1m9 0h1m2 0h1m1 0h2M0 2568.03m4 0h1m7 0h1m8 0h1m1 0h1m15 0h2m6 0h1m1 0h1m6 0h1m4 0h1m9 0h1m17 0h1m14 0h1m7 0h1m28 0h1m3 0h1m4 0h1m10 0h1m9 0h2m5 0h1m2 0h1M0 2591.79m24 0h1m8 0h1m8 0h1m13 0h3m3 0h1m7 0h1m15 0h1m8 0h1m1 0h1m10 0h2m8 0h1m3 0h1m1 0h1m6 0h1m15 0h1m8 0h1m5 0h1m4 0h1m3 0h1m5 0h2m2 0h1M0 2615.55m4 0h1m7 0h1m2 0h2m3 0h1m27 0h1m14 0h1m2 0h1m10 0h1m17 0h1m4 0h1m25 0h1m5 0h1m2 0h1m1 0h1m31 0h3m2 0h1M0 2639.31m8 0h1m2 0h2m2 0h1m7 0h2m22 0h1m9 0h1m10 0h1m2 0h1m8 0h2m8 0h2m5 0h1m7 0h1m5 0h1m13 0h1m9 0h1m3 0h1m1 0h1m1 0h1m1 0h1m9 0h1m7 0h1m1 0h1m1 0h1m5 0h1m1 0h1M0 2663.07m1 0h2m1 0h1m21 0h1m1 0h1m5 0h1m9 0h1m17 0h1m39 0h2m23 0h1m7 0h1m17 0h1m21 0h1M0 2686.84m6 0h1m6 0h1m13 0h1m32 0h1m1 0h1m2 0h1m13 0h2m26 0h1m8 0h1m6 0h1m12 0h1m20 0h1m7 0h1m1 0h3m2 0h1M0 2710.6m17 0h1m5 0h1m1 0h3m4 0h1m1 0h1m7 0h1m3 0h2m7 0h1m17 0h1m7 0h1m29 0h1m3 0h1m3 0h1m1 0h1m6 0h1m3 0h1m6 0h1m6 0h1m8 0h1m21 0h1M0 2734.36m38 0h1m11 0h1m11 0h1m4 0h1m19 0h3m1 0h1m8 0h1m6 0h1m31 0h1m30 0h1m10 0h1M0 2758.12m19 0h1m7 0h1m11 0h1m9 0h1m9 0h1m6 0h1m13 0h1m39 0h1m10 0h1m2 0h1m23 0h1m6 0h1m6 0h1m2 0h1M0 2781.88m2 0h1m9 0h1m6 0h1m33 0h1m6 0h1m7 0h1m6 0h1m14 0h1m42 0h1m6 0h1m2 0h1m5 0h1m7 0h1m19 0h1M0 2805.64m33 0h1m11 0h1m6 0h1m18 0h1m8 0h1m4 0h2m5 0h1m3 0h2m2 0h1m3 0h2m9 0h1m4 0h1m1 0h1m5 0h1m5 0h1m4 0h1m8 0h1m7 0h2m13 0h1M0 2829.41m25 0h1m14 0h1m14 0h1m23 0h1m20 0h1m37 0h1m5 0h1m22 0h1"/>
<path transform="translate(340.4 0) scale(1.57978 1)" stroke="#ffbfbf" stroke-width="23.81" fill="none" d="M0 400.88m5 0h1m1 0h1m7 0h1m4 0h1m51 0h1m35 0h1m2 0h2m7 0h1m5 0h1m18 0h1m1 0h1m1 0h1m2 0h1m5 0h1m12 0h1m9 0h1M0 424.64m87 0h1m5 0h1m1 0h1m33 0h1m2 0h1m34 0h1m1 0h1m4 0h1M0 448.4m1 0h1m1 0h1m3 0h1m39 0h1m1 0h1m12 0h1m2 0h1m10 0h1m9 0h1m1 0h1m5 0h1m9 0h1m29 0h1m13 0h1m7 0h1m16 0h1m6 0h1M0 472.17m1 0h2m3 0h1m14 0h1m38 0h1m10 0h1m12 0h1m4 0h1m16 0h1m1 0h1m29 0h1m5 0h1m3 0h1m5 0h1m10 0h1m4 0h1m8 0h1m1 0h1M0 495.93m10 0h1m3 0h1m3 0h1m13 0h1m21 0h1m4 0h1m13 0h2m12 0h1m5 0h1m36 0h2m5 0h1m5 0h1m4 0h1m7 0h1m12 0h2m1 0h1M0 519.69m10 0h1m16 0h1m4 0h1m5 0h1m33 0h1m14 0h1m22 0h1m7 0h1m4 0h1m11 0h1m3 0h1m27 0h1m7 0h3m1 0h1M0 543.45m17 0h1m6 0h1m5 0h1m5 0h1m3 0h1m14 0h1m3 0h1m11 0h1m4 0h1m8 0h1m10 0h1m6 0h1m24 0h1m39 0h2m5 0h1m4 0h1M0 567.22m42 0h1M0 590.98m42 0h1m7 0h1m10 0h1m15 0h1m19 0h1m22 0h2m7 0h1m4 0h1m44 0h1m1 0h1M0 614.74m3 0h1m5 0h2m2 0h1m2 0h1m1 0h1m18 0h1m3 0h1m21 0h1m7 0h1m2 0h1m10 0h1m5 0h1m3 0h1m4 0h1m2 0h2m9 0h1m10 0h1m1 0h1m3 0h1m4 0h2m34 0h1m8 0h1M0 638.5m15 0h1m9 0h1m20 0h1m6 0h1m47 0h1m29 0h1m8 0h1m2 0h1m1 0h2m27 0h1M0 662.26m23 0h1m17 0h1m1 0h1m35 0h1m4 0h1m9 0h1m1 0h1m19 0h1m33 0h1m7 0h1m21 0h1M0 686.02m5 0h1m13 0h1m28 0h1m7 0h1m13 0h2m7 0h1m16 0h1m7 0h1m5 0h1m3 0h1m17 0h1m3 0h1m5 0h1m10 0h1m27 0h2M0 709.79h1m11 0h1m31 0h2m16 0h1m7 0h1m2 0h1m4 0h1m12 0h1m5 0h1m5 0h1m4 0h1m3 0h1m2 0h1m8 0h1m7 0h1m13 0h1M0 733.55m28 0h1m14 0h1m6 0h2m10 0h1m9 0h1m25 0h1m2 0h1m7 0h1m1 0h1M0 757.31m7 0h1m3 0h1m2 0h1m6 0h1m44 0h1m9 0h1m78 0h1m5 0h1m2 0h1m4 0h1M0 781.07m22 0h1m2 0h1m17 0h1m34 0h1m16 0h1m2 0h1m27 0h1m3 0h2m19 0h1m16 0h3m2 0h1m4 0h1M0 804.83m18 0h1m5 0h1m8 0h1m49 0h1m12 0h1m4 0h1m60 0h1m9 0h1m3 0h1m5 0h1M0 828.6m3 0h1m5 0h1m28 0h1m12 0h1m7 0h1m7 0h1m35 0h1m36 0h1m4 0h1m3 0h1m6 0h1m6 0h1m1 0h2m2 0h1m2 0h1m4 0h1m1 0h1M0 852.36m2 0h1m1 0h1m38 0h1m32 0h1m88 0h1M0 876.12m2 0h1m2 0h1m33 0h1m18 0h1m4 0h1m2 0h1m17 0h1m11 0h1m6 0h2m1 0h1m11 0h1m7 0h1m8 0h1m6 0h1m26 0h3m9 0h2M0 899.88m3 0h1m2 0h2m16 0h1m3 0h1m7 0h1m18 0h1m31 0h1m22 0h1m3 0h1m4 0h1m40 0h1m20 0h1M0 923.64m28 0h1m1 0h1m8 0h1m21 0h1m7 0h1m10 0h1m4 0h1m3 0h2m9 0h1m5 0h1m7 0h1m8 0h1m1 0h1m24 0h1m31 0h1M0 947.41m2 0h1m8 0h1m14 0h1m10 0h1m10 0h1m4 0h1m30 0h1m17 0h1m1 0h1m7 0h1m5 0h2m31 0h1m3 0h1m5 0h1m5 0h1m2 0h1M0 971.17m22 0h1m16 0h1m8 0h1m10 0h2m14 0h1m3 0h1m13 0h1m2 0h1m10 0h1m12 0h1m29 0h3m2 0h1m4 0h1m1 0h2m2 0h1m5 0h2m2 0h2M0 994.93m8 0h1m11 0h2m8 0h1m25 0h1m30 0h1m21 0h1m3 0h1m5 0h1m8 0h1m11 0h1m12 0h1m4 0h2m1 0h1m5 0h1M0 1018.69h2m19 0h1m1 0h1m29 0h1m17 0h2m2 0h1m5 0h1m7 0h2m9 0h1m1 0h1m2 0h2m2 0h1m3 0h1m12 0h1m15 0h1m2 0h1m4 0h2m5 0h1m5 0h2m1 0h1m10 0h1M0 1042.46m4 0h2m5 0h1m3 0h1m1 0h1m11 0h1m8 0h1m2 0h1m4 0h1m5 0h1m1 0h1m4 0h1m2 0h1m9 0h1m4 0h1m12 0h1m1 0h1m26 0h1m13 0h1m8 0h1m19 0h1m15 0h2M0 1066.22m8 0h2m19 0h1m4 0h1m23 0h1m56 0h1m5 0h1m18 0h1m10 0h1m15 0h1m6 0h1M0 1089.98m2 0h1m12 0h1m1 0h1m23 0h1m32 0h1m2 0h1m10 0h1m1 0h1m15 0h1m4 0h1m3 0h1m3 0h1m1 0h1m25 0h1m3 0h1m6 0h1m4 0h1m6 0h1m2 0h2M0 1113.74h1m9 0h1m4 0h1m4 0h1m11 0h1m3 0h1m17 0h1m8 0h1m3 0h1m2 0h1m18 0h1m2 0h1m16 0h3m20 0h2m4 0h1m14 0h1m3 0h1m11 0h1m1 0h1m3 0h1m2 0h1m2 0h1M0 1137.5m6 0h1m5 0h1m6 0h1m21 0h1m2 0h2m1 0h1m11 0h2m7 0h1m3 0h1m14 0h1m12 0h1m3 0h1m6 0h1m5 0h1m2 0h1m3 0h1m6 0h1m3 0h1m26 0h1m17 0h1M0 1161.27m6 0h1m3 0h2m10 0h1m28 0h1m1 0h2m9 0h1m5 0h1m30 0h1m2 0h1m5 0h1m13 0h1m10 0h1m10 0h1m27 0h1M0 1185.03m11 0h1m156 0h1M0 1208.79m58 0h1M0 1232.55m1 0h1m34 0h1m63 0h1m6 0h1m18 0h1m5 0h1m3 0h1m10 0h1M0 1265.98m1 0h1m16 0h1m11 0h1m8 0h1m10 0h1m10 0h1m16 0h1m14 0h1m5 0h1m4 0h1m36 0h1m16 0h1m13 0h1m1 0h2m2 0h1M0 1289.74m7 0h1m12 0h1m6 0h1m2 0h1m42 0h1m5 0h1m35 0h1m3 0h1m3 0h1m3 0h1m3 0h1m7 0h1m15 0h1m18 0h1M0 1313.5m3 0h1m68 0h1m26 0h1m45 0h1m24 0h1M0 1337.27m8 0h1m1 0h1m53 0h1m19 0h1m45 0h1m12 0h1m1 0h1m30 0h1m3 0h1M0 1361.03m28 0h1m29 0h1m11 0h1m15 0h1m15 0h1m2 0h1m4 0h1m18 0h2m3 0h1m1 0h2m6 0h1m1 0h1m3 0h1m4 0h1m17 0h1m2 0h1M0 1384.79m23 0h1m23 0h1m2 0h1m3 0h1m12 0h1m11 0h1m19 0h1m9 0h1m8 0h2m8 0h1m7 0h1m16 0h1m5 0h1m1 0h2m10 0h1m3 0h2m1 0h1M0 1408.55m9 0h1m48 0h1m9 0h1m25 0h1m12 0h1m16 0h1m15 0h1m15 0h1m25 0h1M0 1432.32m3 0h1m10 0h1m8 0h1m2 0h1m56 0h1m24 0h1m1 0h1m4 0h3m2 0h1m25 0h2m22 0h1m9 0h1M0 1456.08m15 0h1m29 0h1m1 0h1m14 0h1m8 0h1m13 0h1m11 0h1m13 0h1m7 0h3m25 0h1m3 0h1m8 0h1M0 1479.84m23 0h1m4 0h1m1 0h1m1 0h1m3 0h1m35 0h1m5 0h1m7 0h1m5 0h1m7 0h1m9 0h1m2 0h1m5 0h1m11 0h1m12 0h1m4 0h1m4 0h1m18 0h2M0 1503.6m7 0h1m5 0h1m35 0h1m9 0h1m20 0h1m3 0h1m17 0h1m11 0h1m13 0h2M0 1527.36m9 0h1m21 0h1m12 0h1m19 0h1m26 0h1m17 0h1M0 1551.12m4 0h2m2 0h1m8 0h1m7 0h1m13 0h1m10 0h1m12 0h1m68 0h2m16 0h1M0 1574.89m4 0h1m7 0h1m12 0h1m14 0h1m19 0h1m10 0h2m58 0h1m1 0h1m8 0h1m18 0h1m1 0h1m1 0h1m3 0h1M0 1598.65m12 0h1m4 0h1m36 0h1m3 0h1m7 0h1m25 0h1m15 0h1m9 0h1m28 0h1m5 0h1m11 0h1m5 0h1m7 0h1M0 1622.41m18 0h1m3 0h1m2 0h1m3 0h1m10 0h1m1 0h2m42 0h1m20 0h1m14 0h1m1 0h1m4 0h1m28 0h1m6 0h1m1 0h2M0 1646.17m10 0h1m25 0h1m89 0h1M0 1669.93m4 0h1m16 0h1m17 0h1m19 0h1m10 0h1m17 0h1m8 0h1m38 0h1m1 0h1m41 0h1M0 1693.7m13 0h1m37 0h2m2 0h1m10 0h1m18 0h1m1 0h1m31 0h1m7 0h1m5 0h1m2 0h1m2 0h1m6 0h1m14 0h1m4 0h1m5 0h1M0 1717.46h1m28 0h1m2 0h1m3 0h1m22 0h1m5 0h1m13 0h1m26 0h1m15 0h1m12 0h1m3 0h1M0 1741.22m4 0h1m27 0h1m12 0h1m1 0h1m21 0h1m43 0h1m1 0h1m12 0h1m7 0h2m30 0h1m1 0h1m2 0h1M0 1764.98m15 0h1m40 0h1m3 0h1m14 0h1m1 0h1m1 0h1m11 0h1m2 0h1m11 0h1m4 0h1m7 0h1m3 0h1m1 0h1m3 0h1m5 0h1m10 0h1m25 0h1M0 1788.75m6 0h1m24 0h1m1 0h1m15 0h1m4 0h1m11 0h1m2 0h1m66 0h1m11 0h1m2 0h1m13 0h1m4 0h1m2 0h1M0 1812.51m25 0h1m7 0h1m1 0h1m6 0h2m8 0h1m21 0h2m12 0h1m20 0h1m4 0h1m9 0h1m24 0h1m6 0h1m23 0h1M0 1836.27m39 0h1m16 0h1m30 0h1m24 0h1m10 0h1m15 0h1m6 0h1m15 0h1M0 1860.03m6 0h1m1 0h2m27 0h1m13 0h1m30 0h1m3 0h1m24 0h1m2 0h1m1 0h1m62 0h1M0 1883.79m26 0h1m2 0h1m6 0h2m12 0h1m2 0h1m63 0h1m24 0h1m2 0h1m1 0h1m13 0h1m1 0h1m1 0h1m1 0h1M0 1907.56m19 0h1m22 0h1m28 0h2m19 0h1m15 0h1m14 0h1m16 0h1m6 0h1m18 0h1m14 0h1M0 1931.32m1 0h1m2 0h1m10 0h2m23 0h1m4 0h1m9 0h1m16 0h1m11 0h1m42 0h1m8 0h1m12 0h1m15 0h1m15 0h1M0 1955.08m1 0h1m8 0h1m8 0h1m1 0h1m2 0h1m4 0h1m1 0h1m23 0h1m22 0h1m5 0h1m4 0h1m12 0h1m13 0h1m41 0h1m17 0h1M0 1978.84m6 0h1m33 0h1m34 0h1m2 0h1m31 0h1m1 0h1m4 0h1m13 0h1M0 2002.6m86 0h2m21 0h1m22 0h1m14 0h1m10 0h1M0 2026.37h1m11 0h2m5 0h1m2 0h1m19 0h1m6 0h1m7 0h1m18 0h1m15 0h1m2 0h1m36 0h1m7 0h1m8 0h2m14 0h1m1 0h2m10 0h1M0 2050.13m16 0h1m99 0h1m25 0h1M0 2083.18m66 0h1m12 0h1m1 0h1m34 0h1M0 2106.94m115 0h1m17 0h1m23 0h1M0 2130.7m164 0h1M0 2154.47m5 0h1m1 0h1m12 0h1m10 0h1m22 0h1m46 0h2m13 0h1m11 0h1m10 0h1m6 0h2m11 0h1m1 0h1m2 0h3m1 0h1m8 0h1m3 0h1M0 2178.23m5 0h1m18 0h1m38 0h1m31 0h1m12 0h1m7 0h1m7 0h1m5 0h1m4 0h1m36 0h1M0 2201.99m2 0h1m22 0h1m27 0h3m12 0h2m17 0h1m5 0h1m2 0h1m7 0h1m17 0h1m4 0h1m10 0h1m1 0h1m9 0h1m20 0h1m3 0h1m1 0h1M0 2225.75m38 0h1m30 0h1m7 0h1m1 0h1m12 0h1m56 0h1m12 0h1M0 2249.51m9 0h1m2 0h2m16 0h1m25 0h1m11 0h1m7 0h1m31 0h1m3 0h1m17 0h1m12 0h1m7 0h1m18 0h1m5 0h1m2 0h1M0 2282.88m30 0h1M0 2306.64m12 0h1m6 0h1m16 0h1m12 0h1m4 0h1m6 0h1m3 0h1m8 0h1m8 0h1m2 0h1m11 0h1m26 0h1m3 0h1m20 0h1m6 0h1m1 0h1m20 0h1M0 2330.4m14 0h1m7 0h2m21 0h1m21 0h1m7 0h1m36 0h1m58 0h1M0 2354.17m9 0h1m1 0h1m13 0h1m11 0h1m27 0h1m9 0h1m13 0h1m18 0h1m16 0h1m7 0h1m1 0h1m4 0h2m2 0h1m8 0h1m7 0h1M0 2377.93m17 0h1m6 0h1m1 0h1m3 0h1m6 0h1m5 0h2m1 0h1m9 0h1m56 0h1m7 0h1m56 0h1M0 2401.69m23 0h1m4 0h1m8 0h1m31 0h1m33 0h1m20 0h2m1 0h1m3 0h1m4 0h1m3 0h1m21 0h2m14 0h1M0 2425.45m40 0h2m22 0h1m13 0h1m27 0h1m24 0h1m1 0h1m29 0h1m11 0h1m3 0h1M0 2449.21m33 0h1m2 0h1m26 0h1m2 0h1m2 0h1m31 0h1m29 0h1m6 0h1m4 0h1m4 0h1m22 0h1M0 2472.98m13 0h1m4 0h1m7 0h1m24 0h1m38 0h1m14 0h1m3 0h1m29 0h2m20 0h1m8 0h1M0 2496.74m18 0h1m17 0h1m3 0h1m6 0h1m3 0h1m15 0h1m4 0h1m20 0h1m5 0h1m16 0h1m12 0h1m12 0h1m10 0h1m1 0h2m6 0h1m11 0h1M0 2520.5m13 0h1m2 0h1m16 0h1m10 0h1m16 0h1m20 0h1m13 0h2m6 0h2m14 0h1m24 0h1m28 0h1m3 0h1m2 0h1M0 2544.26m39 0h1m4 0h1m3 0h1m2 0h1m15 0h1m5 0h1m2 0h1m1 0h1m10 0h1m14 0h2m2 0h1m4 0h1m17 0h1m3 0h1m7 0h1m3 0h1m1 0h1m3 0h1m1 0h1m3 0h1m12 0h1M0 2568.03m13 0h1m31 0h1m77 0h1m4 0h1m8 0h1m1 0h1m9 0h1m7 0h1m4 0h1m2 0h4m8 0h1m4 0h1M0 2591.79m5 0h1m7 0h1m6 0h1m13 0h1m1 0h1m6 0h1m47 0h1m19 0h1m15 0h1m4 0h1m2 0h1m3 0h1m4 0h1m1 0h1m17 0h1M0 2615.55m8 0h1m4 0h1m7 0h1m1 0h1m19 0h1m2 0h1m21 0h1m3 0h1m5 0h1m2 0h1m5 0h1m6 0h1m4 0h1m4 0h2m13 0h1m3 0h1m14 0h1m3 0h1m12 0h2m2 0h1M0 2639.31m2 0h1m10 0h2m17 0h1m3 0h1m5 0h1m13 0h1m16 0h1m19 0h1m2 0h1m12 0h1m8 0h1m12 0h1m6 0h1m3 0h1m8 0h1m2 0h1m2 0h1m10 0h1m10 0h1M0 2663.07m10 0h1m35 0h1m60 0h1m1 0h1m11 0h1m15 0h1m3 0h1m26 0h1M0 2686.84m5 0h1m8 0h1m39 0h1m23 0h1m8 0h1m2 0h1m18 0h1m18 0h1m6 0h1m1 0h2m2 0h1m2 0h1m8 0h1m8 0h1m13 0h1m4 0h1M0 2710.6m15 0h1m6 0h1m17 0h2m3 0h1m19 0h1m4 0h1m5 0h1m9 0h1m13 0h1m3 0h2m3 0h1m31 0h1m8 0h2m8 0h1m18 0h1M0 2734.36m4 0h1m29 0h1m5 0h1m15 0h2m6 0h1m14 0h1m3 0h1m14 0h1m16 0h1m39 0h1m21 0h1M0 2758.12h1m5 0h1m9 0h1m14 0h1m4 0h1m10 0h1m2 0h1m1 0h1m17 0h1m10 0h1m3 0h1m18 0h1m1 0h2m2 0h1m14 0h2m46 0h1M0 2781.88m1 0h1m2 0h1m12 0h1m8 0h1m2 0h2m18 0h1m7 0h1m46 0h1m5 0h1m41 0h1m19 0h1m2 0h1M0 2805.64m12 0h1m25 0h1m1 0h1m15 0h1m3 0h1m6 0h1m40 0h1m18 0h1m8 0h1m7 0h2m6 0h1m1 0h1m18 0h1M0 2829.41m8 0h1m25 0h1m8 0h2m13 0h1m8 0h1m15 0h1m21 0h1m6 0h1m15 0h1m18 0h1m11 0h1"/>
<path transform="translate(340.4 0) scale(1.57978 1)" stroke="#ff9f9f" stroke-width="23.81" fill="none" d="M0 400.88m2 0h1m21 0h1m14 0h1m7 0h1m3 0h1m7 0h1m21 0h1m1 0h1m4 0h1m11 0h1m5 0h2m6 0h1m8 0h1m7 0h1m10 0h1m1 0h1m30 0h1m2 0h2M0 424.64m10 0h1m12 0h1m102 0h1m19 0h1m6 0h1m10 0h1m3 0h1m4 0h1m5 0h1M0 448.4m6 0h1m1 0h1m7 0h1m12 0h1m33 0h2m25 0h1m10 0h1m8 0h1m2 0h1m28 0h1m6 0h1m4 0h2m9 0h1m5 0h1M0 472.17m12 0h1m21 0h1m4 0h1m2 0h2m9 0h1m5 0h1m19 0h1m22 0h1m24 0h1M0 495.93m3 0h1m1 0h1m37 0h1m4 0h1m8 0h1m4 0h1m2 0h1m47 0h1m35 0h1m2 0h1m26 0h1M0 519.69m14 0h2m13 0h1m40 0h1m7 0h2m3 0h1m25 0h1m2 0h1m11 0h1m11 0h1m3 0h1m24 0h2m2 0h2m10 0h1M0 543.45m8 0h1m11 0h1m4 0h1m21 0h1m10 0h1m21 0h1m1 0h1m6 0h1m19 0h1m46 0h1m4 0h1m3 0h1M0 567.22m177 0h1M0 590.98m6 0h1m66 0h1m11 0h1m54 0h1m13 0h1m11 0h1m2 0h1m5 0h1M0 614.74m12 0h1m27 0h1m12 0h1m1 0h1m38 0h1m2 0h1m28 0h1m27 0h1m15 0h1M0 638.5m20 0h1m19 0h1m6 0h1m7 0h1m9 0h1m1 0h1m20 0h1m3 0h1m21 0h1m6 0h1m5 0h1m10 0h1M0 662.26m9 0h1m2 0h1m18 0h1m1 0h1m17 0h1m28 0h1m12 0h1m13 0h1m2 0h1m7 0h1m6 0h1m1 0h1m26 0h1m7 0h1M0 686.02m24 0h1m2 0h1m5 0h2m48 0h1m17 0h1m4 0h1m8 0h1m41 0h1m10 0h1m4 0h1m4 0h1M0 709.79m17 0h1m18 0h1m2 0h2m27 0h2m50 0h1m8 0h1m17 0h1m7 0h1m21 0h1m3 0h1M0 733.55m4 0h1m39 0h1m2 0h1m18 0h1m27 0h1m7 0h1m29 0h1m3 0h1m27 0h1m1 0h1m11 0h1M0 757.31m1 0h1m6 0h1m14 0h1m5 0h1m12 0h2m24 0h1m21 0h1m15 0h1m1 0h1m17 0h2m11 0h1m11 0h1m4 0h3m6 0h1m14 0h2M0 781.07m27 0h1m14 0h1m1 0h2m2 0h1m40 0h1m16 0h1m11 0h1m16 0h1m8 0h1m3 0h1m7 0h1m3 0h1m14 0h1m3 0h1m2 0h1M0 804.83m85 0h1m45 0h1m10 0h1m1 0h1m7 0h1m7 0h1m2 0h1M0 828.6m22 0h1m21 0h1m5 0h1m43 0h1m55 0h1m16 0h1m2 0h1M0 852.36m26 0h1m11 0h1m74 0h1m13 0h1m6 0h1M0 876.12m7 0h1m8 0h1m38 0h1m6 0h1m4 0h1m14 0h1m31 0h1m13 0h1m2 0h2m5 0h1m10 0h1m2 0h2m2 0h1m9 0h1m11 0h1M0 899.88h1m67 0h1m16 0h1m16 0h1m9 0h1m14 0h1m6 0h1m5 0h1m13 0h1m6 0h1m4 0h1m2 0h1M0 923.64m25 0h1m29 0h1m20 0h1m7 0h1m8 0h1m13 0h1m10 0h1m34 0h1M0 947.41m20 0h1m18 0h1m27 0h1m1 0h1m13 0h1m14 0h1m2 0h1m4 0h1m14 0h1m9 0h2m14 0h1m9 0h1M0 971.17m49 0h1m16 0h1m4 0h1m4 0h2m8 0h1m38 0h1m6 0h1m13 0h1m11 0h1M0 994.93m1 0h2m8 0h1m10 0h1m1 0h1m27 0h1m18 0h1m20 0h1m8 0h1m6 0h1m2 0h1m23 0h2m28 0h1m14 0h1M0 1018.69m7 0h1m3 0h3m4 0h2m10 0h1m12 0h1m1 0h1m5 0h1m11 0h1m2 0h1m6 0h1m50 0h1m4 0h1m6 0h1m1 0h1m2 0h1m1 0h1m17 0h1m3 0h1m4 0h1m8 0h1M0 1042.46m1 0h1m4 0h1m41 0h1m15 0h1m3 0h1m10 0h1m5 0h1m19 0h1m4 0h1m7 0h1m38 0h1m18 0h1m4 0h1M0 1066.22m3 0h1m6 0h1m35 0h1m50 0h1m21 0h1m10 0h1m25 0h1m3 0h1m7 0h1m12 0h1M0 1089.98m56 0h1m13 0h1m4 0h2m17 0h1m19 0h1m21 0h1m6 0h1m2 0h1m5 0h1m2 0h1m20 0h2M0 1113.74m7 0h1m3 0h1m2 0h1m10 0h1m4 0h1m38 0h1m1 0h1m6 0h1m28 0h1m16 0h1m3 0h1m1 0h1m3 0h3M0 1137.5m4 0h1m22 0h1m9 0h2m12 0h1m3 0h1m13 0h1m1 0h1m11 0h1m2 0h1m2 0h1m28 0h2m39 0h1m5 0h1m3 0h1m11 0h1M0 1161.27m20 0h1m5 0h1m32 0h1m1 0h1m29 0h1m2 0h1m2 0h1m5 0h1m25 0h1m37 0h1m4 0h1m2 0h1m5 0h1M0 1185.03m58 0h1m5 0h1m46 0h1m1 0h1m38 0h1M0 1208.79m9 0h1m25 0h1M0 1232.55m18 0h1m6 0h1m13 0h3m2 0h1m3 0h1m28 0h1m13 0h1m14 0h1m6 0h1m9 0h1m44 0h1M0 1265.98m5 0h1m1 0h1m15 0h1m3 0h1m1 0h1m42 0h1m56 0h1m13 0h1m23 0h1m11 0h2M0 1289.74m3 0h1m5 0h1m6 0h1m11 0h1m4 0h1m14 0h2m4 0h1m8 0h1m3 0h1m1 0h1m13 0h1m8 0h1m7 0h1m5 0h1m10 0h1m31 0h1m7 0h1m3 0h1m17 0h1M0 1313.5m23 0h1m3 0h1m8 0h1m5 0h1m18 0h1m9 0h1m14 0h1m3 0h1m1 0h1m1 0h1m25 0h1m5 0h2m3 0h1m4 0h1m19 0h1m1 0h1m4 0h1m2 0h1m8 0h1m6 0h1M0 1337.27m16 0h1m11 0h1m22 0h1m8 0h1m51 0h1m21 0h1m4 0h1m39 0h1M0 1361.03m14 0h1m9 0h1m13 0h1m73 0h1m39 0h1m19 0h1m2 0h1m1 0h1M0 1384.79m66 0h1m5 0h1m13 0h1m36 0h1m1 0h1m3 0h2m1 0h1m1 0h1m5 0h1m15 0h1m12 0h1m1 0h1m7 0h1M0 1408.55h1m13 0h1m16 0h1m6 0h1m2 0h1m18 0h1m2 0h1m5 0h1m55 0h2m46 0h1M0 1432.32m33 0h1m14 0h2m6 0h1m32 0h1m8 0h1m31 0h1m14 0h1m2 0h1m9 0h1m10 0h1m6 0h1M0 1456.08m83 0h1m11 0h1m14 0h1m17 0h1m4 0h1m9 0h1m35 0h2M0 1479.84m43 0h2m1 0h1m19 0h1m1 0h1m12 0h1m25 0h1m17 0h1m26 0h1m16 0h2m8 0h1M0 1503.6m9 0h1m1 0h1m4 0h1m23 0h2m11 0h1m55 0h1M0 1527.36m3 0h1m20 0h1m24 0h1m4 0h1m11 0h1m29 0h1m7 0h1m60 0h1M0 1551.12m29 0h1m10 0h1m12 0h1m10 0h1m1 0h1m13 0h1m11 0h1m4 0h1m31 0h1M0 1574.89m2 0h1m2 0h1m2 0h1m1 0h1m4 0h1m5 0h1m16 0h1m5 0h1m23 0h1m45 0h1m23 0h1m10 0h1m6 0h3m7 0h1m6 0h1m3 0h1M0 1598.65m20 0h1m7 0h1m10 0h1m16 0h1m74 0h1m13 0h1m35 0h1M0 1622.41m19 0h1m25 0h1m28 0h1m20 0h1m23 0h1m31 0h1m4 0h1m13 0h2M0 1646.17m109 0h1m14 0h1M0 1669.93m15 0h1m6 0h1m3 0h2m19 0h1m23 0h1m13 0h1m8 0h1m46 0h1m1 0h1m26 0h1M0 1693.7m10 0h1m7 0h2m63 0h1m14 0h1m8 0h1m41 0h1m2 0h1m7 0h1M0 1717.46m20 0h1m34 0h2m28 0h1m47 0h1m32 0h1M0 1741.22m31 0h1m7 0h1m84 0h1m33 0h1m7 0h1M0 1764.98m9 0h2m15 0h1m1 0h1m16 0h1m7 0h1m9 0h1m3 0h1m4 0h1m28 0h1m14 0h1m22 0h1m8 0h1m2 0h1m3 0h1m15 0h1m8 0h1M0 1788.75m36 0h1m31 0h1m9 0h1m12 0h1m3 0h1m56 0h1m10 0h1m12 0h1m2 0h1M0 1812.51m15 0h1m4 0h1m6 0h2m16 0h1m45 0h2m18 0h1m5 0h1m20 0h1m4 0h1m11 0h1m17 0h1M0 1836.27m14 0h1m4 0h1m2 0h1m1 0h1m3 0h1m4 0h1m43 0h1m30 0h1m13 0h1m20 0h1m7 0h1m1 0h1m11 0h1m3 0h1m10 0h1m1 0h1M0 1860.03m21 0h1m2 0h1m15 0h1m29 0h1m51 0h1M0 1883.79m41 0h1m16 0h1m10 0h1m10 0h1m26 0h1m10 0h1m7 0h1m7 0h1m1 0h1m14 0h1m16 0h1m12 0h1M0 1907.56m2 0h1m60 0h1m18 0h1m82 0h1m9 0h1M0 1931.32m8 0h1m41 0h1m3 0h1m14 0h1m11 0h1m30 0h1m22 0h1m5 0h1m2 0h1m3 0h1m7 0h1m2 0h2m11 0h1m6 0h1m2 0h1M0 1955.08m5 0h2m21 0h1m16 0h1m7 0h2m3 0h1m6 0h1m35 0h1m6 0h1m26 0h1m7 0h1m12 0h1M0 1978.84h1m4 0h1m23 0h1m7 0h1m39 0h1m5 0h1m11 0h1m47 0h1m1 0h1m25 0h1m5 0h1M0 2002.6m23 0h1m7 0h1m53 0h1m68 0h1m5 0h1M0 2026.37m30 0h1m6 0h2m1 0h1m2 0h1m3 0h1m15 0h1m11 0h1m7 0h1m12 0h1m1 0h1m13 0h2m1 0h1m32 0h1m4 0h2m17 0h1m3 0h1M0 2050.13m106 0h1m51 0h1M0 2083.18m21 0h1m77 0h1M0 2106.94m132 0h1m11 0h1M0 2154.47m78 0h1m5 0h1m13 0h1m5 0h2m11 0h1m4 0h1m17 0h1m33 0h1M0 2178.23m21 0h1m37 0h1m34 0h1m41 0h1m14 0h1m9 0h1m9 0h1m9 0h1M0 2201.99m30 0h1m8 0h1m44 0h1m18 0h1m2 0h1m1 0h1m26 0h1m13 0h1m4 0h1m17 0h1M0 2225.75m5 0h1m1 0h1m25 0h1m6 0h1m14 0h1m86 0h1M0 2249.51m1 0h1m9 0h1m46 0h1m5 0h1m7 0h2m24 0h1m23 0h2m9 0h1m22 0h1m4 0h1m7 0h1M0 2282.88m5 0h1m17 0h1m59 0h1m57 0h1m2 0h1M0 2306.64m10 0h1m4 0h1m12 0h2m26 0h1m2 0h1m25 0h1m14 0h1m5 0h1m32 0h1m4 0h1m16 0h1m11 0h1m7 0h1M0 2330.4m47 0h1m16 0h1m54 0h1m33 0h1m9 0h1M0 2354.17m4 0h2m24 0h1m1 0h1m13 0h1m14 0h1m4 0h1m19 0h1m14 0h1m3 0h1m1 0h1m28 0h1m12 0h3m21 0h1m5 0h1M0 2377.93m21 0h1m17 0h1m91 0h1m47 0h1M0 2401.69m8 0h1m3 0h1m22 0h1m53 0h2m23 0h1m24 0h1m10 0h1m3 0h1m18 0h1M0 2425.45m27 0h1m47 0h1m71 0h1m6 0h1m11 0h1m11 0h1M0 2449.21m12 0h1m15 0h1m8 0h1m14 0h1m1 0h1m16 0h1m11 0h1m8 0h1m13 0h1m3 0h1m1 0h1m7 0h1m25 0h1m2 0h2m15 0h1m9 0h1M0 2472.98m41 0h1m27 0h2m29 0h1m16 0h1m26 0h1m2 0h1m20 0h2m7 0h1M0 2496.74m8 0h1m22 0h1m38 0h1m7 0h1m16 0h1m4 0h1m18 0h1m8 0h1m5 0h2m4 0h1m10 0h2m19 0h1m1 0h1M0 2520.5m8 0h1m12 0h1m9 0h1m18 0h1m23 0h1m9 0h1m47 0h1m14 0h1m1 0h1m14 0h1M0 2544.26m7 0h1m9 0h1m29 0h1m9 0h1m21 0h1m8 0h1m6 0h1m13 0h1m7 0h1m9 0h1m12 0h1m29 0h1M0 2568.03m9 0h1m8 0h1m13 0h1m50 0h1m29 0h1m16 0h1m12 0h1m3 0h1m3 0h1m4 0h1m17 0h1M0 2591.79m12 0h1m2 0h1m25 0h1m34 0h1m3 0h1m6 0h1m6 0h1m9 0h1m7 0h1m3 0h1m4 0h1m19 0h1m10 0h1m7 0h1m4 0h1m2 0h1m4 0h2M0 2615.55m58 0h1m8 0h1m8 0h1m6 0h2m28 0h1m27 0h1m10 0h2m3 0h1m7 0h1m2 0h1m4 0h1m6 0h1M0 2639.31m44 0h1m21 0h1m20 0h1m10 0h1m5 0h1m9 0h1m25 0h1m9 0h1m8 0h3m12 0h1m2 0h2M0 2663.07m39 0h1m10 0h1m21 0h1m59 0h1m44 0h1M0 2686.84h1m18 0h1m17 0h1m9 0h1m3 0h1m40 0h1m6 0h1m8 0h1m2 0h1m9 0h1m8 0h1m9 0h1m1 0h1m11 0h1m3 0h1m1 0h1m3 0h1m5 0h1m8 0h1M0 2710.6m5 0h1m12 0h1m58 0h1m5 0h1m1 0h1m36 0h1m11 0h3m1 0h1m28 0h1m6 0h2m5 0h1M0 2734.36m36 0h2m14 0h1m10 0h1m7 0h1m2 0h1m26 0h1m2 0h1m7 0h1m4 0h1m4 0h1m12 0h1m15 0h1m6 0h2m8 0h1m7 0h1M0 2758.12m18 0h1m48 0h1m67 0h1m1 0h1m41 0h2M0 2781.88m25 0h1m30 0h1m24 0h2m9 0h2m30 0h1M0 2805.64m7 0h1m50 0h1m11 0h1m2 0h1m8 0h1m24 0h1m13 0h1m3 0h1m23 0h1m1 0h1m18 0h1m6 0h1M0 2829.41m9 0h1m11 0h1m5 0h1m38 0h1m31 0h1m32 0h1m18 0h1m5 0h1"/>
<path transform="translate(340.4 0) scale(1.57978 1)" stroke="#ff8080" stroke-width="23.81" fill="none" d="M0 400.88m34 0h1m20 0h1m7 0h1m9 0h1m3 0h1m2 0h1m46 0h1m8 0h1m32 0h1m10 0h1M0 424.64m3 0h1m15 0h1m161 0h1M0 448.4m18 0h1m6 0h1m56 0h1m29 0h1m3 0h1m35 0h1m14 0h1M0 472.17m40 0h1m36 0h1m3 0h1m1 0h1m12 0h1m6 0h1m7 0h1m14 0h1m19 0h1m26 0h1M0 495.93m22 0h1m41 0h1m17 0h1m84 0h1m5 0h1M0 519.69m12 0h1m27 0h1m39 0h1m4 0h1m4 0h1m13 0h1m14 0h1m13 0h1m17 0h1m1 0h1M0 543.45m3 0h1m112 0h1m8 0h1m5 0h1m5 0h1m25 0h1m6 0h1m11 0h1M0 567.22m7 0h1m38 0h1m56 0h1m49 0h1m6 0h1M0 590.98m52 0h1m22 0h1m32 0h1m56 0h1M0 614.74m17 0h1m48 0h1m1 0h1m47 0h1m5 0h1m22 0h2m6 0h1m10 0h1m10 0h1m4 0h1M0 638.5m63 0h1m20 0h1m6 0h1m10 0h1M0 662.26m38 0h1m19 0h1m3 0h1m66 0h1m14 0h1m16 0h1M0 686.02m26 0h1m20 0h1m60 0h1m29 0h1m8 0h1m24 0h1M0 709.79m60 0h1m14 0h1m9 0h1m16 0h1m2 0h1m7 0h1m20 0h1m3 0h1m12 0h1m15 0h2m7 0h1M0 733.55m2 0h1m72 0h1m14 0h1M0 757.31m31 0h1m52 0h1m14 0h2m21 0h1m8 0h1m4 0h1m15 0h1m1 0h1m19 0h1M0 781.07m24 0h1m41 0h1m13 0h1m40 0h1M0 804.83m12 0h1m38 0h1m12 0h1m33 0h1m79 0h1M0 828.6m19 0h2m15 0h1m5 0h1m32 0h1m8 0h1m6 0h1m3 0h1m27 0h2m2 0h1m10 0h1m18 0h1m18 0h1M0 852.36m101 0h1m33 0h1M0 876.12m1 0h1m24 0h1m23 0h1m18 0h1m13 0h1m15 0h2m4 0h1m6 0h2m5 0h1m5 0h1m19 0h1m26 0h1m7 0h1M0 899.88m22 0h1m49 0h1m9 0h1m14 0h1m25 0h1m8 0h1m3 0h1m9 0h1m2 0h1m2 0h1m29 0h1M0 923.64m1 0h1m2 0h1m46 0h1m23 0h1m5 0h2m12 0h1m39 0h1m25 0h1m17 0h1M0 947.41m6 0h1m28 0h1m14 0h1m25 0h1m11 0h1m88 0h1M0 971.17m14 0h1m12 0h1m12 0h1m82 0h1m3 0h2m28 0h1m12 0h1m4 0h1m4 0h2M0 994.93m5 0h1m6 0h1m30 0h1m26 0h1m46 0h1m55 0h1M0 1018.69m24 0h2m9 0h2m10 0h2m5 0h1m24 0h2m15 0h2m10 0h1m3 0h1m56 0h1m11 0h2M0 1042.46m3 0h1m18 0h1m1 0h1m5 0h2m44 0h1m3 0h1m5 0h1m2 0h1m22 0h1m22 0h1m15 0h1m21 0h1m1 0h1M0 1066.22m67 0h1m44 0h1m3 0h1m15 0h1m11 0h1m26 0h1M0 1089.98m13 0h1m14 0h1m10 0h1m25 0h1m7 0h1m53 0h1m17 0h1m2 0h1m12 0h1m18 0h2M0 1113.74m8 0h1m114 0h1m46 0h1m11 0h1M0 1137.5m9 0h1m55 0h1m1 0h1m6 0h1m27 0h1m2 0h1m42 0h1m2 0h1m14 0h1m11 0h1M0 1161.27m33 0h2m50 0h1m21 0h1m36 0h1m20 0h2m2 0h1M0 1185.03m12 0h1m32 0h1M0 1208.79m26 0h1m37 0h1m9 0h1m29 0h1m21 0h1m13 0h1m2 0h1m27 0h1m2 0h1M0 1232.55m15 0h1m56 0h1m9 0h1m4 0h1m8 0h1m30 0h1m23 0h1M0 1265.98m28 0h1m2 0h1m11 0h1m20 0h1m18 0h1m53 0h1m7 0h1m31 0h1M0 1289.74m12 0h1m21 0h1m37 0h1m20 0h1m3 0h1m5 0h1m33 0h1m5 0h1m24 0h1m1 0h1m2 0h1m2 0h1m3 0h1M0 1313.5m2 0h1m15 0h1m6 0h1m20 0h1m8 0h1m31 0h1m14 0h1m19 0h2m15 0h1m12 0h1m2 0h1m15 0h1m8 0h1M0 1337.27m18 0h1m62 0h1m42 0h1m25 0h1M0 1361.03m50 0h1m14 0h2m18 0h1m34 0h1m10 0h2m24 0h1m6 0h1m17 0h1M0 1384.79m76 0h1m30 0h1M0 1408.55m52 0h1m2 0h1m1 0h1M0 1432.32m20 0h1m21 0h1m17 0h1m15 0h1m34 0h1m23 0h1m42 0h1m3 0h1M0 1456.08m3 0h1m9 0h1m21 0h1m3 0h1m18 0h1m43 0h1m21 0h1m6 0h1M0 1479.84m21 0h1m108 0h1m47 0h1M0 1503.6m8 0h1m11 0h1m10 0h1m65 0h1M0 1527.36m73 0h1m6 0h1m1 0h1m2 0h1m64 0h1M0 1551.12m13 0h1m9 0h1m7 0h1m3 0h1m19 0h1m38 0h1m11 0h1m19 0h1M0 1574.89m22 0h1m1 0h1m7 0h1m13 0h1m10 0h1m1 0h1m3 0h1m3 0h1m5 0h1m1 0h1m11 0h1m1 0h1m15 0h1m3 0h1m22 0h1m3 0h1m6 0h1m23 0h1M0 1598.65m22 0h1m93 0h1m13 0h1m26 0h1m18 0h1M0 1622.41m9 0h1m3 0h1m52 0h1m54 0h1m47 0h1m10 0h1M0 1646.17m80 0h1m24 0h1m16 0h1m11 0h1M0 1669.93m2 0h1m14 0h1m25 0h1m72 0h1m17 0h1m2 0h1M0 1693.7m11 0h1m9 0h1m48 0h1m23 0h1m1 0h1m8 0h1m4 0h1m3 0h2m28 0h1m5 0h1m7 0h1m5 0h1m12 0h1M0 1717.46m99 0h1m10 0h1m65 0h1M0 1741.22m14 0h1m1 0h1m44 0h1m91 0h1M0 1764.98m6 0h1m15 0h1m4 0h1m7 0h1m16 0h1m4 0h1m1 0h1m20 0h1m76 0h1m17 0h1M0 1788.75m7 0h1m68 0h1m2 0h1m25 0h1m27 0h1m12 0h1m10 0h1m13 0h1M0 1812.51m1 0h1m4 0h1m12 0h1m19 0h2m13 0h1m8 0h1m1 0h1m14 0h1m17 0h1m3 0h1m13 0h1m36 0h1m3 0h1m20 0h1M0 1836.27m15 0h1m13 0h1m16 0h1m59 0h1m3 0h1m3 0h1m4 0h1m7 0h1m17 0h1m1 0h1m20 0h1M0 1860.03m66 0h1m92 0h1M0 1883.79m16 0h1m7 0h1m15 0h1m20 0h1m13 0h1m9 0h1m7 0h1m18 0h1m8 0h1m24 0h1M0 1907.56m76 0h1m59 0h1m25 0h1M0 1931.32m5 0h1m15 0h1m16 0h1m17 0h2m31 0h1m5 0h1m4 0h1m16 0h1m5 0h1m2 0h1m13 0h1m23 0h1m5 0h1M0 1955.08m4 0h1m2 0h1m12 0h1m5 0h1m30 0h1m21 0h1m25 0h1m38 0h1m18 0h1M0 1978.84m26 0h1m7 0h1m13 0h1m24 0h1m17 0h1M0 2002.6m61 0h1m2 0h1m76 0h1m40 0h1M0 2026.37m44 0h1m8 0h1m2 0h1m1 0h1m9 0h1m9 0h1m10 0h1m3 0h1m8 0h1m25 0h1m14 0h2m2 0h1m7 0h1M0 2050.13m74 0h1m45 0h1m8 0h1m22 0h1M0 2083.18m168 0h1M0 2106.94m80 0h1m36 0h1m4 0h1M0 2130.7m98 0h1M0 2154.47m16 0h1m8 0h1m13 0h1m17 0h1m14 0h1m33 0h1m12 0h1m31 0h1m21 0h1M0 2178.23m1 0h1m9 0h1m61 0h1m38 0h1M0 2201.99m9 0h1m8 0h1m23 0h1m52 0h1m18 0h1m38 0h1m5 0h1m22 0h1M0 2225.75m11 0h1m89 0h1m17 0h1m2 0h1m8 0h1M0 2249.51m19 0h1m28 0h1m4 0h1m33 0h1m93 0h1M0 2282.88m81 0h1m41 0h1M0 2306.64m18 0h1m5 0h1m20 0h1m22 0h1m2 0h1m3 0h1m38 0h1m22 0h1M0 2330.4m30 0h1m18 0h1m28 0h1M0 2354.17m18 0h1m69 0h1m14 0h1m7 0h1m14 0h1m2 0h1m8 0h1m9 0h1m3 0h1m5 0h1M0 2377.93m61 0h1m7 0h1m89 0h1M0 2401.69m20 0h1m29 0h1m57 0h1M0 2425.45m6 0h1m60 0h1m56 0h1m11 0h1m28 0h1m3 0h1m7 0h1M0 2449.21m26 0h1m5 0h1m7 0h1m2 0h1m2 0h1m40 0h1m1 0h1m15 0h1m17 0h1m28 0h1m10 0h2m8 0h1M0 2472.98m10 0h1m24 0h1m26 0h1m14 0h1m17 0h1m22 0h1m8 0h1m20 0h1m13 0h1m18 0h1M0 2496.74m9 0h1m18 0h1m10 0h1m5 0h1m8 0h1m21 0h1m5 0h1m8 0h1m11 0h1m4 0h1m4 0h1m22 0h1m22 0h1m6 0h1m1 0h1m9 0h1M0 2520.5m73 0h1m83 0h1m14 0h2m8 0h1M0 2544.26m29 0h1m8 0h1m20 0h1m11 0h1m11 0h1m8 0h1m31 0h1m4 0h1m6 0h1m26 0h1m9 0h1m1 0h1m2 0h1M0 2568.03m63 0h1m11 0h1m1 0h1m46 0h1m13 0h1m14 0h1m4 0h1m1 0h1M0 2591.79m9 0h1m20 0h1m6 0h1m22 0h1m27 0h2m6 0h1m1 0h1m4 0h1m3 0h1m20 0h1m11 0h1m2 0h1m1 0h1m2 0h2m3 0h1m4 0h1m4 0h1m15 0h1m2 0h1M0 2615.55m31 0h2m21 0h1m15 0h1m37 0h1m1 0h1m11 0h1m2 0h1m7 0h1m20 0h1m21 0h1M0 2639.31m7 0h1m22 0h1m7 0h1m9 0h1m9 0h1m2 0h1m62 0h1m2 0h1m24 0h1m9 0h1m7 0h2M0 2663.07m32 0h1m2 0h1m5 0h1m7 0h1m15 0h1m33 0h1M0 2686.84m2 0h1m66 0h1m5 0h1m15 0h1m25 0h2m30 0h1m24 0h1M0 2710.6m3 0h2m5 0h1m9 0h1m33 0h1m16 0h1m27 0h1m8 0h1m3 0h1m3 0h1m9 0h1m13 0h1m7 0h1m8 0h1m3 0h2m15 0h1M0 2734.36m26 0h1m16 0h1m2 0h1m50 0h1m20 0h1m1 0h1m6 0h1m38 0h1M0 2758.12m33 0h1m17 0h1m56 0h1m2 0h1M0 2781.88m15 0h1m15 0h1m18 0h1m16 0h1m93 0h1M0 2805.64m8 0h1m9 0h1m12 0h1m7 0h1m7 0h1m9 0h1m6 0h1m11 0h1m34 0h1m6 0h2m18 0h1m20 0h2M0 2829.41m1 0h1m71 0h1m10 0h1m1 0h1m10 0h1m4 0h1"/>
<path transform="translate(340.4 0) scale(1.57978 1)" stroke="#ff6060" stroke-width="23.81" fill="none" d="M0 400.88m14 0h1m12 0h1m25 0h1m87 0h1m9 0h1m11 0h1m3 0h1M0 424.64m9 0h1m28 0h1m46 0h1m6 0h1m8 0h1m25 0h1M0 448.4m36 0h1m69 0h1M0 472.17m28 0h1m29 0h1m13 0h1m19 0h1m24 0h2m38 0h1M0 495.93m55 0h1m45 0h1m49 0h1m12 0h1M0 519.69m115 0h1m32 0h1m33 0h1M0 543.45m4 0h1m26 0h1m22 0h1m1 0h1m7 0h1m12 0h2m70 0h2M0 567.22m175 0h1M0 590.98m54 0h1m12 0h1m4 0h1m31 0h1m17 0h1m44 0h1M0 614.74m2 0h1m16 0h1m2 0h1m20 0h1m3 0h1m6 0h1m28 0h1m9 0h1m16 0h1m49 0h1m15 0h1M0 638.5m31 0h1m90 0h1m16 0h1m15 0h1m6 0h1m12 0h1M0 662.26m46 0h1m8 0h1m1 0h1m45 0h1m5 0h1m9 0h1m8 0h1m28 0h1M0 686.02m57 0h1m62 0h1m27 0h1m15 0h1M0 709.79m67 0h1m21 0h1m49 0h1m12 0h1m1 0h1m10 0h1M0 733.55m117 0h1m11 0h1m26 0h1m18 0h1M0 757.31m38 0h1m16 0h1m89 0h1m14 0h1m21 0h1M0 781.07m17 0h1m17 0h1m34 0h1m1 0h1m10 0h1m1 0h1m4 0h1m3 0h1m21 0h1m37 0h1m2 0h1M0 804.83m53 0h1m41 0h1M0 828.6m10 0h1m14 0h1m28 0h1m3 0h1m23 0h1m47 0h1m12 0h1m18 0h1m12 0h1M0 852.36m47 0h1M0 876.12m35 0h1m13 0h1m21 0h1m55 0h1m36 0h1M0 899.88m13 0h1m51 0h1m8 0h1m20 0h1m10 0h1m22 0h1m14 0h1m8 0h1m19 0h1M0 923.64m8 0h1m13 0h1m1 0h1m111 0h1m10 0h1m11 0h1M0 947.41m7 0h1m21 0h1m35 0h1m16 0h1m25 0h1M0 971.17m100 0h1m14 0h1m15 0h1m16 0h1m18 0h1m1 0h1m9 0h1m2 0h1M0 994.93m19 0h1m41 0h1m82 0h1m12 0h1m13 0h1M0 1018.69m15 0h1m53 0h1m12 0h1m5 0h1m3 0h2m55 0h1m17 0h1M0 1042.46m7 0h1m10 0h1m20 0h1m25 0h1m15 0h1m15 0h1m22 0h1m5 0h1m39 0h1m7 0h1M0 1066.22m27 0h1m59 0h1m69 0h1M0 1089.98m30 0h1m13 0h1m23 0h1m2 0h1m26 0h1m39 0h1m17 0h1m5 0h1m16 0h1m2 0h1M0 1113.74m9 0h1m24 0h1m23 0h1m24 0h1m89 0h1m6 0h1M0 1137.5m3 0h1m12 0h2m24 0h1m21 0h1m14 0h1m13 0h1m36 0h1m6 0h1m5 0h1m3 0h1m6 0h1m2 0h1m9 0h1m3 0h1m10 0h1M0 1161.27m73 0h1m53 0h1m54 0h1M0 1185.03m60 0h1m16 0h1m13 0h1M0 1208.79m122 0h1m22 0h1M0 1232.55m120 0h1m37 0h1m13 0h1M0 1265.98m59 0h1m2 0h1m94 0h1M0 1289.74m39 0h1m38 0h1m20 0h1m8 0h1m13 0h1m15 0h1m2 0h1M0 1313.5m10 0h1m1 0h1m2 0h1m5 0h1m16 0h1m19 0h1m36 0h1m20 0h1m37 0h1m6 0h1m2 0h1M0 1337.27m89 0h1m5 0h1M0 1361.03m22 0h1m16 0h1m39 0h2m66 0h1m14 0h1m6 0h1M0 1384.79m25 0h1m15 0h1m16 0h1m115 0h1M0 1408.55m17 0h1m18 0h1m60 0h1M0 1432.32m102 0h1M0 1456.08m4 0h1m31 0h1m115 0h1m2 0h1m6 0h1M0 1479.84m45 0h1m45 0h1m51 0h1m17 0h1m4 0h1M0 1503.6m52 0h1m87 0h1M0 1527.36m25 0h1m9 0h1m52 0h1m50 0h1m7 0h1M0 1551.12m30 0h1m11 0h1m2 0h1m12 0h1m12 0h1m38 0h1M0 1574.89m7 0h1m11 0h1m46 0h1m13 0h2m13 0h1m1 0h1m10 0h1m31 0h1m4 0h1m29 0h1m3 0h1m1 0h1M0 1598.65m59 0h1m29 0h1m32 0h1M0 1622.41m24 0h1m39 0h1m43 0h1m40 0h1m22 0h1m1 0h1m6 0h1M0 1646.17m11 0h1m158 0h1M0 1669.93m50 0h1m1 0h1m26 0h1m10 0h1M0 1693.7m78 0h1m21 0h1m40 0h1M0 1717.46m109 0h1m21 0h1m10 0h1M0 1741.22m41 0h1m8 0h1M0 1764.98m1 0h1m34 0h1m4 0h1m24 0h1m38 0h1m25 0h1m22 0h1m23 0h1m3 0h1M0 1788.75m48 0h1m4 0h1m7 0h1m8 0h1m2 0h1m11 0h1m18 0h1m57 0h1M0 1812.51m34 0h1m2 0h1m18 0h1m38 0h1m1 0h1m6 0h1m28 0h1m8 0h1m11 0h1m11 0h1m2 0h1M0 1836.27m18 0h1m2 0h1m5 0h1m8 0h1m10 0h1m13 0h1m20 0h1m6 0h1m3 0h1m26 0h1m9 0h1m2 0h1m3 0h1m19 0h1m13 0h1M0 1860.03m31 0h1m109 0h1M0 1883.79h1m14 0h1m17 0h1m25 0h2m39 0h1m7 0h1m7 0h1m6 0h1m13 0h1m16 0h1m18 0h1m3 0h1M0 1907.56m35 0h1m66 0h1m29 0h1m9 0h1m29 0h1m6 0h1M0 1931.32h1m26 0h1m33 0h1m40 0h1m11 0h1m48 0h1m13 0h1M0 1955.08m128 0h2m12 0h1m6 0h1m5 0h1M0 1978.84m58 0h1m11 0h1m68 0h1M0 2002.6m25 0h1m31 0h1m37 0h1m16 0h1m11 0h1M0 2026.37m31 0h1m7 0h1m44 0h1m12 0h1m75 0h1M0 2050.13m13 0h1m130 0h1M0 2083.18m23 0h1m12 0h1m9 0h1m8 0h1m20 0h1m52 0h1m37 0h1M0 2106.94m30 0h1m5 0h1m13 0h1m61 0h1m12 0h1M0 2130.7m34 0h1m122 0h1M0 2154.47m4 0h1m18 0h1m9 0h1m17 0h1m3 0h1m26 0h2m9 0h1m19 0h1m38 0h1m18 0h1m8 0h1m1 0h1M0 2178.23m66 0h1m25 0h1M0 2201.99m31 0h1m4 0h1m36 0h1m8 0h1m15 0h1m38 0h1m22 0h1m2 0h1M0 2225.75m16 0h1m14 0h1m16 0h1m36 0h1m26 0h1M0 2249.51m25 0h1m1 0h1m7 0h1m42 0h1m22 0h1m7 0h2m6 0h1m37 0h1m12 0h1m3 0h1M0 2282.88m152 0h1m9 0h1M0 2306.64m33 0h1m62 0h1m46 0h1m9 0h1m14 0h1m6 0h1M0 2330.4m3 0h1m21 0h1m69 0h1m31 0h1M0 2354.17m10 0h1m84 0h1m3 0h1m60 0h1m7 0h1m6 0h1M0 2377.93m47 0h1m15 0h1m41 0h1M0 2401.69m1 0h1m19 0h1m37 0h1m37 0h1m53 0h1M0 2425.45m22 0h1m16 0h1m39 0h1m14 0h1m60 0h1m2 0h1M0 2449.21m2 0h1m39 0h1m6 0h1m9 0h1m47 0h1m14 0h1m13 0h1m10 0h1m26 0h1M0 2472.98m44 0h1m15 0h1m6 0h1m14 0h1m6 0h1m17 0h1m27 0h1M0 2496.74m35 0h1m12 0h1m6 0h1m7 0h1m15 0h1m34 0h1m7 0h1m1 0h1m1 0h2m41 0h1m1 0h1m5 0h1M0 2520.5m24 0h1m52 0h1m10 0h1M0 2544.26m33 0h1m3 0h1m26 0h1m21 0h1m24 0h1m22 0h1M0 2568.03m5 0h1m46 0h1m13 0h1m68 0h1m10 0h1M0 2591.79m52 0h1m62 0h1m13 0h1m7 0h2m15 0h2m1 0h1m14 0h1M0 2615.55m22 0h1m12 0h1m23 0h1m29 0h2m39 0h1m16 0h1m2 0h1m30 0h1M0 2639.31m41 0h1m66 0h1m27 0h1m10 0h1m16 0h1m1 0h1m9 0h1m3 0h1m1 0h1M0 2663.07m59 0h1m13 0h1m8 0h1m91 0h1M0 2686.84m36 0h1m15 0h1m2 0h1m3 0h1m6 0h1m17 0h1m81 0h1M0 2710.6m60 0h1m11 0h1m19 0h1m1 0h1m3 0h1m4 0h1m9 0h1m29 0h1m22 0h1m3 0h1M0 2734.36m30 0h1m4 0h1m101 0h1M0 2758.12m60 0h1m121 0h1M0 2781.88m32 0h1m7 0h1m42 0h1m11 0h1m5 0h2m29 0h1m34 0h1M0 2805.64m6 0h1m28 0h1m5 0h1m13 0h1m16 0h1m36 0h1m4 0h1m16 0h2m10 0h1m20 0h1m2 0h1M0 2829.41m7 0h1m11 0h1m16 0h1m80 0h1m11 0h1m4 0h1"/>
<path transform="translate(340.4 0) scale(1.57978 1)" stroke="#ff4040" stroke-width="23.81" fill="none" d="M0 400.88m16 0h1m6 0h1m8 0h1m2 0h2m5 0h1m13 0h1m53 0h1m4 0h1m38 0h1M0 424.64m133 0h1M0 448.4m52 0h1m73 0h1m2 0h1m27 0h1m8 0h1m1 0h1M0 472.17m20 0h1m59 0h1m13 0h1m60 0h1m2 0h1M0 495.93m42 0h1m103 0h1M0 519.69m4 0h1m124 0h1m1 0h1M0 543.45m43 0h1m47 0h1m29 0h1m20 0h1m17 0h1m12 0h1m7 0h1M0 567.22m49 0h1m132 0h1M0 590.98m34 0h1m21 0h1m7 0h1M0 614.74m38 0h1m19 0h1m3 0h1m33 0h1m37 0h2M0 638.5m51 0h1m60 0h1M0 662.26m3 0h1m23 0h1m37 0h1M0 686.02m15 0h1m34 0h1m78 0h1m47 0h1m1 0h1M0 709.79m34 0h1m20 0h1m58 0h1m18 0h1m46 0h1M0 733.55m77 0h1m3 0h1m56 0h1m32 0h1m1 0h1M0 757.31h1m2 0h1m32 0h1m60 0h1m70 0h1M0 781.07m3 0h1m16 0h1m9 0h1m7 0h1m45 0h1m65 0h1M0 804.83m7 0h1m54 0h1m42 0h1m14 0h1m33 0h1m20 0h1M0 828.6m28 0h1m16 0h1m14 0h1m11 0h1m14 0h1m40 0h1m17 0h1m34 0h1M0 852.36m37 0h1m41 0h1m1 0h1m68 0h1M0 876.12m15 0h1m30 0h1m5 0h1m27 0h1m7 0h1m26 0h1m6 0h1m38 0h1M0 899.88m39 0h1m132 0h1M0 923.64m42 0h1m29 0h1m55 0h1m16 0h1m23 0h1M0 947.41m9 0h1M0 971.17m35 0h1m52 0h1m12 0h1m41 0h1m30 0h1M0 994.93m9 0h2m128 0h1m32 0h1M0 1018.69m3 0h1m45 0h1m14 0h1m51 0h1m20 0h1m30 0h1m2 0h1M0 1042.46m12 0h1m115 0h1m7 0h1m15 0h1m8 0h1m3 0h1m3 0h1M0 1066.22m103 0h3M0 1089.98m14 0h1m27 0h1m7 0h1m8 0h1m65 0h1m2 0h1m24 0h1M0 1113.74m2 0h1m10 0h1m24 0h1M0 1137.5m76 0h1m4 0h1m2 0h2m15 0h1m7 0h1m26 0h1m1 0h1m7 0h1m5 0h1m24 0h1M0 1161.27m99 0h1m13 0h1M0 1185.03m180 0h1M0 1208.79m13 0h1m28 0h1m96 0h1M0 1232.55m105 0h1m23 0h1m35 0h1M0 1265.98m3 0h1m41 0h1m29 0h1m8 0h1m4 0h1m83 0h1m2 0h1M0 1289.74m62 0h1m7 0h1m5 0h1m3 0h1m14 0h1m5 0h1m12 0h1m32 0h1m23 0h1m9 0h1M0 1313.5m19 0h1m9 0h1m36 0h1m16 0h1m31 0h1m26 0h1m3 0h1m18 0h1m12 0h2M0 1361.03m37 0h1m55 0h1m21 0h1m37 0h1M0 1384.79m74 0h1m83 0h1m17 0h1M0 1408.55m1 0h1M0 1432.32m161 0h1M0 1456.08m9 0h1m49 0h1m15 0h1m62 0h1M0 1479.84m6 0h1m4 0h1m122 0h1m1 0h1m10 0h1m16 0h1M0 1503.6m68 0h1m41 0h1m19 0h1M0 1527.36m10 0h1m73 0h1m28 0h1M0 1551.12m67 0h1M0 1574.89m9 0h1m8 0h1m8 0h1m57 0h1M0 1598.65m27 0h1m55 0h1M0 1622.41m38 0h1m30 0h1m35 0h1m3 0h1m23 0h1m39 0h1m1 0h1M0 1646.17m37 0h1m16 0h1m51 0h1m29 0h1M0 1693.7m116 0h1M0 1717.46m64 0h1m27 0h1M0 1741.22m26 0h1m121 0h1M0 1764.98m47 0h1m10 0h1m9 0h1m67 0h1m36 0h1M0 1788.75m18 0h2m74 0h1m1 0h1m22 0h1M0 1812.51h1m46 0h1m9 0h1m29 0h1m46 0h1M0 1836.27m6 0h1m3 0h1m2 0h1m12 0h1m11 0h1m3 0h1m7 0h1m4 0h1m51 0h1m27 0h1m20 0h1m9 0h1M0 1860.03m88 0h1m1 0h1M0 1883.79m73 0h1m13 0h1m23 0h1m38 0h1m11 0h1M0 1907.56m29 0h1m43 0h1m40 0h1M0 1931.32m7 0h1m29 0h1m26 0h1m10 0h1m7 0h1m55 0h1m13 0h1M0 1955.08m11 0h1m3 0h1m6 0h1m88 0h1m8 0h1m15 0h1M0 1978.84m57 0h1m84 0h1m24 0h1m7 0h1M0 2002.6m38 0h1m98 0h1M0 2026.37m25 0h1m10 0h1m14 0h1m3 0h1m5 0h1m23 0h1m44 0h1m15 0h1m11 0h1m18 0h1M0 2050.13m54 0h1m22 0h1m23 0h1m62 0h1M0 2083.18m1 0h1m101 0h1m50 0h1M0 2106.94m66 0h1m73 0h1m23 0h1M0 2130.7m46 0h1m23 0h1m76 0h1m13 0h1M0 2154.47m18 0h1m62 0h1m15 0h1m22 0h1m21 0h1m11 0h2m1 0h2m11 0h1M0 2178.23m23 0h1m26 0h1m64 0h1M0 2201.99m7 0h1m8 0h1m24 0h1m3 0h1M0 2225.75m6 0h1m23 0h1m25 0h1M0 2249.51m71 0h1m10 0h1m32 0h1m10 0h1m19 0h1m20 0h1M0 2282.88m1 0h1m1 0h1m64 0h1m113 0h1M0 2306.64m25 0h1m24 0h1m1 0h1m25 0h1m8 0h1m66 0h1m17 0h1M0 2354.17m19 0h1m37 0h1m1 0h1m2 0h1m16 0h1m12 0h1m54 0h1m16 0h1m9 0h1M0 2377.93m4 0h1m20 0h1m73 0h1m64 0h1M0 2401.69m9 0h1m33 0h1m23 0h1m11 0h1m24 0h1m4 0h1m37 0h1M0 2425.45m56 0h1m29 0h1m6 0h1m62 0h1M0 2449.21m25 0h1m52 0h1m66 0h1m9 0h1M0 2472.98m52 0h1m35 0h1m52 0h1M0 2496.74m3 0h1m1 0h1m44 0h1M0 2520.5m93 0h1m17 0h1m24 0h1M0 2544.26m45 0h1m70 0h1m33 0h1M0 2568.03m62 0h1m33 0h1m37 0h1m17 0h1M0 2591.79m1 0h1m1 0h1M0 2615.55m1 0h1m95 0h2m12 0h1m16 0h1m31 0h1m16 0h1M0 2639.31m78 0h1m34 0h1m23 0h1M0 2663.07m105 0h1m74 0h1M0 2686.84m50 0h1m54 0h1m18 0h1m31 0h1m14 0h1m3 0h1M0 2710.6m16 0h1m11 0h1m37 0h1m20 0h1m1 0h1m54 0h1m26 0h1m1 0h1M0 2734.36m20 0h1m88 0h1m31 0h1m2 0h1m1 0h1m18 0h1M0 2758.12m65 0h1m20 0h1M0 2781.88m146 0h1M0 2805.64m91 0h1m37 0h1m42 0h1m8 0h1M0 2829.41m4 0h1m34 0h1m68 0h1m61 0h1"/>
<path transform="translate(340.4 0) scale(1.57978 1)" stroke="#ff2020" stroke-width="23.81" fill="none" d="M0 400.88m21 0h1m35 0h1M0 424.64m18 0h1m88 0h1m50 0h1M0 448.4m111 0h1m70 0h1M0 472.17m17 0h1m92 0h1m30 0h1m29 0h1m10 0h1M0 495.93m31 0h1m7 0h1m40 0h1m84 0h1M0 519.69m24 0h1m10 0h1m59 0h1m54 0h1M0 543.45m27 0h1m24 0h1m28 0h1M0 567.22m105 0h1m65 0h1M0 590.98m125 0h1m36 0h1M0 614.74m30 0h1m30 0h1m16 0h1m34 0h1M0 638.5m85 0h1m33 0h1m13 0h1m3 0h1M0 662.26m44 0h1m27 0h1m106 0h1M0 686.02m159 0h1M0 709.79m35 0h1m107 0h2m34 0h1M0 733.55m15 0h1m44 0h1M0 757.31m73 0h1m13 0h1m17 0h1m22 0h1m15 0h1m3 0h1m29 0h1M0 781.07m77 0h1m45 0h1m42 0h1M0 804.83m36 0h1m81 0h1M0 828.6m55 0h1m97 0h1M0 852.36m115 0h1m15 0h1M0 876.12m10 0h1m22 0h1m53 0h1m55 0h1m30 0h1M0 923.64m9 0h1m1 0h1m51 0h1m23 0h1m55 0h1m26 0h1M0 947.41m16 0h1m25 0h1m91 0h1M0 971.17m7 0h1m35 0h1m90 0h1m21 0h1M0 994.93m65 0h1m10 0h1m16 0h1m44 0h1M0 1018.69m9 0h1m107 0h1m60 0h1M0 1042.46m35 0h1m22 0h1m14 0h1m48 0h1m22 0h1m4 0h1m31 0h1M0 1066.22m33 0h1m93 0h1m31 0h1M0 1089.98h1m80 0h1m27 0h1m12 0h1m46 0h1M0 1113.74m57 0h1m22 0h1m18 0h1m46 0h1m32 0h1M0 1137.5m80 0h1m80 0h1M0 1161.27m116 0h1m59 0h1M0 1185.03h1m16 0h1m81 0h1M0 1208.79m79 0h1M0 1232.55m74 0h1m78 0h1m2 0h1M0 1265.98m16 0h1m15 0h1m118 0h1m3 0h1M0 1289.74m24 0h1m25 0h1m35 0h1m2 0h1m88 0h1M0 1313.5m30 0h1m33 0h1m28 0h1m3 0h1m20 0h1m13 0h1m29 0h1m11 0h1M0 1337.27m37 0h1m116 0h1m16 0h1M0 1361.03m104 0h1m12 0h1m4 0h1m18 0h1M0 1384.79m8 0h1m141 0h1m31 0h1M0 1408.55m78 0h1m9 0h1M0 1432.32m69 0h1m42 0h1m66 0h1M0 1456.08m81 0h1m67 0h1m21 0h1M0 1479.84m83 0h1m20 0h1m6 0h1m33 0h1M0 1503.6m34 0h1m27 0h1m104 0h1M0 1527.36m45 0h1M0 1551.12m57 0h1m37 0h1M0 1574.89m110 0h1m18 0h1m16 0h1m21 0h1m5 0h1M0 1598.65m45 0h1m73 0h1m14 0h1M0 1622.41m6 0h1m66 0h1m32 0h1m4 0h1m70 0h1M0 1646.17m57 0h1m103 0h1m11 0h1M0 1669.93m78 0h1m103 0h1M0 1693.7m84 0h1M0 1717.46m51 0h1m61 0h1M0 1741.22m10 0h1m134 0h1m25 0h1M0 1764.98m120 0h1m21 0h1m16 0h1M0 1788.75m38 0h1m82 0h1M0 1812.51m38 0h1m61 0h1m21 0h1m40 0h1M0 1836.27m102 0h1m10 0h1m17 0h1m29 0h1M0 1860.03m57 0h1m6 0h1M0 1883.79m21 0h1m93 0h1m15 0h1M0 1907.56m3 0h1m40 0h1M0 1931.32m29 0h1m64 0h1m30 0h1m5 0h1m6 0h1m22 0h1M0 1955.08m63 0h1M0 1978.84m13 0h1m47 0h1m84 0h1m9 0h1M0 2002.6m133 0h1M0 2026.37m125 0h1m1 0h1m9 0h1M0 2050.13m65 0h1m69 0h1m19 0h1M0 2083.18m72 0h1m16 0h1m42 0h1M0 2106.94m98 0h1m6 0h1m75 0h1M0 2130.7m49 0h1m95 0h1m28 0h1M0 2154.47m86 0h1m47 0h1m40 0h1M0 2201.99m14 0h1m5 0h1m38 0h1m10 0h1m84 0h1m12 0h1M0 2225.75m20 0h1M0 2249.51m77 0h1m25 0h1m23 0h1m10 0h1m41 0h1M0 2282.88m67 0h1M0 2306.64m1 0h1m126 0h1m6 0h1M0 2354.17m51 0h1m69 0h1m40 0h1M0 2401.69m44 0h1m7 0h1M0 2425.45m142 0h1m18 0h1M0 2449.21m62 0h1m88 0h1m8 0h2M0 2472.98m7 0h1m48 0h1m68 0h1m47 0h1M0 2496.74m49 0h1m31 0h1m78 0h1m21 0h1M0 2520.5m14 0h1m26 0h1M0 2544.26m27 0h1m4 0h1m36 0h1m12 0h1m13 0h1m10 0h1m49 0h1M0 2568.03m1 0h1m8 0h1m46 0h1m59 0h1m18 0h1m32 0h1M0 2591.79m39 0h1m52 0h1m17 0h1m39 0h1M0 2615.55m55 0h1m4 0h1m12 0h1m32 0h1m44 0h1M0 2639.31m4 0h1m59 0h1m58 0h1m9 0h1m24 0h1m13 0h1m8 0h1M0 2663.07m16 0h1M0 2686.84m21 0h1m49 0h1m25 0h1M0 2710.6m82 0h1m23 0h1m11 0h1m44 0h1m1 0h1m10 0h1M0 2758.12m114 0h1m3 0h1M0 2805.64m54 0h1m29 0h1m25 0h1m29 0h1m37 0h1m3 0h1M0 2829.41m50 0h1m23 0h1m68 0h1m21 0h1"/>
<path transform="translate(340.4 0) scale(1.57978 1)" stroke="#ff0000" stroke-width="23.81" fill="none" d="M0 400.88h1m69 0h1m47 0h1m2 0h1m2 0h1m15 0h1m5 0h1m8 0h1m6 0h1m3 0h1m1 0h1M0 424.64m12 0h1m35 0h1m2 0h1m29 0h1m28 0h1m49 0h1m9 0h1m4 0h1m6 0h1M0 448.4m12 0h1m65 0h1m4 0h1m23 0h1m12 0h2m40 0h2m8 0h1m5 0h1m2 0h1M0 472.17m19 0h1m3 0h1m73 0h2m15 0h1m9 0h1m26 0h1m1 0h1m7 0h1m6 0h1m5 0h1M0 495.93m16 0h1m55 0h1m25 0h2m8 0h1m5 0h1m27 0h1m2 0h1m4 0h1m24 0h4M0 519.69m22 0h1m83 0h1m18 0h1m18 0h1m15 0h1M0 543.45m23 0h1m48 0h1m25 0h1m39 0h1m1 0h1m14 0h1m16 0h1M0 567.22m4 0h1m23 0h1m44 0h1m16 0h1m15 0h1m42 0h1m18 0h1m4 0h1m7 0h1M0 590.98m43 0h1m47 0h1m68 0h1m2 0h1m9 0h1M0 614.74m141 0h1m23 0h1m7 0h1m5 0h1M0 638.5m4 0h1m32 0h1m69 0h1m34 0h1m7 0h1m3 0h1m24 0h1M0 662.26m6 0h1m7 0h1m1 0h1m28 0h1m2 0h1m14 0h1m95 0h1m9 0h1M0 686.02m17 0h1m13 0h1m11 0h1m40 0h1m5 0h1m7 0h1m18 0h2m5 0h1m3 0h1m10 0h1m1 0h1m10 0h1m16 0h1m1 0h1m8 0h1M0 709.79m47 0h1m1 0h1m2 0h1m6 0h1m26 0h2m7 0h1m20 0h1m1 0h1m6 0h1m15 0h1m3 0h1m10 0h1m4 0h1m11 0h1M0 733.55m32 0h1m70 0h1m59 0h1M0 757.31m81 0h1m14 0h1m4 0h1m5 0h1m3 0h1m6 0h1m11 0h1m19 0h1m19 0h1m4 0h2M0 781.07m10 0h1m26 0h1m8 0h1m40 0h1m3 0h1m9 0h1m10 0h1m2 0h1m16 0h1m3 0h1m12 0h1m15 0h1M0 804.83m27 0h1m21 0h1m8 0h1m52 0h1m13 0h1m45 0h1m8 0h1M0 828.6m46 0h1m27 0h1m24 0h1m1 0h1m15 0h1m8 0h1m4 0h1m1 0h1m26 0h1m12 0h2m3 0h1M0 852.36h1m91 0h1m24 0h1m18 0h1m5 0h1M0 876.12m21 0h1m16 0h1m82 0h1m22 0h1m13 0h1m16 0h1M0 899.88m21 0h1m38 0h1m1 0h1m36 0h1m5 0h1m11 0h1m2 0h1m29 0h2m10 0h1M0 923.64m44 0h1m8 0h1m10 0h1m55 0h1m50 0h1M0 947.41m4 0h2m7 0h1m75 0h1m47 0h1M0 971.17m17 0h1m5 0h1m5 0h1m34 0h2m29 0h1m8 0h1m9 0h1m3 0h1m2 0h1m7 0h1m5 0h2m2 0h1m21 0h1m3 0h1m12 0h1M0 994.93m35 0h1m19 0h1m22 0h1m10 0h1m12 0h1m31 0h1m7 0h1m2 0h1m8 0h1m23 0h1M0 1018.69m2 0h1m3 0h1m24 0h1m52 0h1m48 0h1M0 1042.46m78 0h1m30 0h1m7 0h1m3 0h1m15 0h1m2 0h1m7 0h1m5 0h1m8 0h2M0 1066.22m2 0h1m22 0h1m27 0h1m14 0h1m53 0h2m2 0h1m34 0h1M0 1089.98m55 0h1m1 0h1m68 0h1m8 0h1m42 0h1M0 1113.74m23 0h1m7 0h1m5 0h1m10 0h1m77 0h1m15 0h1m5 0h2m11 0h1M0 1137.5m20 0h1m25 0h1m11 0h1m29 0h1m21 0h1m3 0h2m17 0h1m6 0h1m8 0h1m22 0h1M0 1161.27m25 0h1m14 0h1m14 0h1m11 0h1m9 0h1m30 0h1m2 0h2m2 0h1m2 0h1m4 0h1m14 0h1m4 0h1m5 0h1m7 0h1M0 1185.03m61 0h1m3 0h1m49 0h1m43 0h1m11 0h1M0 1208.79m18 0h1m70 0h1m15 0h1m9 0h1m22 0h1m10 0h1m18 0h1M0 1232.55m26 0h1m35 0h1m34 0h1m4 0h1m11 0h1m3 0h1m19 0h1m32 0h1M0 1265.98m17 0h1m28 0h1m26 0h1m16 0h1m12 0h1m3 0h1m11 0h1m1 0h1M0 1289.74m10 0h1m10 0h1m33 0h1m4 0h1m27 0h1m5 0h1m14 0h1m14 0h1m27 0h3m10 0h1M0 1313.5m54 0h1m83 0h1m8 0h1m20 0h1m12 0h1M0 1337.27m36 0h1m9 0h1m19 0h1m7 0h1m8 0h1m1 0h1m92 0h1M0 1361.03m75 0h1m2 0h1m40 0h1m48 0h1m1 0h1m10 0h1M0 1384.79m33 0h1m31 0h1m25 0h1m24 0h1m14 0h1m17 0h1m16 0h1m3 0h1M0 1408.55m6 0h1m5 0h2m37 0h1m7 0h1m5 0h1m16 0h1M0 1432.32m51 0h1m2 0h1m9 0h1m29 0h1M0 1456.08h1m19 0h1m6 0h1m3 0h1m1 0h1m6 0h1m9 0h1m16 0h1m10 0h1m5 0h1m2 0h1m13 0h1m40 0h1m5 0h1m15 0h2m1 0h2M0 1479.84m1 0h1m47 0h1m24 0h1m58 0h1m26 0h1M0 1503.6m10 0h1m1 0h1m30 0h1m44 0h1m31 0h1m3 0h1m38 0h1m8 0h1M0 1527.36m15 0h1m6 0h1m25 0h1m4 0h1m43 0h1M0 1551.12m15 0h1m30 0h1m34 0h1m6 0h1m9 0h1m2 0h1m38 0h1m22 0h1m6 0h1M0 1574.89m82 0h1m5 0h1m13 0h1m15 0h1m9 0h1m23 0h1m18 0h1m4 0h1m1 0h1M0 1598.65m31 0h1m48 0h1m9 0h2m32 0h1m3 0h1m33 0h1M0 1622.41m33 0h1m18 0h1m15 0h1m35 0h1m12 0h1m12 0h1m17 0h1m6 0h1m22 0h1M0 1646.17m16 0h2m79 0h1m4 0h1M0 1669.93m32 0h1m9 0h1m5 0h2m15 0h1m2 0h2m17 0h1m8 0h1m51 0h1m9 0h1m19 0h1M0 1693.7m8 0h1m16 0h1m9 0h1m18 0h1m21 0h1m27 0h1m64 0h1m12 0h1M0 1717.46m90 0h1m9 0h1m26 0h1m39 0h1m6 0h1M0 1741.22h1m14 0h1m13 0h1m69 0h1m1 0h1m6 0h1M0 1764.98m23 0h1m31 0h1m29 0h1m7 0h1m64 0h1m2 0h1m6 0h1M0 1788.75m5 0h1m35 0h1m21 0h1m37 0h1m11 0h1m67 0h1M0 1812.51m79 0h1m4 0h1m23 0h1m1 0h1m10 0h1m10 0h1m2 0h1m23 0h1m2 0h1m18 0h1M0 1836.27m57 0h1m22 0h1m34 0h1m44 0h1m14 0h1M0 1860.03m48 0h1m22 0h1m52 0h1m21 0h1m13 0h1m6 0h1m7 0h1M0 1883.79m20 0h1m6 0h1m121 0h1m7 0h1m11 0h1M0 1907.56m7 0h1m7 0h1m33 0h1m6 0h1m33 0h2m47 0h1M0 1931.32m18 0h1m5 0h2m5 0h1m19 0h1m40 0h1m5 0h1m14 0h1m1 0h1m26 0h2M0 1955.08m42 0h1m37 0h1m26 0h1M0 1978.84m49 0h1m5 0h1m13 0h1m24 0h1m28 0h1m20 0h1M0 2002.6m14 0h1m59 0h1m13 0h1m11 0h1m20 0h1m3 0h1m20 0h1m4 0h1m22 0h1M0 2026.37m7 0h1m33 0h1m6 0h1m16 0h1m1 0h1m19 0h1m12 0h1m8 0h1m8 0h1m4 0h2m1 0h1m9 0h1m38 0h1M0 2050.13m21 0h1m11 0h1m9 0h1m27 0h1m31 0h1m5 0h1m3 0h1m49 0h1M0 2083.18m15 0h1m12 0h1m9 0h1m80 0h1m2 0h1m11 0h1m4 0h1M0 2106.94m5 0h1m5 0h1m34 0h1m9 0h1m51 0h1m14 0h1m4 0h1m27 0h1m13 0h1M0 2130.7m10 0h1m16 0h1m11 0h1m1 0h1m17 0h1m12 0h1m64 0h1M0 2154.47m10 0h1m24 0h1m7 0h1m21 0h1m57 0h1m3 0h1m4 0h1m12 0h1m4 0h1m12 0h1m5 0h1m2 0h1M0 2178.23m13 0h1m70 0h1m6 0h1m13 0h1m3 0h1m3 0h1m11 0h1m38 0h1m12 0h1M0 2201.99m3 0h1m4 0h1m2 0h1m10 0h2m26 0h1m13 0h1m25 0h1m66 0h1m21 0h1m1 0h1M0 2225.75m2 0h1m6 0h1m57 0h1m22 0h1M0 2249.51m41 0h1m106 0h1m5 0h1m2 0h1M0 2282.88m7 0h1m91 0h1m46 0h1M0 2306.64m14 0h1m19 0h1m72 0h1m1 0h1m16 0h2m42 0h1M0 2330.4m4 0h1m34 0h1m98 0h1m15 0h1m24 0h1M0 2354.17m70 0h1m2 0h1m19 0h1m25 0h1m34 0h1m14 0h1m2 0h1M0 2377.93m122 0h1m13 0h1m2 0h1m5 0h1m6 0h1M0 2401.69m13 0h1m34 0h1m130 0h1M0 2425.45m35 0h1m30 0h1m35 0h1m8 0h1m6 0h1m7 0h1m19 0h1m4 0h1m8 0h1m13 0h1M0 2449.21m31 0h1m48 0h1m5 0h1m1 0h1m4 0h1m19 0h1m2 0h1m4 0h1m22 0h1M0 2472.98m6 0h1m10 0h1m24 0h1m16 0h1m14 0h1m12 0h1m32 0h1m5 0h1m5 0h2m9 0h1M0 2496.74m11 0h1m56 0h1m43 0h1m7 0h1m59 0h2M0 2520.5m116 0h1m37 0h1m4 0h1M0 2544.26m8 0h1m26 0h1m18 0h1m63 0h1m1 0h1m9 0h1m2 0h1m4 0h1m26 0h1M0 2568.03m17 0h1m8 0h1m7 0h1m16 0h1m2 0h1m17 0h1m14 0h1m34 0h1m32 0h1m14 0h1m4 0h1m4 0h1M0 2591.79m23 0h1m22 0h1m2 0h1m11 0h1m55 0h1m7 0h1m25 0h1m7 0h1m9 0h1m5 0h2m3 0h1M0 2615.55m11 0h1m12 0h1m40 0h1m8 0h1m11 0h1m28 0h1m20 0h1m30 0h1m10 0h1M0 2639.31m16 0h1m8 0h1m33 0h1m9 0h1m19 0h1m10 0h1m5 0h1m3 0h1m15 0h1m42 0h1M0 2663.07m23 0h1m23 0h1m8 0h1m35 0h1m56 0h1m28 0h1M0 2686.84m10 0h2m58 0h1m10 0h1m12 0h1m31 0h1m7 0h1m8 0h1m3 0h1m7 0h1m5 0h1m11 0h1m3 0h1M0 2710.6m19 0h1m81 0h1m22 0h1m2 0h1m26 0h1m14 0h1m12 0h1M0 2734.36m77 0h1m35 0h1m5 0h1m10 0h1m23 0h1m12 0h1M0 2758.12m34 0h1m26 0h1m9 0h1m1 0h1m45 0h1m2 0h1m39 0h1M0 2781.88m116 0h1m17 0h1M0 2805.64m3 0h1m10 0h1m13 0h1m8 0h1m11 0h1m48 0h1m75 0h2m4 0h1M0 2829.41m3 0h1m26 0h1m31 0h2m23 0h1m25 0h1m16 0h1m40 0h1"/>
<text font-size="23.6" font-weight="bold" transform="translate(10.5 2858.6) rotate(90)">Type</text>
<rect x="901.3" y="327.4" width="24" height="356.4" fill="url(#gcb)"/>
<text x="935.5" y="336.9" font-size="23.7">2</text>
<text x="935.5" y="425.9" font-size="23.7">1</text>
<text x="935.5" y="514.9" font-size="23.7">0</text>
<text x="935.5" y="603.9" font-size="23.7">−1</text>
<text x="935.5" y="692.9" font-size="23.7">−2</text>
<text x="970.6" y="345.3" font-size="23.6" font-weight="bold">RiskType</text>
<rect x="970" y="353.3" width="33.9" height="34" fill="#ff0000"/>
<rect x="970" y="387.3" width="33.9" height="34" fill="#0000ff"/>
<text x="1011.3" y="378.6" font-size="23.7">High</text>
<text x="1011.3" y="412.6" font-size="23.7">Low</text>
<text x="970.6" y="463.2" font-size="23.6" font-weight="bold">score</text>
<rect x="970" y="472.6" width="33.9" height="34.1" fill="#ff0000"/>
<rect x="970" y="506.65" width="33.9" height="34.1" fill="#550000"/>
<rect x="970" y="540.7" width="33.9" height="34.1" fill="#005500"/>
<rect x="970" y="574.75" width="33.9" height="34.1" fill="#00ff00"/>
<text x="1011.3" y="497.9" font-size="23.7">2</text>
<text x="1011.3" y="600" font-size="23.7">−2</text>
<text x="970.6" y="651.3" font-size="23.6" font-weight="bold">Type</text>
<rect x="970" y="660.4" width="33.9" height="34.1" fill="#a6cee3"/>
<text x="1011.3" y="685.7" font-size="23.7">Chemokines and receptors</text>
<rect x="970" y="694.45" width="33.9" height="34.1" fill="#1f78b4"/>
<text x="1011.3" y="719.75" font-size="23.7">Interieukines and receptors</text>
<rect x="970" y="728.5" width="33.9" height="34.1" fill="#b2df8a"/>
<text x="1011.3" y="753.8" font-size="23.7">Interferons and receptors</text>
<rect x="970" y="762.55" width="33.9" height="34.1" fill="#33a02c"/>
<text x="1011.3" y="787.85" font-size="23.7">Other cytokines</text>
</g>
<g id="panelB">
<text x="1239.6" y="29.9" font-size="43" font-weight="bold">B</text>
<line x1="1587.7" y1="17.1" x2="1587.7" y2="1119" stroke="#ebebeb" stroke-width="3.7"/>
<line x1="1648.6" y1="17.1" x2="1648.6" y2="1119" stroke="#ebebeb" stroke-width="2"/>
<line x1="1709.5" y1="17.1" x2="1709.5" y2="1119" stroke="#ebebeb" stroke-width="3.7"/>
<line x1="1770.4" y1="17.1" x2="1770.4" y2="1119" stroke="#ebebeb" stroke-width="2"/>
<line x1="1831.3" y1="17.1" x2="1831.3" y2="1119" stroke="#ebebeb" stroke-width="3.7"/>
<line x1="1892.2" y1="17.1" x2="1892.2" y2="1119" stroke="#ebebeb" stroke-width="2"/>
<line x1="1953.1" y1="17.1" x2="1953.1" y2="1119" stroke="#ebebeb" stroke-width="3.7"/>
<line x1="2014" y1="17.1" x2="2014" y2="1119" stroke="#ebebeb" stroke-width="2"/>
<line x1="2074.9" y1="17.1" x2="2074.9" y2="1119" stroke="#ebebeb" stroke-width="3.7"/>
<line x1="2135.8" y1="17.1" x2="2135.8" y2="1119" stroke="#ebebeb" stroke-width="2"/>
<line x1="2196.7" y1="17.1" x2="2196.7" y2="1119" stroke="#ebebeb" stroke-width="3.7"/>
<line x1="1568" y1="30.3" x2="2240.6" y2="30.3" stroke="#ebebeb" stroke-width="4"/>
<line x1="1568" y1="52.25" x2="2240.6" y2="52.25" stroke="#ebebeb" stroke-width="4"/>
<line x1="1568" y1="74.2" x2="2240.6" y2="74.2" stroke="#ebebeb" stroke-width="4"/>
<line x1="1568" y1="96.15" x2="2240.6" y2="96.15" stroke="#ebebeb" stroke-width="4"/>
<line x1="1568" y1="118.1" x2="2240.6" y2="118.1" stroke="#ebebeb" stroke-width="4"/>
<line x1="1568" y1="140.05" x2="2240.6" y2="140.05" stroke="#ebebeb" stroke-width="4"/>
<line x1="1568" y1="162" x2="2240.6" y2="162" stroke="#ebebeb" stroke-width="4"/>
<line x1="1568" y1="183.95" x2="2240.6" y2="183.95" stroke="#ebebeb" stroke-width="4"/>
<line x1="1568" y1="205.9" x2="2240.6" y2="205.9" stroke="#ebebeb" stroke-width="4"/>
<line x1="1568" y1="227.85" x2="2240.6" y2="227.85" stroke="#ebebeb" stroke-width="4"/>
<line x1="1568" y1="249.8" x2="2240.6" y2="249.8" stroke="#ebebeb" stroke-width="4"/>
<line x1="1568" y1="271.75" x2="2240.6" y2="271.75" stroke="#ebebeb" stroke-width="4"/>
<line x1="1568" y1="293.7" x2="2240.6" y2="293.7" stroke="#ebebeb" stroke-width="4"/>
<line x1="1568" y1="315.65" x2="2240.6" y2="315.65" stroke="#ebebeb" stroke-width="4"/>
<line x1="1568" y1="337.6" x2="2240.6" y2="337.6" stroke="#ebebeb" stroke-width="4"/>
<line x1="1568" y1="359.55" x2="2240.6" y2="359.55" stroke="#ebebeb" stroke-width="4"/>
<line x1="1568" y1="381.5" x2="2240.6" y2="381.5" stroke="#ebebeb" stroke-width="4"/>
<line x1="1568" y1="403.45" x2="2240.6" y2="403.45" stroke="#ebebeb" stroke-width="4"/>
<line x1="1568" y1="425.4" x2="2240.6" y2="425.4" stroke="#ebebeb" stroke-width="4"/>
<line x1="1568" y1="447.35" x2="2240.6" y2="447.35" stroke="#ebebeb" stroke-width="4"/>
<line x1="1568" y1="469.3" x2="2240.6" y2="469.3" stroke="#ebebeb" stroke-width="4"/>
<line x1="1568" y1="491.25" x2="2240.6" y2="491.25" stroke="#ebebeb" stroke-width="4"/>
<line x1="1568" y1="513.2" x2="2240.6" y2="513.2" stroke="#ebebeb" stroke-width="4"/>
<line x1="1568" y1="535.15" x2="2240.6" y2="535.15" stroke="#ebebeb" stroke-width="4"/>
<line x1="1568" y1="557.1" x2="2240.6" y2="557.1" stroke="#ebebeb" stroke-width="4"/>
<line x1="1568" y1="579.05" x2="2240.6" y2="579.05" stroke="#ebebeb" stroke-width="4"/>
<line x1="1568" y1="601" x2="2240.6" y2="601" stroke="#ebebeb" stroke-width="4"/>
<line x1="1568" y1="622.95" x2="2240.6" y2="622.95" stroke="#ebebeb" stroke-width="4"/>
<line x1="1568" y1="644.9" x2="2240.6" y2="644.9" stroke="#ebebeb" stroke-width="4"/>
<line x1="1568" y1="666.85" x2="2240.6" y2="666.85" stroke="#ebebeb" stroke-width="4"/>
<line x1="1568" y1="688.8" x2="2240.6" y2="688.8" stroke="#ebebeb" stroke-width="4"/>
<line x1="1568" y1="710.75" x2="2240.6" y2="710.75" stroke="#ebebeb" stroke-width="4"/>
<line x1="1568" y1="732.7" x2="2240.6" y2="732.7" stroke="#ebebeb" stroke-width="4"/>
<line x1="1568" y1="754.65" x2="2240.6" y2="754.65" stroke="#ebebeb" stroke-width="4"/>
<line x1="1568" y1="776.6" x2="2240.6" y2="776.6" stroke="#ebebeb" stroke-width="4"/>
<line x1="1568" y1="798.55" x2="2240.6" y2="798.55" stroke="#ebebeb" stroke-width="4"/>
<line x1="1568" y1="820.5" x2="2240.6" y2="820.5" stroke="#ebebeb" stroke-width="4"/>
<line x1="1568" y1="842.45" x2="2240.6" y2="842.45" stroke="#ebebeb" stroke-width="4"/>
<line x1="1568" y1="864.4" x2="2240.6" y2="864.4" stroke="#ebebeb" stroke-width="4"/>
<line x1="1568" y1="886.35" x2="2240.6" y2="886.35" stroke="#ebebeb" stroke-width="4"/>
<line x1="1568" y1="908.3" x2="2240.6" y2="908.3" stroke="#ebebeb" stroke-width="4"/>
<line x1="1568" y1="930.25" x2="2240.6" y2="930.25" stroke="#ebebeb" stroke-width="4"/>
<line x1="1568" y1="952.2" x2="2240.6" y2="952.2" stroke="#ebebeb" stroke-width="4"/>
<line x1="1568" y1="974.15" x2="2240.6" y2="974.15" stroke="#ebebeb" stroke-width="4"/>
<line x1="1568" y1="996.1" x2="2240.6" y2="996.1" stroke="#ebebeb" stroke-width="4"/>
<line x1="1568" y1="1018.05" x2="2240.6" y2="1018.05" stroke="#ebebeb" stroke-width="4"/>
<line x1="1568" y1="1040" x2="2240.6" y2="1040" stroke="#ebebeb" stroke-width="4"/>
<line x1="1568" y1="1061.95" x2="2240.6" y2="1061.95" stroke="#ebebeb" stroke-width="4"/>
<line x1="1568" y1="1083.9" x2="2240.6" y2="1083.9" stroke="#ebebeb" stroke-width="4"/>
<line x1="1568" y1="1105.85" x2="2240.6" y2="1105.85" stroke="#ebebeb" stroke-width="4"/>
<rect x="1953.1" y="22.55" width="257.3" height="15.5" fill="#efc000" stroke="#fff" stroke-width="4.8"/>
<rect x="1953.1" y="44.5" width="103.3" height="15.5" fill="#efc000" stroke="#fff" stroke-width="4.8"/>
<rect x="1953.1" y="66.45" width="81.05" height="15.5" fill="#efc000" stroke="#fff" stroke-width="4.8"/>
<rect x="1953.1" y="88.4" width="80.55" height="15.5" fill="#efc000" stroke="#fff" stroke-width="4.8"/>
<rect x="1953.1" y="110.35" width="60.8" height="15.5" fill="#868686" stroke="#fff" stroke-width="4.8"/>
<rect x="1953.1" y="132.3" width="49.3" height="15.5" fill="#868686" stroke="#fff" stroke-width="4.8"/>
<rect x="1953.1" y="154.25" width="43.05" height="15.5" fill="#868686" stroke="#fff" stroke-width="4.8"/>
<rect x="1953.1" y="176.2" width="32.55" height="15.5" fill="#868686" stroke="#fff" stroke-width="4.8"/>
<rect x="1953.1" y="198.15" width="25.55" height="15.5" fill="#868686" stroke="#fff" stroke-width="4.8"/>
<rect x="1953.1" y="220.1" width="22.3" height="15.5" fill="#868686" stroke="#fff" stroke-width="4.8"/>
<rect x="1953.1" y="242.05" width="20.55" height="15.5" fill="#868686" stroke="#fff" stroke-width="4.8"/>
<rect x="1953.1" y="264" width="16.05" height="15.5" fill="#868686" stroke="#fff" stroke-width="4.8"/>
<rect x="1953.1" y="285.95" width="11.3" height="15.5" fill="#868686" stroke="#fff" stroke-width="4.8"/>
<rect x="1952.1" y="307.9" width="1" height="15.5" fill="#868686" stroke="#fff" stroke-width="4.8"/>
<line x1="1950.4" y1="310.45" x2="1950.4" y2="320.85" stroke="#777" stroke-width="0.7"/>
<rect x="1944.6" y="329.85" width="8.5" height="15.5" fill="#868686" stroke="#fff" stroke-width="4.8"/>
<rect x="1937.6" y="351.8" width="15.5" height="15.5" fill="#868686" stroke="#fff" stroke-width="4.8"/>
<rect x="1936.6" y="373.75" width="16.5" height="15.5" fill="#868686" stroke="#fff" stroke-width="4.8"/>
<rect x="1935.1" y="395.7" width="18" height="15.5" fill="#868686" stroke="#fff" stroke-width="4.8"/>
<rect x="1928.35" y="417.65" width="24.75" height="15.5" fill="#868686" stroke="#fff" stroke-width="4.8"/>
<rect x="1927.85" y="439.6" width="25.25" height="15.5" fill="#868686" stroke="#fff" stroke-width="4.8"/>
<rect x="1919.6" y="461.55" width="33.5" height="15.5" fill="#868686" stroke="#fff" stroke-width="4.8"/>
<rect x="1915.85" y="483.5" width="37.25" height="15.5" fill="#868686" stroke="#fff" stroke-width="4.8"/>
<rect x="1909.35" y="505.45" width="43.75" height="15.5" fill="#868686" stroke="#fff" stroke-width="4.8"/>
<rect x="1908.85" y="527.4" width="44.25" height="15.5" fill="#868686" stroke="#fff" stroke-width="4.8"/>
<rect x="1906.85" y="549.35" width="46.25" height="15.5" fill="#868686" stroke="#fff" stroke-width="4.8"/>
<rect x="1895.85" y="571.3" width="57.25" height="15.5" fill="#868686" stroke="#fff" stroke-width="4.8"/>
<rect x="1871.85" y="593.25" width="81.25" height="15.5" fill="#0073c2" stroke="#fff" stroke-width="4.8"/>
<rect x="1857.35" y="615.2" width="95.75" height="15.5" fill="#0073c2" stroke="#fff" stroke-width="4.8"/>
<rect x="1850.35" y="637.15" width="102.75" height="15.5" fill="#0073c2" stroke="#fff" stroke-width="4.8"/>
<rect x="1847.6" y="659.1" width="105.5" height="15.5" fill="#0073c2" stroke="#fff" stroke-width="4.8"/>
<rect x="1823.6" y="681.05" width="129.5" height="15.5" fill="#0073c2" stroke="#fff" stroke-width="4.8"/>
<rect x="1806.85" y="703" width="146.25" height="15.5" fill="#0073c2" stroke="#fff" stroke-width="4.8"/>
<rect x="1804.1" y="724.95" width="149" height="15.5" fill="#0073c2" stroke="#fff" stroke-width="4.8"/>
<rect x="1802.85" y="746.9" width="150.25" height="15.5" fill="#0073c2" stroke="#fff" stroke-width="4.8"/>
<rect x="1797.6" y="768.85" width="155.5" height="15.5" fill="#0073c2" stroke="#fff" stroke-width="4.8"/>
<rect x="1796.85" y="790.8" width="156.25" height="15.5" fill="#0073c2" stroke="#fff" stroke-width="4.8"/>
<rect x="1768.85" y="812.75" width="184.25" height="15.5" fill="#0073c2" stroke="#fff" stroke-width="4.8"/>
<rect x="1766.35" y="834.7" width="186.75" height="15.5" fill="#0073c2" stroke="#fff" stroke-width="4.8"/>
<rect x="1764.85" y="856.65" width="188.25" height="15.5" fill="#0073c2" stroke="#fff" stroke-width="4.8"/>
<rect x="1753.6" y="878.6" width="199.5" height="15.5" fill="#0073c2" stroke="#fff" stroke-width="4.8"/>
<rect x="1734.85" y="900.55" width="218.25" height="15.5" fill="#0073c2" stroke="#fff" stroke-width="4.8"/>
<rect x="1723.6" y="922.5" width="229.5" height="15.5" fill="#0073c2" stroke="#fff" stroke-width="4.8"/>
<rect x="1720.6" y="944.45" width="232.5" height="15.5" fill="#0073c2" stroke="#fff" stroke-width="4.8"/>
<rect x="1715.6" y="966.4" width="237.5" height="15.5" fill="#0073c2" stroke="#fff" stroke-width="4.8"/>
<rect x="1713.6" y="988.35" width="239.5" height="15.5" fill="#0073c2" stroke="#fff" stroke-width="4.8"/>
<rect x="1707.6" y="1010.3" width="245.5" height="15.5" fill="#0073c2" stroke="#fff" stroke-width="4.8"/>
<rect x="1704.6" y="1032.25" width="248.5" height="15.5" fill="#0073c2" stroke="#fff" stroke-width="4.8"/>
<rect x="1698.6" y="1054.2" width="254.5" height="15.5" fill="#0073c2" stroke="#fff" stroke-width="4.8"/>
<rect x="1655.6" y="1076.15" width="297.5" height="15.5" fill="#0073c2" stroke="#fff" stroke-width="4.8"/>
<rect x="1597.85" y="1098.1" width="355.25" height="15.5" fill="#0073c2" stroke="#fff" stroke-width="4.8"/>
<rect x="1563" y="28.1" width="4.6" height="4.4" fill="#000"/>
<text x="1559.2" y="35.6" font-size="14.5" text-anchor="end" fill="#4d4d4d">BILE ACID METABOLISM</text>
<rect x="1563" y="50.05" width="4.6" height="4.4" fill="#000"/>
<text x="1559.2" y="57.55" font-size="14.5" text-anchor="end" fill="#4d4d4d">MYOGENESIS</text>
<rect x="1563" y="72" width="4.6" height="4.4" fill="#000"/>
<text x="1559.2" y="79.5" font-size="14.5" text-anchor="end" fill="#4d4d4d">KRAS SIGNALING UP</text>
<rect x="1563" y="93.95" width="4.6" height="4.4" fill="#000"/>
<text x="1559.2" y="101.45" font-size="14.5" text-anchor="end" fill="#4d4d4d">PEROXISOME</text>
<rect x="1563" y="115.9" width="4.6" height="4.4" fill="#000"/>
<text x="1559.2" y="123.4" font-size="14.5" text-anchor="end" fill="#4d4d4d">XENOBIOTIC METABOLISM</text>
<rect x="1563" y="137.85" width="4.6" height="4.4" fill="#000"/>
<text x="1559.2" y="145.35" font-size="14.5" text-anchor="end" fill="#4d4d4d">ALLOGRAFT REJECTION</text>
<rect x="1563" y="159.8" width="4.6" height="4.4" fill="#000"/>
<text x="1559.2" y="167.3" font-size="14.5" text-anchor="end" fill="#4d4d4d">COAGULATION</text>
<rect x="1563" y="181.75" width="4.6" height="4.4" fill="#000"/>
<text x="1559.2" y="189.25" font-size="14.5" text-anchor="end" fill="#4d4d4d">FATTY ACID METABOLISM</text>
<rect x="1563" y="203.7" width="4.6" height="4.4" fill="#000"/>
<text x="1559.2" y="211.2" font-size="14.5" text-anchor="end" fill="#4d4d4d">KRAS SIGNALING DN</text>
<rect x="1563" y="225.65" width="4.6" height="4.4" fill="#000"/>
<text x="1559.2" y="233.15" font-size="14.5" text-anchor="end" fill="#4d4d4d">UV RESPONSE DN</text>
<rect x="1563" y="247.6" width="4.6" height="4.4" fill="#000"/>
<text x="1559.2" y="255.1" font-size="14.5" text-anchor="end" fill="#4d4d4d">NOTCH SIGNALING</text>
<rect x="1563" y="269.55" width="4.6" height="4.4" fill="#000"/>
<text x="1559.2" y="277.05" font-size="14.5" text-anchor="end" fill="#4d4d4d">ADIPOGENESIS</text>
<rect x="1563" y="291.5" width="4.6" height="4.4" fill="#000"/>
<text x="1559.2" y="299" font-size="14.5" text-anchor="end" fill="#4d4d4d">IL2 STAT5 SIGNALING</text>
<rect x="1563" y="313.45" width="4.6" height="4.4" fill="#000"/>
<text x="1559.2" y="320.95" font-size="14.5" text-anchor="end" fill="#4d4d4d">EPITHELIAL MESENCHYMAL TRANSITION</text>
<rect x="1563" y="335.4" width="4.6" height="4.4" fill="#000"/>
<text x="1559.2" y="342.9" font-size="14.5" text-anchor="end" fill="#4d4d4d">OXIDATIVE PHOSPHORYLATION</text>
<rect x="1563" y="357.35" width="4.6" height="4.4" fill="#000"/>
<text x="1559.2" y="364.85" font-size="14.5" text-anchor="end" fill="#4d4d4d">INTERFERON ALPHA RESPONSE</text>
<rect x="1563" y="379.3" width="4.6" height="4.4" fill="#000"/>
<text x="1559.2" y="386.8" font-size="14.5" text-anchor="end" fill="#4d4d4d">COMPLEMENT</text>
<rect x="1563" y="401.25" width="4.6" height="4.4" fill="#000"/>
<text x="1559.2" y="408.75" font-size="14.5" text-anchor="end" fill="#4d4d4d">INTERFERON GAMMA RESPONSE</text>
<rect x="1563" y="423.2" width="4.6" height="4.4" fill="#000"/>
<text x="1559.2" y="430.7" font-size="14.5" text-anchor="end" fill="#4d4d4d">REACTIVE OXYGEN SPECIES PATHWAY</text>
<rect x="1563" y="445.15" width="4.6" height="4.4" fill="#000"/>
<text x="1559.2" y="452.65" font-size="14.5" text-anchor="end" fill="#4d4d4d">APICAL SURFACE</text>
<rect x="1563" y="467.1" width="4.6" height="4.4" fill="#000"/>
<text x="1559.2" y="474.6" font-size="14.5" text-anchor="end" fill="#4d4d4d">IL6 JAK STAT3 SIGNALING</text>
<rect x="1563" y="489.05" width="4.6" height="4.4" fill="#000"/>
<text x="1559.2" y="496.55" font-size="14.5" text-anchor="end" fill="#4d4d4d">INFLAMMATORY RESPONSE</text>
<rect x="1563" y="511" width="4.6" height="4.4" fill="#000"/>
<text x="1559.2" y="518.5" font-size="14.5" text-anchor="end" fill="#4d4d4d">ANGIOGENESIS</text>
<rect x="1563" y="532.95" width="4.6" height="4.4" fill="#000"/>
<text x="1559.2" y="540.45" font-size="14.5" text-anchor="end" fill="#4d4d4d">ESTROGEN RESPONSE EARLY</text>
<rect x="1563" y="554.9" width="4.6" height="4.4" fill="#000"/>
<text x="1559.2" y="562.4" font-size="14.5" text-anchor="end" fill="#4d4d4d">PANCREAS BETA CELLS</text>
<rect x="1563" y="576.85" width="4.6" height="4.4" fill="#000"/>
<text x="1559.2" y="584.35" font-size="14.5" text-anchor="end" fill="#4d4d4d">DNA REPAIR</text>
<rect x="1563" y="598.8" width="4.6" height="4.4" fill="#000"/>
<text x="1559.2" y="606.3" font-size="14.5" text-anchor="end" fill="#4d4d4d">SPERMATOGENESIS</text>
<rect x="1563" y="620.75" width="4.6" height="4.4" fill="#000"/>
<text x="1559.2" y="628.25" font-size="14.5" text-anchor="end" fill="#4d4d4d">APICAL JUNCTION</text>
<rect x="1563" y="642.7" width="4.6" height="4.4" fill="#000"/>
<text x="1559.2" y="650.2" font-size="14.5" text-anchor="end" fill="#4d4d4d">APOPTOSIS</text>
<rect x="1563" y="664.65" width="4.6" height="4.4" fill="#000"/>
<text x="1559.2" y="672.15" font-size="14.5" text-anchor="end" fill="#4d4d4d">ESTROGEN RESPONSE LATE</text>
<rect x="1563" y="686.6" width="4.6" height="4.4" fill="#000"/>
<text x="1559.2" y="694.1" font-size="14.5" text-anchor="end" fill="#4d4d4d">HEDGEHOG SIGNALING</text>
<rect x="1563" y="708.55" width="4.6" height="4.4" fill="#000"/>
<text x="1559.2" y="716.05" font-size="14.5" text-anchor="end" fill="#4d4d4d">HEME METABOLISM</text>
<rect x="1563" y="730.5" width="4.6" height="4.4" fill="#000"/>
<text x="1559.2" y="738" font-size="14.5" text-anchor="end" fill="#4d4d4d">ANDROGEN RESPONSE</text>
<rect x="1563" y="752.45" width="4.6" height="4.4" fill="#000"/>
<text x="1559.2" y="759.95" font-size="14.5" text-anchor="end" fill="#4d4d4d">PROTEIN SECRETION</text>
<rect x="1563" y="774.4" width="4.6" height="4.4" fill="#000"/>
<text x="1559.2" y="781.9" font-size="14.5" text-anchor="end" fill="#4d4d4d">TNFA SIGNALING VIA NFKB</text>
<rect x="1563" y="796.35" width="4.6" height="4.4" fill="#000"/>
<text x="1559.2" y="803.85" font-size="14.5" text-anchor="end" fill="#4d4d4d">WNT BETA CATENIN SIGNALING</text>
<rect x="1563" y="818.3" width="4.6" height="4.4" fill="#000"/>
<text x="1559.2" y="825.8" font-size="14.5" text-anchor="end" fill="#4d4d4d">CHOLESTEROL HOMEOSTASIS</text>
<rect x="1563" y="840.25" width="4.6" height="4.4" fill="#000"/>
<text x="1559.2" y="847.75" font-size="14.5" text-anchor="end" fill="#4d4d4d">E2F TARGETS</text>
<rect x="1563" y="862.2" width="4.6" height="4.4" fill="#000"/>
<text x="1559.2" y="869.7" font-size="14.5" text-anchor="end" fill="#4d4d4d">MITOTIC SPINDLE</text>
<rect x="1563" y="884.15" width="4.6" height="4.4" fill="#000"/>
<text x="1559.2" y="891.65" font-size="14.5" text-anchor="end" fill="#4d4d4d">TGF BETA SIGNALING</text>
<rect x="1563" y="906.1" width="4.6" height="4.4" fill="#000"/>
<text x="1559.2" y="913.6" font-size="14.5" text-anchor="end" fill="#4d4d4d">MYC TARGETS V2</text>
<rect x="1563" y="928.05" width="4.6" height="4.4" fill="#000"/>
<text x="1559.2" y="935.55" font-size="14.5" text-anchor="end" fill="#4d4d4d">G2M CHECKPOINT</text>
<rect x="1563" y="950" width="4.6" height="4.4" fill="#000"/>
<text x="1559.2" y="957.5" font-size="14.5" text-anchor="end" fill="#4d4d4d">P53 PATHWAY</text>
<rect x="1563" y="971.95" width="4.6" height="4.4" fill="#000"/>
<text x="1559.2" y="979.45" font-size="14.5" text-anchor="end" fill="#4d4d4d">UV RESPONSE UP</text>
<rect x="1563" y="993.9" width="4.6" height="4.4" fill="#000"/>
<text x="1559.2" y="1001.4" font-size="14.5" text-anchor="end" fill="#4d4d4d">MYC TARGETS V1</text>
<rect x="1563" y="1015.85" width="4.6" height="4.4" fill="#000"/>
<text x="1559.2" y="1023.35" font-size="14.5" text-anchor="end" fill="#4d4d4d">GLYCOLYSIS</text>
<rect x="1563" y="1037.8" width="4.6" height="4.4" fill="#000"/>
<text x="1559.2" y="1045.3" font-size="14.5" text-anchor="end" fill="#4d4d4d">PI3K AKT MTOR SIGNALING</text>
<rect x="1563" y="1059.75" width="4.6" height="4.4" fill="#000"/>
<text x="1559.2" y="1067.25" font-size="14.5" text-anchor="end" fill="#4d4d4d">UNFOLDED PROTEIN RESPONSE</text>
<rect x="1563" y="1081.7" width="4.6" height="4.4" fill="#000"/>
<text x="1559.2" y="1089.2" font-size="14.5" text-anchor="end" fill="#4d4d4d">HYPOXIA</text>
<rect x="1563" y="1103.65" width="4.6" height="4.4" fill="#000"/>
<text x="1559.2" y="1111.15" font-size="14.5" text-anchor="end" fill="#4d4d4d">MTORC1 SIGNALING</text>
<rect x="1585.5" y="1119.2" width="4.4" height="4.5" fill="#000"/>
<text x="1587.7" y="1137.5" font-size="14" text-anchor="middle" fill="#4d4d4d">−0.6</text>
<rect x="1707.3" y="1119.2" width="4.4" height="4.5" fill="#000"/>
<text x="1709.5" y="1137.5" font-size="14" text-anchor="middle" fill="#4d4d4d">−0.4</text>
<rect x="1829.1" y="1119.2" width="4.4" height="4.5" fill="#000"/>
<text x="1831.3" y="1137.5" font-size="14" text-anchor="middle" fill="#4d4d4d">−0.2</text>
<rect x="1950.9" y="1119.2" width="4.4" height="4.5" fill="#000"/>
<text x="1953.1" y="1137.5" font-size="14" text-anchor="middle" fill="#4d4d4d">0.0</text>
<rect x="2072.7" y="1119.2" width="4.4" height="4.5" fill="#000"/>
<text x="2074.9" y="1137.5" font-size="14" text-anchor="middle" fill="#4d4d4d">0.2</text>
<rect x="2194.5" y="1119.2" width="4.4" height="4.5" fill="#000"/>
<text x="2196.7" y="1137.5" font-size="14" text-anchor="middle" fill="#4d4d4d">0.4</text>
<text x="1904.3" y="1157.5" font-size="17.6" text-anchor="middle">GSVA correlation</text>
<text font-size="17.6" text-anchor="middle" transform="translate(1261.2 568.4) rotate(-90)">Term</text>
<text x="2267.8" y="527" font-size="17.6">group</text>
<rect x="2271.2" y="542.7" width="20.7" height="20.7" fill="#0073c2"/>
<text x="2304.7" y="558.15" font-size="14.3">negative</text>
<rect x="2271.2" y="570.55" width="20.7" height="20.7" fill="#efc000"/>
<text x="2304.7" y="586" font-size="14.3">positive</text>
<rect x="2271.2" y="598.4" width="20.7" height="20.7" fill="#868686"/>
<text x="2304.7" y="613.85" font-size="14.3">pvalue&gt;0.05</text>
</g>
<g id="panelC">
<text x="987.5" y="1266.5" font-size="43" font-weight="bold">C</text>
<path d="M1051.5 1342.6V1813.7H1684.2" fill="none" stroke="#000" stroke-width="2.2" stroke-linejoin="round"/>
<line x1="1045.2" y1="1803.5" x2="1051.5" y2="1803.5" stroke="#000" stroke-width="1.9"/>
<text x="1040.1" y="1811.85" font-size="23.3" text-anchor="end">0</text>
<line x1="1045.2" y1="1712.1" x2="1051.5" y2="1712.1" stroke="#000" stroke-width="1.9"/>
<text x="1040.1" y="1720.45" font-size="23.3" text-anchor="end">1</text>
<line x1="1045.2" y1="1620.7" x2="1051.5" y2="1620.7" stroke="#000" stroke-width="1.9"/>
<text x="1040.1" y="1629.05" font-size="23.3" text-anchor="end">2</text>
<line x1="1045.2" y1="1529.3" x2="1051.5" y2="1529.3" stroke="#000" stroke-width="1.9"/>
<text x="1040.1" y="1537.65" font-size="23.3" text-anchor="end">3</text>
<line x1="1045.2" y1="1437.9" x2="1051.5" y2="1437.9" stroke="#000" stroke-width="1.9"/>
<text x="1040.1" y="1446.25" font-size="23.3" text-anchor="end">4</text>
<line x1="1045.2" y1="1346.5" x2="1051.5" y2="1346.5" stroke="#000" stroke-width="1.9"/>
<text x="1040.1" y="1354.85" font-size="23.3" text-anchor="end">5</text>
<line x1="1224.1" y1="1813.7" x2="1224.1" y2="1820" stroke="#000" stroke-width="1.9"/>
<text x="1224.1" y="1840.8" font-size="23.3" text-anchor="middle">Low</text>
<line x1="1512.2" y1="1813.7" x2="1512.2" y2="1820" stroke="#000" stroke-width="1.9"/>
<text x="1512.2" y="1840.8" font-size="23.3" text-anchor="middle">High</text>
<text x="1367.65" y="1868.7" font-size="23.3" text-anchor="middle">Score Group</text>
<text font-size="23.3" text-anchor="middle" transform="translate(1016.8 1578.15) rotate(-90)">PDCD1 expression</text>
<line x1="1224.1" y1="1532.5" x2="1224.1" y2="1659.2" stroke="#000" stroke-width="2"/>
<line x1="1224.1" y1="1751.8" x2="1224.1" y2="1788.6" stroke="#000" stroke-width="2"/>
<rect x="1123.4" y="1659.2" width="201.4" height="92.6" fill="#00afbb" stroke="#000" stroke-width="2"/>
<line x1="1123.4" y1="1715.3" x2="1324.8" y2="1715.3" stroke="#000" stroke-width="4.6"/>
<circle cx="1224.1" cy="1403.3" r="4.8"/>
<circle cx="1224.1" cy="1475.9" r="4.8"/>
<circle cx="1224.1" cy="1499.2" r="4.8"/>
<circle cx="1224.1" cy="1518.8" r="4.8"/>
<line x1="1512.2" y1="1461.5" x2="1512.2" y2="1618.6" stroke="#000" stroke-width="2"/>
<line x1="1512.2" y1="1726" x2="1512.2" y2="1792.4" stroke="#000" stroke-width="2"/>
<rect x="1411.5" y="1618.6" width="201.4" height="107.4" fill="#e7b800" stroke="#000" stroke-width="2"/>
<line x1="1411.5" y1="1675.8" x2="1612.9" y2="1675.8" stroke="#000" stroke-width="4.6"/>
<circle cx="1512.2" cy="1416.4" r="4.8"/>
<circle cx="1512.2" cy="1425.7" r="4.8"/>
<path d="M1224.1 1375.5V1362.5H1512.2V1375.5" fill="none" stroke="#1a1a1a" stroke-width="1.1"/>
<text x="1368.15" y="1356.2" font-size="20" text-anchor="middle">***</text>
<text x="1368.15" y="1392.9" font-size="27.2" text-anchor="middle">p.adjust = 0.00017</text>
<text x="1242.6" y="1297.6" font-size="23.3">Score</text>
<line x1="1332.1" y1="1275.9" x2="1332.1" y2="1302.7" stroke="#000" stroke-width="1.5"/>
<rect x="1319.4" y="1281.2" width="25.4" height="16.8" fill="#00afbb" stroke="#000" stroke-width="1.5"/>
<line x1="1319.4" y1="1289.5" x2="1344.8" y2="1289.5" stroke="#000" stroke-width="1.9"/>
<text x="1362.1" y="1295.9" font-size="19.3">Low</text>
<line x1="1425.5" y1="1275.9" x2="1425.5" y2="1302.7" stroke="#000" stroke-width="1.5"/>
<rect x="1412.8" y="1281.2" width="25.4" height="16.8" fill="#e7b800" stroke="#000" stroke-width="1.5"/>
<line x1="1412.8" y1="1289.5" x2="1438.2" y2="1289.5" stroke="#000" stroke-width="1.9"/>
<text x="1455.3" y="1295.9" font-size="19.3">High</text>
<path d="M1759.9 1342.6V1813.7H2392.6" fill="none" stroke="#000" stroke-width="2.2" stroke-linejoin="round"/>
<line x1="1753.6" y1="1803.4" x2="1759.9" y2="1803.4" stroke="#000" stroke-width="1.9"/>
<text x="1748.5" y="1811.75" font-size="23.3" text-anchor="end">0</text>
<line x1="1753.6" y1="1716.7" x2="1759.9" y2="1716.7" stroke="#000" stroke-width="1.9"/>
<text x="1748.5" y="1725.05" font-size="23.3" text-anchor="end">1</text>
<line x1="1753.6" y1="1630" x2="1759.9" y2="1630" stroke="#000" stroke-width="1.9"/>
<text x="1748.5" y="1638.35" font-size="23.3" text-anchor="end">2</text>
<line x1="1753.6" y1="1543.3" x2="1759.9" y2="1543.3" stroke="#000" stroke-width="1.9"/>
<text x="1748.5" y="1551.65" font-size="23.3" text-anchor="end">3</text>
<line x1="1753.6" y1="1456.6" x2="1759.9" y2="1456.6" stroke="#000" stroke-width="1.9"/>
<text x="1748.5" y="1464.95" font-size="23.3" text-anchor="end">4</text>
<line x1="1753.6" y1="1369.9" x2="1759.9" y2="1369.9" stroke="#000" stroke-width="1.9"/>
<text x="1748.5" y="1378.25" font-size="23.3" text-anchor="end">5</text>
<line x1="1932.5" y1="1813.7" x2="1932.5" y2="1820" stroke="#000" stroke-width="1.9"/>
<text x="1932.5" y="1840.8" font-size="23.3" text-anchor="middle">Low</text>
<line x1="2220.6" y1="1813.7" x2="2220.6" y2="1820" stroke="#000" stroke-width="1.9"/>
<text x="2220.6" y="1840.8" font-size="23.3" text-anchor="middle">High</text>
<text x="2076.05" y="1868.7" font-size="23.3" text-anchor="middle">Score Group</text>
<text font-size="23.3" text-anchor="middle" transform="translate(1725.2 1578.15) rotate(-90)">TIGIT expression</text>
<line x1="1932.5" y1="1547.2" x2="1932.5" y2="1665" stroke="#000" stroke-width="2"/>
<line x1="1932.5" y1="1749.6" x2="1932.5" y2="1789" stroke="#000" stroke-width="2"/>
<rect x="1831.8" y="1665" width="201.4" height="84.6" fill="#00afbb" stroke="#000" stroke-width="2"/>
<line x1="1831.8" y1="1717.4" x2="2033.2" y2="1717.4" stroke="#000" stroke-width="4.6"/>
<circle cx="1932.5" cy="1529.2" r="4.8"/>
<line x1="2220.6" y1="1467.9" x2="2220.6" y2="1623.8" stroke="#000" stroke-width="2"/>
<line x1="2220.6" y1="1732.2" x2="2220.6" y2="1792.2" stroke="#000" stroke-width="2"/>
<rect x="2119.9" y="1623.8" width="201.4" height="108.4" fill="#e7b800" stroke="#000" stroke-width="2"/>
<line x1="2119.9" y1="1673.5" x2="2321.3" y2="1673.5" stroke="#000" stroke-width="4.6"/>
<circle cx="2220.6" cy="1403.4" r="4.8"/>
<circle cx="2220.6" cy="1411.9" r="4.8"/>
<circle cx="2220.6" cy="1445.5" r="4.8"/>
<circle cx="2220.6" cy="1460.7" r="4.8"/>
<path d="M1932.5 1375.5V1362.5H2220.6V1375.5" fill="none" stroke="#1a1a1a" stroke-width="1.1"/>
<text x="2076.55" y="1356.2" font-size="20" text-anchor="middle">***</text>
<text x="2076.55" y="1392.9" font-size="27.2" text-anchor="middle">p.adjust = 0.00015</text>
<text x="1951" y="1297.6" font-size="23.3">Score</text>
<line x1="2040.5" y1="1275.9" x2="2040.5" y2="1302.7" stroke="#000" stroke-width="1.5"/>
<rect x="2027.8" y="1281.2" width="25.4" height="16.8" fill="#00afbb" stroke="#000" stroke-width="1.5"/>
<line x1="2027.8" y1="1289.5" x2="2053.2" y2="1289.5" stroke="#000" stroke-width="1.9"/>
<text x="2070.5" y="1295.9" font-size="19.3">Low</text>
<line x1="2133.9" y1="1275.9" x2="2133.9" y2="1302.7" stroke="#000" stroke-width="1.5"/>
<rect x="2121.2" y="1281.2" width="25.4" height="16.8" fill="#e7b800" stroke="#000" stroke-width="1.5"/>
<line x1="2121.2" y1="1289.5" x2="2146.6" y2="1289.5" stroke="#000" stroke-width="1.9"/>
<text x="2163.7" y="1295.9" font-size="19.3">High</text>
<path d="M1055.9 2019V2490.1H1688.6" fill="none" stroke="#000" stroke-width="2.2" stroke-linejoin="round"/>
<line x1="1049.6" y1="2483.4" x2="1055.9" y2="2483.4" stroke="#000" stroke-width="1.9"/>
<text x="1044.5" y="2491.75" font-size="23.3" text-anchor="end">0</text>
<line x1="1049.6" y1="2339.6" x2="1055.9" y2="2339.6" stroke="#000" stroke-width="1.9"/>
<text x="1044.5" y="2347.95" font-size="23.3" text-anchor="end">2</text>
<line x1="1049.6" y1="2195.8" x2="1055.9" y2="2195.8" stroke="#000" stroke-width="1.9"/>
<text x="1044.5" y="2204.15" font-size="23.3" text-anchor="end">4</text>
<line x1="1049.6" y1="2052" x2="1055.9" y2="2052" stroke="#000" stroke-width="1.9"/>
<text x="1044.5" y="2060.35" font-size="23.3" text-anchor="end">6</text>
<line x1="1228.5" y1="2490.1" x2="1228.5" y2="2496.4" stroke="#000" stroke-width="1.9"/>
<text x="1228.5" y="2517.2" font-size="23.3" text-anchor="middle">Low</text>
<line x1="1516.6" y1="2490.1" x2="1516.6" y2="2496.4" stroke="#000" stroke-width="1.9"/>
<text x="1516.6" y="2517.2" font-size="23.3" text-anchor="middle">High</text>
<text x="1372.05" y="2545.1" font-size="23.3" text-anchor="middle">Score Group</text>
<text font-size="23.3" text-anchor="middle" transform="translate(1021.2 2254.55) rotate(-90)">LAG3 expression</text>
<line x1="1228.5" y1="2149.2" x2="1228.5" y2="2299.7" stroke="#000" stroke-width="2"/>
<line x1="1228.5" y1="2410.4" x2="1228.5" y2="2468.6" stroke="#000" stroke-width="2"/>
<rect x="1127.8" y="2299.7" width="201.4" height="110.7" fill="#00afbb" stroke="#000" stroke-width="2"/>
<line x1="1127.8" y1="2356.6" x2="1329.2" y2="2356.6" stroke="#000" stroke-width="4.6"/>
<circle cx="1228.5" cy="2098.6" r="4.8"/>
<circle cx="1228.5" cy="2128.6" r="4.8"/>
<line x1="1516.6" y1="2110.7" x2="1516.6" y2="2277.3" stroke="#000" stroke-width="2"/>
<line x1="1516.6" y1="2392" x2="1516.6" y2="2457" stroke="#000" stroke-width="2"/>
<rect x="1415.9" y="2277.3" width="201.4" height="114.7" fill="#e7b800" stroke="#000" stroke-width="2"/>
<line x1="1415.9" y1="2345.9" x2="1617.3" y2="2345.9" stroke="#000" stroke-width="4.6"/>
<circle cx="1516.6" cy="2079.8" r="4.8"/>
<circle cx="1516.6" cy="2104.4" r="4.8"/>
<path d="M1228.5 2051.9V2038.9H1516.6V2051.9" fill="none" stroke="#1a1a1a" stroke-width="1.1"/>
<text x="1372.55" y="2034.3" font-size="21" text-anchor="middle">ns</text>
<text x="1372.55" y="2069.3" font-size="27.2" text-anchor="middle">p.adjust = 0.053</text>
<text x="1247" y="1974" font-size="23.3">Score</text>
<line x1="1336.5" y1="1952.3" x2="1336.5" y2="1979.1" stroke="#000" stroke-width="1.5"/>
<rect x="1323.8" y="1957.6" width="25.4" height="16.8" fill="#00afbb" stroke="#000" stroke-width="1.5"/>
<line x1="1323.8" y1="1965.9" x2="1349.2" y2="1965.9" stroke="#000" stroke-width="1.9"/>
<text x="1366.5" y="1972.3" font-size="19.3">Low</text>
<line x1="1429.9" y1="1952.3" x2="1429.9" y2="1979.1" stroke="#000" stroke-width="1.5"/>
<rect x="1417.2" y="1957.6" width="25.4" height="16.8" fill="#e7b800" stroke="#000" stroke-width="1.5"/>
<line x1="1417.2" y1="1965.9" x2="1442.6" y2="1965.9" stroke="#000" stroke-width="1.9"/>
<text x="1459.7" y="1972.3" font-size="19.3">High</text>
<path d="M1764.4 2015V2486.1H2397.1" fill="none" stroke="#000" stroke-width="2.2" stroke-linejoin="round"/>
<line x1="1758.1" y1="2481.6" x2="1764.4" y2="2481.6" stroke="#000" stroke-width="1.9"/>
<text x="1753" y="2489.95" font-size="23.3" text-anchor="end">0</text>
<line x1="1758.1" y1="2395.6" x2="1764.4" y2="2395.6" stroke="#000" stroke-width="1.9"/>
<text x="1753" y="2403.95" font-size="23.3" text-anchor="end">1</text>
<line x1="1758.1" y1="2309.6" x2="1764.4" y2="2309.6" stroke="#000" stroke-width="1.9"/>
<text x="1753" y="2317.95" font-size="23.3" text-anchor="end">2</text>
<line x1="1758.1" y1="2223.6" x2="1764.4" y2="2223.6" stroke="#000" stroke-width="1.9"/>
<text x="1753" y="2231.95" font-size="23.3" text-anchor="end">3</text>
<line x1="1758.1" y1="2137.6" x2="1764.4" y2="2137.6" stroke="#000" stroke-width="1.9"/>
<text x="1753" y="2145.95" font-size="23.3" text-anchor="end">4</text>
<line x1="1758.1" y1="2051.6" x2="1764.4" y2="2051.6" stroke="#000" stroke-width="1.9"/>
<text x="1753" y="2059.95" font-size="23.3" text-anchor="end">5</text>
<line x1="1937" y1="2486.1" x2="1937" y2="2492.4" stroke="#000" stroke-width="1.9"/>
<text x="1937" y="2513.2" font-size="23.3" text-anchor="middle">Low</text>
<line x1="2225.1" y1="2486.1" x2="2225.1" y2="2492.4" stroke="#000" stroke-width="1.9"/>
<text x="2225.1" y="2513.2" font-size="23.3" text-anchor="middle">High</text>
<text x="2080.55" y="2541.1" font-size="23.3" text-anchor="middle">Score Group</text>
<text font-size="23.3" text-anchor="middle" transform="translate(1729.7 2250.55) rotate(-90)">CTLA4 expression</text>
<line x1="1937" y1="2232.5" x2="1937" y2="2334.7" stroke="#000" stroke-width="2"/>
<line x1="1937" y1="2413.5" x2="1937" y2="2464.6" stroke="#000" stroke-width="2"/>
<rect x="1836.3" y="2334.7" width="201.4" height="78.8" fill="#00afbb" stroke="#000" stroke-width="2"/>
<line x1="1836.3" y1="2371.8" x2="2037.7" y2="2371.8" stroke="#000" stroke-width="4.6"/>
<line x1="2225.1" y1="2141.2" x2="2225.1" y2="2294.8" stroke="#000" stroke-width="2"/>
<line x1="2225.1" y1="2396.5" x2="2225.1" y2="2463.2" stroke="#000" stroke-width="2"/>
<rect x="2124.4" y="2294.8" width="201.4" height="101.7" fill="#e7b800" stroke="#000" stroke-width="2"/>
<line x1="2124.4" y1="2345" x2="2325.8" y2="2345" stroke="#000" stroke-width="4.6"/>
<circle cx="2225.1" cy="2075.8" r="4.8"/>
<circle cx="2225.1" cy="2141.2" r="4.8"/>
<path d="M1937 2047.9V2034.9H2225.1V2047.9" fill="none" stroke="#1a1a1a" stroke-width="1.1"/>
<text x="2081.05" y="2028.6" font-size="20" text-anchor="middle">**</text>
<text x="2081.05" y="2065.3" font-size="27.2" text-anchor="middle">p.adjust = 0.003</text>
<text x="1955.5" y="1970" font-size="23.3">Score</text>
<line x1="2045" y1="1948.3" x2="2045" y2="1975.1" stroke="#000" stroke-width="1.5"/>
<rect x="2032.3" y="1953.6" width="25.4" height="16.8" fill="#00afbb" stroke="#000" stroke-width="1.5"/>
<line x1="2032.3" y1="1961.9" x2="2057.7" y2="1961.9" stroke="#000" stroke-width="1.9"/>
<text x="2075" y="1968.3" font-size="19.3">Low</text>
<line x1="2138.4" y1="1948.3" x2="2138.4" y2="1975.1" stroke="#000" stroke-width="1.5"/>
<rect x="2125.7" y="1953.6" width="25.4" height="16.8" fill="#e7b800" stroke="#000" stroke-width="1.5"/>
<line x1="2125.7" y1="1961.9" x2="2151.1" y2="1961.9" stroke="#000" stroke-width="1.9"/>
<text x="2168.2" y="1968.3" font-size="19.3">High</text>
<path d="M1475 2695.1V3166.2H2107.7" fill="none" stroke="#000" stroke-width="2.2" stroke-linejoin="round"/>
<line x1="1468.7" y1="3162.6" x2="1475" y2="3162.6" stroke="#000" stroke-width="1.9"/>
<text x="1463.6" y="3170.95" font-size="23.3" text-anchor="end">0</text>
<line x1="1468.7" y1="3037.6" x2="1475" y2="3037.6" stroke="#000" stroke-width="1.9"/>
<text x="1463.6" y="3045.95" font-size="23.3" text-anchor="end">2</text>
<line x1="1468.7" y1="2912.6" x2="1475" y2="2912.6" stroke="#000" stroke-width="1.9"/>
<text x="1463.6" y="2920.95" font-size="23.3" text-anchor="end">4</text>
<line x1="1468.7" y1="2787.6" x2="1475" y2="2787.6" stroke="#000" stroke-width="1.9"/>
<text x="1463.6" y="2795.95" font-size="23.3" text-anchor="end">6</text>
<line x1="1647.6" y1="3166.2" x2="1647.6" y2="3172.5" stroke="#000" stroke-width="1.9"/>
<text x="1647.6" y="3193.3" font-size="23.3" text-anchor="middle">Low</text>
<line x1="1935.7" y1="3166.2" x2="1935.7" y2="3172.5" stroke="#000" stroke-width="1.9"/>
<text x="1935.7" y="3193.3" font-size="23.3" text-anchor="middle">High</text>
<text x="1791.15" y="3221.2" font-size="23.3" text-anchor="middle">Score Group</text>
<text font-size="23.3" text-anchor="middle" transform="translate(1440.3 2930.65) rotate(-90)">CD274 expression</text>
<line x1="1647.6" y1="2831.2" x2="1647.6" y2="2970.9" stroke="#000" stroke-width="2"/>
<line x1="1647.6" y1="3075.7" x2="1647.6" y2="3137.1" stroke="#000" stroke-width="2"/>
<rect x="1546.9" y="2970.9" width="201.4" height="104.8" fill="#00afbb" stroke="#000" stroke-width="2"/>
<line x1="1546.9" y1="3026.5" x2="1748.3" y2="3026.5" stroke="#000" stroke-width="4.6"/>
<circle cx="1647.6" cy="2756.8" r="4.8"/>
<circle cx="1647.6" cy="2807" r="4.8"/>
<line x1="1935.7" y1="2822.2" x2="1935.7" y2="2981.2" stroke="#000" stroke-width="2"/>
<line x1="1935.7" y1="3087.8" x2="1935.7" y2="3144.7" stroke="#000" stroke-width="2"/>
<rect x="1835" y="2981.2" width="201.4" height="106.6" fill="#e7b800" stroke="#000" stroke-width="2"/>
<line x1="1835" y1="3054.2" x2="2036.4" y2="3054.2" stroke="#000" stroke-width="4.6"/>
<circle cx="1935.7" cy="2771.1" r="4.8"/>
<circle cx="1935.7" cy="2806.1" r="4.8"/>
<path d="M1647.6 2728V2715H1935.7V2728" fill="none" stroke="#1a1a1a" stroke-width="1.1"/>
<text x="1791.65" y="2708.7" font-size="20" text-anchor="middle">*</text>
<text x="1791.65" y="2745.4" font-size="27.2" text-anchor="middle">p.adjust = 0.038</text>
<text x="1666.1" y="2650.1" font-size="23.3">Score</text>
<line x1="1755.6" y1="2628.4" x2="1755.6" y2="2655.2" stroke="#000" stroke-width="1.5"/>
<rect x="1742.9" y="2633.7" width="25.4" height="16.8" fill="#00afbb" stroke="#000" stroke-width="1.5"/>
<line x1="1742.9" y1="2642" x2="1768.3" y2="2642" stroke="#000" stroke-width="1.9"/>
<text x="1785.6" y="2648.4" font-size="19.3">Low</text>
<line x1="1849" y1="2628.4" x2="1849" y2="2655.2" stroke="#000" stroke-width="1.5"/>
<rect x="1836.3" y="2633.7" width="25.4" height="16.8" fill="#e7b800" stroke="#000" stroke-width="1.5"/>
<line x1="1836.3" y1="2642" x2="1861.7" y2="2642" stroke="#000" stroke-width="1.9"/>
<text x="1878.8" y="2648.4" font-size="19.3">High</text>
</g>
</svg>
</body></html>
